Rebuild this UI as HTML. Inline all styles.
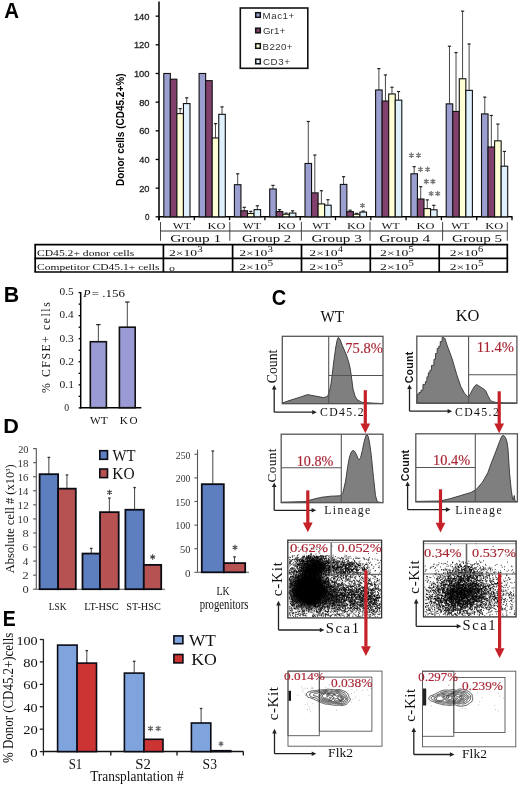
<!DOCTYPE html>
<html><head><meta charset="utf-8"><style>
html,body{margin:0;padding:0;background:#fff;}
svg{display:block;}
#w{will-change:transform;width:520px;height:788px;}
</style></head><body><div id="w">
<svg width="520" height="788" viewBox="0 0 520 788">
<defs><filter id="blur3" x="-50%" y="-50%" width="200%" height="200%"><feGaussianBlur stdDeviation="3"/></filter><clipPath id="clipwt"><rect x="288.4" y="540.8" width="92.6" height="76.5"/></clipPath><clipPath id="clipko"><rect x="424.1" y="541.7" width="91.4" height="74.6"/></clipPath></defs>
<rect width="520" height="788" fill="#fff"/>
<text x="4.29" y="17.9" font-size="21.3" font-family='"Liberation Sans", sans-serif' textLength="14.77" lengthAdjust="spacingAndGlyphs" font-weight="bold">A</text>
<line x1="159" y1="1.5" x2="159" y2="220.2" stroke="#000" stroke-width="1.5"/>
<line x1="155.6" y1="216.8" x2="159" y2="216.8" stroke="#000" stroke-width="1.3"/>
<text x="144.98" y="220.3" font-size="9.71" font-family='"Liberation Sans", sans-serif' textLength="4.45" lengthAdjust="spacingAndGlyphs" fill="#222" stroke="#222" stroke-width="0.3">0</text>
<line x1="155.6" y1="188.14" x2="159" y2="188.14" stroke="#000" stroke-width="1.3"/>
<text x="139.13" y="191.64" font-size="9.71" font-family='"Liberation Sans", sans-serif' textLength="10.36" lengthAdjust="spacingAndGlyphs" fill="#222" stroke="#222" stroke-width="0.3">20</text>
<line x1="155.6" y1="159.47" x2="159" y2="159.47" stroke="#000" stroke-width="1.3"/>
<text x="139.37" y="162.97" font-size="9.71" font-family='"Liberation Sans", sans-serif' textLength="10.11" lengthAdjust="spacingAndGlyphs" fill="#222" stroke="#222" stroke-width="0.3">40</text>
<line x1="155.6" y1="130.81" x2="159" y2="130.81" stroke="#000" stroke-width="1.3"/>
<text x="139.13" y="134.31" font-size="9.71" font-family='"Liberation Sans", sans-serif' textLength="10.36" lengthAdjust="spacingAndGlyphs" fill="#222" stroke="#222" stroke-width="0.3">60</text>
<line x1="155.6" y1="102.14" x2="159" y2="102.14" stroke="#000" stroke-width="1.3"/>
<text x="139.18" y="105.64" font-size="9.71" font-family='"Liberation Sans", sans-serif' textLength="10.31" lengthAdjust="spacingAndGlyphs" fill="#222" stroke="#222" stroke-width="0.3">80</text>
<line x1="155.6" y1="73.48" x2="159" y2="73.48" stroke="#000" stroke-width="1.3"/>
<text x="133.9" y="76.98" font-size="9.71" font-family='"Liberation Sans", sans-serif' textLength="15.61" lengthAdjust="spacingAndGlyphs" fill="#222" stroke="#222" stroke-width="0.3">100</text>
<line x1="155.6" y1="44.82" x2="159" y2="44.82" stroke="#000" stroke-width="1.3"/>
<text x="133.9" y="48.32" font-size="9.71" font-family='"Liberation Sans", sans-serif' textLength="15.61" lengthAdjust="spacingAndGlyphs" fill="#222" stroke="#222" stroke-width="0.3">120</text>
<line x1="155.6" y1="16.15" x2="159" y2="16.15" stroke="#000" stroke-width="1.3"/>
<text x="133.9" y="19.65" font-size="9.71" font-family='"Liberation Sans", sans-serif' textLength="15.61" lengthAdjust="spacingAndGlyphs" fill="#222" stroke="#222" stroke-width="0.3">140</text>
<line x1="159" y1="216.8" x2="512.5" y2="216.8" stroke="#000" stroke-width="1.5"/>
<line x1="159" y1="216.8" x2="159" y2="220.2" stroke="#000" stroke-width="1.3"/>
<line x1="194.3" y1="216.8" x2="194.3" y2="220.2" stroke="#000" stroke-width="1.3"/>
<line x1="229.6" y1="216.8" x2="229.6" y2="220.2" stroke="#000" stroke-width="1.3"/>
<line x1="264.9" y1="216.8" x2="264.9" y2="220.2" stroke="#000" stroke-width="1.3"/>
<line x1="300.2" y1="216.8" x2="300.2" y2="220.2" stroke="#000" stroke-width="1.3"/>
<line x1="335.5" y1="216.8" x2="335.5" y2="220.2" stroke="#000" stroke-width="1.3"/>
<line x1="370.8" y1="216.8" x2="370.8" y2="220.2" stroke="#000" stroke-width="1.3"/>
<line x1="406.1" y1="216.8" x2="406.1" y2="220.2" stroke="#000" stroke-width="1.3"/>
<line x1="441.4" y1="216.8" x2="441.4" y2="220.2" stroke="#000" stroke-width="1.3"/>
<line x1="476.7" y1="216.8" x2="476.7" y2="220.2" stroke="#000" stroke-width="1.3"/>
<line x1="512" y1="216.8" x2="512" y2="220.2" stroke="#000" stroke-width="1.3"/>
<rect x="163.8" y="73.48" width="6.55" height="143.32" fill="#9a9fcf" stroke="#111" stroke-width="1.1"/>
<rect x="170.35" y="79.21" width="6.55" height="137.59" fill="#82406c" stroke="#111" stroke-width="1.1"/>
<line x1="180.18" y1="113.61" x2="180.18" y2="108.59" stroke="#333" stroke-width="0.9"/>
<line x1="178.58" y1="108.59" x2="181.78" y2="108.59" stroke="#222" stroke-width="1.2"/>
<rect x="176.9" y="113.61" width="6.55" height="103.19" fill="#ffffd6" stroke="#111" stroke-width="1.1"/>
<line x1="186.73" y1="103.58" x2="186.73" y2="97.84" stroke="#333" stroke-width="0.9"/>
<line x1="185.13" y1="97.84" x2="188.33" y2="97.84" stroke="#222" stroke-width="1.2"/>
<rect x="183.45" y="103.58" width="6.55" height="113.22" fill="#def0fc" stroke="#111" stroke-width="1.1"/>
<rect x="199.1" y="73.48" width="6.55" height="143.32" fill="#9a9fcf" stroke="#111" stroke-width="1.1"/>
<rect x="205.65" y="80.65" width="6.55" height="136.15" fill="#82406c" stroke="#111" stroke-width="1.1"/>
<line x1="215.48" y1="137.97" x2="215.48" y2="123.64" stroke="#333" stroke-width="0.9"/>
<line x1="213.88" y1="123.64" x2="217.08" y2="123.64" stroke="#222" stroke-width="1.2"/>
<rect x="212.2" y="137.97" width="6.55" height="78.83" fill="#ffffd6" stroke="#111" stroke-width="1.1"/>
<line x1="222.03" y1="114.33" x2="222.03" y2="106.87" stroke="#333" stroke-width="0.9"/>
<line x1="220.43" y1="106.87" x2="223.63" y2="106.87" stroke="#222" stroke-width="1.2"/>
<rect x="218.75" y="114.33" width="6.55" height="102.47" fill="#def0fc" stroke="#111" stroke-width="1.1"/>
<line x1="237.68" y1="184.7" x2="237.68" y2="173.8" stroke="#333" stroke-width="0.9"/>
<line x1="236.08" y1="173.8" x2="239.28" y2="173.8" stroke="#222" stroke-width="1.2"/>
<rect x="234.4" y="184.7" width="6.55" height="32.1" fill="#9a9fcf" stroke="#111" stroke-width="1.1"/>
<line x1="244.23" y1="210.78" x2="244.23" y2="207.34" stroke="#333" stroke-width="0.9"/>
<line x1="242.63" y1="207.34" x2="245.83" y2="207.34" stroke="#222" stroke-width="1.2"/>
<rect x="240.95" y="210.78" width="6.55" height="6.02" fill="#82406c" stroke="#111" stroke-width="1.1"/>
<line x1="250.78" y1="213.5" x2="250.78" y2="211.35" stroke="#333" stroke-width="0.9"/>
<line x1="249.18" y1="211.35" x2="252.38" y2="211.35" stroke="#222" stroke-width="1.2"/>
<rect x="247.5" y="213.5" width="6.55" height="3.3" fill="#ffffd6" stroke="#111" stroke-width="1.1"/>
<line x1="257.32" y1="209.63" x2="257.32" y2="205.76" stroke="#333" stroke-width="0.9"/>
<line x1="255.72" y1="205.76" x2="258.93" y2="205.76" stroke="#222" stroke-width="1.2"/>
<rect x="254.05" y="209.63" width="6.55" height="7.17" fill="#def0fc" stroke="#111" stroke-width="1.1"/>
<line x1="272.97" y1="189" x2="272.97" y2="185.41" stroke="#333" stroke-width="0.9"/>
<line x1="271.37" y1="185.41" x2="274.57" y2="185.41" stroke="#222" stroke-width="1.2"/>
<rect x="269.7" y="189" width="6.55" height="27.8" fill="#9a9fcf" stroke="#111" stroke-width="1.1"/>
<line x1="279.52" y1="211.5" x2="279.52" y2="209.63" stroke="#333" stroke-width="0.9"/>
<line x1="277.92" y1="209.63" x2="281.12" y2="209.63" stroke="#222" stroke-width="1.2"/>
<rect x="276.25" y="211.5" width="6.55" height="5.3" fill="#82406c" stroke="#111" stroke-width="1.1"/>
<line x1="286.07" y1="214.22" x2="286.07" y2="213.07" stroke="#333" stroke-width="0.9"/>
<line x1="284.47" y1="213.07" x2="287.68" y2="213.07" stroke="#222" stroke-width="1.2"/>
<rect x="282.8" y="214.22" width="6.55" height="2.58" fill="#ffffd6" stroke="#111" stroke-width="1.1"/>
<line x1="292.62" y1="213.07" x2="292.62" y2="210.78" stroke="#333" stroke-width="0.9"/>
<line x1="291.02" y1="210.78" x2="294.22" y2="210.78" stroke="#222" stroke-width="1.2"/>
<rect x="289.35" y="213.07" width="6.55" height="3.73" fill="#def0fc" stroke="#111" stroke-width="1.1"/>
<line x1="308.27" y1="163.48" x2="308.27" y2="121.49" stroke="#333" stroke-width="0.9"/>
<line x1="306.67" y1="121.49" x2="309.88" y2="121.49" stroke="#222" stroke-width="1.2"/>
<rect x="305" y="163.48" width="6.55" height="53.32" fill="#9a9fcf" stroke="#111" stroke-width="1.1"/>
<line x1="314.82" y1="192.87" x2="314.82" y2="155.03" stroke="#333" stroke-width="0.9"/>
<line x1="313.22" y1="155.03" x2="316.43" y2="155.03" stroke="#222" stroke-width="1.2"/>
<rect x="311.55" y="192.87" width="6.55" height="23.93" fill="#82406c" stroke="#111" stroke-width="1.1"/>
<line x1="321.38" y1="203.9" x2="321.38" y2="190.72" stroke="#333" stroke-width="0.9"/>
<line x1="319.77" y1="190.72" x2="322.98" y2="190.72" stroke="#222" stroke-width="1.2"/>
<rect x="318.1" y="203.9" width="6.55" height="12.9" fill="#ffffd6" stroke="#111" stroke-width="1.1"/>
<line x1="327.92" y1="205.19" x2="327.92" y2="199.74" stroke="#333" stroke-width="0.9"/>
<line x1="326.32" y1="199.74" x2="329.52" y2="199.74" stroke="#222" stroke-width="1.2"/>
<rect x="324.65" y="205.19" width="6.55" height="11.61" fill="#def0fc" stroke="#111" stroke-width="1.1"/>
<line x1="343.57" y1="184.41" x2="343.57" y2="176.67" stroke="#333" stroke-width="0.9"/>
<line x1="341.97" y1="176.67" x2="345.18" y2="176.67" stroke="#222" stroke-width="1.2"/>
<rect x="340.3" y="184.41" width="6.55" height="32.39" fill="#9a9fcf" stroke="#111" stroke-width="1.1"/>
<line x1="350.12" y1="211.64" x2="350.12" y2="210.21" stroke="#333" stroke-width="0.9"/>
<line x1="348.52" y1="210.21" x2="351.73" y2="210.21" stroke="#222" stroke-width="1.2"/>
<rect x="346.85" y="211.64" width="6.55" height="5.16" fill="#82406c" stroke="#111" stroke-width="1.1"/>
<line x1="356.68" y1="214.22" x2="356.68" y2="213.36" stroke="#333" stroke-width="0.9"/>
<line x1="355.07" y1="213.36" x2="358.28" y2="213.36" stroke="#222" stroke-width="1.2"/>
<rect x="353.4" y="214.22" width="6.55" height="2.58" fill="#ffffd6" stroke="#111" stroke-width="1.1"/>
<line x1="363.22" y1="212.07" x2="363.22" y2="211.07" stroke="#333" stroke-width="0.9"/>
<line x1="361.62" y1="211.07" x2="364.82" y2="211.07" stroke="#222" stroke-width="1.2"/>
<rect x="359.95" y="212.07" width="6.55" height="4.73" fill="#def0fc" stroke="#111" stroke-width="1.1"/>
<line x1="378.88" y1="89.96" x2="378.88" y2="68.61" stroke="#333" stroke-width="0.9"/>
<line x1="377.27" y1="68.61" x2="380.48" y2="68.61" stroke="#222" stroke-width="1.2"/>
<rect x="375.6" y="89.96" width="6.55" height="126.84" fill="#9a9fcf" stroke="#111" stroke-width="1.1"/>
<line x1="385.43" y1="101" x2="385.43" y2="74.91" stroke="#333" stroke-width="0.9"/>
<line x1="383.82" y1="74.91" x2="387.03" y2="74.91" stroke="#222" stroke-width="1.2"/>
<rect x="382.15" y="101" width="6.55" height="115.8" fill="#82406c" stroke="#111" stroke-width="1.1"/>
<line x1="391.98" y1="93.97" x2="391.98" y2="87.24" stroke="#333" stroke-width="0.9"/>
<line x1="390.38" y1="87.24" x2="393.58" y2="87.24" stroke="#222" stroke-width="1.2"/>
<rect x="388.7" y="93.97" width="6.55" height="122.83" fill="#ffffd6" stroke="#111" stroke-width="1.1"/>
<line x1="398.52" y1="100.14" x2="398.52" y2="91.54" stroke="#333" stroke-width="0.9"/>
<line x1="396.92" y1="91.54" x2="400.12" y2="91.54" stroke="#222" stroke-width="1.2"/>
<rect x="395.25" y="100.14" width="6.55" height="116.66" fill="#def0fc" stroke="#111" stroke-width="1.1"/>
<line x1="414.17" y1="173.8" x2="414.17" y2="166.64" stroke="#333" stroke-width="0.9"/>
<line x1="412.57" y1="166.64" x2="415.77" y2="166.64" stroke="#222" stroke-width="1.2"/>
<rect x="410.9" y="173.8" width="6.55" height="43" fill="#9a9fcf" stroke="#111" stroke-width="1.1"/>
<line x1="420.72" y1="199.03" x2="420.72" y2="186.7" stroke="#333" stroke-width="0.9"/>
<line x1="419.12" y1="186.7" x2="422.32" y2="186.7" stroke="#222" stroke-width="1.2"/>
<rect x="417.45" y="199.03" width="6.55" height="17.77" fill="#82406c" stroke="#111" stroke-width="1.1"/>
<line x1="427.27" y1="208.63" x2="427.27" y2="199.89" stroke="#333" stroke-width="0.9"/>
<line x1="425.67" y1="199.89" x2="428.88" y2="199.89" stroke="#222" stroke-width="1.2"/>
<rect x="424" y="208.63" width="6.55" height="8.17" fill="#ffffd6" stroke="#111" stroke-width="1.1"/>
<line x1="433.82" y1="209.78" x2="433.82" y2="205.33" stroke="#333" stroke-width="0.9"/>
<line x1="432.22" y1="205.33" x2="435.42" y2="205.33" stroke="#222" stroke-width="1.2"/>
<rect x="430.55" y="209.78" width="6.55" height="7.02" fill="#def0fc" stroke="#111" stroke-width="1.1"/>
<line x1="449.47" y1="103.86" x2="449.47" y2="46.25" stroke="#333" stroke-width="0.9"/>
<line x1="447.87" y1="46.25" x2="451.07" y2="46.25" stroke="#222" stroke-width="1.2"/>
<rect x="446.2" y="103.86" width="6.55" height="112.94" fill="#9a9fcf" stroke="#111" stroke-width="1.1"/>
<line x1="456.02" y1="111.46" x2="456.02" y2="52.56" stroke="#333" stroke-width="0.9"/>
<line x1="454.42" y1="52.56" x2="457.62" y2="52.56" stroke="#222" stroke-width="1.2"/>
<rect x="452.75" y="111.46" width="6.55" height="105.34" fill="#82406c" stroke="#111" stroke-width="1.1"/>
<line x1="462.57" y1="78.78" x2="462.57" y2="11.14" stroke="#333" stroke-width="0.9"/>
<line x1="460.97" y1="11.14" x2="464.18" y2="11.14" stroke="#222" stroke-width="1.2"/>
<rect x="459.3" y="78.78" width="6.55" height="138.02" fill="#ffffd6" stroke="#111" stroke-width="1.1"/>
<line x1="469.12" y1="90.39" x2="469.12" y2="43.96" stroke="#333" stroke-width="0.9"/>
<line x1="467.52" y1="43.96" x2="470.72" y2="43.96" stroke="#222" stroke-width="1.2"/>
<rect x="465.85" y="90.39" width="6.55" height="126.41" fill="#def0fc" stroke="#111" stroke-width="1.1"/>
<line x1="484.77" y1="113.9" x2="484.77" y2="97.13" stroke="#333" stroke-width="0.9"/>
<line x1="483.17" y1="97.13" x2="486.38" y2="97.13" stroke="#222" stroke-width="1.2"/>
<rect x="481.5" y="113.9" width="6.55" height="102.9" fill="#9a9fcf" stroke="#111" stroke-width="1.1"/>
<line x1="491.32" y1="147" x2="491.32" y2="115.47" stroke="#333" stroke-width="0.9"/>
<line x1="489.72" y1="115.47" x2="492.93" y2="115.47" stroke="#222" stroke-width="1.2"/>
<rect x="488.05" y="147" width="6.55" height="69.8" fill="#82406c" stroke="#111" stroke-width="1.1"/>
<line x1="497.88" y1="140.84" x2="497.88" y2="124.07" stroke="#333" stroke-width="0.9"/>
<line x1="496.27" y1="124.07" x2="499.48" y2="124.07" stroke="#222" stroke-width="1.2"/>
<rect x="494.6" y="140.84" width="6.55" height="75.96" fill="#ffffd6" stroke="#111" stroke-width="1.1"/>
<line x1="504.42" y1="166.21" x2="504.42" y2="151.45" stroke="#333" stroke-width="0.9"/>
<line x1="502.82" y1="151.45" x2="506.02" y2="151.45" stroke="#222" stroke-width="1.2"/>
<rect x="501.15" y="166.21" width="6.55" height="50.59" fill="#def0fc" stroke="#111" stroke-width="1.1"/>
<path d="M362.5 202.9L362.5 208.1M360.25 204.2L364.75 206.8M364.75 204.2L360.25 206.8" stroke="#777" stroke-width="1.25" fill="none"/>
<path d="M411.4 152.6L411.4 158M409.06 153.95L413.74 156.65M413.74 153.95L409.06 156.65" stroke="#777" stroke-width="1.25" fill="none"/>
<path d="M418.5 152.6L418.5 158M416.16 153.95L420.84 156.65M420.84 153.95L416.16 156.65" stroke="#777" stroke-width="1.25" fill="none"/>
<path d="M420.5 166.6L420.5 172M418.16 167.95L422.84 170.65M422.84 167.95L418.16 170.65" stroke="#777" stroke-width="1.25" fill="none"/>
<path d="M427.6 166.6L427.6 172M425.26 167.95L429.94 170.65M429.94 167.95L425.26 170.65" stroke="#777" stroke-width="1.25" fill="none"/>
<path d="M426.3 178.8L426.3 184.2M423.96 180.15L428.64 182.85M428.64 180.15L423.96 182.85" stroke="#777" stroke-width="1.25" fill="none"/>
<path d="M432.9 178.8L432.9 184.2M430.56 180.15L435.24 182.85M435.24 180.15L430.56 182.85" stroke="#777" stroke-width="1.25" fill="none"/>
<path d="M431.1 190.9L431.1 196.3M428.76 192.25L433.44 194.95M433.44 192.25L428.76 194.95" stroke="#777" stroke-width="1.25" fill="none"/>
<path d="M437.7 190.9L437.7 196.3M435.36 192.25L440.04 194.95M440.04 192.25L435.36 194.95" stroke="#777" stroke-width="1.25" fill="none"/>
<rect x="240.3" y="8" width="67.5" height="60.3" fill="#fff" stroke="#111" stroke-width="1.6"/>
<rect x="255.7" y="12.7" width="4.6" height="4.6" fill="#9a9fcf" stroke="#111" stroke-width="1.5"/>
<text x="262.62" y="18.9" font-size="9.71" font-family='"Liberation Sans", sans-serif' textLength="31.47" lengthAdjust="spacing" fill="#333">Mac1+</text>
<rect x="255.7" y="28.2" width="4.6" height="4.6" fill="#82406c" stroke="#111" stroke-width="1.5"/>
<text x="262.91" y="34.4" font-size="9.71" font-family='"Liberation Sans", sans-serif' textLength="22.29" lengthAdjust="spacing" fill="#333">Gr1+</text>
<rect x="255.7" y="43.7" width="4.6" height="4.6" fill="#ffffd6" stroke="#111" stroke-width="1.5"/>
<text x="262.62" y="49.9" font-size="9.71" font-family='"Liberation Sans", sans-serif' textLength="29.86" lengthAdjust="spacing" fill="#333">B220+</text>
<rect x="255.7" y="59.2" width="4.6" height="4.6" fill="#def0fc" stroke="#111" stroke-width="1.5"/>
<text x="262.91" y="65.4" font-size="9.71" font-family='"Liberation Sans", sans-serif' textLength="26.92" lengthAdjust="spacing" fill="#333">CD3+</text>
<text x="124.1" y="186.05" font-size="10.76" font-family='"Liberation Sans", sans-serif' textLength="112.54" lengthAdjust="spacingAndGlyphs" font-weight="bold" transform="rotate(-90 124.1 186.05)">Donor cells (CD45.2+%)</text>
<line x1="160.5" y1="222" x2="160.5" y2="240.8" stroke="#333" stroke-width="0.9"/>
<line x1="229.8" y1="222" x2="229.8" y2="240.8" stroke="#333" stroke-width="0.9"/>
<line x1="301.4" y1="222" x2="301.4" y2="240.8" stroke="#333" stroke-width="0.9"/>
<line x1="370" y1="222" x2="370" y2="240.8" stroke="#333" stroke-width="0.9"/>
<line x1="442.6" y1="222" x2="442.6" y2="240.8" stroke="#333" stroke-width="0.9"/>
<line x1="507.3" y1="222" x2="507.3" y2="240.8" stroke="#333" stroke-width="0.9"/>
<line x1="160.5" y1="231" x2="507.3" y2="231" stroke="#333" stroke-width="1.0"/>
<text x="172.7" y="228.8" font-size="8.09" font-family='"Liberation Serif", serif' textLength="18.17" lengthAdjust="spacingAndGlyphs" fill="#111">WT</text>
<text x="207.63" y="228.8" font-size="8.03" font-family='"Liberation Serif", serif' textLength="17.92" lengthAdjust="spacingAndGlyphs" fill="#111">KO</text>
<text x="170.38" y="241.5" font-size="11.06" font-family='"Liberation Serif", serif' textLength="50.94" lengthAdjust="spacingAndGlyphs" fill="#111">Group 1</text>
<text x="242.7" y="228.8" font-size="8.09" font-family='"Liberation Serif", serif' textLength="18.17" lengthAdjust="spacingAndGlyphs" fill="#111">WT</text>
<text x="277.63" y="228.8" font-size="8.03" font-family='"Liberation Serif", serif' textLength="17.92" lengthAdjust="spacingAndGlyphs" fill="#111">KO</text>
<text x="242.11" y="241.5" font-size="11.06" font-family='"Liberation Serif", serif' textLength="49.12" lengthAdjust="spacingAndGlyphs" fill="#111">Group 2</text>
<text x="312.2" y="228.8" font-size="8.09" font-family='"Liberation Serif", serif' textLength="18.17" lengthAdjust="spacingAndGlyphs" fill="#111">WT</text>
<text x="347.13" y="228.8" font-size="8.03" font-family='"Liberation Serif", serif' textLength="17.92" lengthAdjust="spacingAndGlyphs" fill="#111">KO</text>
<text x="311.59" y="241.5" font-size="11.06" font-family='"Liberation Serif", serif' textLength="50.22" lengthAdjust="spacingAndGlyphs" fill="#111">Group 3</text>
<text x="381.5" y="228.8" font-size="8.09" font-family='"Liberation Serif", serif' textLength="18.17" lengthAdjust="spacingAndGlyphs" fill="#111">WT</text>
<text x="416.43" y="228.8" font-size="8.03" font-family='"Liberation Serif", serif' textLength="17.92" lengthAdjust="spacingAndGlyphs" fill="#111">KO</text>
<text x="379.28" y="241.5" font-size="11.06" font-family='"Liberation Serif", serif' textLength="50.85" lengthAdjust="spacingAndGlyphs" fill="#111">Group 4</text>
<text x="451.2" y="228.8" font-size="8.09" font-family='"Liberation Serif", serif' textLength="18.17" lengthAdjust="spacingAndGlyphs" fill="#111">WT</text>
<text x="485.33" y="228.8" font-size="8.03" font-family='"Liberation Serif", serif' textLength="17.92" lengthAdjust="spacingAndGlyphs" fill="#111">KO</text>
<text x="451.99" y="241.5" font-size="11.06" font-family='"Liberation Serif", serif' textLength="50.12" lengthAdjust="spacingAndGlyphs" fill="#111">Group 5</text>
<line x1="35.2" y1="244.6" x2="35.2" y2="272" stroke="#000" stroke-width="1.7"/>
<line x1="163.4" y1="244.6" x2="163.4" y2="272" stroke="#000" stroke-width="1.7"/>
<line x1="232.6" y1="244.6" x2="232.6" y2="272" stroke="#000" stroke-width="1.7"/>
<line x1="301.5" y1="244.6" x2="301.5" y2="272" stroke="#000" stroke-width="1.7"/>
<line x1="370.3" y1="244.6" x2="370.3" y2="272" stroke="#000" stroke-width="1.7"/>
<line x1="439.2" y1="244.6" x2="439.2" y2="272" stroke="#000" stroke-width="1.7"/>
<line x1="507.3" y1="244.6" x2="507.3" y2="272" stroke="#000" stroke-width="1.7"/>
<line x1="34.35" y1="244.6" x2="508.15" y2="244.6" stroke="#000" stroke-width="1.7"/>
<line x1="34.35" y1="258.3" x2="508.15" y2="258.3" stroke="#000" stroke-width="1.7"/>
<line x1="34.35" y1="272" x2="508.15" y2="272" stroke="#000" stroke-width="1.7"/>
<text x="36.94" y="255.7" font-size="8.2" font-family='"Liberation Serif", serif' textLength="97.26" lengthAdjust="spacingAndGlyphs" fill="#111">CD45.2+ donor cells</text>
<text x="36.94" y="270" font-size="8.35" font-family='"Liberation Serif", serif' textLength="122.48" lengthAdjust="spacingAndGlyphs" fill="#111">Competitor CD45.1+ cells</text>
<text x="168.99" y="256.2" font-size="8.42" font-family='"Liberation Serif", serif' textLength="28.15" lengthAdjust="spacingAndGlyphs" fill="#111">2×10</text>
<text x="197.35" y="251.7" font-size="8.03" font-family='"Liberation Serif", serif' textLength="5.49" lengthAdjust="spacingAndGlyphs" fill="#111">3</text>
<text x="169.12" y="270.8" font-size="8.94" font-family='"Liberation Serif", serif' textLength="5.95" lengthAdjust="spacingAndGlyphs" fill="#111">o</text>
<text x="239.19" y="256.2" font-size="8.42" font-family='"Liberation Serif", serif' textLength="28.15" lengthAdjust="spacingAndGlyphs" fill="#111">2×10</text>
<text x="267.55" y="251.7" font-size="8.03" font-family='"Liberation Serif", serif' textLength="5.49" lengthAdjust="spacingAndGlyphs" fill="#111">3</text>
<text x="239.19" y="270.3" font-size="8.72" font-family='"Liberation Serif", serif' textLength="28.15" lengthAdjust="spacingAndGlyphs" fill="#111">2×10</text>
<text x="267.42" y="265.9" font-size="8.24" font-family='"Liberation Serif", serif' textLength="5.63" lengthAdjust="spacingAndGlyphs" fill="#111">5</text>
<text x="309.39" y="256.2" font-size="8.42" font-family='"Liberation Serif", serif' textLength="28.15" lengthAdjust="spacingAndGlyphs" fill="#111">2×10</text>
<text x="338.11" y="251.7" font-size="8.03" font-family='"Liberation Serif", serif' textLength="4.84" lengthAdjust="spacingAndGlyphs" fill="#111">4</text>
<text x="309.39" y="270.3" font-size="8.72" font-family='"Liberation Serif", serif' textLength="28.15" lengthAdjust="spacingAndGlyphs" fill="#111">2×10</text>
<text x="337.62" y="265.9" font-size="8.24" font-family='"Liberation Serif", serif' textLength="5.63" lengthAdjust="spacingAndGlyphs" fill="#111">5</text>
<text x="380.09" y="256.2" font-size="8.42" font-family='"Liberation Serif", serif' textLength="28.15" lengthAdjust="spacingAndGlyphs" fill="#111">2×10</text>
<text x="408.32" y="251.7" font-size="8.09" font-family='"Liberation Serif", serif' textLength="5.62" lengthAdjust="spacingAndGlyphs" fill="#111">5</text>
<text x="380.09" y="270.3" font-size="8.72" font-family='"Liberation Serif", serif' textLength="28.15" lengthAdjust="spacingAndGlyphs" fill="#111">2×10</text>
<text x="408.32" y="265.9" font-size="8.24" font-family='"Liberation Serif", serif' textLength="5.63" lengthAdjust="spacingAndGlyphs" fill="#111">5</text>
<text x="449.69" y="256.2" font-size="8.42" font-family='"Liberation Serif", serif' textLength="28.15" lengthAdjust="spacingAndGlyphs" fill="#111">2×10</text>
<text x="478.12" y="251.7" font-size="8.03" font-family='"Liberation Serif", serif' textLength="5.29" lengthAdjust="spacingAndGlyphs" fill="#111">6</text>
<text x="449.69" y="270.3" font-size="8.72" font-family='"Liberation Serif", serif' textLength="28.15" lengthAdjust="spacingAndGlyphs" fill="#111">2×10</text>
<text x="477.92" y="265.9" font-size="8.24" font-family='"Liberation Serif", serif' textLength="5.63" lengthAdjust="spacingAndGlyphs" fill="#111">5</text>
<text x="3.81" y="301.7" font-size="21.45" font-family='"Liberation Sans", sans-serif' textLength="15.39" lengthAdjust="spacingAndGlyphs" font-weight="bold">B</text>
<line x1="80.7" y1="292" x2="80.7" y2="408.4" stroke="#000" stroke-width="1.5"/>
<line x1="78.6" y1="407.9" x2="80.7" y2="407.9" stroke="#000" stroke-width="1.3"/>
<line x1="78.6" y1="396.37" x2="80.7" y2="396.37" stroke="#000" stroke-width="1.3"/>
<line x1="78.6" y1="384.84" x2="80.7" y2="384.84" stroke="#000" stroke-width="1.3"/>
<line x1="78.6" y1="373.31" x2="80.7" y2="373.31" stroke="#000" stroke-width="1.3"/>
<line x1="78.6" y1="361.78" x2="80.7" y2="361.78" stroke="#000" stroke-width="1.3"/>
<line x1="78.6" y1="350.25" x2="80.7" y2="350.25" stroke="#000" stroke-width="1.3"/>
<line x1="78.6" y1="338.72" x2="80.7" y2="338.72" stroke="#000" stroke-width="1.3"/>
<line x1="78.6" y1="327.19" x2="80.7" y2="327.19" stroke="#000" stroke-width="1.3"/>
<line x1="78.6" y1="315.66" x2="80.7" y2="315.66" stroke="#000" stroke-width="1.3"/>
<line x1="78.6" y1="304.13" x2="80.7" y2="304.13" stroke="#000" stroke-width="1.3"/>
<line x1="78.6" y1="292.6" x2="80.7" y2="292.6" stroke="#000" stroke-width="1.3"/>
<text x="59.55" y="295.4" font-size="10.38" font-family='"Liberation Serif", serif' textLength="14.21" lengthAdjust="spacingAndGlyphs" fill="#222">0.5</text>
<text x="59.55" y="318.46" font-size="10.38" font-family='"Liberation Serif", serif' textLength="13.91" lengthAdjust="spacingAndGlyphs" fill="#222">0.4</text>
<text x="59.55" y="341.52" font-size="10.38" font-family='"Liberation Serif", serif' textLength="14.21" lengthAdjust="spacingAndGlyphs" fill="#222">0.3</text>
<text x="59.54" y="364.58" font-size="10.38" font-family='"Liberation Serif", serif' textLength="14.39" lengthAdjust="spacingAndGlyphs" fill="#222">0.2</text>
<text x="59.54" y="387.64" font-size="10.38" font-family='"Liberation Serif", serif' textLength="14.46" lengthAdjust="spacingAndGlyphs" fill="#222">0.1</text>
<text x="64.31" y="411" font-size="10.23" font-family='"Liberation Serif", serif' textLength="4.88" lengthAdjust="spacingAndGlyphs" fill="#222">0</text>
<line x1="80" y1="407.7" x2="141.3" y2="407.7" stroke="#000" stroke-width="1.6"/>
<line x1="98.35" y1="341.72" x2="98.35" y2="324.65" stroke="#333" stroke-width="0.9"/>
<line x1="96.15" y1="324.65" x2="100.55" y2="324.65" stroke="#222" stroke-width="1.2"/>
<rect x="90.3" y="341.72" width="16.1" height="65.98" fill="#9a9ad4" stroke="#111" stroke-width="1.6"/>
<line x1="127.3" y1="327.19" x2="127.3" y2="302.05" stroke="#333" stroke-width="0.9"/>
<line x1="125.1" y1="302.05" x2="129.5" y2="302.05" stroke="#222" stroke-width="1.2"/>
<rect x="119.4" y="327.19" width="15.8" height="80.51" fill="#9a9ad4" stroke="#111" stroke-width="1.6"/>
<text x="90" y="423.7" font-size="11.3" font-family='"Liberation Serif", serif' textLength="17.77" lengthAdjust="spacing" fill="#111">WT</text>
<text x="119.66" y="423.7" font-size="11.21" font-family='"Liberation Serif", serif' textLength="17.87" lengthAdjust="spacing" fill="#111">KO</text>
<text x="83.36" y="297" font-size="10.99" font-family='"Liberation Serif", serif' textLength="7.25" lengthAdjust="spacingAndGlyphs" fill="#111" font-style="italic">P</text>
<text x="91.85" y="297" font-size="10.91" font-family='"Liberation Serif", serif' textLength="33.12" lengthAdjust="spacingAndGlyphs" fill="#111">= .156</text>
<text x="49.6" y="392.91" font-size="11.8" font-family='"Liberation Serif", serif' textLength="90.64" lengthAdjust="spacing" fill="#111" transform="rotate(-90 49.6 392.91)">% CFSE+ cells</text>
<text x="3.19" y="433.1" font-size="20.87" font-family='"Liberation Sans", sans-serif' textLength="15.62" lengthAdjust="spacingAndGlyphs" font-weight="bold">D</text>
<line x1="36.3" y1="448.2" x2="36.3" y2="589.2" stroke="#555" stroke-width="1.1"/>
<line x1="33.1" y1="589.2" x2="36.3" y2="589.2" stroke="#555" stroke-width="1.1"/>
<text x="22.4" y="593.4" font-size="10.98" font-family='"Liberation Serif", serif' textLength="6.19" lengthAdjust="spacingAndGlyphs" fill="#333">0</text>
<line x1="33.1" y1="575.14" x2="36.3" y2="575.14" stroke="#555" stroke-width="1.1"/>
<text x="22.32" y="579.34" font-size="11.06" font-family='"Liberation Serif", serif' textLength="6.5" lengthAdjust="spacingAndGlyphs" fill="#333">2</text>
<line x1="33.1" y1="561.08" x2="36.3" y2="561.08" stroke="#555" stroke-width="1.1"/>
<text x="22.68" y="565.28" font-size="11.06" font-family='"Liberation Serif", serif' textLength="5.59" lengthAdjust="spacingAndGlyphs" fill="#333">4</text>
<line x1="33.1" y1="547.02" x2="36.3" y2="547.02" stroke="#555" stroke-width="1.1"/>
<text x="22.35" y="551.22" font-size="11.06" font-family='"Liberation Serif", serif' textLength="6.12" lengthAdjust="spacingAndGlyphs" fill="#333">6</text>
<line x1="33.1" y1="532.96" x2="36.3" y2="532.96" stroke="#555" stroke-width="1.1"/>
<text x="22.4" y="537.16" font-size="10.98" font-family='"Liberation Serif", serif' textLength="6.19" lengthAdjust="spacingAndGlyphs" fill="#333">8</text>
<line x1="33.1" y1="518.9" x2="36.3" y2="518.9" stroke="#555" stroke-width="1.1"/>
<text x="17.62" y="523.1" font-size="10.98" font-family='"Liberation Serif", serif' textLength="10.92" lengthAdjust="spacingAndGlyphs" fill="#333">10</text>
<line x1="33.1" y1="504.84" x2="36.3" y2="504.84" stroke="#555" stroke-width="1.1"/>
<text x="17.6" y="509.04" font-size="11.06" font-family='"Liberation Serif", serif' textLength="11.11" lengthAdjust="spacingAndGlyphs" fill="#333">12</text>
<line x1="33.1" y1="490.78" x2="36.3" y2="490.78" stroke="#555" stroke-width="1.1"/>
<text x="17.64" y="494.98" font-size="11.06" font-family='"Liberation Serif", serif' textLength="10.61" lengthAdjust="spacingAndGlyphs" fill="#333">14</text>
<line x1="33.1" y1="476.72" x2="36.3" y2="476.72" stroke="#555" stroke-width="1.1"/>
<text x="17.63" y="480.92" font-size="11.06" font-family='"Liberation Serif", serif' textLength="10.8" lengthAdjust="spacingAndGlyphs" fill="#333">16</text>
<line x1="33.1" y1="462.66" x2="36.3" y2="462.66" stroke="#555" stroke-width="1.1"/>
<text x="17.62" y="466.86" font-size="10.98" font-family='"Liberation Serif", serif' textLength="10.92" lengthAdjust="spacingAndGlyphs" fill="#333">18</text>
<line x1="33.1" y1="448.6" x2="36.3" y2="448.6" stroke="#555" stroke-width="1.1"/>
<text x="18.13" y="452.8" font-size="10.98" font-family='"Liberation Serif", serif' textLength="10.38" lengthAdjust="spacingAndGlyphs" fill="#333">20</text>
<line x1="36.3" y1="589.2" x2="165" y2="589.2" stroke="#555" stroke-width="1.1"/>
<line x1="48.85" y1="474.19" x2="48.85" y2="457.39" stroke="#444" stroke-width="1.0"/>
<line x1="47.55" y1="457.39" x2="50.15" y2="457.39" stroke="#333" stroke-width="1.3"/>
<rect x="39.6" y="474.19" width="18.5" height="115.01" fill="#5d7fc0" stroke="#0b0b14" stroke-width="1.8"/>
<line x1="66.95" y1="488.67" x2="66.95" y2="474.96" stroke="#444" stroke-width="1.0"/>
<line x1="65.65" y1="474.96" x2="68.25" y2="474.96" stroke="#333" stroke-width="1.3"/>
<rect x="58.1" y="488.67" width="17.7" height="100.53" fill="#b65352" stroke="#0b0b14" stroke-width="1.8"/>
<line x1="91.25" y1="553.56" x2="91.25" y2="548.43" stroke="#444" stroke-width="1.0"/>
<line x1="89.95" y1="548.43" x2="92.55" y2="548.43" stroke="#333" stroke-width="1.3"/>
<rect x="82.5" y="553.56" width="17.5" height="35.64" fill="#5d7fc0" stroke="#0b0b14" stroke-width="1.8"/>
<line x1="109.35" y1="512.15" x2="109.35" y2="498.09" stroke="#444" stroke-width="1.0"/>
<line x1="108.05" y1="498.09" x2="110.65" y2="498.09" stroke="#333" stroke-width="1.3"/>
<rect x="100" y="512.15" width="18.7" height="77.05" fill="#b65352" stroke="#0b0b14" stroke-width="1.8"/>
<line x1="134.6" y1="509.76" x2="134.6" y2="487.55" stroke="#444" stroke-width="1.0"/>
<line x1="133.3" y1="487.55" x2="135.9" y2="487.55" stroke="#333" stroke-width="1.3"/>
<rect x="125.4" y="509.76" width="18.4" height="79.44" fill="#5d7fc0" stroke="#0b0b14" stroke-width="1.8"/>
<rect x="143.8" y="564.88" width="17.4" height="24.32" fill="#b65352" stroke="#0b0b14" stroke-width="1.8"/>
<path d="M109.5 489.8L109.5 495M107.25 491.1L111.75 493.7M111.75 491.1L107.25 493.7" stroke="#444" stroke-width="1.1" fill="none"/>
<path d="M152.7 554.3L152.7 559.7M150.36 555.65L155.04 558.35M155.04 555.65L150.36 558.35" stroke="#444" stroke-width="1.1" fill="none"/>
<rect x="99.8" y="450.7" width="7.7" height="8.6" fill="#5d7fc0" stroke="#0b0b14" stroke-width="1.6"/>
<rect x="99.8" y="469" width="7.7" height="8.6" fill="#b65352" stroke="#0b0b14" stroke-width="1.6"/>
<text x="112.6" y="461" font-size="16.18" font-family='"Liberation Serif", serif' textLength="23.02" lengthAdjust="spacingAndGlyphs" fill="#111">WT</text>
<text x="112.34" y="478.7" font-size="15.76" font-family='"Liberation Serif", serif' textLength="22.25" lengthAdjust="spacingAndGlyphs" fill="#111">KO</text>
<text x="48.82" y="609.9" font-size="10.91" font-family='"Liberation Serif", serif' textLength="17.71" lengthAdjust="spacingAndGlyphs" fill="#111">LSK</text>
<text x="84.19" y="609.9" font-size="10.91" font-family='"Liberation Serif", serif' textLength="34.5" lengthAdjust="spacingAndGlyphs" fill="#111">LT-HSC</text>
<text x="126.33" y="609.9" font-size="10.91" font-family='"Liberation Serif", serif' textLength="34.47" lengthAdjust="spacingAndGlyphs" fill="#111">ST-HSC</text>
<g transform="translate(13.6 573.1) rotate(-90) scale(1.048 1)"><text x="-0.12" y="0" font-size="11.9" font-family='"Liberation Serif", serif' fill="#111">Absolute cell # (x10<tspan font-size="6.5" dy="-4.1">3</tspan><tspan dy="4.1">)</tspan></text></g>
<line x1="197.5" y1="449.6" x2="197.5" y2="572.3" stroke="#555" stroke-width="1.1"/>
<line x1="194.4" y1="572.3" x2="197.5" y2="572.3" stroke="#555" stroke-width="1.1"/>
<text x="184.96" y="576.5" font-size="10.98" font-family='"Liberation Serif", serif' textLength="5.48" lengthAdjust="spacingAndGlyphs" fill="#333">0</text>
<line x1="194.4" y1="548.7" x2="197.5" y2="548.7" stroke="#555" stroke-width="1.1"/>
<text x="179.97" y="552.9" font-size="10.98" font-family='"Liberation Serif", serif' textLength="10.44" lengthAdjust="spacingAndGlyphs" fill="#333">50</text>
<line x1="194.4" y1="525.1" x2="197.5" y2="525.1" stroke="#555" stroke-width="1.1"/>
<text x="175.29" y="529.3" font-size="10.98" font-family='"Liberation Serif", serif' textLength="15.11" lengthAdjust="spacingAndGlyphs" fill="#333">100</text>
<line x1="194.4" y1="501.5" x2="197.5" y2="501.5" stroke="#555" stroke-width="1.1"/>
<text x="175.29" y="505.7" font-size="10.98" font-family='"Liberation Serif", serif' textLength="15.11" lengthAdjust="spacingAndGlyphs" fill="#333">150</text>
<line x1="194.4" y1="477.9" x2="197.5" y2="477.9" stroke="#555" stroke-width="1.1"/>
<text x="175.76" y="482.1" font-size="10.98" font-family='"Liberation Serif", serif' textLength="14.63" lengthAdjust="spacingAndGlyphs" fill="#333">200</text>
<line x1="194.4" y1="454.3" x2="197.5" y2="454.3" stroke="#555" stroke-width="1.1"/>
<text x="175.76" y="458.5" font-size="10.98" font-family='"Liberation Serif", serif' textLength="14.63" lengthAdjust="spacingAndGlyphs" fill="#333">250</text>
<line x1="197.5" y1="572.3" x2="249" y2="572.3" stroke="#555" stroke-width="1.1"/>
<line x1="212.8" y1="484.18" x2="212.8" y2="451" stroke="#444" stroke-width="1.0"/>
<line x1="211.5" y1="451" x2="214.1" y2="451" stroke="#333" stroke-width="1.3"/>
<rect x="201.8" y="484.18" width="22" height="88.12" fill="#5d7fc0" stroke="#0b0b14" stroke-width="1.8"/>
<line x1="234.5" y1="563.1" x2="234.5" y2="556.87" stroke="#444" stroke-width="1.0"/>
<line x1="233.2" y1="556.87" x2="235.8" y2="556.87" stroke="#333" stroke-width="1.3"/>
<rect x="223.8" y="563.1" width="21.4" height="9.2" fill="#b65352" stroke="#0b0b14" stroke-width="1.8"/>
<path d="M235 544.8L235 550.2M232.66 546.15L237.34 548.85M237.34 546.15L232.66 548.85" stroke="#444" stroke-width="1.1" fill="none"/>
<text x="216.6" y="595.3" font-size="13.28" font-family='"Liberation Serif", serif' textLength="13.12" lengthAdjust="spacingAndGlyphs" fill="#111">LK</text>
<text x="199.64" y="609.1" font-size="14.85" font-family='"Liberation Serif", serif' textLength="48.83" lengthAdjust="spacingAndGlyphs" fill="#111">progenitors</text>
<text x="2.73" y="626" font-size="21.3" font-family='"Liberation Sans", sans-serif' textLength="12.99" lengthAdjust="spacingAndGlyphs" font-weight="bold">E</text>
<line x1="43.4" y1="639.2" x2="43.4" y2="755.6" stroke="#222" stroke-width="1.3"/>
<line x1="39.8" y1="751.6" x2="43.4" y2="751.6" stroke="#222" stroke-width="1.3"/>
<text x="30.31" y="756.7" font-size="12.33" font-family='"Liberation Serif", serif' textLength="7.38" lengthAdjust="spacingAndGlyphs" fill="#111">0</text>
<line x1="39.8" y1="729.18" x2="43.4" y2="729.18" stroke="#222" stroke-width="1.3"/>
<text x="23.15" y="734.28" font-size="12.33" font-family='"Liberation Serif", serif' textLength="14.54" lengthAdjust="spacingAndGlyphs" fill="#111">20</text>
<line x1="39.8" y1="706.76" x2="43.4" y2="706.76" stroke="#222" stroke-width="1.3"/>
<text x="23.52" y="711.86" font-size="12.33" font-family='"Liberation Serif", serif' textLength="14.15" lengthAdjust="spacingAndGlyphs" fill="#111">40</text>
<line x1="39.8" y1="684.34" x2="43.4" y2="684.34" stroke="#222" stroke-width="1.3"/>
<text x="23.15" y="689.44" font-size="12.33" font-family='"Liberation Serif", serif' textLength="14.54" lengthAdjust="spacingAndGlyphs" fill="#111">60</text>
<line x1="39.8" y1="661.92" x2="43.4" y2="661.92" stroke="#222" stroke-width="1.3"/>
<text x="23.22" y="667.02" font-size="12.33" font-family='"Liberation Serif", serif' textLength="14.46" lengthAdjust="spacingAndGlyphs" fill="#111">80</text>
<line x1="39.8" y1="639.5" x2="43.4" y2="639.5" stroke="#222" stroke-width="1.3"/>
<text x="16.43" y="644.6" font-size="12.33" font-family='"Liberation Serif", serif' textLength="21.24" lengthAdjust="spacingAndGlyphs" fill="#111">100</text>
<line x1="43.4" y1="751.6" x2="243.5" y2="751.6" stroke="#111" stroke-width="1.5"/>
<line x1="110.8" y1="751.6" x2="110.8" y2="755.6" stroke="#111" stroke-width="1.3"/>
<line x1="177" y1="751.6" x2="177" y2="755.6" stroke="#111" stroke-width="1.3"/>
<line x1="243.3" y1="751.6" x2="243.3" y2="755.6" stroke="#111" stroke-width="1.3"/>
<rect x="57.6" y="645.1" width="19.5" height="106.5" fill="#7fa3dc" stroke="#0b0b14" stroke-width="1.6"/>
<line x1="86.8" y1="663.1" x2="86.8" y2="650.6" stroke="#444" stroke-width="1.0"/>
<line x1="85.5" y1="650.6" x2="88.1" y2="650.6" stroke="#333" stroke-width="1.3"/>
<rect x="77.1" y="663.1" width="19.4" height="88.5" fill="#cc3434" stroke="#0b0b14" stroke-width="1.6"/>
<line x1="134.2" y1="673.1" x2="134.2" y2="661.3" stroke="#444" stroke-width="1.0"/>
<line x1="132.9" y1="661.3" x2="135.5" y2="661.3" stroke="#333" stroke-width="1.3"/>
<rect x="124.4" y="673.1" width="19.6" height="78.5" fill="#7fa3dc" stroke="#0b0b14" stroke-width="1.6"/>
<rect x="144" y="739.3" width="19" height="12.3" fill="#cc3434" stroke="#0b0b14" stroke-width="1.6"/>
<line x1="201.1" y1="723" x2="201.1" y2="708.5" stroke="#444" stroke-width="1.0"/>
<line x1="199.8" y1="708.5" x2="202.4" y2="708.5" stroke="#333" stroke-width="1.3"/>
<rect x="191.4" y="723" width="19.4" height="28.6" fill="#7fa3dc" stroke="#0b0b14" stroke-width="1.6"/>
<rect x="210.8" y="750.7" width="20" height="0.9" fill="#cc3434" stroke="#0b0b14" stroke-width="1.6"/>
<path d="M150.5 725.7L150.5 731.3M148.08 727.1L152.92 729.9M152.92 727.1L148.08 729.9" stroke="#666" stroke-width="1.2" fill="none"/>
<path d="M158.2 725.7L158.2 731.3M155.78 727.1L160.62 729.9M160.62 727.1L155.78 729.9" stroke="#666" stroke-width="1.2" fill="none"/>
<path d="M221 741.2L221 746.4M218.75 742.5L223.25 745.1M223.25 742.5L218.75 745.1" stroke="#666" stroke-width="1.2" fill="none"/>
<rect x="173.9" y="635.9" width="9" height="7.8" fill="#7fa3dc" stroke="#0b0b14" stroke-width="1.6"/>
<rect x="173.9" y="654.5" width="9" height="8.4" fill="#cc3434" stroke="#0b0b14" stroke-width="1.6"/>
<text x="189" y="646" font-size="17.4" font-family='"Liberation Serif", serif' textLength="26.85" lengthAdjust="spacingAndGlyphs" fill="#111">WT</text>
<text x="191.17" y="664.6" font-size="17.25" font-family='"Liberation Serif", serif' textLength="25.62" lengthAdjust="spacingAndGlyphs" fill="#111">KO</text>
<text x="68.77" y="768.5" font-size="14.5" font-family='"Liberation Serif", serif' textLength="13.51" lengthAdjust="spacingAndGlyphs" fill="#111">S1</text>
<text x="135.24" y="768.5" font-size="14.5" font-family='"Liberation Serif", serif' textLength="15.59" lengthAdjust="spacingAndGlyphs" fill="#111">S2</text>
<text x="202.62" y="768.5" font-size="14.5" font-family='"Liberation Serif", serif' textLength="14.34" lengthAdjust="spacingAndGlyphs" fill="#111">S3</text>
<text x="90.13" y="781.4" font-size="13.59" font-family='"Liberation Serif", serif' textLength="93.44" lengthAdjust="spacingAndGlyphs" fill="#111">Transplantation #</text>
<text x="13" y="762.95" font-size="14.5" font-family='"Liberation Serif", serif' textLength="130.2" lengthAdjust="spacingAndGlyphs" fill="#111" transform="rotate(-90 13 762.95)">% Donor (CD45.2+)cells</text>
<text x="271.7" y="305.1" font-size="21.86" font-family='"Liberation Sans", sans-serif' textLength="14.44" lengthAdjust="spacingAndGlyphs" font-weight="bold">C</text>
<text x="320.5" y="322" font-size="16.41" font-family='"Liberation Serif", serif' textLength="23.47" lengthAdjust="spacingAndGlyphs" fill="#111">WT</text>
<text x="455.76" y="320.75" font-size="15.65" font-family='"Liberation Serif", serif' textLength="23.72" lengthAdjust="spacingAndGlyphs" fill="#111">KO</text>
<path d="M282.3 403.6 L282.3 403 L290 400.3 L300 397.2 L307.5 394.6 L315 396 L323.5 397.6 L327.5 396.5 L329.5 391 L331 384 L332.5 372 L334 359.6 L335.8 347 L337.2 340 L338.3 337.3 L339.8 339 L342.4 345.6 L346.5 355.2 L348.8 362.5 L350.3 369 L351.2 375 L353 389 L355 396 L357 399.5 L362 402.4 L372 403.1 L383 403.6Z" fill="#7f7f7f" stroke="#333" stroke-width="0.9" stroke-linejoin="round"/>
<line x1="328.7" y1="336.3" x2="328.7" y2="403.6" stroke="#555" stroke-width="1.1"/>
<line x1="328.7" y1="375.5" x2="383" y2="375.5" stroke="#555" stroke-width="1.1"/>
<rect x="282.3" y="336.3" width="100.7" height="67.3" fill="none" stroke="#555" stroke-width="1.3"/>
<text x="345.3" y="352.5" font-size="15.04" font-family='"Liberation Serif", serif' textLength="37.68" lengthAdjust="spacingAndGlyphs" fill="#a82432" stroke="#a82432" stroke-width="0.15">75.8%</text>
<line x1="274.2" y1="389" x2="274.2" y2="412.2" stroke="#222" stroke-width="1.3"/>
<line x1="274.2" y1="412.2" x2="312.8" y2="412.2" stroke="#222" stroke-width="1.3"/>
<path d="M271.9 389.6 L274.2 385 L276.5 389.6Z" fill="#222" stroke="none" stroke-width="0"/>
<path d="M312.2 409.9 L316.8 412.2 L312.2 414.5Z" fill="#222" stroke="none" stroke-width="0"/>
<text x="277.3" y="383.15" font-size="13.74" font-family='"Liberation Serif", serif' textLength="33.58" lengthAdjust="spacing" fill="#111" transform="rotate(-90 277.3 383.15)">Count</text>
<text x="320.03" y="416.4" font-size="11.76" font-family='"Liberation Serif", serif' textLength="43.51" lengthAdjust="spacing" fill="#111">CD45.2</text>
<path d="M281.2 502.6 L281.2 502.2 L305 501.6 L314 499 L322 497.2 L331 496.2 L340 495.8 L342.8 493 L345.6 481 L347.7 466.5 L349.5 457 L351.3 452 L353 450.2 L354.8 451.6 L356.4 454.6 L358 458.5 L359.3 459.7 L360.6 457.5 L362.3 450.5 L364.2 441.5 L365.8 436 L366.8 434.4 L368.3 436.6 L369.6 443 L371.3 455.5 L373.4 476.5 L375.5 495.5 L377.2 501.6 L380 502.4 L383 502.6Z" fill="#7f7f7f" stroke="#333" stroke-width="0.9" stroke-linejoin="round"/>
<line x1="341.3" y1="434.2" x2="341.3" y2="502.6" stroke="#555" stroke-width="1.1"/>
<line x1="281.2" y1="467.8" x2="341.3" y2="467.8" stroke="#555" stroke-width="1.1"/>
<rect x="281.2" y="434.2" width="101.8" height="68.4" fill="none" stroke="#555" stroke-width="1.3"/>
<text x="296.72" y="465.7" font-size="13.68" font-family='"Liberation Serif", serif' textLength="36.65" lengthAdjust="spacingAndGlyphs" fill="#a82432" stroke="#a82432" stroke-width="0.15">10.8%</text>
<line x1="274.2" y1="486.5" x2="274.2" y2="510.3" stroke="#222" stroke-width="1.3"/>
<line x1="274.2" y1="510.3" x2="312.2" y2="510.3" stroke="#222" stroke-width="1.3"/>
<path d="M271.9 487.1 L274.2 482.5 L276.5 487.1Z" fill="#222" stroke="none" stroke-width="0"/>
<path d="M311.6 508 L316.2 510.3 L311.6 512.6Z" fill="#222" stroke="none" stroke-width="0"/>
<text x="275.8" y="482.43" font-size="13.28" font-family='"Liberation Serif", serif' textLength="33.96" lengthAdjust="spacing" fill="#111" transform="rotate(-90 275.8 482.43)">Count</text>
<text x="324.25" y="513.7" font-size="11.76" font-family='"Liberation Serif", serif' textLength="46.03" lengthAdjust="spacing" fill="#111">Lineage</text>
<path d="M416.8 403.2 L417.2 394.3 L418.86 394.3 L419 392.5 L420.84 392.5 L421 390.2 L422.84 390.2 L423 384.4 L425.3 384.4 L425.5 381.6 L426.83 381.6 L426.95 376.9 L428.28 376.9 L428.4 372.8 L429.83 372.8 L429.95 370.3 L431.38 370.3 L431.5 365.4 L433.8 365.4 L434 359.2 L435.47 359.2 L435.6 353.5 L437.07 353.5 L437.2 348.4 L438.63 348.4 L438.75 346.2 L440.18 346.2 L440.3 341.6 L442.05 341.6 L442.2 337.4 L443.58 337.4 L443.7 338.4 L444.9 338.4 L447 345 L450.4 354 L452.5 360 L456.7 374.5 L460.8 386.5 L464.5 393.3 L467.2 396.3 L468.6 396.9 L470.5 393.5 L472.6 389.5 L474.5 386.2 L476.4 384.6 L478.5 385.6 L481 387.4 L483.7 389 L485.7 390.8 L487.8 395.5 L490 399.6 L492 401.6 L497 402.6 L505 403 L516.9 403.2Z" fill="#7f7f7f" stroke="#333" stroke-width="0.9" stroke-linejoin="round"/>
<line x1="468.6" y1="336.2" x2="468.6" y2="403.2" stroke="#555" stroke-width="1.1"/>
<line x1="468.6" y1="374.8" x2="516.9" y2="374.8" stroke="#555" stroke-width="1.1"/>
<rect x="416.8" y="336.2" width="100.1" height="67" fill="none" stroke="#555" stroke-width="1.3"/>
<text x="476.69" y="352.4" font-size="14.29" font-family='"Liberation Serif", serif' textLength="37.17" lengthAdjust="spacingAndGlyphs" fill="#a82432" stroke="#a82432" stroke-width="0.15">11.4%</text>
<line x1="409.5" y1="388.4" x2="409.5" y2="411.2" stroke="#222" stroke-width="1.3"/>
<line x1="409.5" y1="411.2" x2="448.2" y2="411.2" stroke="#222" stroke-width="1.3"/>
<path d="M407.2 389 L409.5 384.4 L411.8 389Z" fill="#222" stroke="none" stroke-width="0"/>
<path d="M447.6 408.9 L452.2 411.2 L447.6 413.5Z" fill="#222" stroke="none" stroke-width="0"/>
<text x="412.8" y="383.32" font-size="10.58" font-family='"Liberation Sans", sans-serif' textLength="31.56" lengthAdjust="spacing" fill="#111" font-weight="bold" transform="rotate(-90 412.8 383.32)">Count</text>
<text x="455.03" y="416.4" font-size="11.76" font-family='"Liberation Serif", serif' textLength="43.75" lengthAdjust="spacing" fill="#111">CD45.2</text>
<path d="M415.8 501.8 L415.8 501.4 L440 501 L450.4 498.6 L460.8 495.5 L471.2 492.4 L476.4 489.3 L482.6 482 L487.8 472.7 L492 461.2 L496.1 450.8 L499.2 442.5 L501.7 436.3 L503.4 435.2 L505.5 437.5 L507 442 L508 449 L509.6 473.7 L511.3 490.3 L512.6 499 L513.5 500 L514.2 495.5 L514.9 500.6 L516 501.3 L517.4 501.8Z" fill="#7f7f7f" stroke="#333" stroke-width="0.9" stroke-linejoin="round"/>
<line x1="475.3" y1="433.8" x2="475.3" y2="501.8" stroke="#555" stroke-width="1.1"/>
<line x1="415.8" y1="467.5" x2="475.3" y2="467.5" stroke="#555" stroke-width="1.1"/>
<rect x="415.8" y="433.8" width="101.6" height="68" fill="none" stroke="#555" stroke-width="1.3"/>
<text x="433.11" y="465" font-size="13.53" font-family='"Liberation Serif", serif' textLength="37.07" lengthAdjust="spacingAndGlyphs" fill="#a82432" stroke="#a82432" stroke-width="0.15">10.4%</text>
<line x1="407.6" y1="485.5" x2="407.6" y2="509.6" stroke="#222" stroke-width="1.3"/>
<line x1="407.6" y1="509.6" x2="446.5" y2="509.6" stroke="#222" stroke-width="1.3"/>
<path d="M405.3 486.1 L407.6 481.5 L409.9 486.1Z" fill="#222" stroke="none" stroke-width="0"/>
<path d="M445.9 507.3 L450.5 509.6 L445.9 511.9Z" fill="#222" stroke="none" stroke-width="0"/>
<text x="409.4" y="481.32" font-size="10.58" font-family='"Liberation Sans", sans-serif' textLength="31.44" lengthAdjust="spacing" fill="#111" font-weight="bold" transform="rotate(-90 409.4 481.32)">Count</text>
<text x="455.15" y="513.7" font-size="11.76" font-family='"Liberation Serif", serif' textLength="46.5" lengthAdjust="spacing" fill="#111">Lineage</text>
<g clip-path="url(#clipwt)">
<ellipse cx="309" cy="590" rx="19" ry="18" fill="#000" filter="url(#blur3)"/>
<ellipse cx="314" cy="569" rx="11" ry="9" fill="#000" filter="url(#blur3)"/>
<ellipse cx="332" cy="598" rx="10" ry="10" fill="#000" opacity="0.6" filter="url(#blur3)"/>
<path d="M288.4 557.4h0.85m-0.85 0.4h0.85m-0.85 9.2h0.85m-0.85 20h0.85m-0.65 -15.2h0.85m-0.85 2.6h0.85m-0.85 5h0.85m-0.85 13.4h0.85m-0.85 21.4h0.85m-0.85 0.8h0.85m-0.65 -51h0.85m-0.85 8.2h0.85m-0.85 0.8h0.85m-0.85 6h0.85m-0.85 14h0.85m-0.85 4.6h0.85m-0.65 -34.8h0.85m-0.85 10h0.85m-0.85 7.4h0.85m-0.85 10.8h0.85m-0.85 1.6h0.85m-0.85 1.4h0.85m-0.85 3.2h0.85m-0.85 1.4h0.85m-0.85 9.6h0.85m-0.85 4.6h0.85m-0.65 -53.2h0.85m-0.85 3.6h0.85m-0.85 7.2h0.85m-0.85 2.6h0.85m-0.85 5h0.85m-0.85 0.4h0.85m-0.85 0.6h0.85m-0.85 0.4h0.85m-0.85 0.2h0.85m-0.85 8.2h0.85m-0.65 -26.4h0.85m-0.85 22.4h0.85m-0.85 3.2h0.85m-0.85 19.6h0.85m-0.85 7h0.85m-0.65 -56.4h0.85m-0.85 8.6h0.85m-0.85 4h0.85m-0.85 2.8h0.85m-0.85 8.6h0.85m-0.85 2.4h0.85m-0.85 1.4h0.85m-0.85 1.2h0.85m-0.85 4.4h0.85m-0.85 1h0.85m-0.85 7.8h0.85m-0.85 2.4h0.85m-0.85 5.2h0.85m-0.85 2.8h0.85m-0.85 1h0.85m-0.65 -50.2h0.85m-0.85 1h0.85m-0.85 0.4h0.85m-0.85 0.8h0.85m-0.85 2.2h0.85m-0.85 5.6h0.85m-0.85 2.4h0.85m-0.85 8.6h0.85m-0.85 1.4h0.85m-0.85 1.8h0.85m-0.85 1.4h0.85m-0.85 6.8h0.85m-0.85 10.4h0.85m-0.65 -51h0.85m-0.85 5.2h0.85m-0.85 6h0.85m-0.85 15.8h0.85m-0.85 1h0.85m-0.85 2.6h0.85m-0.85 4.2h0.85m-0.85 7.2h0.85m-0.85 6.8h0.85m-0.85 2.4h0.85m-0.65 -35h0.85m-0.85 0.4h0.85m-0.85 7.4h0.85m-0.85 0.8h0.85m-0.85 0.4h0.85m-0.85 3.2h0.85m-0.85 3h0.85m-0.85 3.6h0.85m-0.85 3h0.85m-0.85 5h0.85m-0.85 15.2h0.85m-0.85 4.4h0.85m-0.85 0.8h0.85m-0.65 -43h0.85m-0.85 1.6h0.85m-0.85 2.4h0.85m-0.85 16h0.85m-0.85 1.8h0.85m-0.85 2h0.85m-0.85 11.8h0.85m-0.85 4.2h0.85m-0.65 -52.8h0.85m-0.85 1.6h0.85m-0.85 11.2h0.85m-0.85 8.4h0.85m-0.85 2h0.85m-0.85 0.4h0.85m-0.85 0.6h0.85m-0.85 0.8h0.85m-0.85 0.4h0.85m-0.85 3.2h0.85m-0.85 3h0.85m-0.85 3.2h0.85m-0.85 2h0.85m-0.85 6.4h0.85m-0.85 1.6h0.85m-0.65 -30.4h0.85m-0.85 11.2h0.85m-0.85 5.2h0.85m-0.85 3.2h0.85m-0.85 4.6h0.85m-0.65 -37.6h0.85m-0.85 3.6h0.85m-0.85 3.4h0.85m-0.85 0.8h0.85m-0.85 21.4h0.85m-0.85 6.8h0.85m-0.85 0.8h0.85m-0.85 1.8h0.85m-0.85 0.4h0.85m-0.85 1.8h0.85m-0.85 5.8h0.85m-0.65 -36h0.85m-0.85 0.6h0.85m-0.85 2.8h0.85m-0.85 1.8h0.85m-0.85 0.4h0.85m-0.85 2.2h0.85m-0.85 1.6h0.85m-0.85 0.6h0.85m-0.85 1.6h0.85m-0.85 0.2h0.85m-0.85 1.2h0.85m-0.85 1.8h0.85m-0.85 9h0.85m-0.85 3.4h0.85m-0.85 6.2h0.85m-0.65 -43.8h0.85m-0.85 10h0.85m-0.85 8.6h0.85m-0.85 4.4h0.85m-0.85 7.6h0.85m-0.85 13.8h0.85m-0.85 3h0.85m-0.85 0.6h0.85m-0.85 2h0.85m-0.65 -41.4h0.85m-0.85 0.2h0.85m-0.85 16.6h0.85m-0.85 8.8h0.85m-0.85 1.6h0.85m-0.85 0.2h0.85m-0.85 5.2h0.85m-0.85 0.6h0.85m-0.85 1.6h0.85m-0.85 1.2h0.85m-0.85 3.6h0.85m-0.85 1h0.85m-0.85 1.6h0.85m-0.65 -56h0.85m-0.85 12h0.85m-0.85 9h0.85m-0.85 1.6h0.85m-0.85 3.6h0.85m-0.85 19.8h0.85m-0.85 1.8h0.85m-0.85 0.2h0.85m-0.85 6.4h0.85m-0.85 3.6h0.85m-0.65 -56.6h0.85m-0.85 19.6h0.85m-0.85 5.6h0.85m-0.85 1.4h0.85m-0.85 0.8h0.85m-0.85 1.2h0.85m-0.85 3.8h0.85m-0.85 1h0.85m-0.85 9h0.85m-0.85 5.6h0.85m-0.85 0.6h0.85m-0.65 -49.6h0.85m-0.85 3.4h0.85m-0.85 4.2h0.85m-0.85 4.2h0.85m-0.85 8.4h0.85m-0.85 6.2h0.85m-0.85 6h0.85m-0.85 3h0.85m-0.85 1.2h0.85m-0.85 6h0.85m-0.85 1.2h0.85m-0.85 1.4h0.85m-0.85 3.6h0.85m-0.85 8.2h0.85m-0.85 2.4h0.85m-0.65 -56h0.85m-0.85 9h0.85m-0.85 0.2h0.85m-0.85 3h0.85m-0.85 0.2h0.85m-0.85 0.8h0.85m-0.85 16h0.85m-0.85 2.6h0.85m-0.85 4.6h0.85m-0.85 0.4h0.85m-0.85 1.4h0.85m-0.85 0.4h0.85m-0.85 2.4h0.85m-0.85 0.4h0.85m-0.85 1.2h0.85m-0.85 11.8h0.85m-0.65 -40.8h0.85m-0.85 2.4h0.85m-0.85 3.4h0.85m-0.85 1.6h0.85m-0.85 3.6h0.85m-0.85 8.4h0.85m-0.85 1h0.85m-0.85 6h0.85m-0.85 5.8h0.85m-0.85 1h0.85m-0.65 -40.8h0.85m-0.85 7h0.85m-0.85 6.4h0.85m-0.85 11.4h0.85m-0.85 4.8h0.85m-0.85 7h0.85m-0.85 10.2h0.85m-0.65 -49.6h0.85m-0.85 8.4h0.85m-0.85 1h0.85m-0.85 1.6h0.85m-0.85 2.6h0.85m-0.85 1.2h0.85m-0.85 4h0.85m-0.85 0.6h0.85m-0.85 7h0.85m-0.85 4.6h0.85m-0.85 6.8h0.85m-0.85 3.4h0.85m-0.85 3h0.85m-0.85 6.2h0.85m-0.85 3.4h0.85m-0.65 -41.8h0.85m-0.85 2h0.85m-0.85 8.8h0.85m-0.85 3.8h0.85m-0.85 0.6h0.85m-0.85 3.2h0.85m-0.85 0.2h0.85m-0.85 1.6h0.85m-0.85 1.4h0.85m-0.85 7.4h0.85m-0.85 1h0.85m-0.85 8.2h0.85m-0.65 -48.4h0.85m-0.85 3.8h0.85m-0.85 1.2h0.85m-0.85 4.8h0.85m-0.85 5.8h0.85m-0.85 1h0.85m-0.85 4h0.85m-0.85 3.2h0.85m-0.85 0.8h0.85m-0.85 8.2h0.85m-0.85 1.4h0.85m-0.85 1.2h0.85m-0.85 0.4h0.85m-0.85 2.2h0.85m-0.85 2.4h0.85m-0.85 0.2h0.85m-0.65 -45.4h0.85m-0.85 7.6h0.85m-0.85 3h0.85m-0.85 20.8h0.85m-0.85 7.8h0.85m-0.85 2.2h0.85m-0.85 0.6h0.85m-0.85 3h0.85m-0.85 3.6h0.85m-0.65 -52.6h0.85m-0.85 3.2h0.85m-0.85 5.2h0.85m-0.85 4.4h0.85m-0.85 3.4h0.85m-0.85 6h0.85m-0.85 9.6h0.85m-0.85 2h0.85m-0.85 2.4h0.85m-0.85 1.2h0.85m-0.85 2.6h0.85m-0.85 0.4h0.85m-0.85 1h0.85m-0.85 11.4h0.85m-0.65 -37.6h0.85m-0.85 0.4h0.85m-0.85 5.8h0.85m-0.85 4.4h0.85m-0.85 1.8h0.85m-0.85 2.2h0.85m-0.85 7h0.85m-0.85 2h0.85m-0.85 0.8h0.85m-0.85 3.6h0.85m-0.85 2.4h0.85m-0.65 -41.6h0.85m-0.85 6h0.85m-0.85 13.6h0.85m-0.85 2.6h0.85m-0.85 8.4h0.85m-0.85 0.2h0.85m-0.85 4.2h0.85m-0.85 0.4h0.85m-0.85 3h0.85m-0.85 3.2h0.85m-0.85 2.2h0.85m-0.85 1.8h0.85m-0.85 1.4h0.85m-0.85 1.6h0.85m-0.65 -38.2h0.85m-0.85 0.4h0.85m-0.85 2.2h0.85m-0.85 0.8h0.85m-0.85 1.2h0.85m-0.85 11h0.85m-0.85 5.2h0.85m-0.85 7.4h0.85m-0.85 3.2h0.85m-0.85 3h0.85m-0.85 3.4h0.85m-0.85 0.8h0.85m-0.65 -47h0.85m-0.85 4.4h0.85m-0.85 4.4h0.85m-0.85 9.4h0.85m-0.85 2.8h0.85m-0.85 3.6h0.85m-0.85 7.2h0.85m-0.85 2h0.85m-0.85 13.2h0.85m-0.85 4.2h0.85m-0.65 -51.6h0.85m-0.85 10.2h0.85m-0.85 3.4h0.85m-0.85 0.6h0.85m-0.85 2.8h0.85m-0.85 5.6h0.85m-0.85 8h0.85m-0.85 2.8h0.85m-0.85 4.6h0.85m-0.85 1.4h0.85m-0.85 14.8h0.85m-0.65 -51.4h0.85m-0.85 1.4h0.85m-0.85 4h0.85m-0.85 8.2h0.85m-0.85 14.2h0.85m-0.85 4.8h0.85m-0.85 4.2h0.85m-0.85 0.2h0.85m-0.85 2.2h0.85m-0.85 11h0.85m-0.85 2h0.85m-0.65 -58.2h0.85m-0.85 18.4h0.85m-0.85 3.8h0.85m-0.85 0.8h0.85m-0.85 1.6h0.85m-0.85 2.4h0.85m-0.85 3.6h0.85m-0.85 6.6h0.85m-0.85 4.4h0.85m-0.85 9h0.85m-0.85 3.4h0.85m-0.65 -53.2h0.85m-0.85 0.6h0.85m-0.85 3.4h0.85m-0.85 3.2h0.85m-0.85 9.4h0.85m-0.85 2h0.85m-0.85 5.8h0.85m-0.85 7h0.85m-0.85 2h0.85m-0.85 0.6h0.85m-0.85 2.8h0.85m-0.85 0.6h0.85m-0.85 5.8h0.85m-0.65 -33.4h0.85m-0.85 2.2h0.85m-0.85 6.2h0.85m-0.85 0.2h0.85m-0.85 1.2h0.85m-0.85 2.4h0.85m-0.85 1h0.85m-0.85 0.2h0.85m-0.85 1.8h0.85m-0.85 5.8h0.85m-0.85 6.4h0.85m-0.85 4.6h0.85m-0.85 6.4h0.85m-0.65 -49h0.85m-0.85 2h0.85m-0.85 3h0.85m-0.85 7.4h0.85m-0.85 1.4h0.85m-0.85 1h0.85m-0.85 1.4h0.85m-0.85 1.2h0.85m-0.85 4.8h0.85m-0.85 9.6h0.85m-0.85 0.4h0.85m-0.85 2.6h0.85m-0.85 1.4h0.85m-0.85 0.2h0.85m-0.85 3.4h0.85m-0.85 4.4h0.85m-0.85 0.4h0.85m-0.85 4.2h0.85m-0.85 2h0.85m-0.85 3.4h0.85m-0.65 -53h0.85m-0.85 6.6h0.85m-0.85 5.8h0.85m-0.85 1.4h0.85m-0.85 4.4h0.85m-0.85 2.6h0.85m-0.85 4.4h0.85m-0.85 9.6h0.85m-0.85 2.2h0.85m-0.85 1.8h0.85m-0.85 3.6h0.85m-0.85 1h0.85m-0.85 2.4h0.85m-0.65 -42.4h0.85m-0.85 8.8h0.85m-0.85 0.4h0.85m-0.85 4.8h0.85m-0.85 14.6h0.85m-0.85 2.2h0.85m-0.85 2.6h0.85m-0.85 5.8h0.85m-0.85 4.6h0.85m-0.85 1.2h0.85m-0.65 -50.2h0.85m-0.85 10h0.85m-0.85 3.8h0.85m-0.85 3.6h0.85m-0.85 4h0.85m-0.85 5.6h0.85m-0.85 3.6h0.85m-0.85 0.6h0.85m-0.85 1.2h0.85m-0.85 0.2h0.85m-0.85 1.8h0.85m-0.85 2.4h0.85m-0.85 5.2h0.85m-0.85 0.2h0.85m-0.85 12.6h0.85m-0.85 2h0.85m-0.65 -55h0.85m-0.85 1.6h0.85m-0.85 0.2h0.85m-0.85 3.4h0.85m-0.85 0.6h0.85m-0.85 1h0.85m-0.85 11.2h0.85m-0.85 7h0.85m-0.85 4.4h0.85m-0.85 1.2h0.85m-0.85 0.4h0.85m-0.85 2.6h0.85m-0.85 0.6h0.85m-0.85 1.8h0.85m-0.85 10h0.85m-0.85 0.6h0.85m-0.65 -49.8h0.85m-0.85 5.8h0.85m-0.85 1.8h0.85m-0.85 2.6h0.85m-0.85 0.8h0.85m-0.85 0.2h0.85m-0.85 7.4h0.85m-0.85 8.6h0.85m-0.85 9.8h0.85m-0.85 4.6h0.85m-0.85 5.2h0.85m-0.85 4.6h0.85m-0.85 8.8h0.85m-0.65 -60.8h0.85m-0.85 2.2h0.85m-0.85 0.6h0.85m-0.85 2.6h0.85m-0.85 3.2h0.85m-0.85 0.2h0.85m-0.85 0.4h0.85m-0.85 1.8h0.85m-0.85 2h0.85m-0.85 3.8h0.85m-0.85 4.4h0.85m-0.85 3.8h0.85m-0.85 1h0.85m-0.85 2.4h0.85m-0.85 3.2h0.85m-0.85 1.6h0.85m-0.85 0.6h0.85m-0.85 0.2h0.85m-0.85 1.2h0.85m-0.85 2.6h0.85m-0.85 2.2h0.85m-0.85 2.8h0.85m-0.85 0.4h0.85m-0.85 2h0.85m-0.85 2.4h0.85m-0.85 5.6h0.85m-0.85 2.2h0.85m-0.65 -50.2h0.85m-0.85 7.4h0.85m-0.85 4h0.85m-0.85 5.4h0.85m-0.85 4h0.85m-0.85 0.6h0.85m-0.85 6.6h0.85m-0.85 0.4h0.85m-0.85 2h0.85m-0.85 4.6h0.85m-0.85 5.8h0.85m-0.85 12.8h0.85m-0.65 -54.8h0.85m-0.85 5.4h0.85m-0.85 14.6h0.85m-0.85 1h0.85m-0.85 1.2h0.85m-0.85 0.2h0.85m-0.85 5.4h0.85m-0.85 2.4h0.85m-0.85 3h0.85m-0.85 1.6h0.85m-0.85 3.8h0.85m-0.85 2.4h0.85m-0.85 0.8h0.85m-0.85 5.2h0.85m-0.65 -59.2h0.85m-0.85 17.2h0.85m-0.85 4.8h0.85m-0.85 2.2h0.85m-0.85 0.6h0.85m-0.85 4.4h0.85m-0.85 1.2h0.85m-0.85 1.2h0.85m-0.85 2.2h0.85m-0.85 1.4h0.85m-0.85 0.2h0.85m-0.85 2.6h0.85m-0.85 1.8h0.85m-0.85 0.4h0.85m-0.85 0.6h0.85m-0.85 1.8h0.85m-0.85 2h0.85m-0.85 1.4h0.85m-0.85 4.6h0.85m-0.85 1h0.85m-0.85 1.8h0.85m-0.85 1.6h0.85m-0.65 -47.6h0.85m-0.85 5h0.85m-0.85 0.8h0.85m-0.85 10.4h0.85m-0.85 5h0.85m-0.85 0.2h0.85m-0.85 0.6h0.85m-0.85 2.4h0.85m-0.85 6.6h0.85m-0.85 6.4h0.85m-0.85 0.4h0.85m-0.85 1.2h0.85m-0.85 11.2h0.85m-0.85 1.2h0.85m-0.85 0.8h0.85m-0.85 1.2h0.85m-0.85 0.8h0.85m-0.65 -45.8h0.85m-0.85 1.2h0.85m-0.85 0.2h0.85m-0.85 3.8h0.85m-0.85 1.6h0.85m-0.85 5h0.85m-0.85 0.2h0.85m-0.85 3h0.85m-0.85 2.6h0.85m-0.85 3.6h0.85m-0.85 3.8h0.85m-0.85 0.2h0.85m-0.85 0.2h0.85m-0.85 4h0.85m-0.85 4.4h0.85m-0.85 2.4h0.85m-0.85 5h0.85m-0.85 10.2h0.85m-0.65 -56.8h0.85m-0.85 7.2h0.85m-0.85 5.6h0.85m-0.85 5.6h0.85m-0.85 0.2h0.85m-0.85 1.4h0.85m-0.85 2h0.85m-0.85 1.8h0.85m-0.85 4h0.85m-0.85 1h0.85m-0.85 1.2h0.85m-0.85 1.4h0.85m-0.85 0.6h0.85m-0.85 0.4h0.85m-0.85 0.4h0.85m-0.85 0.4h0.85m-0.85 3.6h0.85m-0.85 1.2h0.85m-0.85 1.4h0.85m-0.85 14.4h0.85m-0.85 1.4h0.85m-0.65 -53.6h0.85m-0.85 5.2h0.85m-0.85 0.8h0.85m-0.85 8.2h0.85m-0.85 1.6h0.85m-0.85 0.6h0.85m-0.85 0.2h0.85m-0.85 7h0.85m-0.85 5.4h0.85m-0.85 2.4h0.85m-0.85 1.6h0.85m-0.85 2.8h0.85m-0.85 3.2h0.85m-0.85 0.2h0.85m-0.85 2h0.85m-0.85 5.8h0.85m-0.65 -44.4h0.85m-0.85 8.6h0.85m-0.85 0.6h0.85m-0.85 0.6h0.85m-0.85 1.2h0.85m-0.85 2.4h0.85m-0.85 1.8h0.85m-0.85 0.6h0.85m-0.85 3.2h0.85m-0.85 0.6h0.85m-0.85 0.6h0.85m-0.85 1.6h0.85m-0.85 0.6h0.85m-0.85 1.2h0.85m-0.85 1.2h0.85m-0.85 2.4h0.85m-0.85 2.2h0.85m-0.85 1.2h0.85m-0.85 9.8h0.85m-0.85 7.4h0.85m-0.65 -47.8h0.85m-0.85 1.2h0.85m-0.85 2h0.85m-0.85 1h0.85m-0.85 0.2h0.85m-0.85 5.2h0.85m-0.85 6.8h0.85m-0.85 1.2h0.85m-0.85 4.6h0.85m-0.85 0.4h0.85m-0.85 1.4h0.85m-0.85 0.8h0.85m-0.85 2.2h0.85m-0.85 4.2h0.85m-0.85 0.6h0.85m-0.85 1.2h0.85m-0.85 0.2h0.85m-0.85 6h0.85m-0.85 2.4h0.85m-0.85 1.8h0.85m-0.85 8.2h0.85m-0.65 -53.4h0.85m-0.85 3.6h0.85m-0.85 0.8h0.85m-0.85 6.8h0.85m-0.85 10h0.85m-0.85 6.2h0.85m-0.85 7.8h0.85m-0.85 5.6h0.85m-0.85 4.6h0.85m-0.85 5.8h0.85m-0.65 -52.2h0.85m-0.85 1.2h0.85m-0.85 0.2h0.85m-0.85 0.4h0.85m-0.85 6.6h0.85m-0.85 0.4h0.85m-0.85 3.2h0.85m-0.85 15.8h0.85m-0.85 5.2h0.85m-0.85 2.2h0.85m-0.85 5.4h0.85m-0.85 1.4h0.85m-0.85 6h0.85m-0.85 4.4h0.85m-0.85 4h0.85m-0.65 -55.6h0.85m-0.85 4.6h0.85m-0.85 0.6h0.85m-0.85 4h0.85m-0.85 0.6h0.85m-0.85 4h0.85m-0.85 2.8h0.85m-0.85 2.6h0.85m-0.85 0.8h0.85m-0.85 1.6h0.85m-0.85 0.8h0.85m-0.85 5.2h0.85m-0.85 2.4h0.85m-0.85 11.2h0.85m-0.65 -41.2h0.85m-0.85 1.4h0.85m-0.85 6.6h0.85m-0.85 1.2h0.85m-0.85 1h0.85m-0.85 2.2h0.85m-0.85 1h0.85m-0.85 2h0.85m-0.85 5.6h0.85m-0.85 0.8h0.85m-0.85 4.2h0.85m-0.85 1.6h0.85m-0.85 2.4h0.85m-0.85 2.2h0.85m-0.85 1.2h0.85m-0.85 2.8h0.85m-0.85 2.2h0.85m-0.85 8.2h0.85m-0.85 4.6h0.85m-0.65 -47.8h0.85m-0.85 0.2h0.85m-0.85 3.4h0.85m-0.85 5.2h0.85m-0.85 3.8h0.85m-0.85 6.2h0.85m-0.85 4.6h0.85m-0.85 1.8h0.85m-0.85 1.2h0.85m-0.85 11.6h0.85m-0.85 5.8h0.85m-0.85 6.6h0.85m-0.85 2h0.85m-0.65 -66h0.85m-0.85 11.8h0.85m-0.85 1h0.85m-0.85 1.2h0.85m-0.85 3.4h0.85m-0.85 3.8h0.85m-0.85 3.6h0.85m-0.85 7.4h0.85m-0.85 2.8h0.85m-0.85 0.2h0.85m-0.85 2h0.85m-0.85 3h0.85m-0.85 0.6h0.85m-0.85 4.2h0.85m-0.85 2.4h0.85m-0.85 0.6h0.85m-0.85 3.4h0.85m-0.85 13.6h0.85m-0.65 -56h0.85m-0.85 0.6h0.85m-0.85 5.8h0.85m-0.85 2.6h0.85m-0.85 2.2h0.85m-0.85 1.2h0.85m-0.85 3h0.85m-0.85 5.8h0.85m-0.85 0.4h0.85m-0.85 0.6h0.85m-0.85 3.6h0.85m-0.85 6h0.85m-0.85 2h0.85m-0.85 5.8h0.85m-0.85 4.4h0.85m-0.85 2.8h0.85m-0.65 -41.4h0.85m-0.85 1.2h0.85m-0.85 2.2h0.85m-0.85 3h0.85m-0.85 4h0.85m-0.85 7.6h0.85m-0.85 0.2h0.85m-0.85 0.6h0.85m-0.85 1.2h0.85m-0.85 2.8h0.85m-0.85 0.6h0.85m-0.85 0.8h0.85m-0.85 2.6h0.85m-0.85 0.2h0.85m-0.85 2.2h0.85m-0.85 1.4h0.85m-0.85 3h0.85m-0.85 6.2h0.85m-0.85 2.2h0.85m-0.65 -42.8h0.85m-0.85 6.8h0.85m-0.85 1.4h0.85m-0.85 2.2h0.85m-0.85 1.2h0.85m-0.85 0.6h0.85m-0.85 2.8h0.85m-0.85 9.6h0.85m-0.85 2h0.85m-0.85 1.2h0.85m-0.85 1.6h0.85m-0.85 3.8h0.85m-0.85 7.4h0.85m-0.65 -42.8h0.85m-0.85 0.6h0.85m-0.85 3.4h0.85m-0.85 2.4h0.85m-0.85 9h0.85m-0.85 0.4h0.85m-0.85 3.2h0.85m-0.85 0.6h0.85m-0.85 0.4h0.85m-0.85 5.2h0.85m-0.85 0.4h0.85m-0.85 0.6h0.85m-0.85 1.8h0.85m-0.85 6.2h0.85m-0.85 0.4h0.85m-0.85 2.2h0.85m-0.85 0.2h0.85m-0.85 2.2h0.85m-0.85 4.8h0.85m-0.85 6.6h0.85m-0.65 -51.2h0.85m-0.85 2.6h0.85m-0.85 1.4h0.85m-0.85 1.8h0.85m-0.85 1.8h0.85m-0.85 1.4h0.85m-0.85 0.8h0.85m-0.85 1h0.85m-0.85 17h0.85m-0.85 7h0.85m-0.85 2.8h0.85m-0.85 0.6h0.85m-0.85 0.2h0.85m-0.85 6h0.85m-0.85 1.8h0.85m-0.65 -47.6h0.85m-0.85 1h0.85m-0.85 0.4h0.85m-0.85 3.2h0.85m-0.85 4h0.85m-0.85 3.2h0.85m-0.85 0.2h0.85m-0.85 4.4h0.85m-0.85 2.6h0.85m-0.85 0.8h0.85m-0.85 3h0.85m-0.85 0.4h0.85m-0.85 2.8h0.85m-0.85 2.8h0.85m-0.85 0.2h0.85m-0.85 0.2h0.85m-0.85 4h0.85m-0.85 2.8h0.85m-0.85 0.2h0.85m-0.85 9.4h0.85m-0.85 1.2h0.85m-0.85 2h0.85m-0.85 1.4h0.85m-0.65 -51.6h0.85m-0.85 3.8h0.85m-0.85 4h0.85m-0.85 1h0.85m-0.85 2h0.85m-0.85 5h0.85m-0.85 2.6h0.85m-0.85 1.4h0.85m-0.85 10.2h0.85m-0.85 1.8h0.85m-0.85 1.2h0.85m-0.85 1.6h0.85m-0.85 1.8h0.85m-0.85 8.2h0.85m-0.85 4.4h0.85m-0.85 1.6h0.85m-0.65 -48.2h0.85m-0.85 0.8h0.85m-0.85 0.8h0.85m-0.85 4.4h0.85m-0.85 1h0.85m-0.85 0.4h0.85m-0.85 0.8h0.85m-0.85 0.4h0.85m-0.85 1.8h0.85m-0.85 0.6h0.85m-0.85 2.6h0.85m-0.85 6.6h0.85m-0.85 1.4h0.85m-0.85 3.4h0.85m-0.85 1h0.85m-0.85 0.4h0.85m-0.85 3.6h0.85m-0.85 5.8h0.85m-0.85 3.2h0.85m-0.85 5h0.85m-0.85 0.6h0.85m-0.85 9.6h0.85m-0.65 -56h0.85m-0.85 1.2h0.85m-0.85 7.2h0.85m-0.85 2h0.85m-0.85 3.8h0.85m-0.85 2h0.85m-0.85 0.8h0.85m-0.85 0.6h0.85m-0.85 1.2h0.85m-0.85 17.2h0.85m-0.85 14.6h0.85m-0.85 4.4h0.85m-0.85 1.4h0.85m-0.65 -53.8h0.85m-0.85 0.2h0.85m-0.85 8.2h0.85m-0.85 1.4h0.85m-0.85 1.8h0.85m-0.85 0.4h0.85m-0.85 2h0.85m-0.85 6.6h0.85m-0.85 6.4h0.85m-0.85 3.6h0.85m-0.85 3.4h0.85m-0.85 1h0.85m-0.85 1h0.85m-0.85 1.4h0.85m-0.85 0.4h0.85m-0.85 1.4h0.85m-0.85 4.8h0.85m-0.85 5.8h0.85m-0.85 0.6h0.85m-0.65 -55.2h0.85m-0.85 1.8h0.85m-0.85 1.6h0.85m-0.85 4h0.85m-0.85 1h0.85m-0.85 0.8h0.85m-0.85 3.2h0.85m-0.85 3.2h0.85m-0.85 6h0.85m-0.85 0.6h0.85m-0.85 3.8h0.85m-0.85 1.2h0.85m-0.85 5.4h0.85m-0.85 1.4h0.85m-0.85 8h0.85m-0.85 5.4h0.85m-0.85 4.2h0.85m-0.85 5h0.85m-0.65 -55.6h0.85m-0.85 3h0.85m-0.85 0.2h0.85m-0.85 0.4h0.85m-0.85 1.6h0.85m-0.85 0.6h0.85m-0.85 0.4h0.85m-0.85 1h0.85m-0.85 8.2h0.85m-0.85 0.2h0.85m-0.85 0.8h0.85m-0.85 0.2h0.85m-0.85 0.2h0.85m-0.85 0.2h0.85m-0.85 3.4h0.85m-0.85 6.8h0.85m-0.85 5.4h0.85m-0.85 9h0.85m-0.85 0.6h0.85m-0.85 1.6h0.85m-0.85 9.2h0.85m-0.65 -52.8h0.85m-0.85 1.8h0.85m-0.85 3h0.85m-0.85 1h0.85m-0.85 4.6h0.85m-0.85 0.2h0.85m-0.85 1.6h0.85m-0.85 0.4h0.85m-0.85 1h0.85m-0.85 6.4h0.85m-0.85 1h0.85m-0.85 6.8h0.85m-0.85 3h0.85m-0.85 2.2h0.85m-0.85 1.2h0.85m-0.85 0.2h0.85m-0.85 3.2h0.85m-0.85 0.4h0.85m-0.85 2.2h0.85m-0.85 3.2h0.85m-0.85 3.2h0.85m-0.85 10.8h0.85m-0.65 -54h0.85m-0.85 0.2h0.85m-0.85 1.4h0.85m-0.85 4.2h0.85m-0.85 4.4h0.85m-0.85 7.6h0.85m-0.85 0.6h0.85m-0.85 2.6h0.85m-0.85 4.8h0.85m-0.85 3.4h0.85m-0.85 1.6h0.85m-0.85 5.2h0.85m-0.85 0.4h0.85m-0.85 0.6h0.85m-0.85 0.6h0.85m-0.85 2h0.85m-0.85 2.4h0.85m-0.85 4.6h0.85m-0.85 8.4h0.85m-0.65 -58.8h0.85m-0.85 1.2h0.85m-0.85 2.2h0.85m-0.85 7.4h0.85m-0.85 3.2h0.85m-0.85 0.6h0.85m-0.85 1.2h0.85m-0.85 1.4h0.85m-0.85 6.6h0.85m-0.85 3.6h0.85m-0.85 0.6h0.85m-0.85 0.4h0.85m-0.85 2.6h0.85m-0.85 2h0.85m-0.85 3h0.85m-0.85 3h0.85m-0.85 1.8h0.85m-0.85 1h0.85m-0.85 1.6h0.85m-0.85 1.4h0.85m-0.85 0.6h0.85m-0.85 12.8h0.85m-0.65 -54.8h0.85m-0.85 1h0.85m-0.85 0.2h0.85m-0.85 3h0.85m-0.85 1.6h0.85m-0.85 1.2h0.85m-0.85 1h0.85m-0.85 1.4h0.85m-0.85 0.4h0.85m-0.85 3.8h0.85m-0.85 2.6h0.85m-0.85 9.4h0.85m-0.85 1.8h0.85m-0.85 0.4h0.85m-0.85 1h0.85m-0.85 0.2h0.85m-0.85 0.2h0.85m-0.85 1.2h0.85m-0.85 0.6h0.85m-0.85 4h0.85m-0.85 3.8h0.85m-0.85 6.8h0.85m-0.85 5h0.85m-0.85 0.2h0.85m-0.85 0.6h0.85m-0.65 -55.4h0.85m-0.85 0.4h0.85m-0.85 5h0.85m-0.85 1.4h0.85m-0.85 2h0.85m-0.85 0.4h0.85m-0.85 0.8h0.85m-0.85 2.6h0.85m-0.85 0.4h0.85m-0.85 4.6h0.85m-0.85 0.4h0.85m-0.85 1h0.85m-0.85 0.4h0.85m-0.85 4.6h0.85m-0.85 5.4h0.85m-0.85 0.2h0.85m-0.85 4.4h0.85m-0.85 6h0.85m-0.85 2.4h0.85m-0.85 3.4h0.85m-0.85 0.2h0.85m-0.85 7.4h0.85m-0.85 4.2h0.85m-0.65 -54.8h0.85m-0.85 1.6h0.85m-0.85 0.6h0.85m-0.85 1.8h0.85m-0.85 2h0.85m-0.85 2h0.85m-0.85 0.2h0.85m-0.85 4h0.85m-0.85 2.2h0.85m-0.85 4.2h0.85m-0.85 0.4h0.85m-0.85 5.4h0.85m-0.85 2.6h0.85m-0.85 2.4h0.85m-0.85 0.2h0.85m-0.85 0.6h0.85m-0.85 2h0.85m-0.85 2.6h0.85m-0.85 0.2h0.85m-0.85 1.8h0.85m-0.85 0.2h0.85m-0.85 3h0.85m-0.85 0.2h0.85m-0.85 2.4h0.85m-0.85 11.2h0.85m-0.85 0.6h0.85m-0.65 -58.4h0.85m-0.85 1.4h0.85m-0.85 4.2h0.85m-0.85 5.2h0.85m-0.85 2.4h0.85m-0.85 3h0.85m-0.85 2.8h0.85m-0.85 1.6h0.85m-0.85 3.4h0.85m-0.85 2.2h0.85m-0.85 0.4h0.85m-0.85 1h0.85m-0.85 0.4h0.85m-0.85 0.8h0.85m-0.85 12.4h0.85m-0.85 2h0.85m-0.85 1.2h0.85m-0.85 1.4h0.85m-0.85 4h0.85m-0.85 6.4h0.85m-0.65 -41h0.85m-0.85 6.4h0.85m-0.85 4h0.85m-0.85 0.4h0.85m-0.85 4.4h0.85m-0.85 1.2h0.85m-0.85 1.8h0.85m-0.85 0.8h0.85m-0.85 11h0.85m-0.85 3.6h0.85m-0.85 6.8h0.85m-0.85 2.2h0.85m-0.65 -56.2h0.85m-0.85 6.4h0.85m-0.85 0.4h0.85m-0.85 0.8h0.85m-0.85 0.8h0.85m-0.85 0.2h0.85m-0.85 0.4h0.85m-0.85 3.4h0.85m-0.85 1.2h0.85m-0.85 0.8h0.85m-0.85 0.2h0.85m-0.85 0.6h0.85m-0.85 0.2h0.85m-0.85 1.2h0.85m-0.85 0.8h0.85m-0.85 1h0.85m-0.85 4.8h0.85m-0.85 1.2h0.85m-0.85 1.8h0.85m-0.85 3h0.85m-0.85 0.8h0.85m-0.85 2.4h0.85m-0.85 1h0.85m-0.85 0.2h0.85m-0.85 3h0.85m-0.85 2.6h0.85m-0.85 3.2h0.85m-0.85 1.6h0.85m-0.85 4.4h0.85m-0.65 -47.6h0.85m-0.85 5.6h0.85m-0.85 0.2h0.85m-0.85 1.2h0.85m-0.85 2.6h0.85m-0.85 4h0.85m-0.85 2.2h0.85m-0.85 0.8h0.85m-0.85 1.4h0.85m-0.85 2.2h0.85m-0.85 2.2h0.85m-0.85 8h0.85m-0.85 0.8h0.85m-0.85 2h0.85m-0.85 3.8h0.85m-0.85 0.8h0.85m-0.85 0.4h0.85m-0.85 4.2h0.85m-0.85 10.2h0.85m-0.65 -49.2h0.85m-0.85 0.6h0.85m-0.85 0.2h0.85m-0.85 5h0.85m-0.85 2h0.85m-0.85 3.8h0.85m-0.85 2.6h0.85m-0.85 2.8h0.85m-0.85 1.2h0.85m-0.85 0.8h0.85m-0.85 2.2h0.85m-0.85 5.6h0.85m-0.85 1.8h0.85m-0.85 1.4h0.85m-0.85 0.6h0.85m-0.85 4h0.85m-0.85 2.4h0.85m-0.85 1h0.85m-0.85 6.2h0.85m-0.85 1h0.85m-0.85 9.2h0.85m-0.85 0.2h0.85m-0.65 -56.6h0.85m-0.85 0.2h0.85m-0.85 3.8h0.85m-0.85 0.4h0.85m-0.85 0.2h0.85m-0.85 0.6h0.85m-0.85 3h0.85m-0.85 2.8h0.85m-0.85 1.4h0.85m-0.85 2.6h0.85m-0.85 1.2h0.85m-0.85 0.2h0.85m-0.85 0.4h0.85m-0.85 0.8h0.85m-0.85 5.6h0.85m-0.85 1h0.85m-0.85 8.4h0.85m-0.85 1.4h0.85m-0.85 8.2h0.85m-0.85 2.4h0.85m-0.65 -44.4h0.85m-0.85 2.4h0.85m-0.85 2.8h0.85m-0.85 3.4h0.85m-0.85 0.6h0.85m-0.85 1.4h0.85m-0.85 0.6h0.85m-0.85 1.2h0.85m-0.85 1h0.85m-0.85 0.6h0.85m-0.85 0.6h0.85m-0.85 1.8h0.85m-0.85 5.2h0.85m-0.85 1h0.85m-0.85 2.4h0.85m-0.85 0.4h0.85m-0.85 3.8h0.85m-0.85 0.6h0.85m-0.85 0.4h0.85m-0.85 1.6h0.85m-0.85 3.4h0.85m-0.85 2.4h0.85m-0.85 0.4h0.85m-0.85 0.2h0.85m-0.85 0.8h0.85m-0.85 2.2h0.85m-0.85 0.4h0.85m-0.85 6.4h0.85m-0.65 -49.2h0.85m-0.85 5.8h0.85m-0.85 0.8h0.85m-0.85 0.6h0.85m-0.85 1.6h0.85m-0.85 0.6h0.85m-0.85 0.4h0.85m-0.85 0.6h0.85m-0.85 2.4h0.85m-0.85 0.6h0.85m-0.85 0.4h0.85m-0.85 0.2h0.85m-0.85 0.4h0.85m-0.85 0.2h0.85m-0.85 0.6h0.85m-0.85 0.2h0.85m-0.85 1h0.85m-0.85 3.8h0.85m-0.85 0.4h0.85m-0.85 2.6h0.85m-0.85 0.2h0.85m-0.85 1.4h0.85m-0.85 3.6h0.85m-0.85 4.2h0.85m-0.85 0.6h0.85m-0.85 2h0.85m-0.85 1.2h0.85m-0.85 2.4h0.85m-0.85 5.2h0.85m-0.65 -42h0.85m-0.85 3.6h0.85m-0.85 3.6h0.85m-0.85 0.4h0.85m-0.85 4.6h0.85m-0.85 2.4h0.85m-0.85 0.2h0.85m-0.85 2.2h0.85m-0.85 3.4h0.85m-0.85 1.2h0.85m-0.85 0.2h0.85m-0.85 0.6h0.85m-0.85 1.4h0.85m-0.85 0.4h0.85m-0.85 0.4h0.85m-0.85 2.6h0.85m-0.85 2.4h0.85m-0.85 4.4h0.85m-0.85 5.4h0.85m-0.85 1.6h0.85m-0.85 13h0.85m-0.85 1.6h0.85m-0.65 -50.6h0.85m-0.85 1.8h0.85m-0.85 3.4h0.85m-0.85 1.4h0.85m-0.85 0.4h0.85m-0.85 0.2h0.85m-0.85 0.4h0.85m-0.85 0.4h0.85m-0.85 5.4h0.85m-0.85 1.6h0.85m-0.85 0.2h0.85m-0.85 1h0.85m-0.85 5.2h0.85m-0.85 1.2h0.85m-0.85 1.4h0.85m-0.85 2h0.85m-0.85 1.2h0.85m-0.85 0.6h0.85m-0.85 1.2h0.85m-0.85 5.4h0.85m-0.85 16.8h0.85m-0.65 -63.2h0.85m-0.85 5.6h0.85m-0.85 3h0.85m-0.85 5.2h0.85m-0.85 0.2h0.85m-0.85 4h0.85m-0.85 2.4h0.85m-0.85 3.4h0.85m-0.85 0.8h0.85m-0.85 4.2h0.85m-0.85 3.8h0.85m-0.85 0.8h0.85m-0.85 0.2h0.85m-0.85 2h0.85m-0.85 1.2h0.85m-0.85 0.2h0.85m-0.85 1.4h0.85m-0.85 1.4h0.85m-0.85 1.4h0.85m-0.85 1h0.85m-0.85 2h0.85m-0.85 6h0.85m-0.85 4.2h0.85m-0.85 1.4h0.85m-0.65 -52.8h0.85m-0.85 1.2h0.85m-0.85 1.2h0.85m-0.85 5.2h0.85m-0.85 0.4h0.85m-0.85 2h0.85m-0.85 3.2h0.85m-0.85 0.4h0.85m-0.85 0.8h0.85m-0.85 0.6h0.85m-0.85 1.6h0.85m-0.85 2.8h0.85m-0.85 2h0.85m-0.85 2.6h0.85m-0.85 1.4h0.85m-0.85 1.8h0.85m-0.85 3h0.85m-0.85 4h0.85m-0.85 4h0.85m-0.85 4.6h0.85m-0.85 3.2h0.85m-0.85 0.8h0.85m-0.85 5.8h0.85m-0.65 -59.8h0.85m-0.85 9h0.85m-0.85 3.6h0.85m-0.85 0.2h0.85m-0.85 0.6h0.85m-0.85 6h0.85m-0.85 0.2h0.85m-0.85 2.2h0.85m-0.85 3.2h0.85m-0.85 2.6h0.85m-0.85 3.4h0.85m-0.85 3h0.85m-0.85 1.2h0.85m-0.85 0.6h0.85m-0.85 0.8h0.85m-0.85 1.4h0.85m-0.85 7h0.85m-0.85 3.2h0.85m-0.85 2.6h0.85m-0.85 0.8h0.85m-0.85 0.4h0.85m-0.85 1.8h0.85m-0.85 6.2h0.85m-0.85 1.4h0.85m-0.65 -54h0.85m-0.85 1.8h0.85m-0.85 0.2h0.85m-0.85 2h0.85m-0.85 2h0.85m-0.85 2.2h0.85m-0.85 0.4h0.85m-0.85 0.8h0.85m-0.85 1.6h0.85m-0.85 2.8h0.85m-0.85 1h0.85m-0.85 0.4h0.85m-0.85 1.2h0.85m-0.85 6.6h0.85m-0.85 3.8h0.85m-0.85 1.8h0.85m-0.85 3.4h0.85m-0.85 1.4h0.85m-0.85 0.6h0.85m-0.85 1h0.85m-0.85 0.4h0.85m-0.85 0.8h0.85m-0.85 0.8h0.85m-0.85 1.6h0.85m-0.85 1h0.85m-0.85 0.2h0.85m-0.85 2.8h0.85m-0.85 12h0.85m-0.85 2.6h0.85m-0.65 -53.8h0.85m-0.85 0.8h0.85m-0.85 4.6h0.85m-0.85 2.2h0.85m-0.85 1.4h0.85m-0.85 6h0.85m-0.85 0.4h0.85m-0.85 9.4h0.85m-0.85 5.6h0.85m-0.85 1.8h0.85m-0.85 1.6h0.85m-0.85 2.4h0.85m-0.85 0.2h0.85m-0.85 0.4h0.85m-0.85 2.2h0.85m-0.85 0.4h0.85m-0.85 1.8h0.85m-0.85 5h0.85m-0.65 -46.4h0.85m-0.85 1.2h0.85m-0.85 2h0.85m-0.85 0.2h0.85m-0.85 3.2h0.85m-0.85 3.6h0.85m-0.85 5.6h0.85m-0.85 0.8h0.85m-0.85 4.4h0.85m-0.85 5.2h0.85m-0.85 1.6h0.85m-0.85 2.2h0.85m-0.85 1.6h0.85m-0.85 0.6h0.85m-0.85 2.2h0.85m-0.85 0.2h0.85m-0.85 2h0.85m-0.85 2h0.85m-0.85 0.2h0.85m-0.85 1h0.85m-0.85 2.8h0.85m-0.85 0.6h0.85m-0.85 5.6h0.85m-0.65 -51.6h0.85m-0.85 2.6h0.85m-0.85 4.8h0.85m-0.85 0.2h0.85m-0.85 0.2h0.85m-0.85 0.6h0.85m-0.85 1h0.85m-0.85 1.8h0.85m-0.85 3.2h0.85m-0.85 2.6h0.85m-0.85 3.8h0.85m-0.85 0.8h0.85m-0.85 0.6h0.85m-0.85 2.4h0.85m-0.85 1.8h0.85m-0.85 2h0.85m-0.85 1h0.85m-0.85 1h0.85m-0.85 15.2h0.85m-0.85 1.2h0.85m-0.85 1h0.85m-0.85 0.6h0.85m-0.65 -47.4h0.85m-0.85 2.4h0.85m-0.85 0.2h0.85m-0.85 1.2h0.85m-0.85 1.6h0.85m-0.85 2.2h0.85m-0.85 4.8h0.85m-0.85 0.2h0.85m-0.85 0.6h0.85m-0.85 0.2h0.85m-0.85 3h0.85m-0.85 3h0.85m-0.85 0.2h0.85m-0.85 0.6h0.85m-0.85 0.4h0.85m-0.85 7.6h0.85m-0.85 2.2h0.85m-0.85 1.2h0.85m-0.85 2.8h0.85m-0.85 0.2h0.85m-0.85 3.4h0.85m-0.85 4.2h0.85m-0.85 1.6h0.85m-0.85 0.6h0.85m-0.85 2h0.85m-0.65 -45.4h0.85m-0.85 2.4h0.85m-0.85 2h0.85m-0.85 1h0.85m-0.85 0.8h0.85m-0.85 0.6h0.85m-0.85 1.4h0.85m-0.85 0.4h0.85m-0.85 0.2h0.85m-0.85 1.4h0.85m-0.85 2.2h0.85m-0.85 2.2h0.85m-0.85 0.4h0.85m-0.85 4h0.85m-0.85 1h0.85m-0.85 0.4h0.85m-0.85 7.4h0.85m-0.85 8.2h0.85m-0.85 0.8h0.85m-0.85 2.6h0.85m-0.85 0.2h0.85m-0.85 0.8h0.85m-0.85 1.2h0.85m-0.85 0.8h0.85m-0.85 1.4h0.85m-0.65 -45.8h0.85m-0.85 1h0.85m-0.85 4.6h0.85m-0.85 1.2h0.85m-0.85 3.4h0.85m-0.85 4.2h0.85m-0.85 1h0.85m-0.85 0.4h0.85m-0.85 1.8h0.85m-0.85 1h0.85m-0.85 1.8h0.85m-0.85 1h0.85m-0.85 3.2h0.85m-0.85 1.2h0.85m-0.85 0.6h0.85m-0.85 1.4h0.85m-0.85 0.6h0.85m-0.85 3.6h0.85m-0.85 0.8h0.85m-0.85 4h0.85m-0.85 4.8h0.85m-0.85 0.4h0.85m-0.85 7.8h0.85m-0.85 0.6h0.85m-0.65 -50.6h0.85m-0.85 0.6h0.85m-0.85 4.4h0.85m-0.85 3h0.85m-0.85 1h0.85m-0.85 0.6h0.85m-0.85 3.4h0.85m-0.85 0.8h0.85m-0.85 4h0.85m-0.85 3.4h0.85m-0.85 2h0.85m-0.85 5.2h0.85m-0.85 0.4h0.85m-0.85 4.4h0.85m-0.85 3.2h0.85m-0.85 2.2h0.85m-0.85 2.4h0.85m-0.85 5.8h0.85m-0.85 1.6h0.85m-0.85 5h0.85m-0.65 -54.2h0.85m-0.85 2.4h0.85m-0.85 0.4h0.85m-0.85 4h0.85m-0.85 2h0.85m-0.85 0.8h0.85m-0.85 0.4h0.85m-0.85 0.8h0.85m-0.85 0.2h0.85m-0.85 3.2h0.85m-0.85 2.2h0.85m-0.85 0.6h0.85m-0.85 0.8h0.85m-0.85 1.2h0.85m-0.85 1.8h0.85m-0.85 0.8h0.85m-0.85 1.6h0.85m-0.85 1h0.85m-0.85 3.6h0.85m-0.85 1.6h0.85m-0.85 0.2h0.85m-0.85 0.6h0.85m-0.85 1h0.85m-0.85 1.4h0.85m-0.85 6.8h0.85m-0.85 0.2h0.85m-0.85 0.6h0.85m-0.85 1.6h0.85m-0.85 2.6h0.85m-0.85 2.8h0.85m-0.85 1h0.85m-0.85 7.2h0.85m-0.85 0.4h0.85m-0.65 -55.8h0.85m-0.85 1.4h0.85m-0.85 0.6h0.85m-0.85 4.6h0.85m-0.85 1.2h0.85m-0.85 1h0.85m-0.85 3.6h0.85m-0.85 0.2h0.85m-0.85 1.6h0.85m-0.85 0.4h0.85m-0.85 2.8h0.85m-0.85 0.8h0.85m-0.85 0.4h0.85m-0.85 0.2h0.85m-0.85 4h0.85m-0.85 4.4h0.85m-0.85 0.4h0.85m-0.85 0.2h0.85m-0.85 0.2h0.85m-0.85 0.4h0.85m-0.85 0.8h0.85m-0.85 0.2h0.85m-0.85 3.6h0.85m-0.85 0.4h0.85m-0.85 0.4h0.85m-0.85 1.2h0.85m-0.85 2.6h0.85m-0.85 0.2h0.85m-0.85 1.8h0.85m-0.85 0.6h0.85m-0.85 0.2h0.85m-0.85 0.4h0.85m-0.85 1.4h0.85m-0.85 1.8h0.85m-0.85 8.8h0.85m-0.65 -50.4h0.85m-0.85 0.8h0.85m-0.85 2h0.85m-0.85 0.2h0.85m-0.85 4.8h0.85m-0.85 0.6h0.85m-0.85 0.6h0.85m-0.85 0.8h0.85m-0.85 1.2h0.85m-0.85 0.2h0.85m-0.85 0.2h0.85m-0.85 0.2h0.85m-0.85 3.2h0.85m-0.85 0.2h0.85m-0.85 0.2h0.85m-0.85 1.4h0.85m-0.85 2.8h0.85m-0.85 1.8h0.85m-0.85 2.4h0.85m-0.85 8.2h0.85m-0.85 3.4h0.85m-0.85 1.6h0.85m-0.85 3h0.85m-0.85 2.4h0.85m-0.85 2.2h0.85m-0.85 3.2h0.85m-0.85 2h0.85m-0.85 1.2h0.85m-0.85 1h0.85m-0.85 2.4h0.85m-0.65 -56.6h0.85m-0.85 0.4h0.85m-0.85 0.4h0.85m-0.85 2.8h0.85m-0.85 1.4h0.85m-0.85 0.2h0.85m-0.85 0.6h0.85m-0.85 4.8h0.85m-0.85 0.6h0.85m-0.85 0.6h0.85m-0.85 6.4h0.85m-0.85 1.2h0.85m-0.85 4.6h0.85m-0.85 1h0.85m-0.85 5.2h0.85m-0.85 1h0.85m-0.85 0.2h0.85m-0.85 0.6h0.85m-0.85 0.4h0.85m-0.85 0.2h0.85m-0.85 0.2h0.85m-0.85 1h0.85m-0.85 0.2h0.85m-0.85 0.8h0.85m-0.85 0.2h0.85m-0.85 1.2h0.85m-0.85 0.2h0.85m-0.85 7h0.85m-0.85 0.6h0.85m-0.85 0.4h0.85m-0.85 0.8h0.85m-0.85 0.6h0.85m-0.85 1.8h0.85m-0.65 -43.2h0.85m-0.85 1.8h0.85m-0.85 3.2h0.85m-0.85 0.6h0.85m-0.85 1h0.85m-0.85 2.8h0.85m-0.85 9.4h0.85m-0.85 2.2h0.85m-0.85 1.6h0.85m-0.85 3h0.85m-0.85 1.8h0.85m-0.85 1.4h0.85m-0.85 2.2h0.85m-0.85 2.6h0.85m-0.85 5.8h0.85m-0.85 5.8h0.85m-0.85 2h0.85m-0.85 2.6h0.85m-0.65 -51.8h0.85m-0.85 0.4h0.85m-0.85 10.8h0.85m-0.85 1.2h0.85m-0.85 0.4h0.85m-0.85 0.8h0.85m-0.85 0.8h0.85m-0.85 0.2h0.85m-0.85 1.6h0.85m-0.85 1.2h0.85m-0.85 0.2h0.85m-0.85 0.4h0.85m-0.85 1.4h0.85m-0.85 1.8h0.85m-0.85 0.6h0.85m-0.85 1.6h0.85m-0.85 1.4h0.85m-0.85 0.2h0.85m-0.85 2h0.85m-0.85 2.2h0.85m-0.85 0.4h0.85m-0.85 0.6h0.85m-0.85 0.8h0.85m-0.85 5.6h0.85m-0.85 5.4h0.85m-0.85 2.4h0.85m-0.85 7.4h0.85m-0.65 -51.8h0.85m-0.85 2.8h0.85m-0.85 2.6h0.85m-0.85 1h0.85m-0.85 1.6h0.85m-0.85 2.2h0.85m-0.85 8h0.85m-0.85 2.6h0.85m-0.85 0.8h0.85m-0.85 1.4h0.85m-0.85 1h0.85m-0.85 4.4h0.85m-0.85 0.8h0.85m-0.85 1.8h0.85m-0.85 0.4h0.85m-0.85 2.8h0.85m-0.85 1.8h0.85m-0.85 6h0.85m-0.85 7.8h0.85m-0.65 -49.6h0.85m-0.85 0.2h0.85m-0.85 1.2h0.85m-0.85 1.6h0.85m-0.85 0.4h0.85m-0.85 3.4h0.85m-0.85 0.4h0.85m-0.85 0.4h0.85m-0.85 1.2h0.85m-0.85 0.4h0.85m-0.85 0.2h0.85m-0.85 2.4h0.85m-0.85 0.8h0.85m-0.85 0.6h0.85m-0.85 2.4h0.85m-0.85 1.2h0.85m-0.85 0.2h0.85m-0.85 13h0.85m-0.85 2.8h0.85m-0.85 1.2h0.85m-0.85 0.4h0.85m-0.85 6.2h0.85m-0.85 4.2h0.85m-0.85 0.2h0.85m-0.85 1.2h0.85m-0.85 1h0.85m-0.85 1.8h0.85m-0.85 4h0.85m-0.65 -56h0.85m-0.85 1h0.85m-0.85 4.6h0.85m-0.85 0.2h0.85m-0.85 0.4h0.85m-0.85 0.4h0.85m-0.85 5.6h0.85m-0.85 0.4h0.85m-0.85 1.8h0.85m-0.85 1.6h0.85m-0.85 1h0.85m-0.85 0.4h0.85m-0.85 0.2h0.85m-0.85 2h0.85m-0.85 0.4h0.85m-0.85 1.6h0.85m-0.85 2h0.85m-0.85 4.6h0.85m-0.85 0.8h0.85m-0.85 1.6h0.85m-0.85 0.8h0.85m-0.85 1.2h0.85m-0.85 2h0.85m-0.85 1.6h0.85m-0.85 2.4h0.85m-0.85 1h0.85m-0.85 11h0.85m-0.65 -48h0.85m-0.85 3.4h0.85m-0.85 3.4h0.85m-0.85 0.2h0.85m-0.85 3.4h0.85m-0.85 3h0.85m-0.85 1h0.85m-0.85 1h0.85m-0.85 0.6h0.85m-0.85 0.6h0.85m-0.85 1h0.85m-0.85 0.4h0.85m-0.85 0.4h0.85m-0.85 1.4h0.85m-0.85 7.2h0.85m-0.85 1.2h0.85m-0.85 0.6h0.85m-0.85 3.8h0.85m-0.85 0.2h0.85m-0.85 2.8h0.85m-0.85 5h0.85m-0.85 1h0.85m-0.85 5h0.85m-0.65 -50.2h0.85m-0.85 2.6h0.85m-0.85 4h0.85m-0.85 6h0.85m-0.85 0.6h0.85m-0.85 0.8h0.85m-0.85 1.4h0.85m-0.85 1.2h0.85m-0.85 8h0.85m-0.85 0.4h0.85m-0.85 0.4h0.85m-0.85 0.6h0.85m-0.85 5h0.85m-0.85 0.2h0.85m-0.85 0.4h0.85m-0.85 0.6h0.85m-0.85 5.6h0.85m-0.85 2h0.85m-0.85 2.8h0.85m-0.85 0.6h0.85m-0.85 0.6h0.85m-0.85 4.6h0.85m-0.85 0.2h0.85m-0.85 1.8h0.85m-0.65 -48.2h0.85m-0.85 1.4h0.85m-0.85 3.4h0.85m-0.85 0.8h0.85m-0.85 3.8h0.85m-0.85 1h0.85m-0.85 1.8h0.85m-0.85 0.2h0.85m-0.85 1.4h0.85m-0.85 5h0.85m-0.85 0.4h0.85m-0.85 1.2h0.85m-0.85 3.8h0.85m-0.85 0.6h0.85m-0.85 0.2h0.85m-0.85 0.8h0.85m-0.85 7.4h0.85m-0.85 1.6h0.85m-0.85 1.6h0.85m-0.85 1.4h0.85m-0.85 2.2h0.85m-0.85 4.2h0.85m-0.85 3.2h0.85m-0.85 3h0.85m-0.85 2h0.85m-0.65 -52.2h0.85m-0.85 1.2h0.85m-0.85 0.6h0.85m-0.85 0.6h0.85m-0.85 1h0.85m-0.85 1h0.85m-0.85 0.8h0.85m-0.85 0.2h0.85m-0.85 0.6h0.85m-0.85 0.6h0.85m-0.85 1h0.85m-0.85 1h0.85m-0.85 0.2h0.85m-0.85 1h0.85m-0.85 2.2h0.85m-0.85 0.6h0.85m-0.85 0.8h0.85m-0.85 4h0.85m-0.85 2h0.85m-0.85 1.4h0.85m-0.85 3.6h0.85m-0.85 0.2h0.85m-0.85 2.2h0.85m-0.85 0.6h0.85m-0.85 0.4h0.85m-0.85 0.4h0.85m-0.85 3.8h0.85m-0.85 0.6h0.85m-0.85 5.2h0.85m-0.85 4h0.85m-0.85 11.4h0.85m-0.85 2.6h0.85m-0.65 -59.2h0.85m-0.85 6.6h0.85m-0.85 0.2h0.85m-0.85 1.2h0.85m-0.85 0.8h0.85m-0.85 0.2h0.85m-0.85 0.4h0.85m-0.85 4.6h0.85m-0.85 7h0.85m-0.85 1h0.85m-0.85 2.6h0.85m-0.85 4.4h0.85m-0.85 1.4h0.85m-0.85 3.2h0.85m-0.85 1.2h0.85m-0.85 0.4h0.85m-0.85 0.8h0.85m-0.85 1.8h0.85m-0.85 2.2h0.85m-0.85 4h0.85m-0.85 2h0.85m-0.85 4h0.85m-0.85 3.8h0.85m-0.65 -58.6h0.85m-0.85 5.8h0.85m-0.85 1.4h0.85m-0.85 0.8h0.85m-0.85 5.6h0.85m-0.85 0.8h0.85m-0.85 5.6h0.85m-0.85 3.4h0.85m-0.85 1.4h0.85m-0.85 0.4h0.85m-0.85 0.2h0.85m-0.85 0.8h0.85m-0.85 1.2h0.85m-0.85 0.2h0.85m-0.85 1.2h0.85m-0.85 1.8h0.85m-0.85 3.4h0.85m-0.85 1.6h0.85m-0.85 3.4h0.85m-0.85 1h0.85m-0.85 4.8h0.85m-0.85 5.6h0.85m-0.85 4.4h0.85m-0.85 0.8h0.85m-0.85 1.4h0.85m-0.85 3.8h0.85m-0.65 -55h0.85m-0.85 5h0.85m-0.85 1.4h0.85m-0.85 2.4h0.85m-0.85 4.2h0.85m-0.85 1.8h0.85m-0.85 1h0.85m-0.85 0.4h0.85m-0.85 0.4h0.85m-0.85 0.8h0.85m-0.85 2.4h0.85m-0.85 6.4h0.85m-0.85 1.6h0.85m-0.85 2h0.85m-0.85 3.8h0.85m-0.85 0.4h0.85m-0.85 0.4h0.85m-0.85 2.2h0.85m-0.85 1h0.85m-0.85 2.2h0.85m-0.85 1.8h0.85m-0.85 2h0.85m-0.85 1.8h0.85m-0.85 2.2h0.85m-0.85 0.2h0.85m-0.65 -44.6h0.85m-0.85 2.6h0.85m-0.85 2.4h0.85m-0.85 2.6h0.85m-0.85 2.6h0.85m-0.85 5.2h0.85m-0.85 0.2h0.85m-0.85 0.4h0.85m-0.85 4.4h0.85m-0.85 2.8h0.85m-0.85 0.2h0.85m-0.85 3.2h0.85m-0.85 2.2h0.85m-0.85 2h0.85m-0.85 7h0.85m-0.85 4h0.85m-0.85 9.4h0.85m-0.85 0.6h0.85m-0.85 2.8h0.85m-0.65 -63.8h0.85m-0.85 13.2h0.85m-0.85 2.6h0.85m-0.85 0.6h0.85m-0.85 3.8h0.85m-0.85 1h0.85m-0.85 0.6h0.85m-0.85 2.4h0.85m-0.85 0.6h0.85m-0.85 1.8h0.85m-0.85 1h0.85m-0.85 3h0.85m-0.85 3.6h0.85m-0.85 0.8h0.85m-0.85 0.6h0.85m-0.85 4.4h0.85m-0.85 3h0.85m-0.85 0.2h0.85m-0.85 1.8h0.85m-0.85 1.2h0.85m-0.85 1h0.85m-0.85 5.4h0.85m-0.85 1.8h0.85m-0.85 1.4h0.85m-0.85 6h0.85m-0.65 -51.2h0.85m-0.85 1h0.85m-0.85 2.2h0.85m-0.85 5.4h0.85m-0.85 1.8h0.85m-0.85 1.2h0.85m-0.85 0.6h0.85m-0.85 4h0.85m-0.85 2.4h0.85m-0.85 1.2h0.85m-0.85 1h0.85m-0.85 1.8h0.85m-0.85 2.6h0.85m-0.85 5.4h0.85m-0.85 2.4h0.85m-0.85 0.8h0.85m-0.85 0.4h0.85m-0.85 2h0.85m-0.85 4.8h0.85m-0.85 1h0.85m-0.85 2.8h0.85m-0.65 -44.8h0.85m-0.85 0.8h0.85m-0.85 0.4h0.85m-0.85 0.2h0.85m-0.85 0.2h0.85m-0.85 0.6h0.85m-0.85 1.2h0.85m-0.85 0.6h0.85m-0.85 0.4h0.85m-0.85 0.4h0.85m-0.85 2h0.85m-0.85 3h0.85m-0.85 2.8h0.85m-0.85 1.4h0.85m-0.85 6.6h0.85m-0.85 3h0.85m-0.85 6.2h0.85m-0.85 1.6h0.85m-0.85 2.2h0.85m-0.85 1.4h0.85m-0.85 0.8h0.85m-0.85 3.8h0.85m-0.85 10.4h0.85m-0.65 -48h0.85m-0.85 1.4h0.85m-0.85 2.4h0.85m-0.85 2.8h0.85m-0.85 1.8h0.85m-0.85 1.6h0.85m-0.85 6.8h0.85m-0.85 8.4h0.85m-0.85 2.6h0.85m-0.85 2.6h0.85m-0.85 2.8h0.85m-0.85 4.4h0.85m-0.85 4.6h0.85m-0.85 12.8h0.85m-0.65 -58.8h0.85m-0.85 0.8h0.85m-0.85 0.6h0.85m-0.85 0.6h0.85m-0.85 3h0.85m-0.85 0.8h0.85m-0.85 1.2h0.85m-0.85 0.4h0.85m-0.85 0.2h0.85m-0.85 0.8h0.85m-0.85 1.4h0.85m-0.85 0.6h0.85m-0.85 2.2h0.85m-0.85 4h0.85m-0.85 0.4h0.85m-0.85 0.6h0.85m-0.85 1.8h0.85m-0.85 3.4h0.85m-0.85 0.6h0.85m-0.85 8.6h0.85m-0.85 2.8h0.85m-0.85 2.6h0.85m-0.85 4.8h0.85m-0.85 2.4h0.85m-0.85 15.2h0.85m-0.65 -53.8h0.85m-0.85 5h0.85m-0.85 1.2h0.85m-0.85 1.8h0.85m-0.85 0.6h0.85m-0.85 1.8h0.85m-0.85 7.2h0.85m-0.85 1.6h0.85m-0.85 1h0.85m-0.85 0.6h0.85m-0.85 2.4h0.85m-0.85 0.2h0.85m-0.85 1.6h0.85m-0.85 0.4h0.85m-0.85 4.2h0.85m-0.85 2.8h0.85m-0.85 2.6h0.85m-0.85 1.6h0.85m-0.85 1.2h0.85m-0.85 7h0.85m-0.85 5h0.85m-0.85 2.4h0.85m-0.65 -63.8h0.85m-0.85 4.6h0.85m-0.85 3.6h0.85m-0.85 1h0.85m-0.85 2.6h0.85m-0.85 1.6h0.85m-0.85 0.6h0.85m-0.85 1h0.85m-0.85 2.8h0.85m-0.85 1.6h0.85m-0.85 0.8h0.85m-0.85 1h0.85m-0.85 0.2h0.85m-0.85 11h0.85m-0.85 0.2h0.85m-0.85 3.4h0.85m-0.85 1.2h0.85m-0.85 5.6h0.85m-0.85 2.6h0.85m-0.85 0.4h0.85m-0.85 1.6h0.85m-0.85 0.2h0.85m-0.85 1.4h0.85m-0.85 2.6h0.85m-0.85 0.2h0.85m-0.85 0.6h0.85m-0.85 0.2h0.85m-0.85 1h0.85m-0.85 11.2h0.85m-0.65 -57.8h0.85m-0.85 0.6h0.85m-0.85 1.6h0.85m-0.85 1.4h0.85m-0.85 1.2h0.85m-0.85 0.4h0.85m-0.85 0.4h0.85m-0.85 0.6h0.85m-0.85 0.4h0.85m-0.85 1.8h0.85m-0.85 2h0.85m-0.85 2.4h0.85m-0.85 0.2h0.85m-0.85 1.6h0.85m-0.85 3h0.85m-0.85 5.6h0.85m-0.85 1.6h0.85m-0.85 0.6h0.85m-0.85 3.4h0.85m-0.85 3.8h0.85m-0.85 5.4h0.85m-0.85 5h0.85m-0.85 4.4h0.85m-0.85 5.2h0.85m-0.65 -50h0.85m-0.85 2h0.85m-0.85 1.2h0.85m-0.85 1h0.85m-0.85 1h0.85m-0.85 0.6h0.85m-0.85 1.6h0.85m-0.85 2.8h0.85m-0.85 1.2h0.85m-0.85 0.6h0.85m-0.85 3.2h0.85m-0.85 1.6h0.85m-0.85 0.2h0.85m-0.85 3h0.85m-0.85 0.2h0.85m-0.85 0.4h0.85m-0.85 0.8h0.85m-0.85 1.8h0.85m-0.85 4.8h0.85m-0.85 0.6h0.85m-0.85 1h0.85m-0.85 1h0.85m-0.85 8h0.85m-0.85 3.2h0.85m-0.85 1.6h0.85m-0.85 9.8h0.85m-0.65 -58.8h0.85m-0.85 2.8h0.85m-0.85 1.2h0.85m-0.85 0.6h0.85m-0.85 0.6h0.85m-0.85 2.6h0.85m-0.85 4h0.85m-0.85 0.2h0.85m-0.85 0.2h0.85m-0.85 0.2h0.85m-0.85 5.6h0.85m-0.85 0.4h0.85m-0.85 1.4h0.85m-0.85 2.8h0.85m-0.85 5h0.85m-0.85 0.6h0.85m-0.85 3.2h0.85m-0.85 4.4h0.85m-0.85 1.2h0.85m-0.85 1.4h0.85m-0.85 3.2h0.85m-0.85 3h0.85m-0.85 16.4h0.85m-0.65 -67.4h0.85m-0.85 10h0.85m-0.85 0.4h0.85m-0.85 0.4h0.85m-0.85 0.8h0.85m-0.85 1.8h0.85m-0.85 0.2h0.85m-0.85 1.4h0.85m-0.85 1.4h0.85m-0.85 2h0.85m-0.85 3.4h0.85m-0.85 5.6h0.85m-0.85 4.8h0.85m-0.85 2.2h0.85m-0.85 1.6h0.85m-0.85 3.2h0.85m-0.85 0.8h0.85m-0.85 0.6h0.85m-0.85 2.6h0.85m-0.85 0.2h0.85m-0.85 2.2h0.85m-0.85 4h0.85m-0.85 7.6h0.85m-0.85 0.2h0.85m-0.65 -49.4h0.85m-0.85 0.6h0.85m-0.85 2h0.85m-0.85 0.2h0.85m-0.85 1.8h0.85m-0.85 0.6h0.85m-0.85 1.2h0.85m-0.85 0.2h0.85m-0.85 2h0.85m-0.85 0.2h0.85m-0.85 0.4h0.85m-0.85 1h0.85m-0.85 4h0.85m-0.85 0.2h0.85m-0.85 1.8h0.85m-0.85 0.2h0.85m-0.85 0.6h0.85m-0.85 2.2h0.85m-0.85 1.4h0.85m-0.85 2.4h0.85m-0.85 2.8h0.85m-0.85 1.8h0.85m-0.85 0.4h0.85m-0.85 2.2h0.85m-0.85 0.6h0.85m-0.85 2.2h0.85m-0.85 3h0.85m-0.85 0.2h0.85m-0.85 5.8h0.85m-0.85 15.2h0.85m-0.65 -58h0.85m-0.85 0.6h0.85m-0.85 7.2h0.85m-0.85 3.4h0.85m-0.85 4.2h0.85m-0.85 3.4h0.85m-0.85 1.2h0.85m-0.85 2.4h0.85m-0.85 1.6h0.85m-0.85 3.2h0.85m-0.85 5.2h0.85m-0.85 3h0.85m-0.85 0.8h0.85m-0.85 0.4h0.85m-0.85 0.4h0.85m-0.85 2.4h0.85m-0.85 0.6h0.85m-0.85 0.4h0.85m-0.85 3.4h0.85m-0.85 3.4h0.85m-0.85 1.4h0.85m-0.85 1.8h0.85m-0.85 9.2h0.85m-0.65 -59h0.85m-0.85 0.4h0.85m-0.85 5h0.85m-0.85 1.8h0.85m-0.85 1.4h0.85m-0.85 1h0.85m-0.85 1.8h0.85m-0.85 1.2h0.85m-0.85 0.8h0.85m-0.85 0.6h0.85m-0.85 0.2h0.85m-0.85 2h0.85m-0.85 0.6h0.85m-0.85 3.2h0.85m-0.85 3.4h0.85m-0.85 5h0.85m-0.85 4.8h0.85m-0.85 1.2h0.85m-0.85 5h0.85m-0.85 8.8h0.85m-0.85 5.4h0.85m-0.65 -50.2h0.85m-0.85 0.8h0.85m-0.85 0.4h0.85m-0.85 1.8h0.85m-0.85 2.6h0.85m-0.85 0.8h0.85m-0.85 0.2h0.85m-0.85 1.4h0.85m-0.85 0.4h0.85m-0.85 0.8h0.85m-0.85 0.2h0.85m-0.85 1h0.85m-0.85 0.8h0.85m-0.85 1h0.85m-0.85 0.6h0.85m-0.85 1.2h0.85m-0.85 0.6h0.85m-0.85 0.8h0.85m-0.85 3h0.85m-0.85 4h0.85m-0.85 10.2h0.85m-0.85 4h0.85m-0.85 3.4h0.85m-0.85 1.6h0.85m-0.85 2.2h0.85m-0.85 1.8h0.85m-0.65 -47.6h0.85m-0.85 2.4h0.85m-0.85 0.4h0.85m-0.85 1h0.85m-0.85 0.8h0.85m-0.85 1.6h0.85m-0.85 0.4h0.85m-0.85 0.2h0.85m-0.85 0.2h0.85m-0.85 0.2h0.85m-0.85 1h0.85m-0.85 1.6h0.85m-0.85 0.6h0.85m-0.85 4.6h0.85m-0.85 2.8h0.85m-0.85 1.2h0.85m-0.85 1h0.85m-0.85 0.6h0.85m-0.85 3.6h0.85m-0.85 1.4h0.85m-0.85 0.6h0.85m-0.85 6.2h0.85m-0.85 1h0.85m-0.85 4.8h0.85m-0.85 2.2h0.85m-0.85 0.4h0.85m-0.85 3.4h0.85m-0.85 0.8h0.85m-0.85 0.8h0.85m-0.85 1h0.85m-0.85 1h0.85m-0.85 0.4h0.85m-0.85 2h0.85m-0.85 3h0.85m-0.85 4.2h0.85m-0.85 0.2h0.85m-0.65 -58h0.85m-0.85 0.8h0.85m-0.85 1.6h0.85m-0.85 1.2h0.85m-0.85 0.4h0.85m-0.85 1h0.85m-0.85 1.2h0.85m-0.85 0.2h0.85m-0.85 3h0.85m-0.85 2.6h0.85m-0.85 4.4h0.85m-0.85 4.2h0.85m-0.85 1.8h0.85m-0.85 1.8h0.85m-0.85 1h0.85m-0.85 5.4h0.85m-0.85 1.6h0.85m-0.85 4.2h0.85m-0.85 3.2h0.85m-0.85 1h0.85m-0.85 5h0.85m-0.85 2h0.85m-0.65 -49.2h0.85m-0.85 3.2h0.85m-0.85 6h0.85m-0.85 0.8h0.85m-0.85 0.4h0.85m-0.85 2h0.85m-0.85 0.6h0.85m-0.85 1.4h0.85m-0.85 1.2h0.85m-0.85 0.2h0.85m-0.85 1.2h0.85m-0.85 2h0.85m-0.85 3h0.85m-0.85 2h0.85m-0.85 1.2h0.85m-0.85 0.2h0.85m-0.85 3.8h0.85m-0.85 9h0.85m-0.85 0.8h0.85m-0.85 0.8h0.85m-0.85 1.2h0.85m-0.85 5.8h0.85m-0.85 0.6h0.85m-0.65 -43h0.85m-0.85 1.6h0.85m-0.85 1.2h0.85m-0.85 0.8h0.85m-0.85 1.2h0.85m-0.85 0.6h0.85m-0.85 6.4h0.85m-0.85 3.4h0.85m-0.85 0.6h0.85m-0.85 0.8h0.85m-0.85 0.4h0.85m-0.85 5h0.85m-0.85 3.8h0.85m-0.85 0.4h0.85m-0.85 5h0.85m-0.85 1.6h0.85m-0.85 0.6h0.85m-0.85 1.2h0.85m-0.85 0.4h0.85m-0.85 0.2h0.85m-0.85 0.6h0.85m-0.85 1h0.85m-0.85 3.4h0.85m-0.85 3.6h0.85m-0.85 1.2h0.85m-0.85 0.4h0.85m-0.85 1.4h0.85m-0.85 9.2h0.85m-0.65 -59h0.85m-0.85 5.2h0.85m-0.85 0.2h0.85m-0.85 1.6h0.85m-0.85 1.6h0.85m-0.85 0.4h0.85m-0.85 0.4h0.85m-0.85 0.2h0.85m-0.85 1.8h0.85m-0.85 0.8h0.85m-0.85 0.6h0.85m-0.85 0.2h0.85m-0.85 3h0.85m-0.85 0.6h0.85m-0.85 5.8h0.85m-0.85 2.6h0.85m-0.85 0.4h0.85m-0.85 3.4h0.85m-0.85 0.8h0.85m-0.85 0.8h0.85m-0.85 0.6h0.85m-0.85 2.6h0.85m-0.85 0.6h0.85m-0.85 1h0.85m-0.85 1h0.85m-0.85 2.2h0.85m-0.85 2.8h0.85m-0.85 1.8h0.85m-0.85 2.6h0.85m-0.85 2.6h0.85m-0.85 0.6h0.85m-0.65 -48.2h0.85m-0.85 7.8h0.85m-0.85 1.2h0.85m-0.85 1.4h0.85m-0.85 2.8h0.85m-0.85 1.2h0.85m-0.85 6.8h0.85m-0.85 0.6h0.85m-0.85 1.2h0.85m-0.85 4.8h0.85m-0.85 2h0.85m-0.85 2.8h0.85m-0.85 0.4h0.85m-0.85 0.6h0.85m-0.85 1.4h0.85m-0.85 0.6h0.85m-0.85 5h0.85m-0.65 -51h0.85m-0.85 6.2h0.85m-0.85 6.2h0.85m-0.85 2.8h0.85m-0.85 0.8h0.85m-0.85 2.4h0.85m-0.85 1.6h0.85m-0.85 5.4h0.85m-0.85 5.4h0.85m-0.85 2.4h0.85m-0.85 0.2h0.85m-0.85 0.2h0.85m-0.85 0.4h0.85m-0.85 0.4h0.85m-0.85 5.2h0.85m-0.85 5h0.85m-0.85 4.8h0.85m-0.85 4.8h0.85m-0.85 0.2h0.85m-0.85 7h0.85m-0.85 5.2h0.85m-0.65 -57.8h0.85m-0.85 0.2h0.85m-0.85 1.8h0.85m-0.85 1.8h0.85m-0.85 0.8h0.85m-0.85 0.2h0.85m-0.85 0.8h0.85m-0.85 0.4h0.85m-0.85 1.2h0.85m-0.85 0.2h0.85m-0.85 1.8h0.85m-0.85 0.2h0.85m-0.85 0.6h0.85m-0.85 1.6h0.85m-0.85 1.2h0.85m-0.85 1.6h0.85m-0.85 0.4h0.85m-0.85 1h0.85m-0.85 1h0.85m-0.85 10.6h0.85m-0.85 0.4h0.85m-0.85 11.2h0.85m-0.85 0.8h0.85m-0.85 5.8h0.85m-0.85 0.2h0.85m-0.85 0.8h0.85m-0.85 1h0.85m-0.85 2.2h0.85m-0.85 0.8h0.85m-0.65 -50.8h0.85m-0.85 0.2h0.85m-0.85 3h0.85m-0.85 4h0.85m-0.85 0.8h0.85m-0.85 0.2h0.85m-0.85 0.2h0.85m-0.85 1h0.85m-0.85 0.2h0.85m-0.85 3.2h0.85m-0.85 2h0.85m-0.85 1.6h0.85m-0.85 0.2h0.85m-0.85 0.4h0.85m-0.85 3.6h0.85m-0.85 0.2h0.85m-0.85 3.2h0.85m-0.85 1.6h0.85m-0.85 0.8h0.85m-0.85 1.6h0.85m-0.85 2.2h0.85m-0.85 4h0.85m-0.85 1.6h0.85m-0.85 0.6h0.85m-0.85 4.8h0.85m-0.85 5.8h0.85m-0.85 8.4h0.85m-0.65 -55.6h0.85m-0.85 1h0.85m-0.85 0.4h0.85m-0.85 0.4h0.85m-0.85 2.2h0.85m-0.85 1.4h0.85m-0.85 2.8h0.85m-0.85 2.8h0.85m-0.85 2.6h0.85m-0.85 3.2h0.85m-0.85 2.4h0.85m-0.85 2.8h0.85m-0.85 1.4h0.85m-0.85 2.6h0.85m-0.85 1.6h0.85m-0.85 2.8h0.85m-0.85 1.4h0.85m-0.85 9h0.85m-0.85 2.6h0.85m-0.85 2.2h0.85m-0.85 6.4h0.85m-0.85 2.2h0.85m-0.85 0.2h0.85m-0.65 -61.2h0.85m-0.85 11h0.85m-0.85 2.8h0.85m-0.85 0.6h0.85m-0.85 1.2h0.85m-0.85 0.2h0.85m-0.85 3.2h0.85m-0.85 3.2h0.85m-0.85 2.6h0.85m-0.85 2.6h0.85m-0.85 0.2h0.85m-0.85 3.6h0.85m-0.85 0.6h0.85m-0.85 1.6h0.85m-0.85 1.6h0.85m-0.85 0.6h0.85m-0.85 1.6h0.85m-0.85 0.8h0.85m-0.85 5.2h0.85m-0.85 11.2h0.85m-0.85 2.8h0.85m-0.85 4.8h0.85m-0.85 0.8h0.85m-0.65 -55h0.85m-0.85 2.4h0.85m-0.85 1.4h0.85m-0.85 0.2h0.85m-0.85 0.4h0.85m-0.85 0.4h0.85m-0.85 0.4h0.85m-0.85 2.8h0.85m-0.85 1h0.85m-0.85 1.4h0.85m-0.85 0.8h0.85m-0.85 0.6h0.85m-0.85 2h0.85m-0.85 1.6h0.85m-0.85 5.2h0.85m-0.85 5.4h0.85m-0.85 5.4h0.85m-0.85 2.8h0.85m-0.85 2h0.85m-0.85 0.4h0.85m-0.85 5.4h0.85m-0.85 10.6h0.85m-0.65 -53.4h0.85m-0.85 0.6h0.85m-0.85 3.4h0.85m-0.85 0.2h0.85m-0.85 4h0.85m-0.85 0.4h0.85m-0.85 1.6h0.85m-0.85 2.8h0.85m-0.85 1.8h0.85m-0.85 3h0.85m-0.85 1.2h0.85m-0.85 4h0.85m-0.85 3.2h0.85m-0.85 9.6h0.85m-0.85 1.6h0.85m-0.85 1.6h0.85m-0.85 0.8h0.85m-0.85 1h0.85m-0.85 0.2h0.85m-0.85 9.2h0.85m-0.85 5.2h0.85m-0.85 0.2h0.85m-0.85 2.8h0.85m-0.65 -57.8h0.85m-0.85 1.2h0.85m-0.85 0.4h0.85m-0.85 0.4h0.85m-0.85 1.8h0.85m-0.85 1.6h0.85m-0.85 1.8h0.85m-0.85 3.6h0.85m-0.85 0.8h0.85m-0.85 9.8h0.85m-0.85 2.2h0.85m-0.85 0.4h0.85m-0.85 0.2h0.85m-0.85 0.2h0.85m-0.85 0.2h0.85m-0.85 2.6h0.85m-0.85 0.4h0.85m-0.85 0.8h0.85m-0.85 0.2h0.85m-0.85 0.2h0.85m-0.85 5h0.85m-0.85 3.2h0.85m-0.85 1.4h0.85m-0.85 1.8h0.85m-0.85 0.8h0.85m-0.85 1.8h0.85m-0.85 0.2h0.85m-0.85 2.8h0.85m-0.85 3.2h0.85m-0.65 -47.6h0.85m-0.85 2.6h0.85m-0.85 0.4h0.85m-0.85 0.8h0.85m-0.85 0.2h0.85m-0.85 5.8h0.85m-0.85 1h0.85m-0.85 1h0.85m-0.85 1.2h0.85m-0.85 2.8h0.85m-0.85 1.8h0.85m-0.85 6.2h0.85m-0.85 0.6h0.85m-0.85 1.8h0.85m-0.85 1.8h0.85m-0.85 2h0.85m-0.85 1h0.85m-0.85 1.4h0.85m-0.85 3.2h0.85m-0.85 5.8h0.85m-0.85 2.4h0.85m-0.85 5.2h0.85m-0.85 8.2h0.85m-0.85 0.8h0.85m-0.65 -59.4h0.85m-0.85 0.8h0.85m-0.85 0.8h0.85m-0.85 1.8h0.85m-0.85 0.4h0.85m-0.85 0.6h0.85m-0.85 1.2h0.85m-0.85 1.4h0.85m-0.85 4.6h0.85m-0.85 0.2h0.85m-0.85 0.8h0.85m-0.85 0.2h0.85m-0.85 1h0.85m-0.85 0.4h0.85m-0.85 1h0.85m-0.85 1h0.85m-0.85 0.8h0.85m-0.85 1.2h0.85m-0.85 0.8h0.85m-0.85 10.6h0.85m-0.85 4.8h0.85m-0.85 0.6h0.85m-0.85 4h0.85m-0.85 15.6h0.85m-0.85 0.6h0.85m-0.65 -54.4h0.85m-0.85 2h0.85m-0.85 0.4h0.85m-0.85 0.8h0.85m-0.85 9.8h0.85m-0.85 1.4h0.85m-0.85 2.2h0.85m-0.85 0.6h0.85m-0.85 0.6h0.85m-0.85 4.8h0.85m-0.85 1.2h0.85m-0.85 0.2h0.85m-0.85 1.4h0.85m-0.85 1.4h0.85m-0.85 4.2h0.85m-0.85 1.4h0.85m-0.85 3.4h0.85m-0.85 4.8h0.85m-0.85 2.6h0.85m-0.85 3h0.85m-0.85 3h0.85m-0.65 -45.4h0.85m-0.85 5h0.85m-0.85 0.2h0.85m-0.85 2h0.85m-0.85 7.8h0.85m-0.85 2.4h0.85m-0.85 3.4h0.85m-0.85 4.4h0.85m-0.85 2h0.85m-0.85 1.4h0.85m-0.85 1h0.85m-0.85 2.2h0.85m-0.85 0.2h0.85m-0.85 6.6h0.85m-0.85 2.2h0.85m-0.85 1h0.85m-0.85 1.4h0.85m-0.85 1h0.85m-0.85 7.4h0.85m-0.65 -52.6h0.85m-0.85 0.8h0.85m-0.85 0.2h0.85m-0.85 0.8h0.85m-0.85 0.2h0.85m-0.85 1.4h0.85m-0.85 0.2h0.85m-0.85 0.2h0.85m-0.85 0.6h0.85m-0.85 2h0.85m-0.85 0.8h0.85m-0.85 1.8h0.85m-0.85 5h0.85m-0.85 4.2h0.85m-0.85 3.4h0.85m-0.85 1.2h0.85m-0.85 0.6h0.85m-0.85 3.4h0.85m-0.85 6.4h0.85m-0.85 3.8h0.85m-0.85 3.2h0.85m-0.85 0.4h0.85m-0.85 5h0.85m-0.65 -48.2h0.85m-0.85 2.8h0.85m-0.85 3.2h0.85m-0.85 1.2h0.85m-0.85 0.6h0.85m-0.85 9.6h0.85m-0.85 2.6h0.85m-0.85 0.6h0.85m-0.85 9.8h0.85m-0.85 0.4h0.85m-0.85 2h0.85m-0.85 3.8h0.85m-0.85 0.4h0.85m-0.85 4.2h0.85m-0.85 0.8h0.85m-0.85 1.6h0.85m-0.85 1.4h0.85m-0.85 3h0.85m-0.85 3h0.85m-0.65 -56.8h0.85m-0.85 4.4h0.85m-0.85 0.4h0.85m-0.85 2h0.85m-0.85 2.8h0.85m-0.85 8.4h0.85m-0.85 0.8h0.85m-0.85 2.6h0.85m-0.85 0.2h0.85m-0.85 0.4h0.85m-0.85 4h0.85m-0.85 5.6h0.85m-0.85 9h0.85m-0.85 5.8h0.85m-0.85 1.8h0.85m-0.85 0.4h0.85m-0.85 2.8h0.85m-0.85 1.2h0.85m-0.85 1.2h0.85m-0.85 3.8h0.85m-0.85 2.6h0.85m-0.85 1.4h0.85m-0.85 1h0.85m-0.65 -58.6h0.85m-0.85 2h0.85m-0.85 4.6h0.85m-0.85 0.2h0.85m-0.85 0.8h0.85m-0.85 0.8h0.85m-0.85 0.6h0.85m-0.85 0.2h0.85m-0.85 1h0.85m-0.85 0.2h0.85m-0.85 1.2h0.85m-0.85 9.8h0.85m-0.85 0.8h0.85m-0.85 1.6h0.85m-0.85 2.2h0.85m-0.85 2.2h0.85m-0.85 0.4h0.85m-0.85 0.4h0.85m-0.85 4.6h0.85m-0.85 2.2h0.85m-0.85 0.6h0.85m-0.85 3h0.85m-0.85 2.8h0.85m-0.85 3.6h0.85m-0.85 8h0.85m-0.85 2.2h0.85m-0.65 -52.6h0.85m-0.85 2.4h0.85m-0.85 1.2h0.85m-0.85 1.4h0.85m-0.85 5.8h0.85m-0.85 1.6h0.85m-0.85 5.4h0.85m-0.85 4.4h0.85m-0.85 5.8h0.85m-0.85 4.2h0.85m-0.85 6.8h0.85m-0.85 0.4h0.85m-0.85 2.4h0.85m-0.85 1h0.85m-0.85 3h0.85m-0.85 0.4h0.85m-0.85 0.4h0.85m-0.85 2.6h0.85m-0.85 6.8h0.85m-0.65 -58.8h0.85m-0.85 2.6h0.85m-0.85 0.2h0.85m-0.85 1h0.85m-0.85 1.6h0.85m-0.85 1.6h0.85m-0.85 0.2h0.85m-0.85 3.6h0.85m-0.85 0.8h0.85m-0.85 0.2h0.85m-0.85 1.2h0.85m-0.85 0.8h0.85m-0.85 2h0.85m-0.85 2.4h0.85m-0.85 2h0.85m-0.85 0.2h0.85m-0.85 2.2h0.85m-0.85 3.4h0.85m-0.85 2.2h0.85m-0.85 1h0.85m-0.85 2.4h0.85m-0.85 2h0.85m-0.85 2.4h0.85m-0.85 1.4h0.85m-0.85 0.2h0.85m-0.85 5h0.85m-0.85 7.8h0.85m-0.65 -58.6h0.85m-0.85 13.4h0.85m-0.85 1.8h0.85m-0.85 0.6h0.85m-0.85 2.4h0.85m-0.85 3.8h0.85m-0.85 0.4h0.85m-0.85 9.4h0.85m-0.85 0.4h0.85m-0.85 3.4h0.85m-0.85 3.8h0.85m-0.85 5.4h0.85m-0.85 2h0.85m-0.85 2.6h0.85m-0.85 13.6h0.85m-0.85 2.2h0.85m-0.65 -60.4h0.85m-0.85 5.4h0.85m-0.85 0.6h0.85m-0.85 1.4h0.85m-0.85 0.8h0.85m-0.85 2h0.85m-0.85 0.2h0.85m-0.85 3.4h0.85m-0.85 1.4h0.85m-0.85 0.6h0.85m-0.85 0.4h0.85m-0.85 0.8h0.85m-0.85 1.2h0.85m-0.85 1.2h0.85m-0.85 2h0.85m-0.85 0.6h0.85m-0.85 1h0.85m-0.85 0.4h0.85m-0.85 2h0.85m-0.85 0.4h0.85m-0.85 0.6h0.85m-0.85 0.6h0.85m-0.85 5h0.85m-0.85 6.4h0.85m-0.85 7.8h0.85m-0.85 1.8h0.85m-0.85 1.4h0.85m-0.85 1h0.85m-0.85 2h0.85m-0.85 2.2h0.85m-0.85 1.4h0.85m-0.85 1h0.85m-0.65 -52.4h0.85m-0.85 3h0.85m-0.85 1h0.85m-0.85 2.8h0.85m-0.85 1.4h0.85m-0.85 2h0.85m-0.85 3h0.85m-0.85 0.6h0.85m-0.85 0.2h0.85m-0.85 0.4h0.85m-0.85 0.6h0.85m-0.85 4.2h0.85m-0.85 0.4h0.85m-0.85 0.4h0.85m-0.85 0.8h0.85m-0.85 2.2h0.85m-0.85 0.2h0.85m-0.85 3.8h0.85m-0.85 0.4h0.85m-0.85 0.2h0.85m-0.85 2.6h0.85m-0.85 3.8h0.85m-0.85 0.8h0.85m-0.85 18.6h0.85m-0.85 0.6h0.85m-0.65 -52.6h0.85m-0.85 1.6h0.85m-0.85 4.2h0.85m-0.85 3.2h0.85m-0.85 2.4h0.85m-0.85 2h0.85m-0.85 5.6h0.85m-0.85 6.6h0.85m-0.85 1h0.85m-0.85 1.4h0.85m-0.85 7.8h0.85m-0.85 8.2h0.85m-0.85 1.4h0.85m-0.85 0.2h0.85m-0.85 6.8h0.85m-0.85 0.2h0.85m-0.85 2h0.85m-0.65 -55.8h0.85m-0.85 1h0.85m-0.85 1.8h0.85m-0.85 2.8h0.85m-0.85 1.2h0.85m-0.85 1.4h0.85m-0.85 1h0.85m-0.85 0.2h0.85m-0.85 2.4h0.85m-0.85 2.6h0.85m-0.85 0.2h0.85m-0.85 3.2h0.85m-0.85 2h0.85m-0.85 4h0.85m-0.85 0.2h0.85m-0.85 5h0.85m-0.85 1h0.85m-0.85 0.4h0.85m-0.85 1.8h0.85m-0.85 0.4h0.85m-0.85 3h0.85m-0.85 2.6h0.85m-0.85 1.8h0.85m-0.85 9.6h0.85m-0.85 1.2h0.85m-0.85 1.6h0.85m-0.65 -55h0.85m-0.85 1.2h0.85m-0.85 6.4h0.85m-0.85 1.6h0.85m-0.85 0.4h0.85m-0.85 0.6h0.85m-0.85 1.8h0.85m-0.85 0.6h0.85m-0.85 2.4h0.85m-0.85 0.4h0.85m-0.85 1h0.85m-0.85 5.4h0.85m-0.85 2.4h0.85m-0.85 1.8h0.85m-0.85 6.2h0.85m-0.85 3h0.85m-0.85 3h0.85m-0.85 1.2h0.85m-0.85 4h0.85m-0.85 0.2h0.85m-0.85 1.4h0.85m-0.85 0.2h0.85m-0.85 1.6h0.85m-0.85 1h0.85m-0.85 1.2h0.85m-0.85 1.4h0.85m-0.65 -49.4h0.85m-0.85 3.2h0.85m-0.85 0.8h0.85m-0.85 2.2h0.85m-0.85 0.4h0.85m-0.85 1.6h0.85m-0.85 3h0.85m-0.85 10.2h0.85m-0.85 5h0.85m-0.85 5.6h0.85m-0.85 0.2h0.85m-0.85 2.8h0.85m-0.85 1.4h0.85m-0.85 1.8h0.85m-0.85 0.4h0.85m-0.85 3.6h0.85m-0.85 0.8h0.85m-0.85 2.2h0.85m-0.85 0.6h0.85m-0.85 1.4h0.85m-0.85 5h0.85m-0.85 1.2h0.85m-0.85 5.2h0.85m-0.65 -59.6h0.85m-0.85 2.6h0.85m-0.85 1h0.85m-0.85 0.2h0.85m-0.85 1.4h0.85m-0.85 1.2h0.85m-0.85 0.4h0.85m-0.85 1.6h0.85m-0.85 1h0.85m-0.85 0.6h0.85m-0.85 3h0.85m-0.85 3h0.85m-0.85 3.4h0.85m-0.85 1h0.85m-0.85 3.8h0.85m-0.85 2.6h0.85m-0.85 0.8h0.85m-0.85 10.4h0.85m-0.85 1h0.85m-0.85 1.2h0.85m-0.85 0.2h0.85m-0.85 2.8h0.85m-0.85 0.4h0.85m-0.85 1.2h0.85m-0.85 8h0.85m-0.85 1h0.85m-0.65 -53.2h0.85m-0.85 3.6h0.85m-0.85 3h0.85m-0.85 0.4h0.85m-0.85 0.8h0.85m-0.85 1.4h0.85m-0.85 2h0.85m-0.85 2h0.85m-0.85 0.8h0.85m-0.85 1.4h0.85m-0.85 1h0.85m-0.85 1.6h0.85m-0.85 0.2h0.85m-0.85 1.2h0.85m-0.85 1.8h0.85m-0.85 1.8h0.85m-0.85 2.8h0.85m-0.85 2.6h0.85m-0.85 2.8h0.85m-0.85 5h0.85m-0.85 1.8h0.85m-0.85 5.2h0.85m-0.85 2.8h0.85m-0.85 1h0.85m-0.85 5h0.85m-0.85 2h0.85m-0.85 0.6h0.85m-0.85 5h0.85m-0.65 -58.4h0.85m-0.85 7.8h0.85m-0.85 1.4h0.85m-0.85 1h0.85m-0.85 2h0.85m-0.85 0.2h0.85m-0.85 2h0.85m-0.85 1h0.85m-0.85 1.2h0.85m-0.85 0.4h0.85m-0.85 0.8h0.85m-0.85 4.8h0.85m-0.85 0.4h0.85m-0.85 7.2h0.85m-0.85 2.4h0.85m-0.85 2.6h0.85m-0.85 0.6h0.85m-0.85 4.6h0.85m-0.85 9.4h0.85m-0.85 2.4h0.85m-0.85 5.6h0.85m-0.65 -57h0.85m-0.85 5.2h0.85m-0.85 0.6h0.85m-0.85 1.6h0.85m-0.85 1h0.85m-0.85 1h0.85m-0.85 1.2h0.85m-0.85 0.2h0.85m-0.85 4h0.85m-0.85 0.2h0.85m-0.85 11.6h0.85m-0.85 8.2h0.85m-0.85 2.8h0.85m-0.85 9.6h0.85m-0.85 4.2h0.85m-0.85 4.4h0.85m-0.65 -58h0.85m-0.85 2.6h0.85m-0.85 0.2h0.85m-0.85 3.4h0.85m-0.85 2.4h0.85m-0.85 1.2h0.85m-0.85 6.4h0.85m-0.85 5.4h0.85m-0.85 2.2h0.85m-0.85 5.4h0.85m-0.85 3.8h0.85m-0.85 0.6h0.85m-0.85 1.8h0.85m-0.85 3h0.85m-0.85 13.4h0.85m-0.85 6.4h0.85m-0.65 -58.4h0.85m-0.85 6.2h0.85m-0.85 0.2h0.85m-0.85 0.6h0.85m-0.85 0.2h0.85m-0.85 1.2h0.85m-0.85 1.8h0.85m-0.85 0.4h0.85m-0.85 1.8h0.85m-0.85 0.8h0.85m-0.85 0.2h0.85m-0.85 10.8h0.85m-0.85 3.6h0.85m-0.85 1h0.85m-0.85 1h0.85m-0.85 0.6h0.85m-0.85 0.6h0.85m-0.85 2.8h0.85m-0.85 2.4h0.85m-0.85 0.8h0.85m-0.85 2.6h0.85m-0.85 2.6h0.85m-0.85 9h0.85m-0.85 9h0.85m-0.65 -60h0.85m-0.85 2.8h0.85m-0.85 0.8h0.85m-0.85 1.4h0.85m-0.85 3.2h0.85m-0.85 2.6h0.85m-0.85 0.6h0.85m-0.85 2.4h0.85m-0.85 2h0.85m-0.85 5.2h0.85m-0.85 8h0.85m-0.85 4h0.85m-0.85 3.2h0.85m-0.85 11.2h0.85m-0.85 4.2h0.85m-0.85 0.4h0.85m-0.85 0.2h0.85m-0.65 -47.8h0.85m-0.85 0.6h0.85m-0.85 1.4h0.85m-0.85 2h0.85m-0.85 0.6h0.85m-0.85 0.2h0.85m-0.85 2h0.85m-0.85 1.8h0.85m-0.85 2h0.85m-0.85 0.4h0.85m-0.85 2.6h0.85m-0.85 3.6h0.85m-0.85 5.8h0.85m-0.85 1.8h0.85m-0.85 0.6h0.85m-0.85 0.8h0.85m-0.85 3.8h0.85m-0.85 6h0.85m-0.85 0.2h0.85m-0.85 5.6h0.85m-0.85 0.2h0.85m-0.85 1h0.85m-0.85 9.4h0.85m-0.85 0.8h0.85m-0.65 -50.8h0.85m-0.85 1.2h0.85m-0.85 1.6h0.85m-0.85 3.2h0.85m-0.85 0.2h0.85m-0.85 14.2h0.85m-0.85 4h0.85m-0.85 6.4h0.85m-0.85 3.4h0.85m-0.85 4.2h0.85m-0.85 1.4h0.85m-0.85 1.6h0.85m-0.85 2h0.85m-0.85 2.4h0.85m-0.65 -50.8h0.85m-0.85 1.6h0.85m-0.85 2.4h0.85m-0.85 1.6h0.85m-0.85 3h0.85m-0.85 3.8h0.85m-0.85 7.2h0.85m-0.85 3.2h0.85m-0.85 1.2h0.85m-0.85 6.4h0.85m-0.85 11.6h0.85m-0.85 1h0.85m-0.85 0.4h0.85m-0.85 4.4h0.85m-0.85 0.8h0.85m-0.85 0.4h0.85m-0.65 -50.6h0.85m-0.85 0.8h0.85m-0.85 8.2h0.85m-0.85 0.6h0.85m-0.85 1.4h0.85m-0.85 2.2h0.85m-0.85 4.6h0.85m-0.85 2.6h0.85m-0.85 1.2h0.85m-0.85 3.8h0.85m-0.85 8.2h0.85m-0.85 0.8h0.85m-0.85 0.8h0.85m-0.85 1.6h0.85m-0.85 2.4h0.85m-0.85 1.4h0.85m-0.85 2h0.85m-0.85 2.8h0.85m-0.85 2.6h0.85m-0.85 6.6h0.85m-0.65 -54.8h0.85m-0.85 0.8h0.85m-0.85 0.2h0.85m-0.85 0.6h0.85m-0.85 8h0.85m-0.85 3h0.85m-0.85 0.2h0.85m-0.85 13.2h0.85m-0.85 1h0.85m-0.85 3h0.85m-0.85 4h0.85m-0.85 2.2h0.85m-0.85 2.8h0.85m-0.85 6h0.85m-0.85 4.6h0.85m-0.85 7h0.85m-0.85 1.2h0.85m-0.85 1.4h0.85m-0.65 -56.8h0.85m-0.85 3.8h0.85m-0.85 1.6h0.85m-0.85 0.4h0.85m-0.85 2h0.85m-0.85 1.6h0.85m-0.85 0.6h0.85m-0.85 0.6h0.85m-0.85 1.4h0.85m-0.85 0.6h0.85m-0.85 9.4h0.85m-0.85 8h0.85m-0.85 1.4h0.85m-0.85 2.6h0.85m-0.85 1.4h0.85m-0.85 1h0.85m-0.85 2.6h0.85m-0.85 4.6h0.85m-0.85 1h0.85m-0.85 3.8h0.85m-0.65 -45.8h0.85m-0.85 0.2h0.85m-0.85 2.2h0.85m-0.85 0.4h0.85m-0.85 1h0.85m-0.85 2.2h0.85m-0.85 0.2h0.85m-0.85 2.8h0.85m-0.85 3.4h0.85m-0.85 0.6h0.85m-0.85 1h0.85m-0.85 3h0.85m-0.85 5h0.85m-0.85 3.2h0.85m-0.85 5h0.85m-0.85 3.8h0.85m-0.85 2.4h0.85m-0.85 3.4h0.85m-0.85 1.8h0.85m-0.85 2h0.85m-0.85 11.6h0.85m-0.65 -53h0.85m-0.85 0.2h0.85m-0.85 0.8h0.85m-0.85 2.2h0.85m-0.85 3.8h0.85m-0.85 1.8h0.85m-0.85 7.2h0.85m-0.85 1h0.85m-0.85 5.6h0.85m-0.85 0.6h0.85m-0.85 1h0.85m-0.85 1.2h0.85m-0.85 6.6h0.85m-0.85 1.2h0.85m-0.85 5.4h0.85m-0.85 1.6h0.85m-0.85 6.2h0.85m-0.65 -53.4h0.85m-0.85 0.4h0.85m-0.85 8.4h0.85m-0.85 0.6h0.85m-0.85 2h0.85m-0.85 0.4h0.85m-0.85 5h0.85m-0.85 9.4h0.85m-0.85 0.6h0.85m-0.85 4.4h0.85m-0.85 0.6h0.85m-0.85 0.6h0.85m-0.85 0.6h0.85m-0.85 1h0.85m-0.85 1.2h0.85m-0.85 2h0.85m-0.85 11.4h0.85m-0.85 1.8h0.85m-0.85 1.4h0.85m-0.85 6h0.85m-0.65 -55.4h0.85m-0.85 2.6h0.85m-0.85 1h0.85m-0.85 6.2h0.85m-0.85 3.4h0.85m-0.85 2h0.85m-0.85 2.8h0.85m-0.85 6.2h0.85m-0.85 5.4h0.85m-0.85 0.8h0.85m-0.85 0.2h0.85m-0.85 3.4h0.85m-0.85 3.4h0.85m-0.85 2.2h0.85m-0.85 1h0.85m-0.85 7h0.85m-0.85 1.8h0.85m-0.65 -56.2h0.85m-0.85 6.6h0.85m-0.85 3h0.85m-0.85 2h0.85m-0.85 2.2h0.85m-0.85 0.4h0.85m-0.85 1.8h0.85m-0.85 0.4h0.85m-0.85 0.6h0.85m-0.85 1.2h0.85m-0.85 4.2h0.85m-0.85 7.2h0.85m-0.85 1h0.85m-0.85 3h0.85m-0.85 0.2h0.85m-0.85 5.4h0.85m-0.85 0.2h0.85m-0.85 0.2h0.85m-0.85 0.8h0.85m-0.85 1.8h0.85m-0.85 1.6h0.85m-0.85 8.6h0.85m-0.85 3.6h0.85m-0.65 -48.2h0.85m-0.85 3.4h0.85m-0.85 1.6h0.85m-0.85 0.4h0.85m-0.85 1.2h0.85m-0.85 5.6h0.85m-0.85 10h0.85m-0.85 1.4h0.85m-0.85 5.8h0.85m-0.85 2h0.85m-0.85 0.6h0.85m-0.85 0.6h0.85m-0.85 0.4h0.85m-0.85 3.8h0.85m-0.85 1h0.85m-0.85 3.4h0.85m-0.85 2.6h0.85m-0.85 0.2h0.85m-0.65 -44.6h0.85m-0.85 1.2h0.85m-0.85 3.6h0.85m-0.85 2.2h0.85m-0.85 1.6h0.85m-0.85 0.8h0.85m-0.85 0.2h0.85m-0.85 1h0.85m-0.85 0.6h0.85m-0.85 1.8h0.85m-0.85 0.2h0.85m-0.85 4.6h0.85m-0.85 6h0.85m-0.85 0.4h0.85m-0.85 0.8h0.85m-0.85 4h0.85m-0.85 1h0.85m-0.85 9.8h0.85m-0.85 0.8h0.85m-0.85 1.4h0.85m-0.85 0.8h0.85m-0.85 1.6h0.85m-0.85 2.8h0.85m-0.85 2h0.85m-0.85 1.6h0.85m-0.65 -46.4h0.85m-0.85 9.2h0.85m-0.85 1.8h0.85m-0.85 6.2h0.85m-0.85 2.2h0.85m-0.85 2.8h0.85m-0.85 7.6h0.85m-0.85 2.2h0.85m-0.85 2h0.85m-0.85 2h0.85m-0.85 1.8h0.85m-0.85 2.8h0.85m-0.85 7h0.85m-0.85 0.2h0.85m-0.65 -52.6h0.85m-0.85 4.6h0.85m-0.85 3.8h0.85m-0.85 0.8h0.85m-0.85 3.2h0.85m-0.85 4.4h0.85m-0.85 4h0.85m-0.85 1h0.85m-0.85 1h0.85m-0.85 5.2h0.85m-0.85 1.8h0.85m-0.85 1h0.85m-0.85 1.2h0.85m-0.85 3.4h0.85m-0.85 0.4h0.85m-0.85 5.6h0.85m-0.85 1.2h0.85m-0.85 13h0.85m-0.85 1h0.85m-0.65 -59.2h0.85m-0.85 2.2h0.85m-0.85 3h0.85m-0.85 0.4h0.85m-0.85 0.8h0.85m-0.85 1h0.85m-0.85 0.2h0.85m-0.85 1.4h0.85m-0.85 0.8h0.85m-0.85 2.8h0.85m-0.85 6.8h0.85m-0.85 5.2h0.85m-0.85 0.6h0.85m-0.85 1.8h0.85m-0.85 8.8h0.85m-0.85 0.8h0.85m-0.85 0.2h0.85m-0.85 0.4h0.85m-0.85 0.6h0.85m-0.85 1h0.85m-0.85 2.6h0.85m-0.85 0.8h0.85m-0.85 2.2h0.85m-0.85 2h0.85m-0.85 0.4h0.85m-0.85 4.8h0.85m-0.85 8.2h0.85m-0.85 0.6h0.85m-0.65 -60h0.85m-0.85 1.4h0.85m-0.85 6.8h0.85m-0.85 6h0.85m-0.85 4.2h0.85m-0.85 7h0.85m-0.85 1.8h0.85m-0.85 6.4h0.85m-0.85 2.2h0.85m-0.85 2.6h0.85m-0.85 15.8h0.85m-0.85 1h0.85m-0.85 2.6h0.85m-0.65 -50h0.85m-0.85 2h0.85m-0.85 0.4h0.85m-0.85 0.4h0.85m-0.85 0.6h0.85m-0.85 1.4h0.85m-0.85 4.2h0.85m-0.85 0.4h0.85m-0.85 1.2h0.85m-0.85 1.4h0.85m-0.85 4.6h0.85m-0.85 1.8h0.85m-0.85 0.8h0.85m-0.85 7.2h0.85m-0.85 3h0.85m-0.85 1.6h0.85m-0.85 2h0.85m-0.85 1h0.85m-0.85 0.8h0.85m-0.85 2.4h0.85m-0.85 0.6h0.85m-0.85 0.8h0.85m-0.85 1.6h0.85m-0.85 2.2h0.85m-0.85 7h0.85m-0.85 1h0.85m-0.65 -58.2h0.85m-0.85 3.8h0.85m-0.85 6h0.85m-0.85 4.4h0.85m-0.85 0.2h0.85m-0.85 0.6h0.85m-0.85 1.8h0.85m-0.85 5.2h0.85m-0.85 0.6h0.85m-0.85 1.2h0.85m-0.85 2h0.85m-0.85 5h0.85m-0.85 2.2h0.85m-0.85 0.2h0.85m-0.85 1.6h0.85m-0.85 1.4h0.85m-0.85 9h0.85m-0.85 1h0.85m-0.85 1.2h0.85m-0.65 -43.4h0.85m-0.85 0.8h0.85m-0.85 0.6h0.85m-0.85 1.4h0.85m-0.85 0.4h0.85m-0.85 2.4h0.85m-0.85 3h0.85m-0.85 0.2h0.85m-0.85 2.8h0.85m-0.85 2.6h0.85m-0.85 3.2h0.85m-0.85 4h0.85m-0.85 4.6h0.85m-0.85 0.8h0.85m-0.85 0.4h0.85m-0.85 1.6h0.85m-0.85 0.6h0.85m-0.85 0.4h0.85m-0.85 1.2h0.85m-0.85 1.8h0.85m-0.85 4.6h0.85m-0.85 8.8h0.85m-0.65 -43.8h0.85m-0.85 0.8h0.85m-0.85 1.8h0.85m-0.85 4.8h0.85m-0.85 1h0.85m-0.85 4.6h0.85m-0.85 3.6h0.85m-0.85 2h0.85m-0.85 1.4h0.85m-0.85 1.8h0.85m-0.85 0.4h0.85m-0.85 2h0.85m-0.85 0.8h0.85m-0.85 0.2h0.85m-0.85 6.2h0.85m-0.85 1.4h0.85m-0.85 0.8h0.85m-0.85 3.2h0.85m-0.85 0.4h0.85m-0.85 11.6h0.85m-0.65 -55.8h0.85m-0.85 2.2h0.85m-0.85 1.8h0.85m-0.85 12.8h0.85m-0.85 2.6h0.85m-0.85 0.6h0.85m-0.85 2.8h0.85m-0.85 13h0.85m-0.85 8.6h0.85m-0.85 1.4h0.85m-0.85 0.4h0.85m-0.85 1.6h0.85m-0.65 -45.2h0.85m-0.85 5.4h0.85m-0.85 4h0.85m-0.85 1h0.85m-0.85 0.6h0.85m-0.85 1.2h0.85m-0.85 0.4h0.85m-0.85 7h0.85m-0.85 11.2h0.85m-0.85 2.4h0.85m-0.85 1.2h0.85m-0.85 9.2h0.85m-0.85 4.8h0.85m-0.85 7.2h0.85m-0.85 0.4h0.85m-0.65 -54.2h0.85m-0.85 0.6h0.85m-0.85 0.6h0.85m-0.85 0.8h0.85m-0.85 5.8h0.85m-0.85 10.2h0.85m-0.85 1.8h0.85m-0.85 2.6h0.85m-0.85 1.6h0.85m-0.85 2.2h0.85m-0.85 6h0.85m-0.85 3.2h0.85m-0.85 0.8h0.85m-0.85 0.6h0.85m-0.85 3.4h0.85m-0.85 0.6h0.85m-0.85 4.2h0.85m-0.85 6.2h0.85m-0.85 0.2h0.85m-0.65 -56.2h0.85m-0.85 6h0.85m-0.85 0.4h0.85m-0.85 4.2h0.85m-0.85 0.6h0.85m-0.85 4h0.85m-0.85 14.2h0.85m-0.85 6.6h0.85m-0.85 4.6h0.85m-0.85 7.4h0.85m-0.85 11.2h0.85m-0.85 0.8h0.85m-0.65 -53.2h0.85m-0.85 2.8h0.85m-0.85 4.8h0.85m-0.85 4.4h0.85m-0.85 0.6h0.85m-0.85 3.2h0.85m-0.85 3.2h0.85m-0.85 0.2h0.85m-0.85 1.8h0.85m-0.85 4.2h0.85m-0.85 1h0.85m-0.85 2h0.85m-0.85 3.6h0.85m-0.85 3.6h0.85m-0.85 9.4h0.85m-0.85 4.6h0.85m-0.85 1h0.85m-0.65 -50.2h0.85m-0.85 2.2h0.85m-0.85 0.8h0.85m-0.85 6.8h0.85m-0.85 5h0.85m-0.85 1h0.85m-0.85 2.8h0.85m-0.85 0.4h0.85m-0.85 3.2h0.85m-0.85 2.2h0.85m-0.85 3.4h0.85m-0.85 9h0.85m-0.85 0.4h0.85m-0.85 5.6h0.85m-0.85 2.4h0.85m-0.65 -44.8h0.85m-0.85 0.6h0.85m-0.85 4.4h0.85m-0.85 1h0.85m-0.85 1.6h0.85m-0.85 7h0.85m-0.85 4.2h0.85m-0.85 5h0.85m-0.85 0.6h0.85m-0.85 3.8h0.85m-0.85 0.2h0.85m-0.85 0.4h0.85m-0.85 3.8h0.85m-0.85 10.6h0.85m-0.85 0.4h0.85m-0.85 2.4h0.85m-0.85 0.8h0.85m-0.65 -49.2h0.85m-0.85 0.8h0.85m-0.85 1.2h0.85m-0.85 6h0.85m-0.85 5h0.85m-0.85 1.8h0.85m-0.85 6.8h0.85m-0.85 2h0.85m-0.85 0.4h0.85m-0.85 2h0.85m-0.85 3.2h0.85m-0.85 2.8h0.85m-0.85 0.4h0.85m-0.85 3.2h0.85m-0.85 0.8h0.85m-0.85 1.8h0.85m-0.85 0.4h0.85m-0.85 0.2h0.85m-0.85 1.6h0.85m-0.85 5.2h0.85m-0.85 1.2h0.85m-0.85 4.6h0.85m-0.65 -49.4h0.85m-0.85 3h0.85m-0.85 1h0.85m-0.85 1.6h0.85m-0.85 0.4h0.85m-0.85 0.6h0.85m-0.85 1.4h0.85m-0.85 3.4h0.85m-0.85 3.4h0.85m-0.85 1h0.85m-0.85 1h0.85m-0.85 0.6h0.85m-0.85 1.2h0.85m-0.85 1.6h0.85m-0.85 3h0.85m-0.85 0.2h0.85m-0.85 2h0.85m-0.85 5.4h0.85m-0.85 4.6h0.85m-0.85 1.4h0.85m-0.85 3.4h0.85m-0.85 1.4h0.85m-0.85 3h0.85m-0.85 2.2h0.85m-0.65 -50h0.85m-0.85 0.4h0.85m-0.85 0.8h0.85m-0.85 2.6h0.85m-0.85 0.2h0.85m-0.85 0.8h0.85m-0.85 5.2h0.85m-0.85 0.4h0.85m-0.85 2.8h0.85m-0.85 0.4h0.85m-0.85 2.6h0.85m-0.85 5.6h0.85m-0.85 0.8h0.85m-0.85 1.8h0.85m-0.85 0.8h0.85m-0.85 2.6h0.85m-0.85 0.8h0.85m-0.85 5.4h0.85m-0.85 1h0.85m-0.85 0.2h0.85m-0.85 4.2h0.85m-0.85 0.6h0.85m-0.85 0.8h0.85m-0.85 0.6h0.85m-0.85 8.6h0.85m-0.85 2h0.85m-0.85 4.2h0.85m-0.65 -58.6h0.85m-0.85 1.8h0.85m-0.85 3h0.85m-0.85 0.8h0.85m-0.85 1h0.85m-0.85 1.8h0.85m-0.85 2.2h0.85m-0.85 3.2h0.85m-0.85 0.8h0.85m-0.85 2.8h0.85m-0.85 4.6h0.85m-0.85 0.8h0.85m-0.85 0.6h0.85m-0.85 0.8h0.85m-0.85 3h0.85m-0.85 1.6h0.85m-0.85 1.8h0.85m-0.85 8.4h0.85m-0.85 5h0.85m-0.85 1h0.85m-0.85 8.6h0.85m-0.85 1.2h0.85m-0.85 3h0.85m-0.65 -51.2h0.85m-0.85 3.6h0.85m-0.85 0.8h0.85m-0.85 2.4h0.85m-0.85 0.2h0.85m-0.85 1.6h0.85m-0.85 2.8h0.85m-0.85 7.4h0.85m-0.85 2.4h0.85m-0.85 0.2h0.85m-0.85 7h0.85m-0.85 2.8h0.85m-0.85 3.4h0.85m-0.85 9.8h0.85m-0.85 5.6h0.85m-0.65 -57.8h0.85m-0.85 9.6h0.85m-0.85 1.6h0.85m-0.85 3.4h0.85m-0.85 22.2h0.85m-0.85 0.4h0.85m-0.85 0.8h0.85m-0.85 12.2h0.85m-0.65 -44.2h0.85m-0.85 5.6h0.85m-0.85 0.4h0.85m-0.85 4.6h0.85m-0.85 0.4h0.85m-0.85 3.4h0.85m-0.85 7.8h0.85m-0.85 1.6h0.85m-0.85 0.6h0.85m-0.85 4.2h0.85m-0.85 1h0.85m-0.85 6h0.85m-0.85 1.2h0.85m-0.85 5.2h0.85m-0.85 12.2h0.85m-0.65 -55.6h0.85m-0.85 2.2h0.85m-0.85 1h0.85m-0.85 3.2h0.85m-0.85 0.4h0.85m-0.85 0.4h0.85m-0.85 4.6h0.85m-0.85 1.8h0.85m-0.85 0.2h0.85m-0.85 8.2h0.85m-0.85 6.6h0.85m-0.85 4.4h0.85m-0.85 0.2h0.85m-0.85 1h0.85m-0.85 9.4h0.85m-0.85 1.2h0.85m-0.85 2.4h0.85m-0.65 -50.2h0.85m-0.85 2.6h0.85m-0.85 5.6h0.85m-0.85 0.4h0.85m-0.85 1.8h0.85m-0.85 0.6h0.85m-0.85 1.2h0.85m-0.85 0.4h0.85m-0.85 0.4h0.85m-0.85 0.6h0.85m-0.85 11.6h0.85m-0.85 0.8h0.85m-0.85 3.4h0.85m-0.85 0.4h0.85m-0.85 10.2h0.85m-0.85 0.8h0.85m-0.85 1h0.85m-0.85 0.2h0.85m-0.85 2.4h0.85m-0.85 4.8h0.85m-0.85 2.2h0.85m-0.65 -40h0.85m-0.85 6.2h0.85m-0.85 5.8h0.85m-0.85 5.8h0.85m-0.85 0.2h0.85m-0.85 0.6h0.85m-0.85 2.2h0.85m-0.85 2.4h0.85m-0.85 3.4h0.85m-0.85 2.8h0.85m-0.85 0.2h0.85m-0.85 1h0.85m-0.65 -40.4h0.85m-0.85 2.8h0.85m-0.85 5.2h0.85m-0.85 1.4h0.85m-0.85 3.8h0.85m-0.85 3.8h0.85m-0.85 3.2h0.85m-0.85 9.2h0.85m-0.85 5.2h0.85m-0.85 1.4h0.85m-0.85 8.4h0.85m-0.85 0.4h0.85m-0.85 1.4h0.85m-0.65 -42h0.85m-0.85 1.8h0.85m-0.85 2.4h0.85m-0.85 0.2h0.85m-0.85 2h0.85m-0.85 1.8h0.85m-0.85 3.2h0.85m-0.85 4.6h0.85m-0.85 5.4h0.85m-0.85 1.8h0.85m-0.85 1.6h0.85m-0.85 1.2h0.85m-0.85 6h0.85m-0.85 5.6h0.85m-0.85 0.2h0.85m-0.85 1.4h0.85m-0.85 9.6h0.85m-0.85 4.6h0.85m-0.65 -50.2h0.85m-0.85 3.4h0.85m-0.85 15.4h0.85m-0.85 4.6h0.85m-0.85 4.4h0.85m-0.85 0.2h0.85m-0.85 4.6h0.85m-0.85 2.4h0.85m-0.85 15h0.85m-0.65 -54.6h0.85m-0.85 5h0.85m-0.85 2.4h0.85m-0.85 19.2h0.85m-0.85 0.2h0.85m-0.85 3h0.85m-0.85 5.2h0.85m-0.85 7.6h0.85m-0.65 -41.4h0.85m-0.85 0.2h0.85m-0.85 1.6h0.85m-0.85 0.6h0.85m-0.85 1.6h0.85m-0.85 0.4h0.85m-0.85 2.4h0.85m-0.85 1h0.85m-0.85 0.4h0.85m-0.85 0.2h0.85m-0.85 0.4h0.85m-0.85 1h0.85m-0.85 7.2h0.85m-0.85 0.8h0.85m-0.85 3h0.85m-0.85 2.2h0.85m-0.85 0.4h0.85m-0.85 0.2h0.85m-0.85 2h0.85m-0.85 2h0.85m-0.85 1h0.85m-0.85 0.2h0.85m-0.85 2.4h0.85m-0.85 0.6h0.85m-0.85 0.6h0.85m-0.85 0.4h0.85m-0.85 7.2h0.85m-0.85 9.6h0.85m-0.85 3h0.85m-0.65 -58.2h0.85m-0.85 3.4h0.85m-0.85 0.6h0.85m-0.85 1.4h0.85m-0.85 0.4h0.85m-0.85 2.4h0.85m-0.85 2.6h0.85m-0.85 2.8h0.85m-0.85 14.2h0.85m-0.85 3.8h0.85m-0.85 12h0.85m-0.65 -38.4h0.85m-0.85 6h0.85m-0.85 2h0.85m-0.85 3h0.85m-0.85 1.6h0.85m-0.85 10.8h0.85m-0.85 1.8h0.85m-0.85 4h0.85m-0.85 0.8h0.85m-0.85 4.2h0.85m-0.85 1h0.85m-0.65 -38.4h0.85m-0.85 1.6h0.85m-0.85 5.2h0.85m-0.85 0.2h0.85m-0.85 0.4h0.85m-0.85 0.8h0.85m-0.85 1h0.85m-0.85 2.4h0.85m-0.85 23.4h0.85m-0.85 4.2h0.85m-0.85 2.2h0.85m-0.85 9.6h0.85m-0.65 -50.4h0.85m-0.85 9.6h0.85m-0.85 4.6h0.85m-0.85 4h0.85m-0.85 4.2h0.85m-0.85 3.6h0.85m-0.85 0.4h0.85m-0.85 0.4h0.85m-0.85 2.4h0.85m-0.85 6h0.85m-0.85 0.4h0.85m-0.85 2.4h0.85m-0.85 1.6h0.85m-0.85 6.6h0.85m-0.85 2.4h0.85m-0.85 7.2h0.85m-0.65 -51h0.85m-0.85 6.8h0.85m-0.85 6.2h0.85m-0.85 2.8h0.85m-0.85 1.2h0.85m-0.85 5h0.85m-0.85 0.6h0.85m-0.85 2.8h0.85m-0.85 0.4h0.85m-0.85 3h0.85m-0.85 1.2h0.85m-0.85 3.2h0.85m-0.85 2.8h0.85m-0.85 2.6h0.85m-0.85 3h0.85m-0.65 -60h0.85m-0.85 16.2h0.85m-0.85 6.6h0.85m-0.85 1.6h0.85m-0.85 2.6h0.85m-0.85 2h0.85m-0.85 0.2h0.85m-0.85 0.2h0.85m-0.85 13.8h0.85m-0.85 4.8h0.85m-0.85 1.8h0.85m-0.85 2.6h0.85m-0.85 1.2h0.85m-0.85 11.6h0.85m-0.85 3.2h0.85m-0.65 -57.2h0.85m-0.85 11.8h0.85m-0.85 11.6h0.85m-0.85 0.8h0.85m-0.85 1.2h0.85m-0.85 4.2h0.85m-0.85 7.2h0.85m-0.85 0.2h0.85m-0.85 8.8h0.85m-0.85 1.2h0.85m-0.85 1.2h0.85m-0.65 -47h0.85m-0.85 5.2h0.85m-0.85 0.2h0.85m-0.85 1.4h0.85m-0.85 0.6h0.85m-0.85 1.2h0.85m-0.85 18.4h0.85m-0.85 1.8h0.85m-0.85 2.4h0.85m-0.85 1.8h0.85m-0.85 2h0.85m-0.85 1.2h0.85m-0.85 1.2h0.85m-0.85 1.4h0.85m-0.85 2.6h0.85m-0.85 3.8h0.85m-0.85 3h0.85m-0.85 2h0.85m-0.65 -46.4h0.85m-0.85 4.6h0.85m-0.85 0.2h0.85m-0.85 14.4h0.85m-0.85 0.4h0.85m-0.85 10.8h0.85m-0.85 2h0.85m-0.85 2.6h0.85m-0.85 3.4h0.85m-0.85 5.2h0.85m-0.85 2.2h0.85m-0.65 -50.8h0.85m-0.85 2.4h0.85m-0.85 0.8h0.85m-0.85 5.6h0.85m-0.85 0.2h0.85m-0.85 1.6h0.85m-0.85 14.2h0.85m-0.85 5.4h0.85m-0.85 5.8h0.85m-0.85 2.4h0.85m-0.85 0.8h0.85m-0.85 5.8h0.85m-0.85 3.4h0.85m-0.65 -50.6h0.85m-0.85 12h0.85m-0.85 3h0.85m-0.85 1.2h0.85m-0.85 6h0.85m-0.85 4h0.85m-0.85 1.2h0.85m-0.85 1.8h0.85m-0.85 2.2h0.85m-0.85 3.8h0.85m-0.85 0.6h0.85m-0.85 8.6h0.85m-0.85 3.6h0.85m-0.85 11.2h0.85m-0.65 -55h0.85m-0.85 1h0.85m-0.85 0.6h0.85m-0.85 1.6h0.85m-0.85 0.2h0.85m-0.85 5h0.85m-0.85 9.2h0.85m-0.85 9.6h0.85m-0.85 5.4h0.85m-0.85 4.4h0.85m-0.85 5h0.85m-0.85 3.2h0.85m-0.85 7.8h0.85m-0.65 -50.8h0.85m-0.85 0.4h0.85m-0.85 4.4h0.85m-0.85 4.2h0.85m-0.85 8.6h0.85m-0.85 10.4h0.85m-0.85 2.6h0.85m-0.85 3.8h0.85m-0.85 0.6h0.85m-0.85 1h0.85m-0.85 5.6h0.85m-0.85 0.4h0.85m-0.85 0.2h0.85m-0.65 -44.4h0.85m-0.85 3.2h0.85m-0.85 0.2h0.85m-0.85 4h0.85m-0.85 1h0.85m-0.85 3h0.85m-0.85 2.2h0.85m-0.85 5.6h0.85m-0.85 8.2h0.85m-0.85 1.2h0.85m-0.85 1.8h0.85m-0.85 0.6h0.85m-0.85 1.4h0.85m-0.85 6.6h0.85m-0.85 2.2h0.85m-0.85 1.4h0.85m-0.65 -45h0.85m-0.85 4h0.85m-0.85 2.6h0.85m-0.85 1.2h0.85m-0.85 1.2h0.85m-0.85 0.4h0.85m-0.85 0.6h0.85m-0.85 1.4h0.85m-0.85 0.4h0.85m-0.85 0.2h0.85m-0.85 1.2h0.85m-0.85 0.8h0.85m-0.85 0.2h0.85m-0.85 4.8h0.85m-0.85 2.6h0.85m-0.85 7.2h0.85m-0.85 1.8h0.85m-0.85 2h0.85m-0.85 1.2h0.85m-0.85 7h0.85m-0.85 2.4h0.85m-0.85 3h0.85m-0.85 1.6h0.85m-0.85 1.4h0.85m-0.85 2.4h0.85m-0.85 0.2h0.85m-0.65 -39.4h0.85m-0.85 2h0.85m-0.85 0.4h0.85m-0.85 1.6h0.85m-0.85 2.4h0.85m-0.85 6.6h0.85m-0.85 0.2h0.85m-0.85 2h0.85m-0.85 3h0.85m-0.85 8h0.85m-0.85 9.6h0.85m-0.85 5.6h0.85m-0.85 0.2h0.85m-0.65 -52h0.85m-0.85 0.2h0.85m-0.85 7.2h0.85m-0.85 2h0.85m-0.85 4.2h0.85m-0.85 3.6h0.85m-0.85 2.6h0.85m-0.85 2h0.85m-0.85 1.8h0.85m-0.85 3.4h0.85m-0.85 0.4h0.85m-0.85 2.2h0.85m-0.85 1.2h0.85m-0.85 2.2h0.85m-0.85 3h0.85m-0.85 2.2h0.85m-0.85 2.6h0.85m-0.85 3.4h0.85m-0.85 11h0.85m-0.65 -53.2h0.85m-0.85 4.6h0.85m-0.85 1.4h0.85m-0.85 1.6h0.85m-0.85 15.6h0.85m-0.85 1.6h0.85m-0.85 6h0.85m-0.85 1.8h0.85m-0.85 7.4h0.85m-0.85 0.8h0.85m-0.85 0.2h0.85m-0.85 1.6h0.85m-0.85 0.2h0.85m-0.85 1.2h0.85m-0.85 3.6h0.85m-0.65 -46.2h0.85m-0.85 10.6h0.85m-0.85 4.6h0.85m-0.85 5.4h0.85m-0.85 0.4h0.85m-0.85 0.8h0.85m-0.85 4.8h0.85m-0.85 1.8h0.85m-0.85 6h0.85m-0.85 3.4h0.85m-0.85 5h0.85m-0.85 2.6h0.85m-0.85 3.4h0.85m-0.85 4.6h0.85m-0.65 -55.6h0.85m-0.85 2.8h0.85m-0.85 2h0.85m-0.85 0.2h0.85m-0.85 2.8h0.85m-0.85 2h0.85m-0.85 8.6h0.85m-0.85 0.2h0.85m-0.85 2.6h0.85m-0.85 0.6h0.85m-0.85 1.6h0.85m-0.85 5.2h0.85m-0.85 2.6h0.85m-0.85 0.6h0.85m-0.85 3.4h0.85m-0.85 0.6h0.85m-0.85 2.8h0.85m-0.85 6.2h0.85m-0.85 2.4h0.85m-0.85 3.4h0.85m-0.85 0.2h0.85m-0.65 -49.2h0.85m-0.85 1.2h0.85m-0.85 4.2h0.85m-0.85 0.6h0.85m-0.85 2.4h0.85m-0.85 4h0.85m-0.85 0.8h0.85m-0.85 1.4h0.85m-0.85 1.6h0.85m-0.85 4.4h0.85m-0.85 9.6h0.85m-0.85 2.6h0.85m-0.85 11.6h0.85m-0.85 2.2h0.85m-0.65 -44.4h0.85m-0.85 1h0.85m-0.85 4.4h0.85m-0.85 13h0.85m-0.85 3.6h0.85m-0.85 1h0.85m-0.85 5h0.85m-0.85 1.4h0.85m-0.85 2h0.85m-0.85 1.8h0.85m-0.85 1.6h0.85m-0.85 2.6h0.85m-0.65 -37h0.85m-0.85 7.6h0.85m-0.85 4.4h0.85m-0.85 7.8h0.85m-0.85 1.6h0.85m-0.85 6h0.85m-0.85 9.6h0.85m-0.85 13.2h0.85m-0.65 -58h0.85m-0.85 12.8h0.85m-0.85 1.2h0.85m-0.85 18h0.85m-0.85 2.2h0.85m-0.85 7.2h0.85m-0.85 2h0.85m-0.85 2.8h0.85m-0.85 2.4h0.85m-0.85 4h0.85m-0.85 2.6h0.85m-0.85 3.6h0.85m-0.65 -53.6h0.85m-0.85 5.4h0.85m-0.85 1.2h0.85m-0.85 1h0.85m-0.85 7.4h0.85m-0.85 12.6h0.85m-0.85 0.2h0.85m-0.85 0.4h0.85m-0.85 6.6h0.85m-0.65 -37.4h0.85m-0.85 1h0.85m-0.85 1h0.85m-0.85 1.2h0.85m-0.85 8.6h0.85m-0.85 3.2h0.85m-0.85 5.8h0.85m-0.85 1.4h0.85m-0.85 0.4h0.85m-0.85 5.6h0.85m-0.85 0.4h0.85m-0.85 1.2h0.85m-0.85 3h0.85m-0.85 2.6h0.85m-0.85 1.8h0.85m-0.85 1.8h0.85m-0.85 1h0.85m-0.85 5.4h0.85m-0.85 3h0.85m-0.85 3.4h0.85m-0.65 -45h0.85m-0.85 1.4h0.85m-0.85 0.8h0.85m-0.85 3h0.85m-0.85 1.2h0.85m-0.85 8.4h0.85m-0.85 1.6h0.85m-0.85 1.2h0.85m-0.85 5.4h0.85m-0.85 6.2h0.85m-0.85 15.4h0.85m-0.65 -47.4h0.85m-0.85 0.6h0.85m-0.85 1h0.85m-0.85 3.8h0.85m-0.85 0.4h0.85m-0.85 3.4h0.85m-0.85 0.4h0.85m-0.85 1.6h0.85m-0.85 2.6h0.85m-0.85 3.4h0.85m-0.85 13.8h0.85m-0.85 0.2h0.85m-0.85 5.6h0.85m-0.85 0.4h0.85m-0.85 2h0.85m-0.85 0.8h0.85m-0.85 3.8h0.85m-0.85 8.2h0.85m-0.65 -53.4h0.85m-0.85 7h0.85m-0.85 0.4h0.85m-0.85 0.8h0.85m-0.85 16.8h0.85m-0.85 3.6h0.85m-0.85 2h0.85m-0.85 3.6h0.85m-0.85 1h0.85m-0.85 0.8h0.85m-0.85 1.2h0.85m-0.85 0.4h0.85m-0.85 2.4h0.85m-0.85 4.4h0.85m-0.65 -43.2h0.85m-0.85 4.4h0.85m-0.85 9.4h0.85m-0.85 6.2h0.85m-0.85 0.2h0.85m-0.85 2.8h0.85m-0.85 7h0.85m-0.85 2h0.85m-0.85 2.2h0.85m-0.85 0.4h0.85m-0.85 1.8h0.85m-0.85 2.6h0.85m-0.85 0.6h0.85m-0.85 0.2h0.85m-0.85 6.6h0.85m-0.85 4h0.85m-0.65 -50.8h0.85m-0.85 1.4h0.85m-0.85 1.8h0.85m-0.85 2.2h0.85m-0.85 2h0.85m-0.85 1.6h0.85m-0.85 1.6h0.85m-0.85 0.4h0.85m-0.85 15.6h0.85m-0.85 2.2h0.85m-0.85 2h0.85m-0.85 2.2h0.85m-0.85 4.6h0.85m-0.85 1h0.85m-0.85 10.6h0.85m-0.85 5h0.85m-0.65 -58.8h0.85m-0.85 3.4h0.85m-0.85 4.8h0.85m-0.85 2h0.85m-0.85 6.4h0.85m-0.85 1.2h0.85m-0.85 0.4h0.85m-0.85 8.4h0.85m-0.85 3.8h0.85m-0.85 4.4h0.85m-0.85 1.6h0.85m-0.85 0.4h0.85m-0.85 1.8h0.85m-0.85 1.4h0.85m-0.85 3.2h0.85m-0.85 6.6h0.85m-0.85 0.8h0.85m-0.85 5.6h0.85m-0.65 -52.2h0.85m-0.85 1.2h0.85m-0.85 3.2h0.85m-0.85 0.6h0.85m-0.85 0.6h0.85m-0.85 1.8h0.85m-0.85 3.6h0.85m-0.85 6.4h0.85m-0.85 0.6h0.85m-0.85 4.2h0.85m-0.85 2.2h0.85m-0.85 3.2h0.85m-0.85 0.4h0.85m-0.85 9.6h0.85m-0.85 2.6h0.85m-0.85 2.8h0.85m-0.85 0.4h0.85m-0.65 -40.8h0.85m-0.85 1.2h0.85m-0.85 3h0.85m-0.85 6.8h0.85m-0.85 9.4h0.85m-0.85 2.2h0.85m-0.85 1.8h0.85m-0.85 10.2h0.85m-0.85 5.6h0.85m-0.85 0.8h0.85m-0.85 3.8h0.85m-0.85 0.4h0.85m-0.85 1.6h0.85m-0.85 1.4h0.85m-0.85 1.4h0.85m-0.65 -53.8h0.85m-0.85 4.6h0.85m-0.85 2.4h0.85m-0.85 3.2h0.85m-0.85 2.2h0.85m-0.85 1.8h0.85m-0.85 1.2h0.85m-0.85 0.8h0.85m-0.85 1.8h0.85m-0.85 0.6h0.85m-0.85 7.8h0.85m-0.85 5.8h0.85m-0.85 2.2h0.85m-0.85 0.8h0.85m-0.85 0.4h0.85m-0.65 -33.8h0.85m-0.85 0.6h0.85m-0.85 2h0.85m-0.85 2.8h0.85m-0.85 0.2h0.85m-0.85 5.6h0.85m-0.85 11.4h0.85m-0.85 7.4h0.85m-0.85 4.2h0.85m-0.85 12.2h0.85m-0.65 -47.8h0.85m-0.85 2.8h0.85m-0.85 2.2h0.85m-0.85 1.4h0.85m-0.85 0.2h0.85m-0.85 7.2h0.85m-0.85 6.2h0.85m-0.85 2.8h0.85m-0.85 2.2h0.85m-0.85 1h0.85m-0.85 3.4h0.85m-0.85 1h0.85m-0.85 7.2h0.85m-0.85 6.8h0.85m-0.65 -36.6h0.85m-0.85 3.4h0.85m-0.85 3.8h0.85m-0.85 1.8h0.85m-0.85 7.2h0.85m-0.85 5.8h0.85m-0.85 0.2h0.85m-0.85 1.4h0.85m-0.85 3.8h0.85m-0.85 7h0.85m-0.65 -35.8h0.85m-0.85 2.2h0.85m-0.85 1.2h0.85m-0.85 2h0.85m-0.85 1.6h0.85m-0.85 13h0.85m-0.85 8.2h0.85m-0.85 3.6h0.85m-0.85 1.2h0.85m-0.85 1h0.85m-0.85 1h0.85m-0.85 2h0.85m-0.85 1.4h0.85m-0.85 1.8h0.85m-0.85 2h0.85m-0.85 0.8h0.85m-0.85 4h0.85m-0.65 -66h0.85m-0.85 9.6h0.85m-0.85 3.6h0.85m-0.85 1.6h0.85m-0.85 3.6h0.85m-0.85 0.8h0.85m-0.85 18.8h0.85m-0.85 14h0.85m-0.85 6.8h0.85m-0.85 7.4h0.85m-0.65 -47.6h0.85m-0.85 5.4h0.85m-0.85 11.6h0.85m-0.85 0.4h0.85m-0.85 4h0.85m-0.85 9.8h0.85m-0.85 17.2h0.85m-0.65 -56.8h0.85m-0.85 3.2h0.85m-0.85 4h0.85m-0.85 1.4h0.85m-0.85 6.2h0.85m-0.85 4.6h0.85m-0.85 6h0.85m-0.85 2h0.85m-0.85 4.6h0.85m-0.85 2.2h0.85m-0.85 3h0.85m-0.85 4.2h0.85m-0.85 0.6h0.85m-0.85 0.2h0.85m-0.85 1.6h0.85m-0.85 0.8h0.85m-0.85 2h0.85m-0.85 0.8h0.85m-0.85 3.8h0.85m-0.65 -48.6h0.85m-0.85 6.2h0.85m-0.85 12.8h0.85m-0.85 8.6h0.85m-0.85 1.2h0.85m-0.85 0.2h0.85m-0.85 0.8h0.85m-0.85 5.8h0.85m-0.85 1h0.85m-0.85 2.4h0.85m-0.85 7.8h0.85m-0.85 0.4h0.85m-0.85 2.6h0.85m-0.85 3.4h0.85m-0.65 -52.2h0.85m-0.85 5.4h0.85m-0.85 0.6h0.85m-0.85 2.8h0.85m-0.85 14.8h0.85m-0.85 4h0.85m-0.85 5.8h0.85m-0.85 3.8h0.85m-0.85 0.6h0.85m-0.85 2.2h0.85m-0.85 3h0.85m-0.85 0.4h0.85m-0.85 10h0.85m-0.65 -51.2h0.85m-0.85 7.8h0.85m-0.85 1h0.85m-0.85 3.2h0.85m-0.85 8h0.85m-0.85 5h0.85m-0.85 5.2h0.85m-0.85 0.4h0.85m-0.85 6.2h0.85m-0.85 1h0.85m-0.85 2h0.85m-0.85 2h0.85m-0.85 8.8h0.85m-0.65 -45.4h0.85m-0.85 2.2h0.85m-0.85 9.2h0.85m-0.85 5.4h0.85m-0.85 2.2h0.85m-0.85 5.6h0.85m-0.85 0.6h0.85m-0.85 3h0.85m-0.85 11h0.85m-0.85 5h0.85m-0.65 -47.8h0.85m-0.85 2.8h0.85m-0.85 1.2h0.85m-0.85 1.4h0.85m-0.85 21.6h0.85m-0.85 2.6h0.85m-0.85 0.4h0.85m-0.85 3h0.85m-0.85 2.8h0.85m-0.85 4.2h0.85m-0.85 3.4h0.85m-0.85 7.6h0.85m-0.65 -57h0.85m-0.85 3.4h0.85m-0.85 3.4h0.85m-0.85 0.6h0.85m-0.85 4.8h0.85m-0.85 1.4h0.85m-0.85 0.6h0.85m-0.85 3.6h0.85m-0.85 14.4h0.85m-0.85 1h0.85m-0.85 1.2h0.85m-0.65 -35.6h0.85m-0.85 5.8h0.85m-0.85 2.6h0.85m-0.85 17.8h0.85m-0.85 12.8h0.85m-0.85 9.4h0.85m-0.65 -45.2h0.85m-0.85 4.4h0.85m-0.85 2.8h0.85m-0.85 0.4h0.85m-0.85 0.8h0.85m-0.85 1h0.85m-0.85 3.8h0.85m-0.85 0.8h0.85m-0.85 1.2h0.85m-0.85 1.8h0.85m-0.85 5.6h0.85m-0.85 1h0.85m-0.85 2h0.85m-0.85 1h0.85m-0.85 1.2h0.85m-0.85 3h0.85m-0.85 7.4h0.85m-0.85 2.8h0.85m-0.85 2.6h0.85m-0.85 2h0.85m-0.85 2.2h0.85m-0.85 0.2h0.85m-0.65 -47.4h0.85m-0.85 4.4h0.85m-0.85 5.8h0.85m-0.85 0.6h0.85m-0.85 0.4h0.85m-0.85 2h0.85m-0.85 0.2h0.85m-0.85 9.4h0.85m-0.85 5h0.85m-0.85 11.6h0.85m-0.85 0.4h0.85m-0.85 2.6h0.85m-0.85 5.2h0.85m-0.85 5.6h0.85m-0.65 -49.6h0.85m-0.85 1.6h0.85m-0.85 0.2h0.85m-0.85 4.4h0.85m-0.85 0.2h0.85m-0.85 9.8h0.85m-0.85 6.8h0.85m-0.85 5h0.85m-0.85 6.6h0.85m-0.85 1.4h0.85m-0.85 0.8h0.85m-0.85 11.2h0.85m-0.65 -50.2h0.85m-0.85 0.8h0.85m-0.85 2.6h0.85m-0.85 0.6h0.85m-0.85 8.4h0.85m-0.85 2.2h0.85m-0.85 5h0.85m-0.85 6.4h0.85m-0.85 3.6h0.85m-0.85 0.6h0.85m-0.85 1.6h0.85m-0.85 2.6h0.85m-0.85 1.2h0.85m-0.85 7.2h0.85m-0.85 4.2h0.85m-0.65 -53.4h0.85m-0.85 0.4h0.85m-0.85 6.2h0.85m-0.85 4.6h0.85m-0.85 2.6h0.85m-0.85 3.6h0.85m-0.85 4.8h0.85m-0.85 8h0.85m-0.85 2.6h0.85m-0.85 2.8h0.85m-0.85 0.4h0.85m-0.85 0.8h0.85m-0.85 5.2h0.85m-0.85 0.8h0.85m-0.85 2.2h0.85m-0.85 1.6h0.85m-0.65 -42.8h0.85m-0.85 1.6h0.85m-0.85 1.6h0.85m-0.85 2.6h0.85m-0.85 2.8h0.85m-0.85 1h0.85m-0.85 0.2h0.85m-0.85 2.8h0.85m-0.85 4.8h0.85m-0.85 4.6h0.85m-0.85 1.8h0.85m-0.85 0.4h0.85m-0.85 4h0.85m-0.85 0.2h0.85m-0.85 3.4h0.85m-0.85 1.6h0.85m-0.85 2.6h0.85m-0.85 5.4h0.85m-0.85 0.4h0.85m-0.85 2.2h0.85m-0.65 -40.4h0.85m-0.85 8.8h0.85m-0.85 0.6h0.85m-0.85 0.2h0.85m-0.85 9.8h0.85m-0.85 2.6h0.85m-0.85 4.4h0.85m-0.85 2h0.85m-0.85 0.4h0.85m-0.85 0.6h0.85m-0.85 2h0.85m-0.85 1h0.85m-0.85 0.2h0.85m-0.85 4h0.85m-0.85 3.6h0.85m-0.85 9h0.85m-0.65 -55.2h0.85m-0.85 10.8h0.85m-0.85 14.6h0.85m-0.85 15h0.85m-0.85 4.6h0.85m-0.85 3.2h0.85m-0.85 3.8h0.85m-0.65 -49.8h0.85m-0.85 1h0.85m-0.85 5.4h0.85m-0.85 2.4h0.85m-0.85 2h0.85m-0.85 1h0.85m-0.85 7.4h0.85m-0.85 0.6h0.85m-0.85 8h0.85m-0.85 4.6h0.85m-0.85 2.2h0.85m-0.85 0.6h0.85m-0.85 2.6h0.85m-0.85 3.4h0.85m-0.85 4.8h0.85m-0.85 1.2h0.85m-0.65 -50h0.85m-0.85 3.2h0.85m-0.85 1h0.85m-0.85 4h0.85m-0.85 0.4h0.85m-0.85 2.8h0.85m-0.85 12.8h0.85m-0.85 0.4h0.85m-0.85 1h0.85m-0.85 2.2h0.85m-0.85 2.8h0.85m-0.85 5.2h0.85m-0.85 0.6h0.85m-0.85 3.4h0.85m-0.85 1.6h0.85m-0.85 4.6h0.85m-0.85 1.8h0.85m-0.85 1.8h0.85m-0.85 4.2h0.85m-0.65 -47.2h0.85m-0.85 0.4h0.85m-0.85 3.8h0.85m-0.85 0.6h0.85m-0.85 4h0.85m-0.85 0.6h0.85m-0.85 1.8h0.85m-0.85 8.8h0.85m-0.85 6h0.85m-0.85 2h0.85m-0.85 3.2h0.85m-0.85 2.8h0.85m-0.85 5.6h0.85m-0.85 11h0.85m-0.65 -56.4h0.85m-0.85 1h0.85m-0.85 2.2h0.85m-0.85 1.2h0.85m-0.85 2h0.85m-0.85 4h0.85m-0.85 1h0.85m-0.85 1.8h0.85m-0.85 4h0.85m-0.85 1.6h0.85m-0.85 9.4h0.85m-0.85 0.4h0.85m-0.85 1.2h0.85m-0.85 3.6h0.85m-0.85 13h0.85m-0.85 2.2h0.85m-0.85 1.2h0.85m-0.85 1.8h0.85m-0.85 2.6h0.85m-0.65 -47.6h0.85m-0.85 5.2h0.85m-0.85 2.6h0.85m-0.85 21.8h0.85m-0.85 1.8h0.85m-0.85 2.4h0.85m-0.85 3.4h0.85m-0.85 5.6h0.85m-0.85 2.6h0.85m-0.65 -52.6h0.85m-0.85 4.2h0.85m-0.85 1.8h0.85m-0.85 1h0.85m-0.85 5.6h0.85m-0.85 0.6h0.85m-0.85 1h0.85m-0.85 11.6h0.85m-0.85 3.6h0.85m-0.85 1h0.85m-0.85 0.2h0.85m-0.85 1h0.85m-0.85 8.2h0.85m-0.85 3.8h0.85m-0.85 3.2h0.85m-0.85 1.4h0.85m-0.65 -42.8h0.85m-0.85 0.8h0.85m-0.85 1.2h0.85m-0.85 6.6h0.85m-0.85 3.2h0.85m-0.85 2.4h0.85m-0.85 7.6h0.85m-0.85 1h0.85m-0.85 6.2h0.85m-0.85 0.2h0.85m-0.85 2.4h0.85m-0.85 0.4h0.85m-0.85 5.8h0.85m-0.85 2h0.85m-0.85 7.4h0.85m-0.65 -44.2h0.85m-0.85 1.6h0.85m-0.85 4.2h0.85m-0.85 3h0.85m-0.85 2h0.85m-0.85 0.4h0.85m-0.85 9.4h0.85m-0.85 2.8h0.85m-0.85 4.8h0.85m-0.85 1.4h0.85m-0.85 0.2h0.85m-0.85 0.2h0.85m-0.85 3.4h0.85m-0.85 5.2h0.85m-0.85 9.8h0.85m-0.65 -52.6h0.85m-0.85 1.6h0.85m-0.85 4.6h0.85m-0.85 3.2h0.85m-0.85 15.4h0.85m-0.85 2.6h0.85m-0.85 0.2h0.85m-0.85 0.8h0.85m-0.85 4.2h0.85m-0.85 0.2h0.85m-0.85 4h0.85m-0.85 1h0.85m-0.85 0.2h0.85m-0.85 1.4h0.85m-0.85 0.2h0.85m-0.65 -45.2h0.85m-0.85 3.4h0.85m-0.85 0.6h0.85m-0.85 1.6h0.85m-0.85 1.6h0.85m-0.85 2.2h0.85m-0.85 5.2h0.85m-0.85 1.6h0.85m-0.85 0.2h0.85m-0.85 1.2h0.85m-0.85 6.4h0.85m-0.85 2.8h0.85m-0.85 6.2h0.85m-0.85 3.8h0.85m-0.85 3h0.85m-0.85 0.4h0.85m-0.85 3.6h0.85m-0.85 0.6h0.85m-0.85 4.4h0.85m-0.85 0.4h0.85m-0.85 0.2h0.85m-0.85 5.8h0.85m-0.85 4.2h0.85m-0.65 -28.4h0.85m-0.85 0.2h0.85m-0.85 0.6h0.85m-0.85 0.6h0.85m-0.85 0.6h0.85m-0.85 3.8h0.85m-0.85 0.8h0.85m-0.85 0.4h0.85m-0.85 0.4h0.85m-0.85 2.2h0.85m-0.85 2.6h0.85m-0.85 3.2h0.85m-0.85 5.8h0.85m-0.85 2.6h0.85m-0.65 -47.6h0.85m-0.85 0.8h0.85m-0.85 6.6h0.85m-0.85 0.4h0.85m-0.85 1h0.85m-0.85 1.6h0.85m-0.85 18.6h0.85m-0.85 2.4h0.85m-0.85 3h0.85m-0.85 1.4h0.85m-0.85 0.8h0.85m-0.85 4h0.85m-0.85 0.2h0.85m-0.85 5.6h0.85m-0.65 -48.6h0.85m-0.85 12h0.85m-0.85 17.4h0.85m-0.85 0.4h0.85m-0.85 5h0.85m-0.85 1.4h0.85m-0.85 1.8h0.85m-0.85 1.2h0.85m-0.85 9h0.85m-0.85 0.2h0.85m-0.85 1.8h0.85m-0.65 -57h0.85m-0.85 8.6h0.85m-0.85 1.2h0.85m-0.85 1.4h0.85m-0.85 1.8h0.85m-0.85 0.6h0.85m-0.85 0.4h0.85m-0.85 3.6h0.85m-0.85 12.4h0.85m-0.85 3.6h0.85m-0.85 3.2h0.85m-0.85 1.2h0.85m-0.85 8h0.85m-0.85 4.6h0.85m-0.85 1.8h0.85m-0.65 -45.2h0.85m-0.85 2.8h0.85m-0.85 1.4h0.85m-0.85 0.4h0.85m-0.85 0.6h0.85m-0.85 4.4h0.85m-0.85 1.6h0.85m-0.85 10.8h0.85m-0.85 3.4h0.85m-0.85 3.2h0.85m-0.85 5.4h0.85m-0.85 4.4h0.85m-0.85 6.6h0.85m-0.85 0.8h0.85m-0.65 -43.4h0.85m-0.85 1.8h0.85m-0.85 1h0.85m-0.85 0.6h0.85m-0.85 0.6h0.85m-0.85 0.2h0.85m-0.85 1.4h0.85m-0.85 1h0.85m-0.85 1.2h0.85m-0.85 0.6h0.85m-0.85 1h0.85m-0.85 1.8h0.85m-0.85 5.8h0.85m-0.85 7.2h0.85m-0.85 3h0.85m-0.85 3.2h0.85m-0.85 9.8h0.85m-0.85 3.8h0.85m-0.65 -43.8h0.85m-0.85 5h0.85m-0.85 4.6h0.85m-0.85 0.4h0.85m-0.85 14h0.85m-0.85 0.6h0.85m-0.85 1.4h0.85m-0.85 0.4h0.85m-0.85 1.2h0.85m-0.85 1.8h0.85m-0.85 0.4h0.85m-0.85 0.4h0.85m-0.85 5.8h0.85m-0.85 2h0.85m-0.85 6.2h0.85m-0.85 2h0.85m-0.85 0.4h0.85m-0.65 -54.6h0.85m-0.85 2.4h0.85m-0.85 7.6h0.85m-0.85 0.6h0.85m-0.85 0.4h0.85m-0.85 2.4h0.85m-0.85 2.8h0.85m-0.85 1.4h0.85m-0.85 1.8h0.85m-0.85 1.4h0.85m-0.85 0.4h0.85m-0.85 1.2h0.85m-0.85 1.4h0.85m-0.85 4.4h0.85m-0.85 4.8h0.85m-0.85 1.4h0.85m-0.85 2.6h0.85m-0.85 5.4h0.85m-0.85 1.2h0.85m-0.85 4.8h0.85m-0.85 0.8h0.85m-0.85 0.2h0.85m-0.85 2.6h0.85m-0.65 -40.2h0.85m-0.85 1.4h0.85m-0.85 0.8h0.85m-0.85 15.6h0.85m-0.85 2.4h0.85m-0.85 1.6h0.85m-0.85 2.8h0.85m-0.85 3h0.85m-0.85 2.8h0.85m-0.85 4h0.85m-0.85 5.6h0.85m-0.65 -50h0.85m-0.85 5.8h0.85m-0.85 1.2h0.85m-0.85 1.4h0.85m-0.85 1h0.85m-0.85 1.8h0.85m-0.85 0.2h0.85m-0.85 5.8h0.85m-0.85 0.4h0.85m-0.85 1.4h0.85m-0.85 10.2h0.85m-0.85 1.4h0.85m-0.85 11.2h0.85m-0.85 4.6h0.85m-0.65 -49.4h0.85m-0.85 20.6h0.85m-0.85 13h0.85m-0.85 0.8h0.85m-0.85 4.8h0.85m-0.85 1.8h0.85m-0.85 1h0.85m-0.85 0.6h0.85m-0.85 5.4h0.85m-0.85 1.6h0.85m-0.65 -45.8h0.85m-0.85 5h0.85m-0.85 1h0.85m-0.85 0.6h0.85m-0.85 2.4h0.85m-0.85 9.4h0.85m-0.85 7.4h0.85m-0.85 7.6h0.85m-0.85 4h0.85m-0.85 2h0.85m-0.85 4.8h0.85m-0.65 -39.6h0.85m-0.85 3.6h0.85m-0.85 1.6h0.85m-0.85 2h0.85m-0.85 9.4h0.85m-0.85 6.6h0.85m-0.85 7.8h0.85m-0.85 1h0.85m-0.85 1.6h0.85m-0.85 0.6h0.85m-0.85 1.6h0.85m-0.85 11.4h0.85m-0.85 5.4h0.85m-0.65 -55.4h0.85m-0.85 0.6h0.85m-0.85 1.6h0.85m-0.85 1.6h0.85m-0.85 0.2h0.85m-0.85 5.8h0.85m-0.85 2h0.85m-0.85 5.6h0.85m-0.85 0.8h0.85m-0.85 7.8h0.85m-0.85 4.8h0.85m-0.85 5.4h0.85m-0.85 2h0.85m-0.85 0.8h0.85m-0.85 12.2h0.85m-0.85 1.2h0.85m-0.65 -56.6h0.85m-0.85 11.2h0.85m-0.85 2.6h0.85m-0.85 4h0.85m-0.85 0.6h0.85m-0.85 0.2h0.85m-0.85 4h0.85m-0.85 7.2h0.85m-0.85 7.2h0.85m-0.85 1.2h0.85m-0.85 2h0.85m-0.85 7.2h0.85m-0.85 10h0.85m-0.65 -46.4h0.85m-0.85 0.2h0.85m-0.85 1h0.85m-0.85 2h0.85m-0.85 0.8h0.85m-0.85 0.8h0.85m-0.85 17.2h0.85m-0.85 1.8h0.85m-0.85 0.6h0.85m-0.85 2.6h0.85m-0.85 8.8h0.85m-0.85 0.6h0.85m-0.85 0.4h0.85m-0.85 10h0.85m-0.65 -53h0.85m-0.85 1.8h0.85m-0.85 4.6h0.85m-0.85 17.6h0.85m-0.85 10.6h0.85m-0.85 1h0.85m-0.85 8.4h0.85m-0.85 1.6h0.85m-0.85 3.8h0.85m-0.85 5.2h0.85m-0.65 -55.8h0.85m-0.85 2.8h0.85m-0.85 1.4h0.85m-0.85 2.6h0.85m-0.85 4.6h0.85m-0.85 0.2h0.85m-0.85 7.4h0.85m-0.85 0.8h0.85m-0.85 6.2h0.85m-0.85 0.8h0.85m-0.85 4.6h0.85m-0.85 4h0.85m-0.85 4h0.85m-0.85 8.4h0.85m-0.65 -49.8h0.85m-0.85 1.2h0.85m-0.85 5.2h0.85m-0.85 4.4h0.85m-0.85 18h0.85m-0.85 8h0.85m-0.85 6h0.85m-0.85 3h0.85m-0.85 4h0.85m-0.65 -45.4h0.85m-0.85 5.2h0.85m-0.85 2h0.85m-0.85 0.4h0.85m-0.85 5.4h0.85m-0.85 3.8h0.85m-0.85 3h0.85m-0.85 2.6h0.85m-0.85 2.2h0.85m-0.85 1.8h0.85m-0.85 0.8h0.85m-0.85 2.2h0.85m-0.85 0.6h0.85m-0.85 0.8h0.85m-0.85 0.2h0.85m-0.85 2.2h0.85m-0.85 1.2h0.85m-0.85 0.6h0.85m-0.85 1.2h0.85m-0.85 15.8h0.85m-0.65 -54.6h0.85m-0.85 1h0.85m-0.85 2h0.85m-0.85 2.4h0.85m-0.85 1.2h0.85m-0.85 0.8h0.85m-0.85 5.2h0.85m-0.85 0.6h0.85m-0.85 4.6h0.85m-0.85 10.2h0.85m-0.85 1.6h0.85m-0.85 3.2h0.85m-0.85 0.6h0.85m-0.85 0.4h0.85m-0.85 0.8h0.85m-0.85 3.6h0.85m-0.85 11.8h0.85m-0.65 -47.8h0.85m-0.85 1.6h0.85m-0.85 1.8h0.85m-0.85 3.2h0.85m-0.85 0.2h0.85m-0.85 0.2h0.85m-0.85 1h0.85m-0.85 15.6h0.85m-0.85 13.6h0.85m-0.85 7.4h0.85m-0.85 7.6h0.85m-0.65 -58.2h0.85m-0.85 1.4h0.85m-0.85 6.8h0.85m-0.85 2h0.85m-0.85 12.2h0.85m-0.85 10h0.85m-0.85 1.2h0.85m-0.85 7h0.85m-0.85 0.6h0.85m-0.85 2.2h0.85m-0.85 15h0.85m-0.65 -51.2h0.85m-0.85 3.2h0.85m-0.85 1h0.85m-0.85 21.4h0.85m-0.85 5.4h0.85m-0.85 2.2h0.85m-0.85 0.2h0.85m-0.85 4.2h0.85m-0.85 1.4h0.85m-0.85 7.4h0.85m-0.85 5.4h0.85m-0.65 -51h0.85m-0.85 2.8h0.85m-0.85 1.8h0.85m-0.85 0.6h0.85m-0.85 0.2h0.85m-0.85 0.6h0.85m-0.85 2.8h0.85m-0.85 5.4h0.85m-0.85 2.4h0.85m-0.85 2h0.85m-0.85 0.8h0.85m-0.85 4.2h0.85m-0.85 3.2h0.85m-0.85 0.8h0.85m-0.85 5h0.85m-0.85 4.2h0.85m-0.85 11.8h0.85m-0.85 2.6h0.85m-0.65 -53.8h0.85m-0.85 1h0.85m-0.85 3h0.85m-0.85 5.4h0.85m-0.85 1h0.85m-0.85 20.4h0.85m-0.85 0.2h0.85m-0.85 1.8h0.85m-0.85 10.2h0.85m-0.85 3.4h0.85m-0.65 -44.4h0.85m-0.85 0.2h0.85m-0.85 0.4h0.85m-0.85 7.4h0.85m-0.85 0.6h0.85m-0.85 12.4h0.85m-0.85 5h0.85m-0.85 2h0.85m-0.85 2.2h0.85m-0.85 2.6h0.85m-0.85 1.4h0.85m-0.85 1.8h0.85m-0.85 1.6h0.85m-0.85 12.6h0.85m-0.65 -49.4h0.85m-0.85 1.2h0.85m-0.85 2.2h0.85m-0.85 2.8h0.85m-0.85 5.6h0.85m-0.85 3.6h0.85m-0.85 1.4h0.85m-0.85 4.6h0.85m-0.85 3.4h0.85m-0.85 3h0.85m-0.85 1.6h0.85m-0.85 8.4h0.85m-0.85 6.4h0.85m-0.65 -52.6h0.85m-0.85 6.6h0.85m-0.85 2.6h0.85m-0.85 11h0.85m-0.85 23h0.85m-0.85 0.8h0.85m-0.85 1h0.85m-0.85 0.4h0.85m-0.85 3h0.85m-0.85 0.8h0.85m-0.85 1.6h0.85m-0.65 -45h0.85m-0.85 0.2h0.85m-0.85 2.2h0.85m-0.85 4.8h0.85m-0.85 2.2h0.85m-0.85 0.6h0.85m-0.85 14.2h0.85m-0.85 0.2h0.85m-0.85 2.8h0.85m-0.85 1.4h0.85m-0.85 8.4h0.85m-0.85 3.4h0.85m-0.85 5.8h0.85m-0.65 -43.2h0.85m-0.85 0.8h0.85m-0.85 2.4h0.85m-0.85 6.6h0.85m-0.85 2.2h0.85m-0.85 17.8h0.85m-0.85 5h0.85m-0.85 1h0.85m-0.85 5.8h0.85m-0.85 1h0.85m-0.85 2.2h0.85m-0.65 -46.2h0.85m-0.85 2.8h0.85m-0.85 8h0.85m-0.85 1.8h0.85m-0.85 2.4h0.85m-0.85 6.2h0.85m-0.85 0.6h0.85m-0.85 2h0.85m-0.85 1.8h0.85m-0.85 0.4h0.85m-0.85 1.4h0.85m-0.85 1.4h0.85m-0.85 5.2h0.85m-0.85 1.6h0.85m-0.85 2.4h0.85m-0.85 2.8h0.85m-0.85 0.6h0.85m-0.85 0.8h0.85m-0.65 -39.8h0.85m-0.85 3h0.85m-0.85 3h0.85m-0.85 8.8h0.85m-0.85 6h0.85m-0.85 4.2h0.85m-0.85 1.2h0.85m-0.85 2.4h0.85m-0.85 0.4h0.85m-0.85 3.6h0.85m-0.85 3.8h0.85m-0.85 0.4h0.85m-0.85 1.2h0.85m-0.65 -46.2h0.85m-0.85 4.6h0.85m-0.85 5.2h0.85m-0.85 1.6h0.85m-0.85 2.2h0.85m-0.85 9.6h0.85m-0.85 2.8h0.85m-0.85 2.2h0.85m-0.85 5.6h0.85m-0.85 5.4h0.85m-0.85 0.4h0.85m-0.85 2.2h0.85m-0.85 1.4h0.85m-0.85 1.2h0.85m-0.85 1.8h0.85m-0.85 0.6h0.85m-0.85 0.2h0.85m-0.85 3h0.85m-0.85 2.8h0.85m-0.85 2.2h0.85m-0.65 -50.8h0.85m-0.85 1h0.85m-0.85 1h0.85m-0.85 1.8h0.85m-0.85 1.8h0.85m-0.85 1.2h0.85m-0.85 1.6h0.85m-0.85 1h0.85m-0.85 4.2h0.85m-0.85 1.4h0.85m-0.85 9h0.85m-0.85 0.6h0.85m-0.85 2.4h0.85m-0.85 0.4h0.85m-0.85 1h0.85m-0.85 2.6h0.85m-0.85 1.2h0.85m-0.85 1.2h0.85m-0.85 4.4h0.85m-0.85 0.6h0.85m-0.85 0.8h0.85m-0.85 1.6h0.85m-0.85 4.4h0.85m-0.85 1.2h0.85m-0.85 2.8h0.85m-0.85 0.4h0.85m-0.65 -41.6h0.85m-0.85 0.2h0.85m-0.85 12.2h0.85m-0.85 4.2h0.85m-0.85 7.2h0.85m-0.85 2.4h0.85m-0.85 1.4h0.85m-0.85 3.8h0.85m-0.85 5.8h0.85m-0.65 -43.4h0.85m-0.85 28.2h0.85m-0.85 2.2h0.85m-0.85 0.6h0.85m-0.85 1.2h0.85m-0.85 2h0.85m-0.85 3h0.85m-0.65 -39.6h0.85m-0.85 1h0.85m-0.85 2.6h0.85m-0.85 1.4h0.85m-0.85 3.2h0.85m-0.85 0.2h0.85m-0.85 15.8h0.85m-0.85 4h0.85m-0.85 0.6h0.85m-0.85 0.2h0.85m-0.85 2.4h0.85m-0.85 4h0.85m-0.85 0.4h0.85m-0.85 1h0.85m-0.85 1.6h0.85m-0.85 3.4h0.85m-0.85 3.6h0.85m-0.65 -42.4h0.85m-0.85 5.2h0.85m-0.85 11.4h0.85m-0.85 7.4h0.85m-0.85 0.4h0.85m-0.85 2.8h0.85m-0.85 2h0.85m-0.85 3.2h0.85m-0.85 2.2h0.85m-0.85 3.4h0.85m-0.85 2.6h0.85m-0.85 2.8h0.85m-0.65 -44.6h0.85m-0.85 1h0.85m-0.85 1.4h0.85m-0.85 3.8h0.85m-0.85 0.6h0.85m-0.85 3.8h0.85m-0.85 3.4h0.85m-0.85 14h0.85m-0.85 0.4h0.85m-0.85 1h0.85m-0.85 1.2h0.85m-0.85 0.2h0.85m-0.85 0.6h0.85m-0.85 1h0.85m-0.85 0.8h0.85m-0.85 7h0.85m-0.85 7h0.85m-0.65 -48.6h0.85m-0.85 1.6h0.85m-0.85 0.8h0.85m-0.85 2h0.85m-0.85 3.2h0.85m-0.85 1.2h0.85m-0.85 15.2h0.85m-0.85 11.8h0.85m-0.85 3.6h0.85m-0.85 0.8h0.85m-0.85 7h0.85m-0.65 -45.8h0.85m-0.85 0.8h0.85m-0.85 7h0.85m-0.85 1.6h0.85m-0.85 2h0.85m-0.85 1.8h0.85m-0.85 5.2h0.85m-0.85 4h0.85m-0.85 1h0.85m-0.85 1.6h0.85m-0.85 2h0.85m-0.85 1h0.85m-0.85 4.4h0.85m-0.85 3.2h0.85m-0.85 0.2h0.85m-0.85 1.4h0.85m-0.85 0.2h0.85m-0.85 2.8h0.85m-0.85 1h0.85m-0.85 7.2h0.85m-0.65 -45.2h0.85m-0.85 2.8h0.85m-0.85 16.8h0.85m-0.85 3.8h0.85m-0.85 7.6h0.85m-0.85 8h0.85m-0.85 0.8h0.85m-0.85 10h0.85m-0.65 -46.8h0.85m-0.85 2.2h0.85m-0.85 1.8h0.85m-0.85 0.2h0.85m-0.85 17.6h0.85m-0.85 2.8h0.85m-0.85 0.8h0.85m-0.85 4.2h0.85m-0.85 4.6h0.85m-0.85 2.6h0.85m-0.85 0.2h0.85m-0.85 0.2h0.85m-0.85 3h0.85m-0.85 2h0.85m-0.85 3h0.85m-0.65 -55.2h0.85m-0.85 3.4h0.85m-0.85 5.8h0.85m-0.85 0.4h0.85m-0.85 11h0.85m-0.85 3.2h0.85m-0.85 2.4h0.85m-0.85 4h0.85m-0.85 1.4h0.85m-0.85 2.6h0.85m-0.85 3.8h0.85m-0.85 3.2h0.85m-0.85 3.2h0.85m-0.85 0.2h0.85m-0.65 -45.4h0.85m-0.85 21.2h0.85m-0.85 4h0.85m-0.85 2.2h0.85m-0.85 0.2h0.85m-0.85 6.4h0.85m-0.85 0.2h0.85m-0.85 10.4h0.85m-0.85 0.8h0.85m-0.85 4h0.85m-0.65 -44.6h0.85m-0.85 1.6h0.85m-0.85 2.6h0.85m-0.85 0.6h0.85m-0.85 1.2h0.85m-0.85 3h0.85m-0.85 21.6h0.85m-0.85 0.2h0.85m-0.85 5.6h0.85m-0.65 -37.8h0.85m-0.85 2h0.85m-0.85 7.4h0.85m-0.85 3.8h0.85m-0.85 14h0.85m-0.85 1.6h0.85m-0.85 1h0.85m-0.85 1.6h0.85m-0.85 1h0.85m-0.85 3.2h0.85m-0.85 3h0.85m-0.85 1.6h0.85m-0.85 0.8h0.85m-0.85 2.2h0.85m-0.85 3.4h0.85m-0.85 4.4h0.85m-0.65 -40.4h0.85m-0.85 22.8h0.85m-0.85 1.6h0.85m-0.85 5.8h0.85m-0.85 0.4h0.85m-0.85 2h0.85m-0.85 4.8h0.85m-0.65 -46.8h0.85m-0.85 8h0.85m-0.85 5.6h0.85m-0.85 13.6h0.85m-0.85 5h0.85m-0.85 0.4h0.85m-0.85 0.2h0.85m-0.85 3.6h0.85m-0.85 3.4h0.85m-0.85 1.2h0.85m-0.85 0.4h0.85m-0.65 -44.4h0.85m-0.85 1h0.85m-0.85 2.2h0.85m-0.85 2.2h0.85m-0.85 2.4h0.85m-0.85 0.6h0.85m-0.85 12.2h0.85m-0.85 11h0.85m-0.85 2.2h0.85m-0.85 5.2h0.85m-0.85 1h0.85m-0.85 1h0.85m-0.85 1h0.85m-0.85 1.4h0.85m-0.85 3.2h0.85m-0.85 0.6h0.85m-0.65 -39.6h0.85m-0.85 5.8h0.85m-0.85 4h0.85m-0.85 2.4h0.85m-0.85 1.8h0.85m-0.85 1h0.85m-0.85 0.4h0.85m-0.85 1.6h0.85m-0.85 1.6h0.85m-0.85 1h0.85m-0.85 1.8h0.85m-0.85 3.4h0.85m-0.85 1.6h0.85m-0.85 0.2h0.85m-0.85 1.4h0.85m-0.85 4.6h0.85m-0.85 5h0.85m-0.85 2.4h0.85m-0.85 1.2h0.85m-0.65 -48.4h0.85m-0.85 4.4h0.85m-0.85 8.8h0.85m-0.85 10.8h0.85m-0.85 6h0.85m-0.85 2.2h0.85m-0.85 0.2h0.85m-0.85 2.4h0.85m-0.85 0.2h0.85m-0.85 0.2h0.85m-0.85 11.4h0.85m-0.85 7h0.85m-0.65 -52.2h0.85m-0.85 4.2h0.85m-0.85 0.6h0.85m-0.85 5.2h0.85m-0.85 12.8h0.85m-0.85 3.4h0.85m-0.85 6h0.85m-0.85 4.6h0.85m-0.65 -37h0.85m-0.85 4.6h0.85m-0.85 11.2h0.85m-0.85 4h0.85m-0.85 6h0.85m-0.85 2.4h0.85m-0.85 11.2h0.85m-0.85 0.4h0.85m-0.85 5h0.85m-0.85 5.2h0.85m-0.65 -44.8h0.85m-0.85 5h0.85m-0.85 6.4h0.85m-0.85 6h0.85m-0.85 7.2h0.85m-0.85 0.4h0.85m-0.85 2.4h0.85m-0.85 2.4h0.85m-0.85 1.6h0.85m-0.85 1.4h0.85m-0.85 0.8h0.85m-0.85 2.4h0.85m-0.85 1.2h0.85m-0.85 1.2h0.85m-0.85 2.6h0.85m-0.65 -50h0.85m-0.85 7.2h0.85m-0.85 3.6h0.85m-0.85 0.2h0.85m-0.85 13.8h0.85m-0.85 11.6h0.85m-0.85 1h0.85m-0.85 12.8h0.85m-0.65 -44.4h0.85m-0.85 2.2h0.85m-0.85 0.4h0.85m-0.85 9.6h0.85m-0.85 0.6h0.85m-0.85 11h0.85m-0.85 2.2h0.85m-0.85 1.6h0.85m-0.85 2.8h0.85m-0.85 2.6h0.85m-0.85 0.4h0.85m-0.85 4h0.85m-0.85 1h0.85m-0.85 13.2h0.85m-0.65 -58.8h0.85m-0.85 9.6h0.85m-0.85 1.6h0.85m-0.85 1.8h0.85m-0.85 2.8h0.85m-0.85 14.4h0.85m-0.85 10.8h0.85m-0.85 0.8h0.85m-0.85 3.2h0.85m-0.85 8.6h0.85m-0.85 4.4h0.85m-0.65 -45.2h0.85m-0.85 2h0.85m-0.85 19.4h0.85m-0.85 3.4h0.85m-0.85 4.8h0.85m-0.85 6.2h0.85m-0.65 -42.6h0.85m-0.85 0.8h0.85m-0.85 4.6h0.85m-0.85 1h0.85m-0.85 0.6h0.85m-0.85 0.4h0.85m-0.85 4h0.85m-0.85 11.6h0.85m-0.85 3h0.85m-0.85 2.2h0.85m-0.85 0.8h0.85m-0.85 0.2h0.85m-0.85 0.6h0.85m-0.85 4.2h0.85m-0.85 1.4h0.85m-0.85 4.6h0.85m-0.85 3.8h0.85m-0.65 -43.6h0.85m-0.85 10h0.85m-0.85 7h0.85m-0.85 8.4h0.85m-0.85 0.6h0.85m-0.85 1.8h0.85m-0.85 12.8h0.85m-0.85 4.4h0.85m-0.85 0.4h0.85m-0.85 0.4h0.85m-0.85 2.8h0.85m-0.65 -53.4h0.85m-0.85 8.2h0.85m-0.85 5.2h0.85m-0.85 0.4h0.85m-0.85 2.6h0.85m-0.85 10h0.85m-0.85 1.8h0.85m-0.85 2.8h0.85m-0.85 0.8h0.85m-0.85 4h0.85m-0.85 3.4h0.85m-0.85 1.4h0.85m-0.85 3.8h0.85m-0.65 -37.8h0.85m-0.85 2.4h0.85m-0.85 2.8h0.85m-0.85 4.2h0.85m-0.85 5.8h0.85m-0.85 12.4h0.85m-0.85 1.6h0.85m-0.85 2.4h0.85m-0.85 3.2h0.85m-0.85 5.2h0.85m-0.85 11.6h0.85m-0.65 -58.6h0.85m-0.85 8.8h0.85m-0.85 0.8h0.85m-0.85 1.2h0.85m-0.85 0.8h0.85m-0.85 11.8h0.85m-0.85 6h0.85m-0.85 1.8h0.85m-0.85 1.2h0.85m-0.85 2h0.85m-0.85 2.4h0.85m-0.85 2.2h0.85m-0.85 1h0.85m-0.85 0.8h0.85m-0.85 7.6h0.85m-0.85 0.4h0.85m-0.85 1.4h0.85m-0.85 0.8h0.85m-0.65 -45h0.85m-0.85 0.6h0.85m-0.85 5.8h0.85m-0.85 3h0.85m-0.85 10.8h0.85m-0.85 11.6h0.85m-0.85 5.8h0.85m-0.85 1.6h0.85m-0.85 1h0.85m-0.85 3.6h0.85m-0.65 -36.4h0.85m-0.85 1h0.85m-0.85 18.8h0.85m-0.85 5.6h0.85m-0.85 5.6h0.85m-0.85 2.6h0.85m-0.85 3.2h0.85m-0.85 1h0.85m-0.85 1h0.85m-0.65 -36.6h0.85m-0.85 7.4h0.85m-0.85 11.2h0.85m-0.85 0.4h0.85m-0.85 1.4h0.85m-0.85 5.4h0.85m-0.85 7.8h0.85m-0.85 2h0.85m-0.85 7.6h0.85m-0.65 -27.2h0.85m-0.85 3.2h0.85m-0.85 10h0.85m-0.85 1.6h0.85m-0.65 -40.4h0.85m-0.85 0.4h0.85m-0.85 1.2h0.85m-0.85 3.6h0.85m-0.85 3.6h0.85m-0.85 15.4h0.85m-0.85 3.2h0.85m-0.85 3.8h0.85m-0.85 4.4h0.85m-0.85 15h0.85m-0.65 -56h0.85m-0.85 6.2h0.85m-0.85 5.4h0.85m-0.85 0.4h0.85m-0.85 11h0.85m-0.85 8h0.85m-0.85 1.2h0.85m-0.85 0.4h0.85m-0.85 3.2h0.85m-0.85 5.4h0.85m-0.85 1.6h0.85m-0.85 6.6h0.85m-0.65 -34h0.85m-0.85 10.6h0.85m-0.85 1.8h0.85m-0.85 8.2h0.85m-0.85 16.2h0.85m-0.85 2h0.85m-0.85 2.2h0.85m-0.85 0.8h0.85m-0.65 -57.6h0.85m-0.85 7h0.85m-0.85 0.4h0.85m-0.85 1.2h0.85m-0.85 6h0.85m-0.85 2.8h0.85m-0.85 10.4h0.85m-0.85 2.6h0.85m-0.85 4.2h0.85m-0.85 2.4h0.85m-0.85 1.4h0.85m-0.85 1.2h0.85m-0.85 0.2h0.85m-0.85 4.8h0.85m-0.85 1.6h0.85m-0.85 0.8h0.85m-0.85 11.2h0.85m-0.65 -54.4h0.85m-0.85 3.2h0.85m-0.85 0.2h0.85m-0.85 0.2h0.85m-0.85 16h0.85m-0.85 0.6h0.85m-0.85 0.8h0.85m-0.85 1.8h0.85m-0.85 1h0.85m-0.85 5.2h0.85m-0.85 0.2h0.85m-0.85 0.8h0.85m-0.85 3.6h0.85m-0.85 1h0.85m-0.85 0.6h0.85m-0.85 7.4h0.85m-0.85 3.4h0.85m-0.65 -42.4h0.85m-0.85 7h0.85m-0.85 4h0.85m-0.85 4h0.85m-0.85 3.4h0.85m-0.85 2h0.85m-0.85 3.4h0.85m-0.85 6h0.85m-0.85 0.4h0.85m-0.85 1.4h0.85m-0.85 1.8h0.85m-0.85 7h0.85m-0.85 5.2h0.85m-0.85 1.8h0.85m-0.65 -50h0.85m-0.85 4.6h0.85m-0.85 12.6h0.85m-0.85 6.8h0.85m-0.85 2h0.85m-0.85 4.8h0.85m-0.85 2.6h0.85m-0.85 0.6h0.85m-0.85 0.6h0.85m-0.85 0.6h0.85m-0.85 1.8h0.85m-0.85 5.4h0.85m-0.85 4.4h0.85m-0.85 3.6h0.85m-0.65 -44h0.85m-0.85 7h0.85m-0.85 0.4h0.85m-0.85 8.2h0.85m-0.85 3.8h0.85m-0.85 0.8h0.85m-0.85 6.4h0.85m-0.85 1.8h0.85m-0.85 7.6h0.85m-0.85 1.6h0.85m-0.85 1.6h0.85m-0.65 -50.4h0.85m-0.85 26.6h0.85m-0.85 3.8h0.85m-0.85 5.8h0.85m-0.85 3h0.85m-0.85 2.2h0.85m-0.85 2.4h0.85m-0.85 0.6h0.85m-0.85 1.4h0.85m-0.85 4.8h0.85m-0.85 7.6h0.85m-0.65 -55.4h0.85m-0.85 2.8h0.85m-0.85 1.8h0.85m-0.85 22.8h0.85m-0.85 7.6h0.85m-0.85 6h0.85m-0.65 -37.6h0.85m-0.85 1.6h0.85m-0.85 7.8h0.85m-0.85 0.2h0.85m-0.85 4.8h0.85m-0.85 4.4h0.85m-0.85 4.8h0.85m-0.85 5.8h0.85m-0.85 1.4h0.85m-0.85 1.4h0.85m-0.85 3h0.85m-0.85 1h0.85m-0.85 1.8h0.85m-0.85 0.4h0.85m-0.65 -28.2h0.85m-0.85 0.8h0.85m-0.85 7.4h0.85m-0.85 6.8h0.85m-0.85 2.4h0.85m-0.85 1h0.85m-0.85 1.8h0.85m-0.85 3h0.85m-0.85 0.4h0.85m-0.85 1.6h0.85m-0.85 4.8h0.85m-0.85 1h0.85m-0.85 3.8h0.85m-0.85 0.8h0.85m-0.65 -38h0.85m-0.85 0.8h0.85m-0.85 9.2h0.85m-0.85 3.2h0.85m-0.85 4.8h0.85m-0.85 2.2h0.85m-0.85 10.2h0.85m-0.85 4.2h0.85m-0.65 -43.4h0.85m-0.85 2.4h0.85m-0.85 3h0.85m-0.85 16.4h0.85m-0.85 10.8h0.85m-0.85 0.6h0.85m-0.85 5h0.85m-0.85 2.4h0.85m-0.85 2.6h0.85m-0.85 4.8h0.85m-0.85 4.8h0.85m-0.65 -48.8h0.85m-0.85 12.4h0.85m-0.85 3h0.85m-0.85 4.4h0.85m-0.85 5.6h0.85m-0.85 0.2h0.85m-0.85 4h0.85m-0.85 2.4h0.85m-0.85 0.6h0.85m-0.85 0.4h0.85m-0.85 4h0.85m-0.85 1.4h0.85m-0.85 0.4h0.85m-0.65 -19.2h0.85m-0.85 3.8h0.85m-0.85 2.6h0.85m-0.85 0.8h0.85m-0.85 3.8h0.85m-0.85 0.8h0.85m-0.85 2.8h0.85m-0.85 4h0.85m-0.85 0.4h0.85m-0.65 -28.4h0.85m-0.85 13.2h0.85m-0.85 1h0.85m-0.85 2.4h0.85m-0.85 4.6h0.85m-0.85 1.8h0.85m-0.85 0.2h0.85m-0.85 2.2h0.85m-0.65 -19.8h0.85m-0.85 7.6h0.85m-0.85 6.6h0.85m-0.85 3h0.85m-0.85 2.2h0.85m-0.85 4.6h0.85m-0.65 -39.8h0.85m-0.85 5.2h0.85m-0.85 18.6h0.85m-0.85 1h0.85m-0.85 1.6h0.85m-0.85 6.8h0.85m-0.85 3.8h0.85m-0.85 0.2h0.85m-0.65 -36.2h0.85m-0.85 8.2h0.85m-0.85 3.8h0.85m-0.85 2.6h0.85m-0.85 4.2h0.85m-0.85 0.4h0.85m-0.85 1h0.85m-0.85 1.6h0.85m-0.85 3.2h0.85m-0.85 1.8h0.85m-0.85 3h0.85m-0.65 -33.2h0.85m-0.85 3.8h0.85m-0.85 1.8h0.85m-0.85 2.4h0.85m-0.85 5h0.85m-0.85 13.6h0.85m-0.85 0.8h0.85m-0.85 3h0.85m-0.85 2.4h0.85m-0.85 3.4h0.85m-0.85 0.4h0.85m-0.85 10.2h0.85m-0.65 -42.2h0.85m-0.85 8.6h0.85m-0.85 8.6h0.85m-0.85 4h0.85m-0.85 8.8h0.85m-0.85 0.6h0.85m-0.85 1h0.85m-0.85 0.6h0.85m-0.65 -33.8h0.85m-0.85 20h0.85m-0.85 7h0.85m-0.85 1.2h0.85m-0.85 1h0.85m-0.85 0.8h0.85m-0.85 0.6h0.85m-0.85 2.4h0.85m-0.85 4.6h0.85m-0.85 0.8h0.85m-0.85 0.6h0.85m-0.85 1.6h0.85m-0.85 2.4h0.85m-0.85 5h0.85m-0.65 -52h0.85m-0.85 5.2h0.85m-0.85 9.4h0.85m-0.85 17h0.85m-0.85 2h0.85m-0.85 6h0.85m-0.85 0.2h0.85m-0.85 0.8h0.85m-0.85 0.2h0.85m-0.85 7.4h0.85m-0.85 2.6h0.85m-0.65 -51h0.85m-0.85 5.4h0.85m-0.85 19.8h0.85m-0.85 4.4h0.85m-0.85 6.2h0.85m-0.85 1.2h0.85m-0.85 2.4h0.85m-0.85 10.6h0.85m-0.65 -56.2h0.85m-0.85 9h0.85m-0.85 3.6h0.85m-0.85 0.4h0.85m-0.85 0.8h0.85m-0.85 2.4h0.85m-0.85 13.6h0.85m-0.85 3h0.85m-0.85 1h0.85m-0.85 4.2h0.85m-0.85 0.2h0.85m-0.85 2.8h0.85m-0.85 1.6h0.85m-0.85 1.6h0.85m-0.85 3.4h0.85m-0.85 2.6h0.85m-0.85 1h0.85m-0.65 -41.6h0.85m-0.85 23.8h0.85m-0.85 0.2h0.85m-0.85 3.4h0.85m-0.85 1.6h0.85m-0.85 0.2h0.85m-0.85 1h0.85m-0.85 13.2h0.85m-0.65 -29.2h0.85m-0.85 6.4h0.85m-0.85 11.2h0.85m-0.85 6.2h0.85m-0.85 1h0.85m-0.85 1.8h0.85m-0.65 -38.6h0.85m-0.85 3.8h0.85m-0.85 4.8h0.85m-0.85 1.8h0.85m-0.85 1.6h0.85m-0.85 6h0.85m-0.85 1.6h0.85m-0.85 1h0.85m-0.85 3.8h0.85m-0.85 0.6h0.85m-0.85 6.4h0.85m-0.85 2.4h0.85m-0.85 4.4h0.85m-0.65 -48.8h0.85m-0.85 10.2h0.85m-0.85 0.8h0.85m-0.85 18h0.85m-0.85 1.2h0.85m-0.85 1.4h0.85m-0.85 2.4h0.85m-0.85 6.2h0.85m-0.85 3h0.85m-0.85 0.2h0.85m-0.85 3.6h0.85m-0.85 2.6h0.85m-0.85 1.4h0.85m-0.65 -51.4h0.85m-0.85 8.6h0.85m-0.85 1.2h0.85m-0.85 1h0.85m-0.85 17h0.85m-0.85 5.4h0.85m-0.85 2h0.85m-0.85 2h0.85m-0.85 3.2h0.85m-0.85 0.6h0.85m-0.85 1.6h0.85m-0.85 11.2h0.85m-0.85 3.2h0.85m-0.65 -49.8h0.85m-0.85 1.8h0.85m-0.85 1.2h0.85m-0.85 0.2h0.85m-0.85 0.6h0.85m-0.85 16.6h0.85m-0.85 2.6h0.85m-0.85 2.2h0.85m-0.85 5h0.85m-0.85 6h0.85m-0.85 11.4h0.85m-0.65 -48h0.85m-0.85 3.4h0.85m-0.85 2h0.85m-0.85 1h0.85m-0.85 15.4h0.85m-0.85 1.2h0.85m-0.85 4.4h0.85m-0.85 0.2h0.85m-0.85 3.4h0.85m-0.85 2h0.85m-0.85 2.8h0.85m-0.85 6h0.85m-0.85 5.2h0.85m-0.65 -52.6h0.85m-0.85 22.6h0.85m-0.85 8.8h0.85m-0.85 8.2h0.85m-0.85 0.2h0.85m-0.85 2.4h0.85m-0.85 2.8h0.85m-0.85 4h0.85m-0.65 -39.4h0.85m-0.85 8h0.85m-0.85 5.4h0.85m-0.85 7.2h0.85m-0.85 13.6h0.85m-0.65 -25.4h0.85m-0.85 10h0.85m-0.85 3.2h0.85m-0.85 0.4h0.85m-0.85 3.2h0.85m-0.85 0.2h0.85m-0.85 0.6h0.85m-0.85 8.4h0.85m-0.85 7.6h0.85m-0.65 -37.4h0.85m-0.85 14.4h0.85m-0.85 0.4h0.85m-0.85 1h0.85m-0.85 0.8h0.85m-0.85 0.2h0.85m-0.85 0.2h0.85m-0.85 1h0.85m-0.85 1.4h0.85m-0.85 5h0.85m-0.85 0.2h0.85m-0.85 0.4h0.85m-0.85 0.6h0.85m-0.85 0.2h0.85m-0.85 0.6h0.85m-0.85 2.8h0.85m-0.85 0.2h0.85m-0.85 2.6h0.85m-0.85 4h0.85m-0.85 2.2h0.85m-0.65 -48h0.85m-0.85 4.8h0.85m-0.85 7.6h0.85m-0.85 8.6h0.85m-0.85 6.2h0.85m-0.85 0.6h0.85m-0.85 5.4h0.85m-0.85 10.2h0.85m-0.85 9h0.85m-0.65 -52.4h0.85m-0.85 5h0.85m-0.85 0.2h0.85m-0.85 16.2h0.85m-0.85 0.2h0.85m-0.85 2.6h0.85m-0.85 6.4h0.85m-0.85 1.2h0.85m-0.85 3.8h0.85m-0.85 2.4h0.85m-0.85 0.6h0.85m-0.85 4h0.85m-0.85 3.4h0.85m-0.85 4.8h0.85m-0.65 -50.8h0.85m-0.85 15.2h0.85m-0.85 6.6h0.85m-0.85 1.6h0.85m-0.85 6.8h0.85m-0.85 4.4h0.85m-0.85 0.8h0.85m-0.85 1.6h0.85m-0.85 3.8h0.85m-0.85 1h0.85m-0.85 4.2h0.85m-0.65 -25.2h0.85m-0.85 15.6h0.85m-0.85 4h0.85m-0.85 1.2h0.85m-0.85 0.4h0.85m-0.85 1h0.85m-0.85 1h0.85m-0.85 0.2h0.85m-0.85 0.4h0.85m-0.65 -34.8h0.85m-0.85 3.8h0.85m-0.85 1.8h0.85m-0.85 3.4h0.85m-0.85 5.6h0.85m-0.85 1.8h0.85m-0.85 4.2h0.85m-0.85 1.8h0.85m-0.85 3.4h0.85m-0.85 2.4h0.85m-0.85 1.2h0.85m-0.85 4.4h0.85m-0.85 0.4h0.85m-0.85 1h0.85m-0.65 -50.2h0.85m-0.85 3.6h0.85m-0.85 4.6h0.85m-0.85 2.4h0.85m-0.85 23.4h0.85m-0.85 2h0.85m-0.85 3h0.85m-0.85 1h0.85m-0.85 4.4h0.85m-0.85 1h0.85m-0.85 9.8h0.85m-0.65 -49.8h0.85m-0.85 17.8h0.85m-0.85 1.2h0.85m-0.85 3h0.85m-0.85 4.4h0.85m-0.85 5.6h0.85m-0.85 0.4h0.85m-0.85 1.4h0.85m-0.85 0.8h0.85m-0.85 0.4h0.85m-0.85 1h0.85m-0.85 5.2h0.85m-0.85 0.2h0.85m-0.85 0.6h0.85m-0.85 0.8h0.85m-0.65 -43.4h0.85m-0.85 4.4h0.85m-0.85 18.6h0.85m-0.85 7.8h0.85m-0.85 3h0.85m-0.85 3.6h0.85m-0.65 -16h0.85m-0.85 1.4h0.85m-0.85 1.2h0.85m-0.85 0.6h0.85m-0.85 6h0.85m-0.85 2.6h0.85m-0.85 8.4h0.85m-0.85 0.8h0.85m-0.85 5h0.85m-0.85 0.6h0.85m-0.85 0.2h0.85m-0.65 -45h0.85m-0.85 20h0.85m-0.85 3.8h0.85m-0.85 1.2h0.85m-0.85 1.2h0.85m-0.85 0.2h0.85m-0.85 5.8h0.85m-0.65 -33.4h0.85m-0.85 2.4h0.85m-0.85 9h0.85m-0.85 7.2h0.85m-0.85 1h0.85m-0.85 8.2h0.85m-0.85 5.6h0.85m-0.85 0.6h0.85m-0.85 1.6h0.85m-0.85 6.8h0.85m-0.85 0.2h0.85m-0.85 5.4h0.85m-0.65 -54h0.85m-0.85 12.6h0.85m-0.85 11h0.85m-0.85 0.2h0.85m-0.85 5h0.85m-0.85 3.4h0.85m-0.85 13.4h0.85m-0.65 -40.6h0.85m-0.85 9.8h0.85m-0.85 14.2h0.85m-0.85 5h0.85m-0.85 0.8h0.85m-0.85 1.8h0.85m-0.85 9.2h0.85m-0.65 -34.6h0.85m-0.85 8.8h0.85m-0.85 13.2h0.85m-0.85 3.8h0.85m-0.85 2.4h0.85m-0.85 0.4h0.85m-0.85 1.2h0.85m-0.85 1.6h0.85m-0.85 0.6h0.85m-0.85 2h0.85m-0.85 1.8h0.85m-0.85 3h0.85m-0.65 -27.8h0.85m-0.85 1.8h0.85m-0.85 8.2h0.85m-0.85 0.6h0.85m-0.85 10.6h0.85m-0.85 4.4h0.85m-0.85 0.4h0.85m-0.65 -54.8h0.85m-0.85 6.6h0.85m-0.85 2.2h0.85m-0.85 16.2h0.85m-0.85 4.4h0.85m-0.85 7.4h0.85m-0.85 1.8h0.85m-0.85 1.2h0.85m-0.85 0.6h0.85m-0.85 1.8h0.85m-0.85 2.8h0.85m-0.85 1.8h0.85m-0.85 3h0.85m-0.85 5.6h0.85m-0.65 -50h0.85m-0.85 1.2h0.85m-0.85 7h0.85m-0.85 3h0.85m-0.85 10.6h0.85m-0.85 0.2h0.85m-0.85 6.8h0.85m-0.85 1.2h0.85m-0.85 0.6h0.85m-0.85 2.4h0.85m-0.85 4.8h0.85m-0.85 1.6h0.85m-0.85 1h0.85m-0.85 0.4h0.85m-0.85 12.4h0.85m-0.85 3h0.85m-0.65 -47.2h0.85m-0.85 6h0.85m-0.85 22h0.85m-0.85 0.8h0.85m-0.85 0.2h0.85m-0.85 2.2h0.85m-0.85 3h0.85m-0.85 1.8h0.85m-0.85 0.6h0.85m-0.85 1.2h0.85m-0.85 6.8h0.85m-0.65 -40.4h0.85m-0.85 11.4h0.85m-0.85 0.2h0.85m-0.85 3h0.85m-0.85 3.8h0.85m-0.85 4.8h0.85m-0.85 3.8h0.85m-0.85 5.8h0.85m-0.85 5.4h0.85m-0.85 6.4h0.85m-0.65 -59h0.85m-0.85 5.8h0.85m-0.85 16h0.85m-0.85 0.2h0.85m-0.85 16h0.85m-0.85 1h0.85m-0.85 1.4h0.85m-0.85 3.6h0.85m-0.85 0.6h0.85m-0.85 0.8h0.85m-0.85 6.8h0.85m-0.65 -36h0.85m-0.85 0.6h0.85m-0.85 6.4h0.85m-0.85 2.8h0.85m-0.85 13h0.85m-0.85 1.4h0.85m-0.85 1.8h0.85m-0.85 4.8h0.85m-0.85 1h0.85m-0.85 1h0.85m-0.85 5h0.85m-0.65 -38.4h0.85m-0.85 7h0.85m-0.85 3.8h0.85m-0.85 8.8h0.85m-0.85 16.6h0.85m-0.85 5.6h0.85m-0.65 -33.6h0.85m-0.85 7.2h0.85m-0.85 1h0.85m-0.85 5.6h0.85m-0.85 2h0.85m-0.85 0.6h0.85m-0.85 8.8h0.85m-0.85 0.8h0.85m-0.85 4.4h0.85m-0.85 0.8h0.85m-0.65 -42.6h0.85m-0.85 2.2h0.85m-0.85 6h0.85m-0.85 5.6h0.85m-0.85 5.6h0.85m-0.85 6.2h0.85m-0.85 0.4h0.85m-0.85 0.2h0.85m-0.85 0.2h0.85m-0.85 2.2h0.85m-0.85 5h0.85m-0.85 4.2h0.85m-0.85 7h0.85m-0.65 -34.8h0.85m-0.85 4.2h0.85m-0.85 1.8h0.85m-0.85 11.4h0.85m-0.85 2.2h0.85m-0.85 3h0.85m-0.85 12h0.85m-0.85 1.8h0.85m-0.65 -54.2h0.85m-0.85 22h0.85m-0.85 8.2h0.85m-0.85 1.4h0.85m-0.85 3.8h0.85m-0.85 3.8h0.85m-0.85 0.4h0.85m-0.85 0.4h0.85m-0.85 2.2h0.85m-0.85 1h0.85m-0.85 1.6h0.85m-0.85 1.8h0.85m-0.85 1.8h0.85m-0.65 -20.4h0.85m-0.85 0.2h0.85m-0.85 1.6h0.85m-0.85 1.8h0.85m-0.85 1.8h0.85m-0.85 2.2h0.85m-0.85 1.8h0.85m-0.85 0.6h0.85m-0.85 4.6h0.85m-0.85 0.6h0.85m-0.85 2.8h0.85m-0.65 -12.6h0.85m-0.85 3.2h0.85m-0.85 0.8h0.85m-0.85 0.8h0.85m-0.85 0.6h0.85m-0.85 0.6h0.85m-0.85 6.6h0.85m-0.65 -18.2h0.85m-0.85 0.2h0.85m-0.85 2.2h0.85m-0.85 3.4h0.85m-0.85 6.6h0.85m-0.85 1h0.85m-0.65 -28.6h0.85m-0.85 7.4h0.85m-0.85 1h0.85m-0.85 1.8h0.85m-0.85 4.8h0.85m-0.85 0.8h0.85m-0.85 3.2h0.85m-0.85 0.6h0.85m-0.85 0.2h0.85m-0.85 3.6h0.85m-0.65 -33.4h0.85m-0.85 26.8h0.85m-0.85 6.6h0.85m-0.85 0.2h0.85m-0.85 3h0.85m-0.85 1.6h0.85m-0.85 3.8h0.85m-0.85 0.2h0.85m-0.85 2.2h0.85m-0.85 0.6h0.85m-0.85 0.6h0.85m-0.85 2h0.85m-0.65 -47.4h0.85m-0.85 19.2h0.85m-0.85 1h0.85m-0.85 5.4h0.85m-0.85 2.6h0.85m-0.85 3.2h0.85m-0.85 9.6h0.85m-0.65 -31h0.85m-0.85 8.4h0.85m-0.85 1.6h0.85m-0.85 8.8h0.85m-0.85 2.4h0.85m-0.85 0.6h0.85m-0.85 4.2h0.85m-0.85 0.4h0.85m-0.85 1.8h0.85m-0.85 7.2h0.85m-0.85 3.2h0.85m-0.65 -28h0.85m-0.85 3.4h0.85m-0.85 0.4h0.85m-0.85 4.6h0.85m-0.85 0.6h0.85m-0.85 2.6h0.85m-0.85 1h0.85m-0.85 1h0.85m-0.85 0.8h0.85m-0.85 2h0.85m-0.85 0.8h0.85m-0.85 6.4h0.85m-0.85 0.4h0.85m-0.85 2.2h0.85m-0.85 3.6h0.85m-0.65 -56.4h0.85m-0.85 33h0.85m-0.85 2h0.85m-0.85 4.2h0.85m-0.85 8.8h0.85m-0.85 6.4h0.85m-0.65 -28.6h0.85m-0.85 4.2h0.85m-0.85 0.4h0.85m-0.85 1.4h0.85m-0.85 1.6h0.85m-0.85 12.2h0.85m-0.65 -29h0.85m-0.85 17.6h0.85m-0.85 3.4h0.85m-0.85 7.2h0.85m-0.85 0.8h0.85m-0.85 0.2h0.85m-0.85 3h0.85m-0.65 -29.4h0.85m-0.85 10.2h0.85m-0.85 6.8h0.85m-0.85 4.4h0.85m-0.85 1h0.85m-0.85 5.6h0.85m-0.85 5h0.85m-0.85 0.4h0.85m-0.85 2.4h0.85m-0.65 -45.8h0.85m-0.85 20.6h0.85m-0.85 1.4h0.85m-0.85 0.2h0.85m-0.85 14.2h0.85m-0.65 -11.6h0.85m-0.85 5.2h0.85m-0.85 5.6h0.85m-0.85 0.6h0.85m-0.85 6h0.85m-0.85 1h0.85m-0.85 2.4h0.85m-0.65 -21.6h0.85m-0.85 5.8h0.85m-0.85 1h0.85m-0.85 0.6h0.85m-0.85 2.8h0.85m-0.85 0.8h0.85m-0.85 1.2h0.85m-0.85 4.8h0.85m-0.85 2.4h0.85m-0.65 -45h0.85m-0.85 23.4h0.85m-0.85 5h0.85m-0.85 1h0.85m-0.85 4.2h0.85m-0.85 2h0.85m-0.85 11.8h0.85m-0.65 -37.8h0.85m-0.85 6.4h0.85m-0.85 5.2h0.85m-0.85 1h0.85m-0.85 2h0.85m-0.85 4.6h0.85m-0.85 7.4h0.85m-0.85 1.2h0.85m-0.85 2h0.85m-0.85 4h0.85m-0.65 -33h0.85m-0.85 7.6h0.85m-0.85 4.2h0.85m-0.85 5.4h0.85m-0.85 2.4h0.85m-0.85 2.2h0.85m-0.85 1.4h0.85m-0.85 3.4h0.85m-0.85 10.6h0.85m-0.85 1.4h0.85m-0.65 -31.6h0.85m-0.85 11.4h0.85m-0.85 1h0.85m-0.85 4.4h0.85m-0.85 2.6h0.85m-0.85 6.8h0.85m-0.85 2.4h0.85m-0.65 -31.4h0.85m-0.85 2h0.85m-0.85 1h0.85m-0.85 0.2h0.85m-0.85 2h0.85m-0.85 4h0.85m-0.85 4.8h0.85m-0.85 3.8h0.85m-0.85 0.2h0.85m-0.85 2.2h0.85m-0.85 4.4h0.85m-0.85 5.2h0.85m-0.65 -29h0.85m-0.85 10h0.85m-0.85 3.6h0.85m-0.85 0.8h0.85m-0.85 3h0.85m-0.85 1.2h0.85m-0.85 0.2h0.85m-0.85 1.2h0.85m-0.85 0.4h0.85m-0.85 1h0.85m-0.85 2.8h0.85m-0.65 -47.4h0.85m-0.85 11.8h0.85m-0.85 8.4h0.85m-0.85 6.4h0.85m-0.85 1h0.85m-0.85 5.8h0.85m-0.85 3.6h0.85m-0.85 6.8h0.85m-0.85 1.6h0.85m-0.85 4.4h0.85m-0.65 -32.8h0.85m-0.85 0.6h0.85m-0.85 11h0.85m-0.85 9h0.85m-0.85 3.8h0.85m-0.85 0.4h0.85m-0.85 3.6h0.85m-0.65 -33.8h0.85m-0.85 13.6h0.85m-0.85 4.4h0.85m-0.85 9.4h0.85m-0.85 1h0.85m-0.85 3h0.85m-0.85 6.4h0.85m-0.65 -23.8h0.85m-0.85 2.6h0.85m-0.85 4h0.85m-0.85 3h0.85m-0.85 4h0.85m-0.85 1.4h0.85m-0.85 3.4h0.85m-0.85 1h0.85m-0.85 3.8h0.85m-0.85 1h0.85m-0.85 3.2h0.85m-0.85 2.2h0.85m-0.85 2.6h0.85m-0.65 -52.2h0.85m-0.85 12.6h0.85m-0.85 8.6h0.85m-0.85 2.8h0.85m-0.85 0.8h0.85m-0.85 9.8h0.85m-0.85 5.8h0.85m-0.85 3.4h0.85m-0.85 4.2h0.85m-0.65 -30h0.85m-0.85 6.2h0.85m-0.85 11.8h0.85m-0.85 6.2h0.85m-0.65 -18.8h0.85m-0.85 11.2h0.85m-0.85 5h0.85m-0.85 2.6h0.85m-0.85 4h0.85m-0.85 1h0.85m-0.65 -16.2h0.85m-0.85 1.6h0.85m-0.85 0.2h0.85m-0.85 0.6h0.85m-0.85 2.4h0.85m-0.85 0.4h0.85m-0.85 11.2h0.85m-0.65 -14.8h0.85m-0.85 0.4h0.85m-0.85 2.8h0.85m-0.85 2.2h0.85m-0.85 6h0.85m-0.65 -55.2h0.85m-0.85 28.2h0.85m-0.85 3.6h0.85m-0.85 3.6h0.85m-0.85 0.4h0.85m-0.85 9.2h0.85m-0.85 1.4h0.85m-0.85 2h0.85m-0.85 2.8h0.85m-0.85 1h0.85m-0.65 -26.8h0.85m-0.85 16.2h0.85m-0.85 0.8h0.85m-0.85 6h0.85m-0.85 1.6h0.85m-0.85 2.2h0.85m-0.85 1.8h0.85m-0.85 1.4h0.85m-0.65 -49h0.85m-0.85 20.8h0.85m-0.85 0.4h0.85m-0.85 3.4h0.85m-0.85 13.6h0.85m-0.85 5.6h0.85m-0.85 7.6h0.85m-0.65 -32.6h0.85m-0.85 19h0.85m-0.85 8.2h0.85m-0.85 0.8h0.85m-0.85 2.6h0.85m-0.85 0.6h0.85m-0.85 1.2h0.85m-0.65 -30.8h0.85m-0.85 7h0.85m-0.85 4.4h0.85m-0.85 0.4h0.85m-0.85 3.2h0.85m-0.85 3.2h0.85m-0.85 0.4h0.85m-0.85 8.8h0.85m-0.85 2h0.85m-0.85 7.2h0.85m-0.65 -28h0.85m-0.85 0.2h0.85m-0.85 6.2h0.85m-0.85 0.8h0.85m-0.85 1.8h0.85m-0.85 16.4h0.85m-0.65 -53.8h0.85m-0.85 37.8h0.85m-0.85 2.6h0.85m-0.85 4.4h0.85m-0.65 -42h0.85m-0.85 17h0.85m-0.85 8.4h0.85m-0.85 5.8h0.85m-0.85 0.4h0.85m-0.85 2.8h0.85m-0.85 0.4h0.85m-0.85 2.2h0.85m-0.85 0.4h0.85m-0.65 -25.4h0.85m-0.85 11.2h0.85m-0.85 1.6h0.85m-0.85 4.6h0.85m-0.85 0.6h0.85m-0.85 4h0.85m-0.65 -29.8h0.85m-0.85 17.8h0.85m-0.85 4.2h0.85m-0.85 1h0.85m-0.85 8.6h0.85m-0.85 2h0.85m-0.85 6.4h0.85m-0.85 7h0.85m-0.65 -20.6h0.85m-0.85 18.2h0.85m-0.65 -30.8h0.85m-0.85 2.2h0.85m-0.85 20.8h0.85m-0.85 0.8h0.85m-0.85 0.6h0.85m-0.85 1.8h0.85m-0.85 1h0.85m-0.85 0.2h0.85m-0.65 -42.6h0.85m-0.85 1.8h0.85m-0.85 27.8h0.85m-0.85 0.4h0.85m-0.85 7.6h0.85m-0.85 5h0.85m-0.65 -28.8h0.85m-0.85 10.8h0.85m-0.85 7.4h0.85m-0.85 7.2h0.85m-0.85 2.6h0.85m-0.85 0.6h0.85m-0.85 2.4h0.85m-0.65 -37.8h0.85m-0.85 16.2h0.85m-0.85 7.8h0.85m-0.85 0.2h0.85m-0.85 6.6h0.85m-0.85 6h0.85m-0.85 4.8h0.85m-0.65 -52h0.85m-0.85 35h0.85m-0.85 0.4h0.85m-0.65 -13.6h0.85m-0.85 7.2h0.85m-0.85 12.8h0.85m-0.85 9.2h0.85m-0.65 -30.8h0.85m-0.85 14.6h0.85m-0.85 3.8h0.85m-0.85 5h0.85m-0.85 5.2h0.85m-0.65 -51h0.85m-0.85 10.8h0.85m-0.85 18.4h0.85m-0.85 4.4h0.85m-0.85 14h0.85m-0.45 -17.8h0.85m-0.85 12.8h0.85m-0.85 1.2h0.85m-0.85 2.4h0.85" stroke="#000" stroke-width="0.85" fill="none"/>
</g>
<line x1="331.2" y1="542.5" x2="331.2" y2="574.4" stroke="#666" stroke-width="1.4"/>
<line x1="331.2" y1="574.4" x2="381.6" y2="574.4" stroke="#666" stroke-width="1.2"/>
<line x1="287.8" y1="542.4" x2="381.6" y2="542.4" stroke="#888" stroke-width="0.8"/>
<rect x="287.8" y="540.2" width="93.8" height="77.7" fill="none" stroke="#333" stroke-width="1.3"/>
<text x="290.01" y="552.2" font-size="12.63" font-family='"Liberation Serif", serif' textLength="38.08" lengthAdjust="spacingAndGlyphs" fill="#a82432" stroke="#a82432" stroke-width="0.15">0.62%</text>
<text x="337.63" y="552.2" font-size="12.63" font-family='"Liberation Serif", serif' textLength="43.94" lengthAdjust="spacingAndGlyphs" fill="#a82432" stroke="#a82432" stroke-width="0.15">0.052%</text>
<line x1="278.5" y1="604.8" x2="278.5" y2="630" stroke="#222" stroke-width="1.3"/>
<line x1="278.5" y1="630" x2="320.4" y2="630" stroke="#222" stroke-width="1.3"/>
<path d="M276.2 605.4 L278.5 600.8 L280.8 605.4Z" fill="#222" stroke="none" stroke-width="0"/>
<path d="M319.8 627.7 L324.4 630 L319.8 632.3Z" fill="#222" stroke="none" stroke-width="0"/>
<text x="282.5" y="596.2" font-size="14.96" font-family='"Liberation Serif", serif' textLength="34.12" lengthAdjust="spacing" fill="#111" transform="rotate(-90 282.5 596.2)">c-Kit</text>
<text x="325.75" y="632.8" font-size="14.66" font-family='"Liberation Serif", serif' textLength="33.32" lengthAdjust="spacing" fill="#111">Sca1</text>
<g clip-path="url(#clipko)">
<ellipse cx="461" cy="594" rx="13" ry="8" fill="#000" opacity="0.5" filter="url(#blur3)"/>
<path d="M424.4 587.2h0.85m-0.45 -21.2h0.85m-0.85 5.6h0.85m-0.85 40h0.85m-0.65 -4.4h0.85m-0.65 -37.2h0.85m-0.85 33.6h0.85m-0.85 2.8h0.85m-0.85 8.8h0.85m-0.65 -34.6h0.85m-0.85 8.4h0.85m-0.85 7.2h0.85m-0.85 7.4h0.85m-0.65 -3.8h0.85m-0.85 0.2h0.85m-0.85 7.2h0.85m-0.65 -13.4h0.85m-0.65 -17.4h0.85m-0.85 17.6h0.85m-0.85 3.6h0.85m-0.85 14.2h0.85m-0.65 -42h0.85m-0.85 24.6h0.85m-0.85 9.2h0.85m-0.85 5.8h0.85m-0.65 -19.6h0.85m-0.85 0.6h0.85m-0.85 0.2h0.85m-0.85 6.8h0.85m-0.85 5.8h0.85m-0.85 2.4h0.85m-0.65 -27h0.85m-0.85 13.2h0.85m-0.85 15.2h0.85m-0.85 6h0.85m-0.65 -36.2h0.85m-0.85 5.4h0.85m-0.85 28h0.85m-0.65 -28.4h0.85m-0.85 12.8h0.85m-0.65 -17.8h0.85m-0.85 20.8h0.85m-0.85 5.8h0.85m-0.65 -13h0.85m-0.85 4h0.85m-0.85 11.6h0.85m-0.85 8.8h0.85m-0.65 -34.8h0.85m-0.85 18.2h0.85m-0.85 1.4h0.85m-0.65 -1.2h0.85m-0.85 7.4h0.85m-0.85 4.6h0.85m-0.65 -18.4h0.85m-0.85 6.6h0.85m-0.85 6.6h0.85m-0.85 3.4h0.85m-0.85 1.2h0.85m-0.85 4.2h0.85m-0.65 -33.4h0.85m-0.85 6.8h0.85m-0.65 3.2h0.85m-0.85 5.6h0.85m-0.85 3h0.85m-0.85 0.4h0.85m-0.65 -7.6h0.85m-0.85 10.2h0.85m-0.85 5.2h0.85m-0.65 -20h0.85m-0.85 1.2h0.85m-0.85 9.2h0.85m-0.65 -11.8h0.85m-0.85 6.8h0.85m-0.85 10.2h0.85m-0.85 7.4h0.85m-0.65 -15.8h0.85m-0.85 2h0.85m-0.85 12.6h0.85m-0.85 4.4h0.85m-0.65 -36.2h0.85m-0.85 5.6h0.85m-0.85 4.8h0.85m-0.85 9h0.85m-0.85 0.4h0.85m-0.85 12h0.85m-0.85 1h0.85m-0.45 -41.8h0.85m-0.85 19.2h0.85m-0.85 4h0.85m-0.85 9.6h0.85m-0.85 0.2h0.85m-0.85 11.6h0.85m-0.65 -22.4h0.85m-0.85 8.6h0.85m-0.85 1h0.85m-0.85 1h0.85m-0.85 8.8h0.85m-0.85 1.2h0.85m-0.65 -29.6h0.85m-0.85 16h0.85m-0.85 7h0.85m-0.85 0.6h0.85m-0.65 -37.8h0.85m-0.85 10.2h0.85m-0.85 10.8h0.85m-0.85 2.8h0.85m-0.85 4.2h0.85m-0.85 0.8h0.85m-0.85 2.2h0.85m-0.85 8.6h0.85m-0.65 -12h0.85m-0.85 8.2h0.85m-0.65 -36.2h0.85m-0.85 18.6h0.85m-0.85 6.6h0.85m-0.85 10.2h0.85m-0.85 5.8h0.85m-0.85 6h0.85m-0.65 -29h0.85m-0.85 4.6h0.85m-0.85 6.8h0.85m-0.85 6.4h0.85m-0.65 -18.8h0.85m-0.85 14.6h0.85m-0.85 2.2h0.85m-0.85 0.4h0.85m-0.85 10.6h0.85m-0.65 -24h0.85m-0.85 8.6h0.85m-0.85 0.2h0.85m-0.85 2h0.85m-0.85 4.6h0.85m-0.85 2.6h0.85m-0.85 7.6h0.85m-0.65 -29.6h0.85m-0.85 4.6h0.85m-0.85 12.8h0.85m-0.85 6.6h0.85m-0.65 -25h0.85m-0.85 4.6h0.85m-0.85 9.2h0.85m-0.65 -2.2h0.85m-0.85 0.2h0.85m-0.85 14.6h0.85m-0.65 -19h0.85m-0.85 5.8h0.85m-0.85 9h0.85m-0.85 9.2h0.85m-0.65 -47.6h0.85m-0.85 23.8h0.85m-0.85 7.6h0.85m-0.85 7.8h0.85m-0.85 8.2h0.85m-0.65 -29.2h0.85m-0.85 6h0.85m-0.85 11.4h0.85m-0.85 9h0.85m-0.65 -35.4h0.85m-0.85 11.4h0.85m-0.85 2.2h0.85m-0.85 4.4h0.85m-0.85 5.2h0.85m-0.65 -32.8h0.85m-0.85 15.6h0.85m-0.85 1.4h0.85m-0.85 4h0.85m-0.65 -1h0.85m-0.85 4h0.85m-0.85 1.8h0.85m-0.85 10.4h0.85m-0.65 -18.8h0.85m-0.85 3.6h0.85m-0.85 5.2h0.85m-0.85 11.6h0.85m-0.85 2.2h0.85m-0.65 -42.4h0.85m-0.85 0.8h0.85m-0.85 21.2h0.85m-0.85 1.2h0.85m-0.85 16h0.85m-0.85 11h0.85m-0.65 -30.4h0.85m-0.85 6.4h0.85m-0.85 6.2h0.85m-0.85 2h0.85m-0.85 0.4h0.85m-0.85 3h0.85m-0.85 3.6h0.85m-0.65 -22.2h0.85m-0.85 8h0.85m-0.85 7.4h0.85m-0.65 -20.6h0.85m-0.85 12.6h0.85m-0.85 3h0.85m-0.85 9h0.85m-0.85 4.8h0.85m-0.85 0.6h0.85m-0.85 1.8h0.85m-0.85 3.2h0.85m-0.65 -44.6h0.85m-0.85 30h0.85m-0.85 3.6h0.85m-0.85 1.4h0.85m-0.85 6.2h0.85m-0.85 5.8h0.85m-0.65 -41.6h0.85m-0.85 0.6h0.85m-0.85 17.8h0.85m-0.85 4.2h0.85m-0.85 0.6h0.85m-0.85 2h0.85m-0.85 12h0.85m-0.65 -26.6h0.85m-0.85 4.4h0.85m-0.85 10.8h0.85m-0.85 15.2h0.85m-0.65 -47.2h0.85m-0.85 3.2h0.85m-0.85 13.4h0.85m-0.85 2h0.85m-0.85 3.2h0.85m-0.85 7.2h0.85m-0.85 1.8h0.85m-0.85 0.2h0.85m-0.65 -24h0.85m-0.85 16.6h0.85m-0.85 0.4h0.85m-0.85 2.6h0.85m-0.85 5h0.85m-0.85 2.8h0.85m-0.85 0.6h0.85m-0.65 -12.6h0.85m-0.85 6.4h0.85m-0.85 4h0.85m-0.85 12.6h0.85m-0.65 -39.4h0.85m-0.85 19h0.85m-0.85 3h0.85m-0.85 4.2h0.85m-0.85 0.8h0.85m-0.85 0.4h0.85m-0.85 2.8h0.85m-0.85 1.4h0.85m-0.65 -47.8h0.85m-0.85 15.6h0.85m-0.85 20.2h0.85m-0.85 5.4h0.85m-0.85 1.2h0.85m-0.85 4.4h0.85m-0.85 4h0.85m-0.85 3.8h0.85m-0.65 -24.6h0.85m-0.85 6.2h0.85m-0.85 5.6h0.85m-0.85 1.2h0.85m-0.85 6h0.85m-0.65 -1.8h0.85m-0.65 -26h0.85m-0.85 0.6h0.85m-0.85 0.8h0.85m-0.85 2.2h0.85m-0.85 5.8h0.85m-0.85 2.2h0.85m-0.85 5h0.85m-0.85 0.8h0.85m-0.85 1.6h0.85m-0.85 6.2h0.85m-0.65 -39h0.85m-0.85 1.2h0.85m-0.85 4h0.85m-0.85 5.8h0.85m-0.85 10h0.85m-0.85 1.8h0.85m-0.85 0.8h0.85m-0.85 3.8h0.85m-0.85 19.2h0.85m-0.85 2.2h0.85m-0.65 -35.6h0.85m-0.85 0.6h0.85m-0.85 1.2h0.85m-0.85 2.6h0.85m-0.85 2.8h0.85m-0.85 0.8h0.85m-0.85 3.2h0.85m-0.85 1.8h0.85m-0.85 14.6h0.85m-0.85 2h0.85m-0.85 0.8h0.85m-0.65 -18h0.85m-0.85 3.8h0.85m-0.85 4.6h0.85m-0.85 1.4h0.85m-0.85 4.2h0.85m-0.85 7.2h0.85m-0.65 -24.8h0.85m-0.85 8h0.85m-0.85 0.2h0.85m-0.85 1.8h0.85m-0.85 1h0.85m-0.65 -16h0.85m-0.85 1.2h0.85m-0.85 3h0.85m-0.85 3h0.85m-0.85 9h0.85m-0.85 0.6h0.85m-0.85 0.2h0.85m-0.85 2h0.85m-0.85 0.8h0.85m-0.65 -24.4h0.85m-0.85 2h0.85m-0.85 0.8h0.85m-0.85 6.6h0.85m-0.85 9.6h0.85m-0.85 2h0.85m-0.85 0.6h0.85m-0.85 1.4h0.85m-0.85 0.8h0.85m-0.85 5.6h0.85m-0.85 4.2h0.85m-0.65 -34.2h0.85m-0.85 7.6h0.85m-0.85 3h0.85m-0.85 1h0.85m-0.85 1.8h0.85m-0.85 1.4h0.85m-0.85 0.2h0.85m-0.85 9.8h0.85m-0.85 3.2h0.85m-0.85 4.6h0.85m-0.85 4.2h0.85m-0.65 -39h0.85m-0.85 15h0.85m-0.85 5.2h0.85m-0.85 4h0.85m-0.85 4.4h0.85m-0.85 6.4h0.85m-0.65 -44.8h0.85m-0.85 7h0.85m-0.85 9h0.85m-0.85 8.2h0.85m-0.85 1.2h0.85m-0.85 0.2h0.85m-0.85 0.8h0.85m-0.85 0.8h0.85m-0.85 5.6h0.85m-0.85 5.2h0.85m-0.85 1h0.85m-0.85 4h0.85m-0.65 -15.8h0.85m-0.85 1.2h0.85m-0.85 4h0.85m-0.85 0.6h0.85m-0.85 1.4h0.85m-0.85 2h0.85m-0.85 0.4h0.85m-0.85 3.4h0.85m-0.85 4h0.85m-0.65 -46h0.85m-0.85 22.8h0.85m-0.85 3h0.85m-0.85 2h0.85m-0.85 1.8h0.85m-0.85 1.8h0.85m-0.85 1.4h0.85m-0.85 2.8h0.85m-0.85 2.2h0.85m-0.85 1.2h0.85m-0.85 3.6h0.85m-0.65 -27h0.85m-0.85 0.2h0.85m-0.85 8.4h0.85m-0.85 6.8h0.85m-0.85 8.4h0.85m-0.85 4.8h0.85m-0.85 2.4h0.85m-0.65 -31.6h0.85m-0.85 5h0.85m-0.85 12.4h0.85m-0.85 3.6h0.85m-0.85 5.6h0.85m-0.85 0.8h0.85m-0.85 9.8h0.85m-0.65 -40.4h0.85m-0.85 0.2h0.85m-0.85 13.4h0.85m-0.85 1.2h0.85m-0.85 3.2h0.85m-0.85 5.4h0.85m-0.85 5.2h0.85m-0.85 1.8h0.85m-0.85 4.8h0.85m-0.65 -4h0.85m-0.85 0.4h0.85m-0.65 -29.6h0.85m-0.85 12.6h0.85m-0.85 0.4h0.85m-0.85 0.2h0.85m-0.85 2.2h0.85m-0.85 3.6h0.85m-0.85 4h0.85m-0.85 0.4h0.85m-0.85 0.4h0.85m-0.85 2.8h0.85m-0.85 5.2h0.85m-0.85 1.2h0.85m-0.65 -29.4h0.85m-0.85 0.4h0.85m-0.85 4.6h0.85m-0.85 13.2h0.85m-0.85 2h0.85m-0.85 5.6h0.85m-0.85 0.2h0.85m-0.85 0.6h0.85m-0.85 0.6h0.85m-0.85 5.4h0.85m-0.65 -45.8h0.85m-0.85 10.4h0.85m-0.85 9h0.85m-0.85 0.2h0.85m-0.85 13.6h0.85m-0.85 1h0.85m-0.85 1h0.85m-0.85 4.6h0.85m-0.65 -31.4h0.85m-0.85 4.4h0.85m-0.85 3.6h0.85m-0.85 7.2h0.85m-0.85 1.6h0.85m-0.85 2.6h0.85m-0.85 6h0.85m-0.85 0.2h0.85m-0.85 0.2h0.85m-0.85 8.4h0.85m-0.85 1h0.85m-0.85 1.2h0.85m-0.65 -35h0.85m-0.85 6.6h0.85m-0.85 15.8h0.85m-0.85 3.2h0.85m-0.65 -13.8h0.85m-0.85 0.8h0.85m-0.85 4h0.85m-0.85 1.6h0.85m-0.85 7.8h0.85m-0.85 2h0.85m-0.65 -20.2h0.85m-0.85 1.4h0.85m-0.85 2.2h0.85m-0.85 7.8h0.85m-0.85 2.8h0.85m-0.85 12.6h0.85m-0.65 -32h0.85m-0.85 2.6h0.85m-0.85 3h0.85m-0.85 2.8h0.85m-0.85 9.4h0.85m-0.85 0.4h0.85m-0.85 0.6h0.85m-0.85 1.8h0.85m-0.85 2h0.85m-0.85 2h0.85m-0.85 6.8h0.85m-0.65 -47.2h0.85m-0.85 6h0.85m-0.85 5.2h0.85m-0.85 7.4h0.85m-0.85 1.2h0.85m-0.85 1.8h0.85m-0.85 2.4h0.85m-0.85 7.8h0.85m-0.85 5.4h0.85m-0.85 1h0.85m-0.85 1h0.85m-0.85 1h0.85m-0.85 7.8h0.85m-0.85 0.6h0.85m-0.65 -42.4h0.85m-0.85 11.8h0.85m-0.85 2h0.85m-0.85 6.4h0.85m-0.85 5.2h0.85m-0.85 0.2h0.85m-0.85 2h0.85m-0.85 0.8h0.85m-0.85 3h0.85m-0.85 4.4h0.85m-0.65 -28.2h0.85m-0.85 11.6h0.85m-0.85 6.2h0.85m-0.85 0.4h0.85m-0.85 2.8h0.85m-0.85 0.6h0.85m-0.85 3.4h0.85m-0.85 5.4h0.85m-0.85 2.2h0.85m-0.65 -30.8h0.85m-0.85 6.4h0.85m-0.85 9.6h0.85m-0.85 0.4h0.85m-0.85 0.8h0.85m-0.85 10.6h0.85m-0.65 -24.8h0.85m-0.85 0.4h0.85m-0.85 8h0.85m-0.85 1h0.85m-0.85 1h0.85m-0.85 0.6h0.85m-0.85 9.2h0.85m-0.85 0.2h0.85m-0.65 -27h0.85m-0.85 3.2h0.85m-0.85 5.4h0.85m-0.85 3.4h0.85m-0.85 2.6h0.85m-0.85 5.4h0.85m-0.85 0.2h0.85m-0.85 6.4h0.85m-0.85 2.8h0.85m-0.85 0.8h0.85m-0.85 0.6h0.85m-0.65 -24.6h0.85m-0.85 6.2h0.85m-0.85 0.4h0.85m-0.85 1.2h0.85m-0.85 0.8h0.85m-0.85 1.6h0.85m-0.85 8.8h0.85m-0.85 7h0.85m-0.65 -22h0.85m-0.85 2h0.85m-0.85 2h0.85m-0.85 2h0.85m-0.85 6.8h0.85m-0.85 2.6h0.85m-0.85 0.6h0.85m-0.85 3.8h0.85m-0.85 3h0.85m-0.85 1h0.85m-0.65 -45.6h0.85m-0.85 12.2h0.85m-0.85 4.8h0.85m-0.85 2.2h0.85m-0.85 5.8h0.85m-0.85 1.6h0.85m-0.85 0.6h0.85m-0.85 0.2h0.85m-0.85 0.8h0.85m-0.85 4.4h0.85m-0.85 3.2h0.85m-0.85 1h0.85m-0.85 5.4h0.85m-0.85 0.6h0.85m-0.85 1.8h0.85m-0.85 5.6h0.85m-0.65 -40.8h0.85m-0.85 0.2h0.85m-0.85 8.8h0.85m-0.85 2.2h0.85m-0.85 0.8h0.85m-0.85 1.2h0.85m-0.85 2h0.85m-0.85 0.4h0.85m-0.85 0.8h0.85m-0.85 3h0.85m-0.85 3.4h0.85m-0.85 2.4h0.85m-0.85 1.4h0.85m-0.85 5.8h0.85m-0.85 0.6h0.85m-0.85 4.8h0.85m-0.65 -38.4h0.85m-0.85 11.4h0.85m-0.85 1.2h0.85m-0.85 12.8h0.85m-0.65 -28.4h0.85m-0.85 0.2h0.85m-0.85 0.2h0.85m-0.85 7.6h0.85m-0.85 0.2h0.85m-0.85 3.2h0.85m-0.85 6.6h0.85m-0.85 1.8h0.85m-0.85 1.2h0.85m-0.85 1.4h0.85m-0.85 1h0.85m-0.85 21h0.85m-0.65 -33.2h0.85m-0.85 1.4h0.85m-0.85 2.2h0.85m-0.85 14.4h0.85m-0.85 0.4h0.85m-0.65 -18.4h0.85m-0.85 3.6h0.85m-0.85 2.4h0.85m-0.85 0.2h0.85m-0.85 1.4h0.85m-0.85 3.4h0.85m-0.85 0.6h0.85m-0.85 2.6h0.85m-0.85 7.2h0.85m-0.85 0.4h0.85m-0.65 -22.8h0.85m-0.85 9.2h0.85m-0.85 4h0.85m-0.85 5.8h0.85m-0.85 0.4h0.85m-0.85 3.8h0.85m-0.85 3.4h0.85m-0.85 1.2h0.85m-0.65 -31.2h0.85m-0.85 3.6h0.85m-0.85 2h0.85m-0.85 2.6h0.85m-0.85 1.4h0.85m-0.85 4h0.85m-0.85 7h0.85m-0.85 2.4h0.85m-0.85 1h0.85m-0.85 9.8h0.85m-0.65 -46.8h0.85m-0.85 12.4h0.85m-0.85 10h0.85m-0.85 2.6h0.85m-0.85 1.8h0.85m-0.85 2.2h0.85m-0.85 4.2h0.85m-0.85 0.8h0.85m-0.85 0.2h0.85m-0.85 2.8h0.85m-0.85 1.2h0.85m-0.85 8.4h0.85m-0.85 0.6h0.85m-0.85 2.2h0.85m-0.65 -40.6h0.85m-0.85 8h0.85m-0.85 3.4h0.85m-0.85 1h0.85m-0.85 8h0.85m-0.85 1h0.85m-0.85 1.6h0.85m-0.85 1.4h0.85m-0.85 4h0.85m-0.85 2.8h0.85m-0.85 1.8h0.85m-0.85 8.4h0.85m-0.65 -45.6h0.85m-0.85 15.6h0.85m-0.85 0.6h0.85m-0.85 0.6h0.85m-0.85 1.8h0.85m-0.85 1.2h0.85m-0.85 7h0.85m-0.85 0.8h0.85m-0.85 11.6h0.85m-0.85 2.2h0.85m-0.85 1h0.85m-0.85 2.4h0.85m-0.65 -39h0.85m-0.85 3.2h0.85m-0.85 1.4h0.85m-0.85 6.2h0.85m-0.85 0.4h0.85m-0.85 6.2h0.85m-0.85 0.8h0.85m-0.85 1.2h0.85m-0.85 1h0.85m-0.85 1.2h0.85m-0.85 0.6h0.85m-0.85 0.2h0.85m-0.85 1.6h0.85m-0.85 2.2h0.85m-0.85 0.8h0.85m-0.85 3.6h0.85m-0.85 2.6h0.85m-0.85 1.2h0.85m-0.85 4.8h0.85m-0.65 -43.4h0.85m-0.85 9.4h0.85m-0.85 5.4h0.85m-0.85 9.6h0.85m-0.85 2.4h0.85m-0.85 0.6h0.85m-0.85 6.4h0.85m-0.85 1.8h0.85m-0.85 3.6h0.85m-0.65 -45.6h0.85m-0.85 21h0.85m-0.85 3h0.85m-0.85 4.8h0.85m-0.85 4.4h0.85m-0.85 3.4h0.85m-0.85 1.6h0.85m-0.85 0.6h0.85m-0.85 9.4h0.85m-0.85 3.4h0.85m-0.65 -38.6h0.85m-0.85 3.6h0.85m-0.85 0.8h0.85m-0.85 0.8h0.85m-0.85 1.4h0.85m-0.85 4.4h0.85m-0.85 4.8h0.85m-0.85 1.6h0.85m-0.85 1.6h0.85m-0.85 4.2h0.85m-0.85 0.6h0.85m-0.85 1.6h0.85m-0.85 1.2h0.85m-0.85 6.4h0.85m-0.65 -40h0.85m-0.85 0.8h0.85m-0.85 19.8h0.85m-0.85 2.4h0.85m-0.85 2.6h0.85m-0.85 3.8h0.85m-0.85 1.2h0.85m-0.85 1.6h0.85m-0.85 0.6h0.85m-0.85 0.2h0.85m-0.85 1h0.85m-0.85 4h0.85m-0.85 0.4h0.85m-0.85 2.4h0.85m-0.85 0.4h0.85m-0.85 1h0.85m-0.65 -30h0.85m-0.85 3h0.85m-0.85 5.2h0.85m-0.85 1.6h0.85m-0.85 2.2h0.85m-0.85 1.8h0.85m-0.85 4.4h0.85m-0.85 2.2h0.85m-0.85 0.4h0.85m-0.85 1.8h0.85m-0.65 -24.4h0.85m-0.85 9.2h0.85m-0.85 8h0.85m-0.85 3.6h0.85m-0.85 0.2h0.85m-0.85 0.8h0.85m-0.85 3.8h0.85m-0.85 0.4h0.85m-0.85 5.2h0.85m-0.65 -30.4h0.85m-0.85 3.8h0.85m-0.85 5.2h0.85m-0.85 6h0.85m-0.85 2.6h0.85m-0.85 5.2h0.85m-0.85 0.2h0.85m-0.85 5h0.85m-0.65 -44h0.85m-0.85 1.8h0.85m-0.85 2.8h0.85m-0.85 6.2h0.85m-0.85 7h0.85m-0.85 1.2h0.85m-0.85 1h0.85m-0.85 0.4h0.85m-0.85 6.2h0.85m-0.85 3h0.85m-0.85 0.2h0.85m-0.85 5.6h0.85m-0.85 0.2h0.85m-0.85 0.2h0.85m-0.85 1.8h0.85m-0.85 1h0.85m-0.85 5h0.85m-0.85 4.4h0.85m-0.65 -40.8h0.85m-0.85 1.8h0.85m-0.85 4.8h0.85m-0.85 9.8h0.85m-0.85 1.8h0.85m-0.85 0.4h0.85m-0.85 3.2h0.85m-0.85 2.4h0.85m-0.85 1h0.85m-0.85 1.2h0.85m-0.85 5.8h0.85m-0.85 1.4h0.85m-0.85 2.2h0.85m-0.85 2.2h0.85m-0.85 5.4h0.85m-0.65 -53.4h0.85m-0.85 10h0.85m-0.85 1.4h0.85m-0.85 3.2h0.85m-0.85 4h0.85m-0.85 7.8h0.85m-0.85 0.2h0.85m-0.85 0.8h0.85m-0.85 0.4h0.85m-0.85 4h0.85m-0.85 0.6h0.85m-0.85 0.6h0.85m-0.85 2h0.85m-0.85 6.6h0.85m-0.85 0.4h0.85m-0.85 3.8h0.85m-0.85 3.2h0.85m-0.85 3.2h0.85m-0.65 -41.4h0.85m-0.85 1.4h0.85m-0.85 5.8h0.85m-0.85 12.2h0.85m-0.85 0.4h0.85m-0.85 0.2h0.85m-0.85 1.6h0.85m-0.85 2.8h0.85m-0.85 2h0.85m-0.85 0.2h0.85m-0.85 0.2h0.85m-0.85 10.4h0.85m-0.85 0.4h0.85m-0.85 4.2h0.85m-0.65 -40.6h0.85m-0.85 4.4h0.85m-0.85 2.4h0.85m-0.85 4.4h0.85m-0.85 1.6h0.85m-0.85 3.2h0.85m-0.85 0.4h0.85m-0.85 0.8h0.85m-0.85 0.6h0.85m-0.85 7h0.85m-0.85 6h0.85m-0.65 -33.8h0.85m-0.85 10.6h0.85m-0.85 3.8h0.85m-0.85 2.6h0.85m-0.85 1.6h0.85m-0.85 5.2h0.85m-0.85 0.6h0.85m-0.85 3.4h0.85m-0.85 1.8h0.85m-0.85 6.6h0.85m-0.85 4h0.85m-0.65 -37.6h0.85m-0.85 2.6h0.85m-0.85 2h0.85m-0.85 0.2h0.85m-0.85 0.8h0.85m-0.85 8.8h0.85m-0.85 0.6h0.85m-0.85 0.8h0.85m-0.85 2h0.85m-0.85 0.6h0.85m-0.85 9.2h0.85m-0.85 4.2h0.85m-0.85 1.2h0.85m-0.85 1.8h0.85m-0.85 5h0.85m-0.65 -36.2h0.85m-0.85 1.4h0.85m-0.85 2.8h0.85m-0.85 0.8h0.85m-0.85 8.6h0.85m-0.85 2.4h0.85m-0.85 1.2h0.85m-0.85 0.4h0.85m-0.85 3.2h0.85m-0.85 0.4h0.85m-0.85 2h0.85m-0.85 5.2h0.85m-0.85 2.8h0.85m-0.85 0.4h0.85m-0.85 1.8h0.85m-0.85 1h0.85m-0.65 -45.4h0.85m-0.85 8.2h0.85m-0.85 0.6h0.85m-0.85 1.6h0.85m-0.85 1.4h0.85m-0.85 8.4h0.85m-0.85 6.4h0.85m-0.85 0.4h0.85m-0.85 5.2h0.85m-0.85 2h0.85m-0.85 3.2h0.85m-0.85 0.4h0.85m-0.85 0.2h0.85m-0.85 5.8h0.85m-0.85 2.4h0.85m-0.85 1.8h0.85m-0.65 -44.2h0.85m-0.85 3h0.85m-0.85 4h0.85m-0.85 0.6h0.85m-0.85 2.8h0.85m-0.85 0.8h0.85m-0.85 3.6h0.85m-0.85 1h0.85m-0.85 0.2h0.85m-0.85 3.8h0.85m-0.85 3.4h0.85m-0.85 0.2h0.85m-0.85 0.2h0.85m-0.85 1.8h0.85m-0.85 1.2h0.85m-0.85 0.6h0.85m-0.85 1.8h0.85m-0.85 6.2h0.85m-0.85 0.2h0.85m-0.85 1.2h0.85m-0.85 2h0.85m-0.85 4.2h0.85m-0.65 -34h0.85m-0.85 1.2h0.85m-0.85 0.2h0.85m-0.85 1h0.85m-0.85 5.2h0.85m-0.85 8.6h0.85m-0.85 0.4h0.85m-0.85 3h0.85m-0.85 2.4h0.85m-0.85 1h0.85m-0.85 8h0.85m-0.85 3.8h0.85m-0.85 0.8h0.85m-0.65 -38.2h0.85m-0.85 4h0.85m-0.85 5.4h0.85m-0.85 0.2h0.85m-0.85 7.4h0.85m-0.85 3.2h0.85m-0.85 2h0.85m-0.85 0.2h0.85m-0.85 0.2h0.85m-0.65 -25.6h0.85m-0.85 2.6h0.85m-0.85 0.4h0.85m-0.85 2.6h0.85m-0.85 2.6h0.85m-0.85 0.4h0.85m-0.85 2.4h0.85m-0.85 0.6h0.85m-0.85 5.6h0.85m-0.85 1.6h0.85m-0.85 0.6h0.85m-0.85 2h0.85m-0.85 2h0.85m-0.85 0.8h0.85m-0.85 1.4h0.85m-0.85 1h0.85m-0.85 1.2h0.85m-0.85 3.6h0.85m-0.85 0.2h0.85m-0.85 4.4h0.85m-0.85 0.8h0.85m-0.85 3.2h0.85m-0.65 -40.4h0.85m-0.85 10h0.85m-0.85 0.8h0.85m-0.85 0.4h0.85m-0.85 3.4h0.85m-0.85 7h0.85m-0.85 4h0.85m-0.85 4.2h0.85m-0.85 3.4h0.85m-0.85 5h0.85m-0.85 1.4h0.85m-0.65 -42.4h0.85m-0.85 0.6h0.85m-0.85 0.8h0.85m-0.85 7.4h0.85m-0.85 1.8h0.85m-0.85 3.4h0.85m-0.85 4.8h0.85m-0.85 2h0.85m-0.85 3.6h0.85m-0.85 2.6h0.85m-0.85 0.4h0.85m-0.85 0.2h0.85m-0.85 0.4h0.85m-0.85 0.8h0.85m-0.85 0.4h0.85m-0.85 1h0.85m-0.85 0.2h0.85m-0.85 1.6h0.85m-0.85 2.8h0.85m-0.85 3.2h0.85m-0.85 2h0.85m-0.85 0.4h0.85m-0.85 4.8h0.85m-0.65 -40.6h0.85m-0.85 2.2h0.85m-0.85 10h0.85m-0.85 1.6h0.85m-0.85 1.6h0.85m-0.85 1.4h0.85m-0.85 2.2h0.85m-0.85 0.4h0.85m-0.85 4h0.85m-0.85 0.2h0.85m-0.85 0.2h0.85m-0.85 7.8h0.85m-0.85 3.2h0.85m-0.65 -37.2h0.85m-0.85 3.8h0.85m-0.85 7h0.85m-0.85 3.2h0.85m-0.85 2h0.85m-0.85 2.4h0.85m-0.85 0.2h0.85m-0.85 1h0.85m-0.85 2.8h0.85m-0.85 2.4h0.85m-0.85 0.8h0.85m-0.85 1.4h0.85m-0.85 2h0.85m-0.85 1h0.85m-0.85 0.4h0.85m-0.85 0.6h0.85m-0.85 3.4h0.85m-0.85 1h0.85m-0.85 3.4h0.85m-0.85 1.8h0.85m-0.65 -68h0.85m-0.85 21.4h0.85m-0.85 7.2h0.85m-0.85 2h0.85m-0.85 4.2h0.85m-0.85 3.6h0.85m-0.85 0.8h0.85m-0.85 0.2h0.85m-0.85 1.6h0.85m-0.85 1.6h0.85m-0.85 0.4h0.85m-0.85 1.8h0.85m-0.85 2.2h0.85m-0.85 3.4h0.85m-0.85 0.4h0.85m-0.85 3.4h0.85m-0.85 3h0.85m-0.85 0.2h0.85m-0.85 0.6h0.85m-0.85 5.8h0.85m-0.85 5h0.85m-0.65 -42.6h0.85m-0.85 3h0.85m-0.85 3.6h0.85m-0.85 4.2h0.85m-0.85 5.8h0.85m-0.85 0.4h0.85m-0.85 2h0.85m-0.85 1h0.85m-0.85 1h0.85m-0.85 0.4h0.85m-0.85 0.8h0.85m-0.85 0.2h0.85m-0.85 1.6h0.85m-0.85 1.2h0.85m-0.85 0.6h0.85m-0.85 2.6h0.85m-0.65 -26.4h0.85m-0.85 5.8h0.85m-0.85 1.8h0.85m-0.85 5.2h0.85m-0.85 3.4h0.85m-0.85 3.6h0.85m-0.85 1.8h0.85m-0.85 0.6h0.85m-0.85 0.8h0.85m-0.85 1h0.85m-0.85 2.4h0.85m-0.85 0.6h0.85m-0.85 2.4h0.85m-0.85 2.6h0.85m-0.85 2.8h0.85m-0.65 -43h0.85m-0.85 8.4h0.85m-0.85 4.4h0.85m-0.85 1.2h0.85m-0.85 1.6h0.85m-0.85 0.4h0.85m-0.85 1h0.85m-0.85 1.4h0.85m-0.85 2h0.85m-0.85 0.8h0.85m-0.85 4.2h0.85m-0.85 1.4h0.85m-0.85 2h0.85m-0.85 2.8h0.85m-0.85 0.6h0.85m-0.85 0.8h0.85m-0.85 1.4h0.85m-0.85 1h0.85m-0.85 1h0.85m-0.85 0.4h0.85m-0.85 5h0.85m-0.85 0.6h0.85m-0.85 5.4h0.85m-0.85 1h0.85m-0.65 -39.8h0.85m-0.85 2.6h0.85m-0.85 1.8h0.85m-0.85 0.8h0.85m-0.85 3.8h0.85m-0.85 6.8h0.85m-0.85 0.2h0.85m-0.85 2.2h0.85m-0.85 0.8h0.85m-0.85 2h0.85m-0.85 2h0.85m-0.85 0.8h0.85m-0.85 1.6h0.85m-0.85 0.4h0.85m-0.85 4.2h0.85m-0.85 6.2h0.85m-0.85 3.4h0.85m-0.65 -40.4h0.85m-0.85 9.6h0.85m-0.85 0.6h0.85m-0.85 0.4h0.85m-0.85 2.2h0.85m-0.85 3.8h0.85m-0.85 1.6h0.85m-0.85 1.4h0.85m-0.85 2.6h0.85m-0.85 1.4h0.85m-0.85 0.2h0.85m-0.85 1.2h0.85m-0.85 0.6h0.85m-0.85 1.6h0.85m-0.85 1.6h0.85m-0.85 2.2h0.85m-0.85 0.6h0.85m-0.85 1.4h0.85m-0.85 6.4h0.85m-0.65 -30.6h0.85m-0.85 1.2h0.85m-0.85 2.8h0.85m-0.85 0.2h0.85m-0.85 2.4h0.85m-0.85 1h0.85m-0.85 1.6h0.85m-0.85 1h0.85m-0.85 2h0.85m-0.85 4h0.85m-0.85 2.4h0.85m-0.85 1h0.85m-0.85 1h0.85m-0.85 1.8h0.85m-0.85 6.6h0.85m-0.85 2.8h0.85m-0.85 1h0.85m-0.65 -40.6h0.85m-0.85 6.8h0.85m-0.85 2.2h0.85m-0.85 1.8h0.85m-0.85 4.4h0.85m-0.85 2.6h0.85m-0.85 2h0.85m-0.85 1.4h0.85m-0.85 1h0.85m-0.85 0.2h0.85m-0.85 0.6h0.85m-0.85 1.2h0.85m-0.85 1h0.85m-0.85 0.2h0.85m-0.85 0.6h0.85m-0.85 0.4h0.85m-0.85 1.2h0.85m-0.85 1.2h0.85m-0.85 1.8h0.85m-0.85 1.8h0.85m-0.85 1h0.85m-0.85 1.8h0.85m-0.65 -42.2h0.85m-0.85 13.8h0.85m-0.85 1.2h0.85m-0.85 0.4h0.85m-0.85 1.2h0.85m-0.85 1.2h0.85m-0.85 2.8h0.85m-0.85 0.6h0.85m-0.85 3h0.85m-0.85 2.8h0.85m-0.85 3.4h0.85m-0.85 1h0.85m-0.85 1h0.85m-0.85 0.6h0.85m-0.85 1.6h0.85m-0.85 0.6h0.85m-0.85 0.8h0.85m-0.85 0.8h0.85m-0.85 0.8h0.85m-0.85 1.2h0.85m-0.85 0.2h0.85m-0.85 1.6h0.85m-0.85 3.6h0.85m-0.85 0.8h0.85m-0.85 3.4h0.85m-0.65 -44.2h0.85m-0.85 3.6h0.85m-0.85 11.2h0.85m-0.85 0.8h0.85m-0.85 2.8h0.85m-0.85 1.2h0.85m-0.85 0.6h0.85m-0.85 0.2h0.85m-0.85 2.4h0.85m-0.85 1.2h0.85m-0.85 0.2h0.85m-0.85 1.6h0.85m-0.85 2.4h0.85m-0.85 2.8h0.85m-0.85 0.8h0.85m-0.85 5.8h0.85m-0.85 2.6h0.85m-0.85 4.2h0.85m-0.65 -53h0.85m-0.85 0.6h0.85m-0.85 3.6h0.85m-0.85 4h0.85m-0.85 9.6h0.85m-0.85 1.2h0.85m-0.85 7h0.85m-0.85 0.8h0.85m-0.85 4h0.85m-0.85 0.2h0.85m-0.85 0.6h0.85m-0.85 0.6h0.85m-0.85 0.2h0.85m-0.85 1.6h0.85m-0.85 3h0.85m-0.85 4.8h0.85m-0.85 1.8h0.85m-0.85 3.8h0.85m-0.65 -38.8h0.85m-0.85 3.4h0.85m-0.85 3.8h0.85m-0.85 1h0.85m-0.85 6.8h0.85m-0.85 3.2h0.85m-0.85 0.6h0.85m-0.85 2h0.85m-0.85 0.4h0.85m-0.85 7.6h0.85m-0.85 4h0.85m-0.85 1h0.85m-0.65 -33.2h0.85m-0.85 1.2h0.85m-0.85 6.4h0.85m-0.85 2.6h0.85m-0.85 3.6h0.85m-0.85 0.6h0.85m-0.85 5h0.85m-0.85 1.2h0.85m-0.85 0.6h0.85m-0.85 2.6h0.85m-0.85 1.4h0.85m-0.85 1.4h0.85m-0.85 2.6h0.85m-0.85 0.6h0.85m-0.85 4h0.85m-0.85 5.6h0.85m-0.65 -48.8h0.85m-0.85 10.6h0.85m-0.85 1.4h0.85m-0.85 1h0.85m-0.85 4.6h0.85m-0.85 3.8h0.85m-0.85 1.6h0.85m-0.85 4.6h0.85m-0.85 1h0.85m-0.85 2.4h0.85m-0.85 4h0.85m-0.85 0.6h0.85m-0.85 5.2h0.85m-0.85 1h0.85m-0.85 1.6h0.85m-0.85 2.6h0.85m-0.85 1.4h0.85m-0.85 1.2h0.85m-0.85 0.8h0.85m-0.65 -43.4h0.85m-0.85 1.2h0.85m-0.85 5.4h0.85m-0.85 0.2h0.85m-0.85 3.2h0.85m-0.85 0.4h0.85m-0.85 6h0.85m-0.85 3.4h0.85m-0.85 0.2h0.85m-0.85 0.4h0.85m-0.85 0.4h0.85m-0.85 1.4h0.85m-0.85 0.2h0.85m-0.85 0.6h0.85m-0.85 1h0.85m-0.85 1h0.85m-0.85 0.2h0.85m-0.85 3h0.85m-0.85 1.4h0.85m-0.85 1.2h0.85m-0.85 1h0.85m-0.85 0.2h0.85m-0.85 0.6h0.85m-0.85 0.2h0.85m-0.85 5.2h0.85m-0.85 1.8h0.85m-0.85 0.6h0.85m-0.85 1.4h0.85m-0.85 4.8h0.85m-0.85 1h0.85m-0.65 -45.2h0.85m-0.85 8.4h0.85m-0.85 6h0.85m-0.85 0.4h0.85m-0.85 5.6h0.85m-0.85 1.2h0.85m-0.85 0.8h0.85m-0.85 2.6h0.85m-0.85 1.6h0.85m-0.85 0.2h0.85m-0.85 1.4h0.85m-0.85 1.4h0.85m-0.85 1.2h0.85m-0.85 2.2h0.85m-0.85 2.2h0.85m-0.85 0.6h0.85m-0.85 0.2h0.85m-0.85 1h0.85m-0.85 0.4h0.85m-0.65 -27h0.85m-0.85 4.8h0.85m-0.85 0.2h0.85m-0.85 0.2h0.85m-0.85 3h0.85m-0.85 0.6h0.85m-0.85 1.4h0.85m-0.85 0.6h0.85m-0.85 2.2h0.85m-0.85 1.4h0.85m-0.85 1.2h0.85m-0.85 3.2h0.85m-0.85 2.4h0.85m-0.85 1.2h0.85m-0.85 0.6h0.85m-0.85 1.2h0.85m-0.85 1.4h0.85m-0.85 2.4h0.85m-0.85 0.4h0.85m-0.85 1h0.85m-0.65 -34.8h0.85m-0.85 2.8h0.85m-0.85 0.8h0.85m-0.85 1.8h0.85m-0.85 4.6h0.85m-0.85 2h0.85m-0.85 2h0.85m-0.85 0.8h0.85m-0.85 1.4h0.85m-0.85 0.8h0.85m-0.85 0.2h0.85m-0.85 1.6h0.85m-0.85 0.2h0.85m-0.85 2.6h0.85m-0.85 4h0.85m-0.85 1.2h0.85m-0.85 5.4h0.85m-0.85 3.6h0.85m-0.65 -42.2h0.85m-0.85 3.8h0.85m-0.85 1.2h0.85m-0.85 0.2h0.85m-0.85 5.2h0.85m-0.85 3.4h0.85m-0.85 0.8h0.85m-0.85 2h0.85m-0.85 0.4h0.85m-0.85 0.6h0.85m-0.85 1.6h0.85m-0.85 0.6h0.85m-0.85 2.6h0.85m-0.85 5.6h0.85m-0.85 2h0.85m-0.85 2.2h0.85m-0.85 2.2h0.85m-0.85 4.2h0.85m-0.65 -40h0.85m-0.85 15.8h0.85m-0.85 1h0.85m-0.85 1.2h0.85m-0.85 1h0.85m-0.85 0.2h0.85m-0.85 3.8h0.85m-0.85 4h0.85m-0.85 2.8h0.85m-0.85 1.4h0.85m-0.85 3.8h0.85m-0.65 -26.6h0.85m-0.85 0.8h0.85m-0.85 0.8h0.85m-0.85 10.8h0.85m-0.85 1.2h0.85m-0.85 1.8h0.85m-0.85 3.2h0.85m-0.85 4h0.85m-0.85 4.8h0.85m-0.85 0.8h0.85m-0.85 1h0.85m-0.85 4.2h0.85m-0.65 -37h0.85m-0.85 5.8h0.85m-0.85 0.4h0.85m-0.85 2.4h0.85m-0.85 6.8h0.85m-0.85 0.6h0.85m-0.85 0.4h0.85m-0.85 2.4h0.85m-0.85 4.4h0.85m-0.85 2.6h0.85m-0.85 0.4h0.85m-0.85 6.6h0.85m-0.85 0.8h0.85m-0.85 7.8h0.85m-0.65 -37h0.85m-0.85 2h0.85m-0.85 6h0.85m-0.85 0.6h0.85m-0.85 0.6h0.85m-0.85 3.8h0.85m-0.85 0.6h0.85m-0.85 1.6h0.85m-0.85 0.4h0.85m-0.85 0.8h0.85m-0.85 2.2h0.85m-0.85 2.2h0.85m-0.85 9.8h0.85m-0.85 2.2h0.85m-0.85 0.8h0.85m-0.65 -39.4h0.85m-0.85 2.2h0.85m-0.85 0.6h0.85m-0.85 6h0.85m-0.85 1.8h0.85m-0.85 2h0.85m-0.85 0.2h0.85m-0.85 1.6h0.85m-0.85 1.8h0.85m-0.85 4.8h0.85m-0.85 0.8h0.85m-0.85 3.6h0.85m-0.85 1h0.85m-0.85 0.6h0.85m-0.85 0.2h0.85m-0.85 2.2h0.85m-0.85 2.4h0.85m-0.85 1h0.85m-0.85 1.2h0.85m-0.85 1.4h0.85m-0.85 0.8h0.85m-0.85 1.4h0.85m-0.85 4.6h0.85m-0.85 0.8h0.85m-0.65 -49.6h0.85m-0.85 1.6h0.85m-0.85 1.8h0.85m-0.85 1.2h0.85m-0.85 2.4h0.85m-0.85 2.8h0.85m-0.85 6h0.85m-0.85 2.8h0.85m-0.85 6h0.85m-0.85 0.4h0.85m-0.85 5.2h0.85m-0.85 0.4h0.85m-0.85 1.2h0.85m-0.85 1.8h0.85m-0.85 0.8h0.85m-0.85 0.2h0.85m-0.85 2h0.85m-0.85 2.8h0.85m-0.85 2h0.85m-0.85 1.2h0.85m-0.85 2.4h0.85m-0.85 4h0.85m-0.65 -46.2h0.85m-0.85 8.8h0.85m-0.85 2.2h0.85m-0.85 0.2h0.85m-0.85 2.2h0.85m-0.85 5.6h0.85m-0.85 0.6h0.85m-0.85 12h0.85m-0.85 0.8h0.85m-0.85 0.4h0.85m-0.85 0.6h0.85m-0.85 1.4h0.85m-0.85 0.6h0.85m-0.85 1.2h0.85m-0.85 0.2h0.85m-0.85 1.8h0.85m-0.85 3.2h0.85m-0.85 5.2h0.85m-0.65 -34.4h0.85m-0.85 2h0.85m-0.85 9h0.85m-0.85 1h0.85m-0.85 0.2h0.85m-0.85 3.2h0.85m-0.85 0.8h0.85m-0.85 3h0.85m-0.85 5.6h0.85m-0.85 0.6h0.85m-0.85 1.6h0.85m-0.85 3.4h0.85m-0.85 4h0.85m-0.65 -48.2h0.85m-0.85 4.4h0.85m-0.85 0.6h0.85m-0.85 1h0.85m-0.85 8h0.85m-0.85 2.4h0.85m-0.85 7.8h0.85m-0.85 0.8h0.85m-0.85 0.2h0.85m-0.85 1.6h0.85m-0.85 6h0.85m-0.85 1.6h0.85m-0.85 1.4h0.85m-0.85 0.4h0.85m-0.85 5.4h0.85m-0.85 0.2h0.85m-0.65 -38.6h0.85m-0.85 4.2h0.85m-0.85 0.6h0.85m-0.85 0.6h0.85m-0.85 7.8h0.85m-0.85 0.2h0.85m-0.85 1.6h0.85m-0.85 0.8h0.85m-0.85 2h0.85m-0.85 0.4h0.85m-0.85 0.6h0.85m-0.85 1.2h0.85m-0.85 1.8h0.85m-0.85 0.2h0.85m-0.85 1h0.85m-0.85 0.4h0.85m-0.85 7.2h0.85m-0.85 8.8h0.85m-0.85 1.8h0.85m-0.85 4.8h0.85m-0.65 -43.4h0.85m-0.85 11.2h0.85m-0.85 3h0.85m-0.85 2.6h0.85m-0.85 1.6h0.85m-0.85 3.6h0.85m-0.85 2.8h0.85m-0.85 0.8h0.85m-0.85 2h0.85m-0.85 2h0.85m-0.85 0.2h0.85m-0.85 0.8h0.85m-0.85 11.8h0.85m-0.65 -46.4h0.85m-0.85 10.2h0.85m-0.85 6h0.85m-0.85 1h0.85m-0.85 1h0.85m-0.85 0.6h0.85m-0.85 0.6h0.85m-0.85 1.2h0.85m-0.85 1.4h0.85m-0.85 3h0.85m-0.85 0.6h0.85m-0.85 0.4h0.85m-0.85 2h0.85m-0.85 0.4h0.85m-0.85 0.6h0.85m-0.85 2.2h0.85m-0.85 0.6h0.85m-0.85 2.4h0.85m-0.85 4h0.85m-0.65 -42.4h0.85m-0.85 9.4h0.85m-0.85 4.6h0.85m-0.85 2h0.85m-0.85 1.4h0.85m-0.85 3.8h0.85m-0.85 6.4h0.85m-0.85 2h0.85m-0.85 6.6h0.85m-0.85 15.2h0.85m-0.65 -51.8h0.85m-0.85 5h0.85m-0.85 3h0.85m-0.85 2.6h0.85m-0.85 10.8h0.85m-0.85 3.8h0.85m-0.85 2.6h0.85m-0.85 0.6h0.85m-0.85 2.4h0.85m-0.85 3.6h0.85m-0.85 0.2h0.85m-0.85 0.6h0.85m-0.85 3h0.85m-0.85 0.8h0.85m-0.85 1.2h0.85m-0.85 5.6h0.85m-0.65 -38.8h0.85m-0.85 4.6h0.85m-0.85 0.6h0.85m-0.85 1.4h0.85m-0.85 1.8h0.85m-0.85 1h0.85m-0.85 3.4h0.85m-0.85 0.4h0.85m-0.85 1.6h0.85m-0.85 4h0.85m-0.85 0.4h0.85m-0.85 1h0.85m-0.85 1.4h0.85m-0.85 2h0.85m-0.85 0.2h0.85m-0.85 1h0.85m-0.85 0.6h0.85m-0.85 0.2h0.85m-0.85 1.2h0.85m-0.85 0.4h0.85m-0.85 1.6h0.85m-0.85 0.4h0.85m-0.85 8.8h0.85m-0.85 0.8h0.85m-0.85 1.2h0.85m-0.65 -46h0.85m-0.85 1.4h0.85m-0.85 1.2h0.85m-0.85 9.4h0.85m-0.85 0.4h0.85m-0.85 9.4h0.85m-0.85 1.4h0.85m-0.85 0.4h0.85m-0.85 3.4h0.85m-0.85 0.4h0.85m-0.85 0.6h0.85m-0.85 0.4h0.85m-0.85 1.4h0.85m-0.85 0.4h0.85m-0.85 3.8h0.85m-0.85 3.4h0.85m-0.85 2h0.85m-0.85 0.4h0.85m-0.85 0.6h0.85m-0.85 0.8h0.85m-0.85 2.4h0.85m-0.85 5.2h0.85m-0.65 -41h0.85m-0.85 10.2h0.85m-0.85 2h0.85m-0.85 1h0.85m-0.85 5.8h0.85m-0.85 0.6h0.85m-0.85 1h0.85m-0.85 0.8h0.85m-0.85 0.2h0.85m-0.85 2h0.85m-0.85 0.6h0.85m-0.85 0.2h0.85m-0.85 3.6h0.85m-0.85 1.4h0.85m-0.85 0.6h0.85m-0.85 0.4h0.85m-0.85 2.6h0.85m-0.85 4h0.85m-0.85 1.2h0.85m-0.85 5.2h0.85m-0.65 -46.2h0.85m-0.85 6h0.85m-0.85 0.8h0.85m-0.85 5.8h0.85m-0.85 5.2h0.85m-0.85 1.4h0.85m-0.85 2.2h0.85m-0.85 1h0.85m-0.85 1h0.85m-0.85 0.8h0.85m-0.85 6.4h0.85m-0.85 3.2h0.85m-0.85 1.4h0.85m-0.85 2.6h0.85m-0.85 3.8h0.85m-0.85 1.2h0.85m-0.85 0.6h0.85m-0.65 -43.8h0.85m-0.85 7.2h0.85m-0.85 5h0.85m-0.85 4.6h0.85m-0.85 3.6h0.85m-0.85 1.4h0.85m-0.85 0.4h0.85m-0.85 1.8h0.85m-0.85 0.8h0.85m-0.85 4h0.85m-0.85 0.8h0.85m-0.85 4h0.85m-0.85 3.8h0.85m-0.65 -39.6h0.85m-0.85 4.6h0.85m-0.85 8.4h0.85m-0.85 1.4h0.85m-0.85 1.2h0.85m-0.85 0.8h0.85m-0.85 0.4h0.85m-0.85 0.6h0.85m-0.85 3h0.85m-0.85 1h0.85m-0.85 3.6h0.85m-0.85 2.6h0.85m-0.85 1.2h0.85m-0.85 0.6h0.85m-0.85 0.2h0.85m-0.85 0.6h0.85m-0.85 1.6h0.85m-0.85 2.8h0.85m-0.85 1.6h0.85m-0.85 2h0.85m-0.65 -35.4h0.85m-0.85 0.2h0.85m-0.85 3.6h0.85m-0.85 2.6h0.85m-0.85 0.6h0.85m-0.85 2h0.85m-0.85 5.8h0.85m-0.85 0.4h0.85m-0.85 3.8h0.85m-0.85 0.4h0.85m-0.85 0.2h0.85m-0.85 0.4h0.85m-0.85 0.8h0.85m-0.85 2h0.85m-0.85 1h0.85m-0.85 2.2h0.85m-0.85 5h0.85m-0.85 0.8h0.85m-0.85 3.6h0.85m-0.85 3.4h0.85m-0.85 1.8h0.85m-0.85 3.8h0.85m-0.65 -47.2h0.85m-0.85 0.6h0.85m-0.85 0.4h0.85m-0.85 3.2h0.85m-0.85 4.2h0.85m-0.85 1.2h0.85m-0.85 4.8h0.85m-0.85 0.6h0.85m-0.85 0.4h0.85m-0.85 1.2h0.85m-0.85 0.6h0.85m-0.85 1h0.85m-0.85 1.8h0.85m-0.85 0.6h0.85m-0.85 3.4h0.85m-0.85 4.2h0.85m-0.85 1.6h0.85m-0.85 0.8h0.85m-0.85 1.6h0.85m-0.85 1.2h0.85m-0.85 3.6h0.85m-0.85 5.4h0.85m-0.65 -43h0.85m-0.85 4.2h0.85m-0.85 2.4h0.85m-0.85 3.6h0.85m-0.85 3.4h0.85m-0.85 0.4h0.85m-0.85 2.6h0.85m-0.85 0.8h0.85m-0.85 1h0.85m-0.85 4.4h0.85m-0.85 0.8h0.85m-0.85 4.6h0.85m-0.85 0.6h0.85m-0.85 5.8h0.85m-0.85 1h0.85m-0.85 0.2h0.85m-0.85 0.4h0.85m-0.85 1.6h0.85m-0.85 1.2h0.85m-0.85 4.8h0.85m-0.65 -37.6h0.85m-0.85 0.8h0.85m-0.85 0.6h0.85m-0.85 0.4h0.85m-0.85 3h0.85m-0.85 3.4h0.85m-0.85 4.8h0.85m-0.85 1.2h0.85m-0.85 0.4h0.85m-0.85 0.6h0.85m-0.85 0.6h0.85m-0.85 0.6h0.85m-0.85 3.8h0.85m-0.85 1.2h0.85m-0.85 5.8h0.85m-0.85 3.4h0.85m-0.85 0.4h0.85m-0.85 0.2h0.85m-0.65 -42.8h0.85m-0.85 5.4h0.85m-0.85 3h0.85m-0.85 7.2h0.85m-0.85 0.2h0.85m-0.85 1h0.85m-0.85 0.6h0.85m-0.85 4.4h0.85m-0.85 1h0.85m-0.85 0.4h0.85m-0.85 1.4h0.85m-0.85 1h0.85m-0.85 7.4h0.85m-0.85 6h0.85m-0.85 3.8h0.85m-0.85 0.8h0.85m-0.85 0.8h0.85m-0.85 9h0.85m-0.65 -41.6h0.85m-0.85 6h0.85m-0.85 1.4h0.85m-0.85 2h0.85m-0.85 2h0.85m-0.85 0.6h0.85m-0.85 0.6h0.85m-0.85 1.4h0.85m-0.85 2h0.85m-0.85 1.6h0.85m-0.85 1.4h0.85m-0.85 0.8h0.85m-0.85 0.4h0.85m-0.85 0.6h0.85m-0.85 0.6h0.85m-0.85 4h0.85m-0.85 0.2h0.85m-0.85 0.2h0.85m-0.85 0.2h0.85m-0.85 1h0.85m-0.85 0.8h0.85m-0.85 0.8h0.85m-0.85 1.2h0.85m-0.85 2h0.85m-0.65 -36.8h0.85m-0.85 3.2h0.85m-0.85 3.6h0.85m-0.85 4.8h0.85m-0.85 3.8h0.85m-0.85 3.2h0.85m-0.85 1h0.85m-0.85 1.6h0.85m-0.85 3h0.85m-0.85 1.2h0.85m-0.85 3.4h0.85m-0.85 1.6h0.85m-0.85 1.6h0.85m-0.85 0.4h0.85m-0.85 5.8h0.85m-0.85 0.6h0.85m-0.85 3.4h0.85m-0.85 0.6h0.85m-0.85 2h0.85m-0.85 0.4h0.85m-0.65 -48h0.85m-0.85 11.6h0.85m-0.85 3h0.85m-0.85 0.6h0.85m-0.85 3.4h0.85m-0.85 4.6h0.85m-0.85 0.2h0.85m-0.85 0.4h0.85m-0.85 2.4h0.85m-0.85 1.2h0.85m-0.85 1.4h0.85m-0.85 1.2h0.85m-0.85 2.6h0.85m-0.85 0.4h0.85m-0.85 0.8h0.85m-0.85 2.6h0.85m-0.85 0.6h0.85m-0.85 1.2h0.85m-0.85 0.2h0.85m-0.85 2h0.85m-0.65 -43.4h0.85m-0.85 2.6h0.85m-0.85 0.8h0.85m-0.85 7.4h0.85m-0.85 2.2h0.85m-0.85 5.4h0.85m-0.85 3.8h0.85m-0.85 1.4h0.85m-0.85 4h0.85m-0.85 0.8h0.85m-0.85 0.4h0.85m-0.85 2.2h0.85m-0.85 0.8h0.85m-0.85 1.6h0.85m-0.85 5h0.85m-0.85 3h0.85m-0.85 0.2h0.85m-0.85 5.2h0.85m-0.85 3.4h0.85m-0.85 1.8h0.85m-0.65 -43.6h0.85m-0.85 2h0.85m-0.85 0.4h0.85m-0.85 5.2h0.85m-0.85 1h0.85m-0.85 3.6h0.85m-0.85 0.4h0.85m-0.85 2.4h0.85m-0.85 3h0.85m-0.85 0.2h0.85m-0.85 3.6h0.85m-0.85 5h0.85m-0.85 3.4h0.85m-0.85 1.2h0.85m-0.85 1.2h0.85m-0.85 0.4h0.85m-0.85 2.8h0.85m-0.85 4.2h0.85m-0.85 0.4h0.85m-0.85 0.8h0.85m-0.85 2h0.85m-0.65 -39.6h0.85m-0.85 3.6h0.85m-0.85 3h0.85m-0.85 0.6h0.85m-0.85 0.6h0.85m-0.85 0.4h0.85m-0.85 3.6h0.85m-0.85 2.6h0.85m-0.85 3h0.85m-0.85 0.8h0.85m-0.85 0.6h0.85m-0.85 0.2h0.85m-0.85 1.8h0.85m-0.85 5h0.85m-0.85 3.2h0.85m-0.85 0.8h0.85m-0.85 4.6h0.85m-0.85 4h0.85m-0.65 -47.2h0.85m-0.85 1.2h0.85m-0.85 10.6h0.85m-0.85 0.8h0.85m-0.85 0.8h0.85m-0.85 0.2h0.85m-0.85 2.2h0.85m-0.85 1.4h0.85m-0.85 0.6h0.85m-0.85 3.2h0.85m-0.85 2.8h0.85m-0.85 1.6h0.85m-0.85 3.2h0.85m-0.85 0.6h0.85m-0.85 1.2h0.85m-0.85 0.6h0.85m-0.85 0.2h0.85m-0.85 1h0.85m-0.85 0.4h0.85m-0.85 3.6h0.85m-0.85 4h0.85m-0.85 4h0.85m-0.85 3h0.85m-0.65 -48.2h0.85m-0.85 2.8h0.85m-0.85 5.8h0.85m-0.85 3.8h0.85m-0.85 0.2h0.85m-0.85 3h0.85m-0.85 0.4h0.85m-0.85 0.6h0.85m-0.85 6.4h0.85m-0.85 0.2h0.85m-0.85 1.2h0.85m-0.85 0.4h0.85m-0.85 2h0.85m-0.85 0.8h0.85m-0.85 4h0.85m-0.85 4.2h0.85m-0.85 0.4h0.85m-0.85 3.2h0.85m-0.85 0.2h0.85m-0.85 1.4h0.85m-0.85 1.2h0.85m-0.85 0.4h0.85m-0.85 3.4h0.85m-0.85 0.2h0.85m-0.65 -37h0.85m-0.85 7.6h0.85m-0.85 0.2h0.85m-0.85 3.4h0.85m-0.85 0.2h0.85m-0.85 3h0.85m-0.85 3.4h0.85m-0.85 0.2h0.85m-0.85 1.6h0.85m-0.85 0.6h0.85m-0.85 1h0.85m-0.85 1h0.85m-0.85 0.2h0.85m-0.85 7.8h0.85m-0.85 3.8h0.85m-0.85 0.4h0.85m-0.85 1.6h0.85m-0.85 3.4h0.85m-0.65 -47.2h0.85m-0.85 0.8h0.85m-0.85 5.2h0.85m-0.85 6.8h0.85m-0.85 1.4h0.85m-0.85 0.6h0.85m-0.85 0.2h0.85m-0.85 1.8h0.85m-0.85 2h0.85m-0.85 0.6h0.85m-0.85 3.8h0.85m-0.85 2.6h0.85m-0.85 1.2h0.85m-0.85 0.6h0.85m-0.85 0.4h0.85m-0.85 4h0.85m-0.85 0.4h0.85m-0.85 2.8h0.85m-0.85 0.4h0.85m-0.85 3.2h0.85m-0.85 0.4h0.85m-0.65 -33.6h0.85m-0.85 4.8h0.85m-0.85 3.6h0.85m-0.85 8.8h0.85m-0.85 1.6h0.85m-0.85 0.4h0.85m-0.85 2.6h0.85m-0.85 0.2h0.85m-0.85 6.6h0.85m-0.85 0.6h0.85m-0.85 0.2h0.85m-0.85 6.2h0.85m-0.85 0.4h0.85m-0.85 1.4h0.85m-0.85 0.6h0.85m-0.85 2.2h0.85m-0.65 -42.2h0.85m-0.85 4.6h0.85m-0.85 3h0.85m-0.85 0.8h0.85m-0.85 0.4h0.85m-0.85 0.8h0.85m-0.85 9h0.85m-0.85 3.4h0.85m-0.85 0.8h0.85m-0.85 1h0.85m-0.85 1.8h0.85m-0.85 1.4h0.85m-0.85 2.6h0.85m-0.85 0.6h0.85m-0.85 4.6h0.85m-0.65 -37.4h0.85m-0.85 0.2h0.85m-0.85 2.2h0.85m-0.85 1h0.85m-0.85 2.6h0.85m-0.85 7.8h0.85m-0.85 0.6h0.85m-0.85 0.6h0.85m-0.85 3.8h0.85m-0.85 0.4h0.85m-0.85 1.2h0.85m-0.85 2h0.85m-0.85 1.8h0.85m-0.85 1.8h0.85m-0.85 2.2h0.85m-0.85 0.8h0.85m-0.85 1h0.85m-0.85 1h0.85m-0.85 0.4h0.85m-0.85 0.6h0.85m-0.85 1.2h0.85m-0.85 2.2h0.85m-0.85 1.4h0.85m-0.85 4h0.85m-0.85 0.2h0.85m-0.85 2.2h0.85m-0.65 -41.4h0.85m-0.85 2.6h0.85m-0.85 2.8h0.85m-0.85 5.2h0.85m-0.85 0.8h0.85m-0.85 1h0.85m-0.85 1.2h0.85m-0.85 2.8h0.85m-0.85 0.6h0.85m-0.85 2.2h0.85m-0.85 0.8h0.85m-0.85 1h0.85m-0.85 0.4h0.85m-0.85 0.4h0.85m-0.85 1.4h0.85m-0.85 0.4h0.85m-0.85 0.2h0.85m-0.85 0.2h0.85m-0.85 0.6h0.85m-0.85 0.2h0.85m-0.85 2.2h0.85m-0.85 0.4h0.85m-0.85 0.2h0.85m-0.85 1.2h0.85m-0.85 7.2h0.85m-0.85 0.6h0.85m-0.85 3h0.85m-0.85 1.6h0.85m-0.85 4.8h0.85m-0.65 -52h0.85m-0.85 10h0.85m-0.85 0.8h0.85m-0.85 0.2h0.85m-0.85 0.6h0.85m-0.85 1.8h0.85m-0.85 0.2h0.85m-0.85 3.6h0.85m-0.85 3.2h0.85m-0.85 5.4h0.85m-0.85 1.8h0.85m-0.85 1.8h0.85m-0.85 0.2h0.85m-0.85 2.6h0.85m-0.85 0.8h0.85m-0.85 2.2h0.85m-0.85 0.2h0.85m-0.85 0.6h0.85m-0.85 1.6h0.85m-0.85 1.8h0.85m-0.85 2.8h0.85m-0.85 0.8h0.85m-0.85 1h0.85m-0.85 0.2h0.85m-0.85 0.2h0.85m-0.85 1.2h0.85m-0.85 7.2h0.85m-0.65 -47.4h0.85m-0.85 2.6h0.85m-0.85 4.6h0.85m-0.85 7.2h0.85m-0.85 3.8h0.85m-0.85 0.4h0.85m-0.85 3.8h0.85m-0.85 2h0.85m-0.85 0.4h0.85m-0.85 0.4h0.85m-0.85 2.4h0.85m-0.85 2.2h0.85m-0.85 1.2h0.85m-0.85 0.6h0.85m-0.85 1.2h0.85m-0.85 1.2h0.85m-0.85 6.2h0.85m-0.85 1h0.85m-0.85 5h0.85m-0.65 -43.8h0.85m-0.85 2h0.85m-0.85 6h0.85m-0.85 0.2h0.85m-0.85 2.6h0.85m-0.85 3.8h0.85m-0.85 0.2h0.85m-0.85 2.6h0.85m-0.85 0.6h0.85m-0.85 3h0.85m-0.85 1.6h0.85m-0.85 0.4h0.85m-0.85 5.8h0.85m-0.85 3.2h0.85m-0.85 2.8h0.85m-0.85 1h0.85m-0.85 1.6h0.85m-0.85 7h0.85m-0.65 -30.2h0.85m-0.85 0.4h0.85m-0.85 2h0.85m-0.85 0.6h0.85m-0.85 0.2h0.85m-0.85 1.6h0.85m-0.85 3h0.85m-0.85 1.2h0.85m-0.85 3h0.85m-0.85 3.2h0.85m-0.85 9.8h0.85m-0.65 -39.4h0.85m-0.85 8.6h0.85m-0.85 2.4h0.85m-0.85 1.2h0.85m-0.85 3.4h0.85m-0.85 1.6h0.85m-0.85 1.4h0.85m-0.85 4.2h0.85m-0.85 1h0.85m-0.85 4.2h0.85m-0.85 0.2h0.85m-0.85 0.6h0.85m-0.85 2.2h0.85m-0.85 3.2h0.85m-0.85 0.4h0.85m-0.85 1.8h0.85m-0.65 -44.8h0.85m-0.85 8.4h0.85m-0.85 2h0.85m-0.85 2h0.85m-0.85 5h0.85m-0.85 1.2h0.85m-0.85 0.8h0.85m-0.85 3.8h0.85m-0.85 4.6h0.85m-0.85 1h0.85m-0.85 0.6h0.85m-0.85 1h0.85m-0.85 1.6h0.85m-0.85 1h0.85m-0.85 1.6h0.85m-0.85 1.2h0.85m-0.85 2.4h0.85m-0.85 2h0.85m-0.85 1.6h0.85m-0.85 0.2h0.85m-0.85 2.6h0.85m-0.85 0.4h0.85m-0.85 3.6h0.85m-0.85 1.6h0.85m-0.85 0.2h0.85m-0.85 1.8h0.85m-0.65 -50.2h0.85m-0.85 6h0.85m-0.85 3.8h0.85m-0.85 5h0.85m-0.85 2.2h0.85m-0.85 5.8h0.85m-0.85 3.4h0.85m-0.85 0.8h0.85m-0.85 1.6h0.85m-0.85 2.6h0.85m-0.85 2.8h0.85m-0.85 2.6h0.85m-0.85 0.4h0.85m-0.85 3.2h0.85m-0.85 0.2h0.85m-0.85 1.6h0.85m-0.85 6.4h0.85m-0.85 3.6h0.85m-0.65 -52h0.85m-0.85 11.6h0.85m-0.85 1h0.85m-0.85 2.2h0.85m-0.85 1h0.85m-0.85 4.8h0.85m-0.85 0.6h0.85m-0.85 0.4h0.85m-0.85 1h0.85m-0.85 0.4h0.85m-0.85 2.6h0.85m-0.85 0.2h0.85m-0.85 5.6h0.85m-0.85 0.8h0.85m-0.85 1.2h0.85m-0.85 1.2h0.85m-0.85 0.2h0.85m-0.85 3h0.85m-0.85 2.2h0.85m-0.85 1h0.85m-0.85 1.2h0.85m-0.85 2.2h0.85m-0.65 -45.6h0.85m-0.85 5.6h0.85m-0.85 1.6h0.85m-0.85 3h0.85m-0.85 4.4h0.85m-0.85 1.2h0.85m-0.85 1.4h0.85m-0.85 4h0.85m-0.85 0.6h0.85m-0.85 2h0.85m-0.85 0.2h0.85m-0.85 8h0.85m-0.85 0.6h0.85m-0.85 7.4h0.85m-0.85 0.6h0.85m-0.85 1.6h0.85m-0.85 3.6h0.85m-0.85 2.6h0.85m-0.85 1.2h0.85m-0.65 -45.2h0.85m-0.85 8h0.85m-0.85 4h0.85m-0.85 1h0.85m-0.85 1.2h0.85m-0.85 0.6h0.85m-0.85 7.4h0.85m-0.85 0.8h0.85m-0.85 0.8h0.85m-0.85 0.4h0.85m-0.85 1.2h0.85m-0.85 2.8h0.85m-0.85 0.2h0.85m-0.85 0.2h0.85m-0.85 2.2h0.85m-0.85 0.6h0.85m-0.85 0.2h0.85m-0.85 0.4h0.85m-0.85 2.6h0.85m-0.85 0.8h0.85m-0.85 0.8h0.85m-0.85 7.8h0.85m-0.65 -35.4h0.85m-0.85 0.6h0.85m-0.85 9.8h0.85m-0.85 3.2h0.85m-0.85 0.2h0.85m-0.85 2.2h0.85m-0.85 1.2h0.85m-0.85 0.6h0.85m-0.85 0.4h0.85m-0.85 1.6h0.85m-0.85 2.2h0.85m-0.85 1h0.85m-0.85 9.4h0.85m-0.85 0.8h0.85m-0.65 -38.6h0.85m-0.85 3.2h0.85m-0.85 4.2h0.85m-0.85 2h0.85m-0.85 1.6h0.85m-0.85 6.6h0.85m-0.85 0.2h0.85m-0.85 2.8h0.85m-0.85 1.8h0.85m-0.85 1.2h0.85m-0.85 1h0.85m-0.85 1.8h0.85m-0.85 2.2h0.85m-0.85 1.8h0.85m-0.85 1h0.85m-0.65 -34.8h0.85m-0.85 3.8h0.85m-0.85 3.6h0.85m-0.85 1.6h0.85m-0.85 2.6h0.85m-0.85 3.2h0.85m-0.85 0.2h0.85m-0.85 0.6h0.85m-0.85 1.4h0.85m-0.85 0.8h0.85m-0.85 0.6h0.85m-0.85 3h0.85m-0.85 1h0.85m-0.85 1.6h0.85m-0.85 1h0.85m-0.85 1.2h0.85m-0.85 1.2h0.85m-0.85 0.2h0.85m-0.85 1.2h0.85m-0.85 0.6h0.85m-0.85 1.4h0.85m-0.85 4h0.85m-0.85 3.4h0.85m-0.85 2h0.85m-0.85 0.2h0.85m-0.85 5.2h0.85m-0.65 -45.8h0.85m-0.85 2.4h0.85m-0.85 1.8h0.85m-0.85 1.6h0.85m-0.85 2.2h0.85m-0.85 0.4h0.85m-0.85 0.8h0.85m-0.85 0.8h0.85m-0.85 0.2h0.85m-0.85 4.6h0.85m-0.85 9h0.85m-0.85 1h0.85m-0.85 2.2h0.85m-0.85 3.2h0.85m-0.85 0.6h0.85m-0.85 1.4h0.85m-0.85 5h0.85m-0.85 1.8h0.85m-0.85 1.8h0.85m-0.85 6h0.85m-0.65 -47h0.85m-0.85 3h0.85m-0.85 0.4h0.85m-0.85 4h0.85m-0.85 7.8h0.85m-0.85 0.2h0.85m-0.85 1.2h0.85m-0.85 4.4h0.85m-0.85 0.2h0.85m-0.85 3.4h0.85m-0.85 3.2h0.85m-0.85 0.6h0.85m-0.85 2h0.85m-0.85 4h0.85m-0.85 0.4h0.85m-0.85 0.6h0.85m-0.85 3.2h0.85m-0.85 3.8h0.85m-0.85 1.6h0.85m-0.65 -44.4h0.85m-0.85 4.8h0.85m-0.85 1.6h0.85m-0.85 1h0.85m-0.85 2h0.85m-0.85 1.4h0.85m-0.85 0.4h0.85m-0.85 7.2h0.85m-0.85 2h0.85m-0.85 1.6h0.85m-0.85 0.2h0.85m-0.85 0.2h0.85m-0.85 1h0.85m-0.85 1.6h0.85m-0.85 0.8h0.85m-0.85 2.6h0.85m-0.85 0.2h0.85m-0.85 2.2h0.85m-0.85 0.6h0.85m-0.85 7.4h0.85m-0.85 6.2h0.85m-0.85 4.8h0.85m-0.65 -48h0.85m-0.85 0.8h0.85m-0.85 2.4h0.85m-0.85 1.6h0.85m-0.85 2h0.85m-0.85 8.2h0.85m-0.85 1.4h0.85m-0.85 2h0.85m-0.85 1.6h0.85m-0.85 0.2h0.85m-0.85 0.4h0.85m-0.85 0.4h0.85m-0.85 1.4h0.85m-0.85 0.4h0.85m-0.85 4.4h0.85m-0.85 0.2h0.85m-0.85 1.8h0.85m-0.85 0.8h0.85m-0.85 2.6h0.85m-0.85 1.2h0.85m-0.85 1.2h0.85m-0.85 0.2h0.85m-0.85 1.2h0.85m-0.85 4.6h0.85m-0.85 5.4h0.85m-0.65 -51h0.85m-0.85 3h0.85m-0.85 0.2h0.85m-0.85 1.4h0.85m-0.85 3h0.85m-0.85 3.6h0.85m-0.85 0.2h0.85m-0.85 6.6h0.85m-0.85 0.6h0.85m-0.85 4h0.85m-0.85 1.8h0.85m-0.85 0.6h0.85m-0.85 0.2h0.85m-0.85 0.8h0.85m-0.85 1.2h0.85m-0.85 0.8h0.85m-0.85 3h0.85m-0.85 1.4h0.85m-0.85 7.4h0.85m-0.85 1.2h0.85m-0.85 0.8h0.85m-0.85 1.8h0.85m-0.65 -38h0.85m-0.85 9h0.85m-0.85 1h0.85m-0.85 6.4h0.85m-0.85 0.6h0.85m-0.85 0.8h0.85m-0.85 1.4h0.85m-0.85 2.2h0.85m-0.85 1.6h0.85m-0.85 1h0.85m-0.85 2.4h0.85m-0.85 0.8h0.85m-0.85 1.4h0.85m-0.85 5h0.85m-0.85 1.4h0.85m-0.85 2.4h0.85m-0.85 1.4h0.85m-0.85 0.6h0.85m-0.85 2.6h0.85m-0.85 0.2h0.85m-0.65 -39.2h0.85m-0.85 0.4h0.85m-0.85 0.2h0.85m-0.85 0.8h0.85m-0.85 6.2h0.85m-0.85 0.4h0.85m-0.85 4.8h0.85m-0.85 1.2h0.85m-0.85 10.2h0.85m-0.85 0.8h0.85m-0.85 1h0.85m-0.85 0.8h0.85m-0.85 2h0.85m-0.85 3.2h0.85m-0.65 -36.4h0.85m-0.85 1.4h0.85m-0.85 0.2h0.85m-0.85 1h0.85m-0.85 1h0.85m-0.85 2.4h0.85m-0.85 0.2h0.85m-0.85 6.8h0.85m-0.85 5.2h0.85m-0.85 1.4h0.85m-0.85 0.4h0.85m-0.85 0.6h0.85m-0.85 0.2h0.85m-0.85 0.6h0.85m-0.85 1.2h0.85m-0.85 0.8h0.85m-0.85 0.8h0.85m-0.85 1.8h0.85m-0.85 1.8h0.85m-0.85 1h0.85m-0.85 0.8h0.85m-0.85 6h0.85m-0.65 -40.4h0.85m-0.85 1.8h0.85m-0.85 1.2h0.85m-0.85 2.8h0.85m-0.85 2h0.85m-0.85 0.4h0.85m-0.85 0.6h0.85m-0.85 0.2h0.85m-0.85 2.6h0.85m-0.85 3h0.85m-0.85 5.4h0.85m-0.85 0.2h0.85m-0.85 0.8h0.85m-0.85 2.4h0.85m-0.85 5.8h0.85m-0.85 2.4h0.85m-0.85 0.2h0.85m-0.85 2.6h0.85m-0.85 1.6h0.85m-0.85 3.2h0.85m-0.85 1h0.85m-0.85 3h0.85m-0.85 2.2h0.85m-0.85 3.4h0.85m-0.85 1h0.85m-0.65 -46.6h0.85m-0.85 2.4h0.85m-0.85 3.6h0.85m-0.85 7.2h0.85m-0.85 4.4h0.85m-0.85 2h0.85m-0.85 6.4h0.85m-0.85 4.4h0.85m-0.85 2.4h0.85m-0.85 3.8h0.85m-0.85 0.8h0.85m-0.85 3.2h0.85m-0.65 -31.6h0.85m-0.85 6h0.85m-0.85 2.2h0.85m-0.85 0.2h0.85m-0.85 5.4h0.85m-0.85 1.8h0.85m-0.85 4.2h0.85m-0.85 3.6h0.85m-0.85 0.4h0.85m-0.85 2.6h0.85m-0.85 0.8h0.85m-0.85 2.8h0.85m-0.85 9h0.85m-0.65 -46h0.85m-0.85 0.2h0.85m-0.85 2h0.85m-0.85 5.8h0.85m-0.85 3h0.85m-0.85 0.2h0.85m-0.85 8.4h0.85m-0.85 9.6h0.85m-0.85 2.2h0.85m-0.85 2.4h0.85m-0.85 2.6h0.85m-0.85 2.4h0.85m-0.85 4.4h0.85m-0.85 1.2h0.85m-0.65 -36h0.85m-0.85 0.2h0.85m-0.85 0.8h0.85m-0.85 8.2h0.85m-0.85 3h0.85m-0.85 0.2h0.85m-0.85 0.4h0.85m-0.85 0.4h0.85m-0.85 1.6h0.85m-0.85 0.4h0.85m-0.85 0.6h0.85m-0.85 0.2h0.85m-0.85 0.4h0.85m-0.85 3.2h0.85m-0.85 7.6h0.85m-0.85 0.6h0.85m-0.85 2.6h0.85m-0.85 0.8h0.85m-0.85 5.4h0.85m-0.65 -46.2h0.85m-0.85 2.6h0.85m-0.85 6.2h0.85m-0.85 1.4h0.85m-0.85 3h0.85m-0.85 0.4h0.85m-0.85 3.6h0.85m-0.85 6h0.85m-0.85 0.2h0.85m-0.85 1h0.85m-0.85 0.6h0.85m-0.85 1.4h0.85m-0.85 1.4h0.85m-0.85 1.2h0.85m-0.85 2.4h0.85m-0.85 1h0.85m-0.85 0.4h0.85m-0.85 0.8h0.85m-0.85 2.6h0.85m-0.85 3.2h0.85m-0.85 1.2h0.85m-0.65 -43.2h0.85m-0.85 2.6h0.85m-0.85 11h0.85m-0.85 1.6h0.85m-0.85 1.2h0.85m-0.85 0.4h0.85m-0.85 9.8h0.85m-0.85 0.4h0.85m-0.85 1.2h0.85m-0.85 2h0.85m-0.85 3.8h0.85m-0.85 0.6h0.85m-0.85 1.2h0.85m-0.85 1.2h0.85m-0.85 1.6h0.85m-0.85 1.8h0.85m-0.85 1.4h0.85m-0.85 1.4h0.85m-0.85 4.8h0.85m-0.85 2.2h0.85m-0.65 -47.2h0.85m-0.85 4.6h0.85m-0.85 1.4h0.85m-0.85 2.8h0.85m-0.85 2.2h0.85m-0.85 2.8h0.85m-0.85 4.2h0.85m-0.85 0.4h0.85m-0.85 5.6h0.85m-0.85 2.2h0.85m-0.85 3.6h0.85m-0.85 5h0.85m-0.85 1h0.85m-0.85 1.2h0.85m-0.85 1.4h0.85m-0.85 8.6h0.85m-0.65 -41.8h0.85m-0.85 0.4h0.85m-0.85 1.8h0.85m-0.85 3.8h0.85m-0.85 2h0.85m-0.85 0.2h0.85m-0.85 0.6h0.85m-0.85 0.2h0.85m-0.85 1.2h0.85m-0.85 0.8h0.85m-0.85 1.6h0.85m-0.85 0.2h0.85m-0.85 2h0.85m-0.85 5h0.85m-0.85 3.8h0.85m-0.85 2.4h0.85m-0.85 0.2h0.85m-0.85 1.8h0.85m-0.85 0.2h0.85m-0.85 4h0.85m-0.85 0.6h0.85m-0.85 1.8h0.85m-0.85 0.6h0.85m-0.85 2.2h0.85m-0.85 1.2h0.85m-0.85 2h0.85m-0.65 -45.8h0.85m-0.85 0.2h0.85m-0.85 4h0.85m-0.85 3.8h0.85m-0.85 4h0.85m-0.85 2h0.85m-0.85 1h0.85m-0.85 3.4h0.85m-0.85 3.4h0.85m-0.85 6h0.85m-0.85 0.6h0.85m-0.85 1.2h0.85m-0.85 4h0.85m-0.85 2.8h0.85m-0.85 0.2h0.85m-0.85 0.4h0.85m-0.85 10.8h0.85m-0.65 -47h0.85m-0.85 1.6h0.85m-0.85 3.8h0.85m-0.85 3.6h0.85m-0.85 1.2h0.85m-0.85 8.6h0.85m-0.85 0.8h0.85m-0.85 1h0.85m-0.85 1.8h0.85m-0.85 0.2h0.85m-0.85 2.4h0.85m-0.85 0.6h0.85m-0.85 1.4h0.85m-0.85 6.4h0.85m-0.85 0.2h0.85m-0.85 0.4h0.85m-0.65 -34.6h0.85m-0.85 0.4h0.85m-0.85 7.6h0.85m-0.85 4.2h0.85m-0.85 0.2h0.85m-0.85 1h0.85m-0.85 0.2h0.85m-0.85 1h0.85m-0.85 0.4h0.85m-0.85 4h0.85m-0.85 0.2h0.85m-0.85 0.2h0.85m-0.85 6.8h0.85m-0.85 0.2h0.85m-0.85 6.2h0.85m-0.85 15.8h0.85m-0.85 0.4h0.85m-0.65 -48.8h0.85m-0.85 4.2h0.85m-0.85 6.2h0.85m-0.85 1.4h0.85m-0.85 5.2h0.85m-0.85 4.2h0.85m-0.85 1.2h0.85m-0.85 0.4h0.85m-0.85 0.2h0.85m-0.85 2h0.85m-0.85 8.8h0.85m-0.85 1.6h0.85m-0.85 2h0.85m-0.85 9.2h0.85m-0.65 -52.2h0.85m-0.85 15.8h0.85m-0.85 8h0.85m-0.85 6h0.85m-0.85 1h0.85m-0.85 0.8h0.85m-0.85 2h0.85m-0.85 0.8h0.85m-0.85 0.2h0.85m-0.85 0.8h0.85m-0.85 0.6h0.85m-0.85 0.2h0.85m-0.85 2h0.85m-0.85 10h0.85m-0.65 -45.8h0.85m-0.85 3h0.85m-0.85 6.8h0.85m-0.85 3h0.85m-0.85 1.2h0.85m-0.85 0.4h0.85m-0.85 1.8h0.85m-0.85 0.8h0.85m-0.85 3h0.85m-0.85 0.2h0.85m-0.85 1.6h0.85m-0.85 1.4h0.85m-0.85 0.6h0.85m-0.85 3h0.85m-0.85 0.4h0.85m-0.85 0.8h0.85m-0.85 1.2h0.85m-0.85 0.2h0.85m-0.85 0.6h0.85m-0.85 2.4h0.85m-0.85 4.4h0.85m-0.85 0.2h0.85m-0.85 3.2h0.85m-0.85 1h0.85m-0.85 3h0.85m-0.65 -39.4h0.85m-0.85 1h0.85m-0.85 2.2h0.85m-0.85 1h0.85m-0.85 1.8h0.85m-0.85 2.8h0.85m-0.85 1.2h0.85m-0.85 1.4h0.85m-0.85 5.4h0.85m-0.85 0.4h0.85m-0.85 4.8h0.85m-0.85 1h0.85m-0.85 0.4h0.85m-0.85 3.4h0.85m-0.85 1.4h0.85m-0.85 4.4h0.85m-0.85 6h0.85m-0.85 6h0.85m-0.65 -44.2h0.85m-0.85 1.8h0.85m-0.85 14.4h0.85m-0.85 0.6h0.85m-0.85 1.4h0.85m-0.85 2h0.85m-0.85 2h0.85m-0.85 9.2h0.85m-0.85 1h0.85m-0.85 1.8h0.85m-0.85 0.8h0.85m-0.85 1.2h0.85m-0.85 3.2h0.85m-0.85 7.4h0.85m-0.65 -49h0.85m-0.85 9.2h0.85m-0.85 0.8h0.85m-0.85 11.8h0.85m-0.85 0.8h0.85m-0.85 2.6h0.85m-0.85 1.6h0.85m-0.85 1.2h0.85m-0.85 2.6h0.85m-0.85 3.8h0.85m-0.85 0.6h0.85m-0.85 0.4h0.85m-0.85 1.6h0.85m-0.85 4.8h0.85m-0.65 -39.8h0.85m-0.85 5.8h0.85m-0.85 2h0.85m-0.85 1.4h0.85m-0.85 0.8h0.85m-0.85 2.6h0.85m-0.85 1.4h0.85m-0.85 1.2h0.85m-0.85 1.4h0.85m-0.85 2.6h0.85m-0.85 0.8h0.85m-0.85 1.2h0.85m-0.85 0.4h0.85m-0.85 3h0.85m-0.85 0.4h0.85m-0.85 1.4h0.85m-0.85 4.6h0.85m-0.85 0.2h0.85m-0.85 0.4h0.85m-0.85 0.2h0.85m-0.85 3.2h0.85m-0.85 4.6h0.85m-0.85 5.4h0.85m-0.85 0.8h0.85m-0.65 -45h0.85m-0.85 0.2h0.85m-0.85 0.2h0.85m-0.85 0.8h0.85m-0.85 0.2h0.85m-0.85 3h0.85m-0.85 0.2h0.85m-0.85 3h0.85m-0.85 2.4h0.85m-0.85 1.6h0.85m-0.85 2.8h0.85m-0.85 2h0.85m-0.85 0.8h0.85m-0.85 1.2h0.85m-0.85 0.6h0.85m-0.85 0.2h0.85m-0.85 0.4h0.85m-0.85 0.6h0.85m-0.85 0.8h0.85m-0.85 1.2h0.85m-0.85 5.6h0.85m-0.85 2.6h0.85m-0.85 2.6h0.85m-0.65 -34.8h0.85m-0.85 5.4h0.85m-0.85 0.8h0.85m-0.85 2h0.85m-0.85 1h0.85m-0.85 6.6h0.85m-0.85 6.2h0.85m-0.85 1.4h0.85m-0.85 0.4h0.85m-0.85 3.8h0.85m-0.85 3.2h0.85m-0.85 0.6h0.85m-0.85 2.6h0.85m-0.85 1.2h0.85m-0.85 3h0.85m-0.85 2.8h0.85m-0.85 0.6h0.85m-0.85 4.8h0.85m-0.65 -46.6h0.85m-0.85 5h0.85m-0.85 0.4h0.85m-0.85 3h0.85m-0.85 1h0.85m-0.85 7h0.85m-0.85 1.8h0.85m-0.85 2h0.85m-0.85 0.4h0.85m-0.85 1.4h0.85m-0.85 0.6h0.85m-0.85 0.2h0.85m-0.85 2.4h0.85m-0.85 1.2h0.85m-0.85 1.8h0.85m-0.85 3.4h0.85m-0.85 0.4h0.85m-0.85 2.8h0.85m-0.85 0.4h0.85m-0.85 1.4h0.85m-0.85 0.2h0.85m-0.85 0.4h0.85m-0.85 2.2h0.85m-0.85 1h0.85m-0.65 -43h0.85m-0.85 4.4h0.85m-0.85 2.6h0.85m-0.85 3.6h0.85m-0.85 7h0.85m-0.85 1.6h0.85m-0.85 0.6h0.85m-0.85 0.4h0.85m-0.85 4.8h0.85m-0.85 2.8h0.85m-0.85 2.6h0.85m-0.85 9.8h0.85m-0.85 1.6h0.85m-0.65 -37h0.85m-0.85 0.6h0.85m-0.85 1.4h0.85m-0.85 1.2h0.85m-0.85 0.2h0.85m-0.85 1.8h0.85m-0.85 1h0.85m-0.85 1.6h0.85m-0.85 3.4h0.85m-0.85 6.4h0.85m-0.85 0.6h0.85m-0.85 0.4h0.85m-0.85 2.6h0.85m-0.85 4h0.85m-0.85 1h0.85m-0.85 0.2h0.85m-0.85 4.2h0.85m-0.85 2h0.85m-0.85 0.6h0.85m-0.85 1.6h0.85m-0.85 0.6h0.85m-0.85 1h0.85m-0.85 0.6h0.85m-0.85 1.2h0.85m-0.65 -40.6h0.85m-0.85 8.6h0.85m-0.85 1h0.85m-0.85 3.2h0.85m-0.85 0.4h0.85m-0.85 5h0.85m-0.85 2h0.85m-0.85 2.8h0.85m-0.85 1.4h0.85m-0.85 0.2h0.85m-0.85 0.2h0.85m-0.85 0.2h0.85m-0.85 1.6h0.85m-0.85 1.8h0.85m-0.85 2.8h0.85m-0.85 3.8h0.85m-0.85 2.2h0.85m-0.85 5h0.85m-0.85 0.6h0.85m-0.85 2h0.85m-0.85 1.4h0.85m-0.85 1.4h0.85m-0.65 -43.2h0.85m-0.85 9h0.85m-0.85 2.8h0.85m-0.85 0.6h0.85m-0.85 2h0.85m-0.85 0.2h0.85m-0.85 2.6h0.85m-0.85 1h0.85m-0.85 0.8h0.85m-0.85 0.8h0.85m-0.85 0.6h0.85m-0.85 1.2h0.85m-0.85 5.6h0.85m-0.85 1.2h0.85m-0.85 2.6h0.85m-0.85 1h0.85m-0.85 0.6h0.85m-0.85 0.4h0.85m-0.85 2.4h0.85m-0.65 -36.4h0.85m-0.85 0.2h0.85m-0.85 7.6h0.85m-0.85 3.2h0.85m-0.85 2.8h0.85m-0.85 1.4h0.85m-0.85 2.6h0.85m-0.85 3.4h0.85m-0.85 0.6h0.85m-0.85 0.6h0.85m-0.85 0.2h0.85m-0.85 11.8h0.85m-0.85 1.6h0.85m-0.85 3h0.85m-0.65 -43.4h0.85m-0.85 1.2h0.85m-0.85 2.2h0.85m-0.85 0.2h0.85m-0.85 0.8h0.85m-0.85 7h0.85m-0.85 9.6h0.85m-0.85 3.4h0.85m-0.85 1.6h0.85m-0.85 10.4h0.85m-0.65 -37.6h0.85m-0.85 10.4h0.85m-0.85 4.6h0.85m-0.85 1h0.85m-0.85 1.8h0.85m-0.85 2h0.85m-0.85 0.6h0.85m-0.85 2.8h0.85m-0.85 2.8h0.85m-0.85 2.6h0.85m-0.85 0.6h0.85m-0.85 2.2h0.85m-0.85 0.2h0.85m-0.85 0.4h0.85m-0.85 0.8h0.85m-0.85 0.2h0.85m-0.85 0.2h0.85m-0.85 0.6h0.85m-0.85 2.4h0.85m-0.85 1.2h0.85m-0.85 2.4h0.85m-0.85 5.2h0.85m-0.65 -43.2h0.85m-0.85 2.4h0.85m-0.85 0.6h0.85m-0.85 6.8h0.85m-0.85 5h0.85m-0.85 2.8h0.85m-0.85 1.6h0.85m-0.85 2.8h0.85m-0.85 0.4h0.85m-0.85 1h0.85m-0.85 0.8h0.85m-0.85 0.4h0.85m-0.85 3.4h0.85m-0.85 0.4h0.85m-0.85 8.6h0.85m-0.85 0.8h0.85m-0.85 1h0.85m-0.85 2.4h0.85m-0.65 -43.2h0.85m-0.85 3h0.85m-0.85 4.4h0.85m-0.85 0.4h0.85m-0.85 3h0.85m-0.85 2h0.85m-0.85 0.6h0.85m-0.85 0.2h0.85m-0.85 4.8h0.85m-0.85 5.6h0.85m-0.85 2.6h0.85m-0.85 1.6h0.85m-0.85 2.4h0.85m-0.85 0.8h0.85m-0.85 1.2h0.85m-0.85 1.8h0.85m-0.85 1h0.85m-0.85 4h0.85m-0.85 1.6h0.85m-0.85 7.6h0.85m-0.65 -47.8h0.85m-0.85 3.4h0.85m-0.85 4.4h0.85m-0.85 9.6h0.85m-0.85 1.4h0.85m-0.85 0.2h0.85m-0.85 1.8h0.85m-0.85 1.8h0.85m-0.85 1.8h0.85m-0.85 3.8h0.85m-0.85 2h0.85m-0.85 0.6h0.85m-0.85 3.2h0.85m-0.85 2.2h0.85m-0.85 0.6h0.85m-0.85 3.2h0.85m-0.85 1.4h0.85m-0.85 1.6h0.85m-0.85 3.4h0.85m-0.65 -38.6h0.85m-0.85 10h0.85m-0.85 2.6h0.85m-0.85 1.6h0.85m-0.85 1.4h0.85m-0.85 2h0.85m-0.85 0.8h0.85m-0.85 5h0.85m-0.85 0.4h0.85m-0.85 0.4h0.85m-0.85 1.6h0.85m-0.85 5h0.85m-0.85 5.4h0.85m-0.65 -25.8h0.85m-0.85 0.2h0.85m-0.85 0.6h0.85m-0.85 2h0.85m-0.85 1.6h0.85m-0.85 4.2h0.85m-0.85 2.8h0.85m-0.85 1.6h0.85m-0.85 1h0.85m-0.85 2.2h0.85m-0.85 1.8h0.85m-0.65 -33h0.85m-0.85 6.2h0.85m-0.85 1.6h0.85m-0.85 1.4h0.85m-0.85 0.2h0.85m-0.85 0.2h0.85m-0.85 4h0.85m-0.85 0.2h0.85m-0.85 0.2h0.85m-0.85 3.2h0.85m-0.85 1.2h0.85m-0.85 2.2h0.85m-0.85 1h0.85m-0.85 3.8h0.85m-0.85 1.2h0.85m-0.85 0.4h0.85m-0.85 2.4h0.85m-0.85 1h0.85m-0.85 4h0.85m-0.65 -29h0.85m-0.85 2.8h0.85m-0.85 0.2h0.85m-0.85 3.6h0.85m-0.85 4.6h0.85m-0.85 1.4h0.85m-0.85 2.6h0.85m-0.85 3.2h0.85m-0.85 0.8h0.85m-0.85 2.2h0.85m-0.85 1.6h0.85m-0.85 1.4h0.85m-0.85 2.8h0.85m-0.85 0.6h0.85m-0.85 0.6h0.85m-0.85 0.6h0.85m-0.65 -30.2h0.85m-0.85 3.8h0.85m-0.85 6h0.85m-0.85 6.6h0.85m-0.85 7h0.85m-0.85 0.8h0.85m-0.85 2.6h0.85m-0.85 1.8h0.85m-0.85 0.2h0.85m-0.65 -32.8h0.85m-0.85 2h0.85m-0.85 1.2h0.85m-0.85 1h0.85m-0.85 1.2h0.85m-0.85 0.8h0.85m-0.85 3.4h0.85m-0.85 2.6h0.85m-0.85 2.2h0.85m-0.85 0.6h0.85m-0.85 2.8h0.85m-0.85 0.2h0.85m-0.85 3h0.85m-0.85 1.8h0.85m-0.85 0.2h0.85m-0.85 1.8h0.85m-0.85 5.2h0.85m-0.85 0.8h0.85m-0.85 2.6h0.85m-0.85 1.8h0.85m-0.65 -35.2h0.85m-0.85 1.4h0.85m-0.85 1.8h0.85m-0.85 2.8h0.85m-0.85 11.2h0.85m-0.85 2.2h0.85m-0.85 0.2h0.85m-0.85 0.8h0.85m-0.85 2.6h0.85m-0.85 2.8h0.85m-0.85 1h0.85m-0.85 2h0.85m-0.85 0.4h0.85m-0.85 4.8h0.85m-0.85 1.6h0.85m-0.85 1.4h0.85m-0.85 5h0.85m-0.65 -46.4h0.85m-0.85 8.8h0.85m-0.85 0.2h0.85m-0.85 6.4h0.85m-0.85 1.6h0.85m-0.85 2h0.85m-0.85 2.4h0.85m-0.85 0.4h0.85m-0.85 4.6h0.85m-0.85 3h0.85m-0.85 0.4h0.85m-0.85 5h0.85m-0.85 13.2h0.85m-0.85 0.8h0.85m-0.65 -48.8h0.85m-0.85 3.4h0.85m-0.85 4.2h0.85m-0.85 7h0.85m-0.85 3.2h0.85m-0.85 2h0.85m-0.85 2.6h0.85m-0.85 1.6h0.85m-0.85 0.6h0.85m-0.85 0.6h0.85m-0.85 1.2h0.85m-0.85 5.2h0.85m-0.85 1.8h0.85m-0.85 0.4h0.85m-0.85 1.8h0.85m-0.85 0.2h0.85m-0.85 0.6h0.85m-0.85 0.8h0.85m-0.85 1.4h0.85m-0.85 1.4h0.85m-0.85 7h0.85m-0.85 2.2h0.85m-0.65 -42.6h0.85m-0.85 0.6h0.85m-0.85 1.4h0.85m-0.85 1.6h0.85m-0.85 4h0.85m-0.85 2.8h0.85m-0.85 3.4h0.85m-0.85 4.6h0.85m-0.85 1.8h0.85m-0.85 2.2h0.85m-0.85 0.6h0.85m-0.85 4h0.85m-0.85 3.6h0.85m-0.85 7.2h0.85m-0.85 3.8h0.85m-0.85 1.8h0.85m-0.65 -37h0.85m-0.85 3.8h0.85m-0.85 2.2h0.85m-0.85 2h0.85m-0.85 4.2h0.85m-0.85 6.6h0.85m-0.85 0.4h0.85m-0.85 2.6h0.85m-0.85 9.8h0.85m-0.85 3h0.85m-0.65 -48.6h0.85m-0.85 4h0.85m-0.85 4.6h0.85m-0.85 3.6h0.85m-0.85 7.6h0.85m-0.85 1.4h0.85m-0.85 1.6h0.85m-0.85 2.6h0.85m-0.85 1h0.85m-0.85 0.4h0.85m-0.85 2.2h0.85m-0.85 3.2h0.85m-0.85 0.8h0.85m-0.85 4.6h0.85m-0.85 5.6h0.85m-0.85 0.8h0.85m-0.65 -38.8h0.85m-0.85 2.8h0.85m-0.85 1.4h0.85m-0.85 1.6h0.85m-0.85 5.4h0.85m-0.85 3.6h0.85m-0.85 8.6h0.85m-0.85 0.6h0.85m-0.85 0.6h0.85m-0.85 3h0.85m-0.85 3h0.85m-0.85 7.4h0.85m-0.85 1h0.85m-0.65 -38.6h0.85m-0.85 4.4h0.85m-0.85 6h0.85m-0.85 4h0.85m-0.85 0.2h0.85m-0.85 1.4h0.85m-0.85 1h0.85m-0.85 1h0.85m-0.85 0.8h0.85m-0.85 3.2h0.85m-0.85 1.6h0.85m-0.85 4h0.85m-0.85 0.4h0.85m-0.85 2.2h0.85m-0.85 0.8h0.85m-0.85 0.2h0.85m-0.85 11.6h0.85m-0.65 -44h0.85m-0.85 11.4h0.85m-0.85 4.2h0.85m-0.85 2.2h0.85m-0.85 3h0.85m-0.85 2.4h0.85m-0.85 1.8h0.85m-0.85 4.4h0.85m-0.85 1.2h0.85m-0.85 1.4h0.85m-0.85 1.2h0.85m-0.85 3h0.85m-0.65 -28.6h0.85m-0.85 0.4h0.85m-0.85 2.6h0.85m-0.85 4.8h0.85m-0.85 2h0.85m-0.85 2.6h0.85m-0.85 0.2h0.85m-0.85 1h0.85m-0.85 0.4h0.85m-0.85 5.6h0.85m-0.85 0.8h0.85m-0.85 4h0.85m-0.85 7.2h0.85m-0.65 -63.6h0.85m-0.85 37.8h0.85m-0.85 3.6h0.85m-0.85 1.2h0.85m-0.85 1h0.85m-0.85 3h0.85m-0.85 2.4h0.85m-0.85 0.2h0.85m-0.85 5h0.85m-0.85 10.2h0.85m-0.65 -44.4h0.85m-0.85 8h0.85m-0.85 1.6h0.85m-0.85 0.2h0.85m-0.85 3.4h0.85m-0.85 4.4h0.85m-0.85 3.4h0.85m-0.85 0.2h0.85m-0.85 3.6h0.85m-0.85 3h0.85m-0.85 1.2h0.85m-0.85 0.8h0.85m-0.85 0.2h0.85m-0.85 2h0.85m-0.85 0.8h0.85m-0.85 0.2h0.85m-0.85 0.6h0.85m-0.85 1h0.85m-0.85 2.6h0.85m-0.85 0.2h0.85m-0.85 6.2h0.85m-0.65 -34.2h0.85m-0.85 4.8h0.85m-0.85 4.2h0.85m-0.85 0.8h0.85m-0.85 1.4h0.85m-0.85 1h0.85m-0.85 1.4h0.85m-0.85 1.8h0.85m-0.85 1.6h0.85m-0.85 3.2h0.85m-0.85 2.6h0.85m-0.85 1h0.85m-0.85 0.2h0.85m-0.85 3.4h0.85m-0.85 0.8h0.85m-0.85 0.2h0.85m-0.85 0.6h0.85m-0.85 7h0.85m-0.65 -47h0.85m-0.85 7.2h0.85m-0.85 7.8h0.85m-0.85 3.2h0.85m-0.85 0.6h0.85m-0.85 1.6h0.85m-0.85 1.6h0.85m-0.85 3.6h0.85m-0.85 0.8h0.85m-0.85 1.4h0.85m-0.85 0.8h0.85m-0.85 3.4h0.85m-0.85 0.6h0.85m-0.85 6h0.85m-0.85 5h0.85m-0.85 1.4h0.85m-0.85 2.4h0.85m-0.65 -41.8h0.85m-0.85 7.8h0.85m-0.85 2.6h0.85m-0.85 0.8h0.85m-0.85 2h0.85m-0.85 3h0.85m-0.85 1.8h0.85m-0.85 1.8h0.85m-0.85 6.4h0.85m-0.85 2.2h0.85m-0.85 1.4h0.85m-0.85 1h0.85m-0.85 5.2h0.85m-0.85 1.2h0.85m-0.65 -28h0.85m-0.85 1h0.85m-0.85 2.4h0.85m-0.85 0.4h0.85m-0.85 3h0.85m-0.85 2h0.85m-0.85 2.6h0.85m-0.85 0.4h0.85m-0.85 3.8h0.85m-0.85 3.6h0.85m-0.85 3.2h0.85m-0.85 0.2h0.85m-0.85 0.4h0.85m-0.85 1h0.85m-0.85 4h0.85m-0.65 -27.4h0.85m-0.85 13.8h0.85m-0.85 5h0.85m-0.85 1.2h0.85m-0.85 4h0.85m-0.85 6.4h0.85m-0.85 0.4h0.85m-0.85 2.4h0.85m-0.65 -46h0.85m-0.85 6.6h0.85m-0.85 0.4h0.85m-0.85 1.8h0.85m-0.85 0.2h0.85m-0.85 1h0.85m-0.85 2h0.85m-0.85 0.2h0.85m-0.85 1h0.85m-0.85 4.6h0.85m-0.85 6h0.85m-0.85 0.2h0.85m-0.85 1.6h0.85m-0.85 0.8h0.85m-0.85 0.4h0.85m-0.85 0.8h0.85m-0.85 2.4h0.85m-0.85 2.4h0.85m-0.85 3.4h0.85m-0.85 6.6h0.85m-0.85 5h0.85m-0.65 -41.6h0.85m-0.85 9h0.85m-0.85 5.8h0.85m-0.85 1.6h0.85m-0.85 1.2h0.85m-0.85 0.6h0.85m-0.85 0.4h0.85m-0.85 0.6h0.85m-0.85 1.8h0.85m-0.85 2.6h0.85m-0.85 16.2h0.85m-0.65 -46.4h0.85m-0.85 9.4h0.85m-0.85 2.6h0.85m-0.85 0.8h0.85m-0.85 0.6h0.85m-0.85 1.8h0.85m-0.85 5.2h0.85m-0.85 1.6h0.85m-0.85 3.4h0.85m-0.85 1.8h0.85m-0.85 0.4h0.85m-0.85 1h0.85m-0.85 2.4h0.85m-0.85 1.6h0.85m-0.85 2h0.85m-0.85 2.8h0.85m-0.85 0.4h0.85m-0.85 0.6h0.85m-0.85 1.6h0.85m-0.85 2.8h0.85m-0.65 -40.2h0.85m-0.85 14.2h0.85m-0.85 0.2h0.85m-0.85 3.6h0.85m-0.85 0.6h0.85m-0.85 10.2h0.85m-0.85 3h0.85m-0.85 1.4h0.85m-0.85 5.6h0.85m-0.85 0.2h0.85m-0.85 5.8h0.85m-0.85 0.4h0.85m-0.85 2.4h0.85m-0.65 -29.6h0.85m-0.85 1.2h0.85m-0.85 3h0.85m-0.85 0.6h0.85m-0.85 2h0.85m-0.85 1h0.85m-0.85 0.2h0.85m-0.85 0.6h0.85m-0.85 3.6h0.85m-0.85 4.8h0.85m-0.85 4h0.85m-0.85 1h0.85m-0.85 3.8h0.85m-0.65 -37.8h0.85m-0.85 8.2h0.85m-0.85 2.6h0.85m-0.85 1h0.85m-0.85 0.4h0.85m-0.85 5h0.85m-0.85 0.8h0.85m-0.85 0.8h0.85m-0.85 4h0.85m-0.85 1.4h0.85m-0.85 1.6h0.85m-0.85 0.6h0.85m-0.65 -35h0.85m-0.85 22.8h0.85m-0.85 2.8h0.85m-0.85 1.2h0.85m-0.85 1.2h0.85m-0.85 1.4h0.85m-0.85 5.2h0.85m-0.85 1.2h0.85m-0.85 0.6h0.85m-0.85 2h0.85m-0.85 8.6h0.85m-0.65 -41.4h0.85m-0.85 3.4h0.85m-0.85 2h0.85m-0.85 0.6h0.85m-0.85 5.4h0.85m-0.85 4.6h0.85m-0.85 3h0.85m-0.85 2.2h0.85m-0.85 2.2h0.85m-0.85 3.4h0.85m-0.85 15.6h0.85m-0.65 -31.4h0.85m-0.85 3.2h0.85m-0.85 3.6h0.85m-0.85 0.2h0.85m-0.85 2.4h0.85m-0.85 0.8h0.85m-0.85 1.2h0.85m-0.85 0.6h0.85m-0.85 5.8h0.85m-0.85 2.8h0.85m-0.85 0.8h0.85m-0.85 5.2h0.85m-0.65 -31.4h0.85m-0.85 13h0.85m-0.85 0.8h0.85m-0.85 4h0.85m-0.85 0.4h0.85m-0.85 3.4h0.85m-0.85 0.2h0.85m-0.85 9.8h0.85m-0.85 3h0.85m-0.65 -33.2h0.85m-0.85 6.4h0.85m-0.85 2.2h0.85m-0.85 0.8h0.85m-0.85 2.4h0.85m-0.85 2h0.85m-0.85 1.2h0.85m-0.85 8h0.85m-0.85 0.4h0.85m-0.85 4.6h0.85m-0.85 0.2h0.85m-0.85 10.6h0.85m-0.65 -50.6h0.85m-0.85 8h0.85m-0.85 2.2h0.85m-0.85 5.4h0.85m-0.85 0.4h0.85m-0.85 5.2h0.85m-0.85 3h0.85m-0.85 1.6h0.85m-0.85 2.2h0.85m-0.85 2.2h0.85m-0.85 1h0.85m-0.85 0.8h0.85m-0.85 0.6h0.85m-0.85 0.4h0.85m-0.85 0.2h0.85m-0.85 3.2h0.85m-0.85 4.6h0.85m-0.85 1.6h0.85m-0.85 4.4h0.85m-0.85 0.6h0.85m-0.85 1.6h0.85m-0.65 -53.4h0.85m-0.85 13.8h0.85m-0.85 0.6h0.85m-0.85 13.8h0.85m-0.85 1.2h0.85m-0.85 4.8h0.85m-0.85 1.2h0.85m-0.85 0.8h0.85m-0.85 4h0.85m-0.85 10.8h0.85m-0.85 3.2h0.85m-0.65 -46.8h0.85m-0.85 3h0.85m-0.85 0.6h0.85m-0.85 1.4h0.85m-0.85 5.8h0.85m-0.85 7.6h0.85m-0.85 4.8h0.85m-0.85 5h0.85m-0.85 2h0.85m-0.85 1.6h0.85m-0.85 4h0.85m-0.65 -30.6h0.85m-0.85 7.6h0.85m-0.85 3.2h0.85m-0.85 5.6h0.85m-0.85 10h0.85m-0.85 10.6h0.85m-0.65 -43h0.85m-0.85 8.8h0.85m-0.85 6h0.85m-0.85 3h0.85m-0.85 4.4h0.85m-0.85 4.4h0.85m-0.85 2.6h0.85m-0.85 0.6h0.85m-0.85 5.4h0.85m-0.85 7h0.85m-0.65 -47.2h0.85m-0.85 12.6h0.85m-0.85 0.6h0.85m-0.85 4.8h0.85m-0.85 4.6h0.85m-0.85 2.6h0.85m-0.85 0.8h0.85m-0.85 0.6h0.85m-0.85 9h0.85m-0.85 6.4h0.85m-0.85 5.8h0.85m-0.85 1.8h0.85m-0.85 1.2h0.85m-0.65 -46.4h0.85m-0.85 2h0.85m-0.85 17.6h0.85m-0.85 0.4h0.85m-0.85 7h0.85m-0.85 1h0.85m-0.85 1.2h0.85m-0.85 5.8h0.85m-0.85 3.2h0.85m-0.85 0.6h0.85m-0.65 -32h0.85m-0.85 5.2h0.85m-0.85 3.8h0.85m-0.85 1.6h0.85m-0.85 7.4h0.85m-0.85 3.2h0.85m-0.85 1.8h0.85m-0.85 1.4h0.85m-0.85 2.4h0.85m-0.85 1.4h0.85m-0.85 2.4h0.85m-0.85 1.4h0.85m-0.85 0.6h0.85m-0.65 -44.4h0.85m-0.85 9h0.85m-0.85 1.6h0.85m-0.85 2.8h0.85m-0.85 1.8h0.85m-0.85 3.6h0.85m-0.85 7.6h0.85m-0.85 2.2h0.85m-0.85 1.6h0.85m-0.85 2.6h0.85m-0.85 1h0.85m-0.85 1.2h0.85m-0.85 3.6h0.85m-0.85 9h0.85m-0.65 -39.4h0.85m-0.85 3.2h0.85m-0.85 5.4h0.85m-0.85 0.4h0.85m-0.85 4.6h0.85m-0.85 1.6h0.85m-0.85 3.6h0.85m-0.85 0.8h0.85m-0.85 2.6h0.85m-0.85 1.8h0.85m-0.85 0.4h0.85m-0.85 0.6h0.85m-0.85 2.6h0.85m-0.85 1.6h0.85m-0.85 3.6h0.85m-0.85 1.4h0.85m-0.85 6.6h0.85m-0.65 -25.8h0.85m-0.85 3.2h0.85m-0.85 0.4h0.85m-0.85 1h0.85m-0.85 0.6h0.85m-0.85 4.6h0.85m-0.85 2.2h0.85m-0.85 3.4h0.85m-0.85 1.2h0.85m-0.85 0.6h0.85m-0.85 2h0.85m-0.85 5.2h0.85m-0.65 -40.4h0.85m-0.85 13.4h0.85m-0.85 1.8h0.85m-0.85 4.6h0.85m-0.85 3h0.85m-0.85 1.2h0.85m-0.85 5.4h0.85m-0.85 0.4h0.85m-0.85 0.2h0.85m-0.85 3.4h0.85m-0.85 4.2h0.85m-0.85 0.2h0.85m-0.85 4.4h0.85m-0.65 -38.4h0.85m-0.85 0.2h0.85m-0.85 1.2h0.85m-0.85 8h0.85m-0.85 6.2h0.85m-0.85 2.6h0.85m-0.85 0.6h0.85m-0.85 5.6h0.85m-0.85 3.2h0.85m-0.85 4.4h0.85m-0.85 2.8h0.85m-0.85 5.8h0.85m-0.65 -20h0.85m-0.85 0.4h0.85m-0.85 0.2h0.85m-0.85 0.2h0.85m-0.85 1h0.85m-0.85 1.4h0.85m-0.85 0.8h0.85m-0.85 0.4h0.85m-0.85 4.8h0.85m-0.85 9.8h0.85m-0.85 1.6h0.85m-0.65 -44.2h0.85m-0.85 2.8h0.85m-0.85 2.4h0.85m-0.85 0.4h0.85m-0.85 5h0.85m-0.85 6h0.85m-0.85 4.8h0.85m-0.85 2.4h0.85m-0.85 3.4h0.85m-0.85 6.4h0.85m-0.85 1.6h0.85m-0.85 2.4h0.85m-0.65 -38.6h0.85m-0.85 4h0.85m-0.85 7.4h0.85m-0.85 0.4h0.85m-0.85 2h0.85m-0.85 14.2h0.85m-0.85 0.2h0.85m-0.85 1.6h0.85m-0.85 0.4h0.85m-0.85 2.8h0.85m-0.85 11.2h0.85m-0.65 -30h0.85m-0.85 5.4h0.85m-0.85 1.6h0.85m-0.85 5.8h0.85m-0.85 5.6h0.85m-0.85 12.8h0.85m-0.65 -48h0.85m-0.85 5.8h0.85m-0.85 2.2h0.85m-0.85 10.6h0.85m-0.85 0.8h0.85m-0.85 2h0.85m-0.85 1h0.85m-0.85 13.6h0.85m-0.85 3.8h0.85m-0.85 8.4h0.85m-0.65 -36.2h0.85m-0.85 8.4h0.85m-0.85 2.4h0.85m-0.85 2h0.85m-0.85 0.8h0.85m-0.85 1h0.85m-0.85 1.8h0.85m-0.85 0.4h0.85m-0.85 11.8h0.85m-0.65 -30.6h0.85m-0.85 7.6h0.85m-0.85 1.6h0.85m-0.85 1.8h0.85m-0.85 1.4h0.85m-0.85 8.2h0.85m-0.65 -36.2h0.85m-0.85 8h0.85m-0.85 14.2h0.85m-0.85 8.8h0.85m-0.85 1.8h0.85m-0.85 0.4h0.85m-0.85 3.4h0.85m-0.85 1.4h0.85m-0.85 2.6h0.85m-0.85 3.2h0.85m-0.85 3h0.85m-0.85 2.8h0.85m-0.65 -43h0.85m-0.85 0.2h0.85m-0.85 1.6h0.85m-0.85 6.6h0.85m-0.85 1.8h0.85m-0.85 0.8h0.85m-0.85 6.8h0.85m-0.85 12h0.85m-0.85 6.4h0.85m-0.65 -34h0.85m-0.85 9h0.85m-0.85 2h0.85m-0.85 6.2h0.85m-0.85 0.6h0.85m-0.85 4.4h0.85m-0.85 2h0.85m-0.85 2.2h0.85m-0.85 0.6h0.85m-0.85 0.2h0.85m-0.85 2.2h0.85m-0.65 -28.2h0.85m-0.85 13.6h0.85m-0.85 2.6h0.85m-0.85 0.6h0.85m-0.85 5h0.85m-0.85 5.8h0.85m-0.85 10.2h0.85m-0.65 -31.6h0.85m-0.85 6.6h0.85m-0.85 2.8h0.85m-0.85 0.6h0.85m-0.85 3.2h0.85m-0.85 4h0.85m-0.85 7.2h0.85m-0.65 -12.2h0.85m-0.85 1h0.85m-0.85 13.4h0.85m-0.65 -34.8h0.85m-0.85 17.8h0.85m-0.85 3.6h0.85m-0.85 0.4h0.85m-0.85 3.2h0.85m-0.85 5.2h0.85m-0.85 0.4h0.85m-0.65 -7h0.85m-0.85 1h0.85m-0.85 0.8h0.85m-0.85 1.8h0.85m-0.85 0.8h0.85m-0.85 1h0.85m-0.85 1.2h0.85m-0.85 0.6h0.85m-0.85 6.2h0.85m-0.85 9.8h0.85m-0.65 -28.2h0.85m-0.85 4h0.85m-0.85 2.6h0.85m-0.85 6.2h0.85m-0.85 4.2h0.85m-0.85 0.6h0.85m-0.85 1h0.85m-0.65 -38.2h0.85m-0.85 17.8h0.85m-0.85 3.4h0.85m-0.85 1.2h0.85m-0.85 2.4h0.85m-0.85 0.8h0.85m-0.85 0.8h0.85m-0.85 4.6h0.85m-0.65 -34.4h0.85m-0.85 14.8h0.85m-0.85 0.6h0.85m-0.85 4.4h0.85m-0.85 2.2h0.85m-0.85 2h0.85m-0.85 13.8h0.85m-0.65 -25.2h0.85m-0.85 10h0.85m-0.85 1.2h0.85m-0.85 0.2h0.85m-0.85 7.4h0.85m-0.85 3.4h0.85m-0.85 5.4h0.85m-0.85 1h0.85m-0.85 1.8h0.85m-0.65 -38.4h0.85m-0.85 19.8h0.85m-0.85 8h0.85m-0.65 -31.2h0.85m-0.85 3.8h0.85m-0.85 2.6h0.85m-0.85 1.6h0.85m-0.85 2.6h0.85m-0.85 0.8h0.85m-0.85 3.2h0.85m-0.85 1h0.85m-0.85 0.4h0.85m-0.85 5.4h0.85m-0.85 1.6h0.85m-0.85 2h0.85m-0.85 0.6h0.85m-0.85 6.4h0.85m-0.85 1h0.85m-0.85 4h0.85m-0.85 1.2h0.85m-0.85 3.8h0.85m-0.85 1.2h0.85m-0.65 -30.8h0.85m-0.85 5.2h0.85m-0.85 2.8h0.85m-0.85 0.2h0.85m-0.85 2.6h0.85m-0.85 3.6h0.85m-0.85 0.6h0.85m-0.85 0.8h0.85m-0.85 14h0.85m-0.65 -33h0.85m-0.85 25.2h0.85m-0.85 4.8h0.85m-0.65 -32.6h0.85m-0.85 21.6h0.85m-0.85 5.4h0.85m-0.85 1.4h0.85m-0.85 3h0.85m-0.85 0.2h0.85m-0.85 4.6h0.85m-0.65 -32.4h0.85m-0.85 5.8h0.85m-0.85 7h0.85m-0.85 1.6h0.85m-0.85 4.4h0.85m-0.85 3.6h0.85m-0.85 3.2h0.85m-0.85 7.4h0.85m-0.85 4.6h0.85m-0.65 -41.2h0.85m-0.85 8.2h0.85m-0.85 3.4h0.85m-0.85 5.6h0.85m-0.85 5h0.85m-0.65 -23.8h0.85m-0.85 15.2h0.85m-0.85 21.2h0.85m-0.65 -31.4h0.85m-0.85 2.4h0.85m-0.85 20.4h0.85m-0.85 1.8h0.85m-0.65 -23h0.85m-0.85 7.8h0.85m-0.85 0.4h0.85m-0.85 3.8h0.85m-0.85 2h0.85m-0.85 1.6h0.85m-0.85 5.6h0.85m-0.85 2h0.85m-0.65 -0.6h0.85m-0.85 7h0.85m-0.65 -34.4h0.85m-0.85 18.8h0.85m-0.85 0.8h0.85m-0.85 9.6h0.85m-0.85 3.4h0.85m-0.85 2h0.85m-0.85 2.2h0.85m-0.65 -41.4h0.85m-0.85 1.2h0.85m-0.85 4.6h0.85m-0.85 10.2h0.85m-0.85 1.6h0.85m-0.85 1.6h0.85m-0.85 5.8h0.85m-0.85 16.2h0.85m-0.85 3.4h0.85m-0.65 -37.4h0.85m-0.85 11.4h0.85m-0.85 6.6h0.85m-0.85 6.8h0.85m-0.65 -13.6h0.85m-0.85 1.2h0.85m-0.85 4h0.85m-0.85 13.4h0.85m-0.85 6h0.85m-0.65 -24.6h0.85m-0.85 3.8h0.85m-0.85 1.8h0.85m-0.85 3.2h0.85m-0.85 1.8h0.85m-0.85 6.8h0.85m-0.85 2h0.85m-0.65 -30.4h0.85m-0.85 17h0.85m-0.85 9.6h0.85m-0.85 7.8h0.85m-0.65 -33.8h0.85m-0.85 12.4h0.85m-0.85 0.4h0.85m-0.85 5.4h0.85m-0.85 0.8h0.85m-0.85 2.4h0.85m-0.85 1.6h0.85m-0.85 1.6h0.85m-0.65 -14.8h0.85m-0.85 5h0.85m-0.85 12h0.85m-0.85 4.4h0.85m-0.65 -33h0.85m-0.85 0.4h0.85m-0.85 1h0.85m-0.85 1.2h0.85m-0.85 1.2h0.85m-0.85 2.6h0.85m-0.85 4.2h0.85m-0.85 0.2h0.85m-0.85 11.8h0.85m-0.85 0.4h0.85m-0.85 1.8h0.85m-0.85 3h0.85m-0.85 7.4h0.85m-0.65 -42.2h0.85m-0.85 0.8h0.85m-0.85 17.4h0.85m-0.85 0.8h0.85m-0.85 7.2h0.85m-0.85 4.8h0.85m-0.85 5.6h0.85m-0.85 0.6h0.85m-0.85 3.4h0.85m-0.85 1.4h0.85m-0.85 6.4h0.85m-0.65 -47h0.85m-0.85 4.6h0.85m-0.85 6h0.85m-0.85 2.6h0.85m-0.85 6.4h0.85m-0.85 1.2h0.85m-0.85 12.4h0.85m-0.85 0.4h0.85m-0.85 4.4h0.85m-0.85 5.6h0.85m-0.85 2.2h0.85m-0.65 -45.6h0.85m-0.85 9.8h0.85m-0.85 2.8h0.85m-0.85 18.6h0.85m-0.85 3h0.85m-0.85 1.8h0.85m-0.85 7h0.85m-0.65 -29.4h0.85m-0.85 6h0.85m-0.85 1.8h0.85m-0.85 5.2h0.85m-0.85 0.6h0.85m-0.65 -26.4h0.85m-0.85 10.6h0.85m-0.85 8.2h0.85m-0.85 2.2h0.85m-0.85 3.2h0.85m-0.85 0.4h0.85m-0.85 2.4h0.85m-0.85 0.4h0.85m-0.85 8h0.85m-0.85 3.4h0.85m-0.65 -38.4h0.85m-0.85 1.4h0.85m-0.85 16.6h0.85m-0.85 1h0.85m-0.85 0.2h0.85m-0.85 8.8h0.85m-0.85 7h0.85m-0.85 2.6h0.85m-0.65 -25h0.85m-0.85 1.8h0.85m-0.85 1.2h0.85m-0.85 6.6h0.85m-0.85 12h0.85m-0.65 -16.6h0.85m-0.85 12.8h0.85m-0.65 -17h0.85m-0.85 10.2h0.85m-0.85 5.8h0.85m-0.85 8.6h0.85m-0.65 -34.2h0.85m-0.85 7.2h0.85m-0.85 3.2h0.85m-0.85 7.6h0.85m-0.85 1.2h0.85m-0.85 1.2h0.85m-0.85 2h0.85m-0.85 5h0.85m-0.85 5h0.85m-0.85 4.8h0.85m-0.65 -43h0.85m-0.85 13.2h0.85m-0.85 13.8h0.85m-0.65 6.8h0.85m-0.85 3.6h0.85m-0.85 5.4h0.85m-0.65 -36.8h0.85m-0.85 6.2h0.85m-0.85 1.6h0.85m-0.85 15.4h0.85m-0.85 17.2h0.85m-0.65 -44.4h0.85m-0.85 5.4h0.85m-0.85 9.2h0.85m-0.85 2.8h0.85m-0.85 11.2h0.85m-0.85 9h0.85m-0.65 -23.4h0.85m-0.85 11.8h0.85m-0.85 7h0.85m-0.65 -16.2h0.85m-0.85 4.2h0.85m-0.85 1h0.85m-0.85 2.6h0.85m-0.85 4.2h0.85m-0.65 -21.4h0.85m-0.85 1.4h0.85m-0.85 10.2h0.85m-0.85 7.6h0.85m-0.65 -50.2h0.85m-0.85 35h0.85m-0.85 3.4h0.85m-0.85 3.6h0.85m-0.85 3.2h0.85m-0.85 2.2h0.85m-0.85 2.6h0.85m-0.65 -24h0.85m-0.85 13.8h0.85m-0.85 5.8h0.85m-0.85 0.4h0.85m-0.85 0.2h0.85m-0.85 0.6h0.85m-0.85 4h0.85m-0.65 -15.8h0.85m-0.85 7h0.85m-0.85 7.8h0.85m-0.85 3.6h0.85m-0.85 5.2h0.85m-0.85 1.8h0.85m-0.65 -27.4h0.85m-0.85 0.2h0.85m-0.85 5.2h0.85m-0.85 8.2h0.85m-0.85 1.2h0.85m-0.85 5.2h0.85m-0.85 0.2h0.85m-0.85 9h0.85m-0.65 -24.4h0.85m-0.85 2h0.85m-0.85 3.6h0.85m-0.65 -7.2h0.85m-0.85 14h0.85m-0.85 2.4h0.85m-0.85 1.8h0.85m-0.85 2.2h0.85m-0.85 2.2h0.85m-0.65 -32.6h0.85m-0.85 1.2h0.85m-0.85 20.2h0.85m-0.85 1.8h0.85m-0.85 0.2h0.85m-0.85 2h0.85m-0.85 10.6h0.85m-0.65 -25h0.85m-0.85 3.2h0.85m-0.85 6h0.85m-0.85 7h0.85m-0.85 0.8h0.85m-0.85 4.8h0.85m-0.85 0.6h0.85m-0.65 -34.2h0.85m-0.85 31.8h0.85m-0.65 -13.2h0.85m-0.85 2.6h0.85m-0.85 1.2h0.85m-0.85 1.6h0.85m-0.85 1.2h0.85m-0.85 1.6h0.85m-0.65 -33.2h0.85m-0.85 4.2h0.85m-0.85 14h0.85m-0.85 28h0.85m-0.65 -35.6h0.85m-0.85 21.2h0.85m-0.85 0.4h0.85m-0.65 -14h0.85m-0.85 5.8h0.85m-0.85 8.2h0.85m-0.85 1h0.85m-0.85 3.6h0.85m-0.85 7h0.85m-0.65 -24.8h0.85m-0.85 17.6h0.85m-0.65 -29.8h0.85m-0.85 5.6h0.85m-0.85 5.8h0.85m-0.85 12h0.85m-0.85 9.8h0.85m-0.85 4.2h0.85m-0.65 -32.2h0.85m-0.85 9.4h0.85m-0.85 0.2h0.85m-0.85 10.4h0.85m-0.85 0.4h0.85m-0.85 1h0.85m-0.85 0.8h0.85m-0.65 -20h0.85m-0.85 12.2h0.85m-0.85 1.4h0.85m-0.85 20.8h0.85m-0.65 -30.2h0.85m-0.85 19.2h0.85m-0.85 8.8h0.85m-0.65 -28h0.85m-0.85 1.4h0.85m-0.65 -20.8h0.85m-0.85 33.8h0.85m-0.85 5.2h0.85m-0.65 -20h0.85m-0.85 14.2h0.85m-0.85 0.4h0.85m-0.85 3.2h0.85m-0.85 0.4h0.85m-0.85 3.6h0.85m-0.65 -26.8h0.85m-0.85 3.8h0.85m-0.85 1h0.85m-0.85 6.6h0.85m-0.85 5.6h0.85m-0.85 5.8h0.85m-0.85 1h0.85m-0.85 9.2h0.85m-0.65 -31.6h0.85m-0.85 4h0.85m-0.85 7.6h0.85m-0.85 0.8h0.85m-0.85 1.4h0.85m-0.85 0.8h0.85m-0.85 5.8h0.85m-0.85 1.2h0.85m-0.85 5.2h0.85m-0.85 0.2h0.85m-0.65 -24.4h0.85m-0.85 3.4h0.85m-0.85 9.8h0.85m-0.85 4.4h0.85m-0.85 1h0.85m-0.65 -18.6h0.85m-0.65 -8.8h0.85m-0.85 23.4h0.85m-0.85 2.6h0.85m-0.65 -27.6h0.85m-0.85 0.4h0.85m-0.85 5.6h0.85m-0.85 17.6h0.85m-0.85 3h0.85m-0.65 11h0.85m-0.65 -30.6h0.85m-0.85 2.4h0.85m-0.85 15.8h0.85m-0.65 -22.8h0.85m-0.85 9.2h0.85m-0.85 11.4h0.85m-0.85 6h0.85m-0.65 -10.2h0.85m-0.85 2.2h0.85m-0.85 0.8h0.85m-0.65 -17h0.85m-0.65 8h0.85m-0.85 4h0.85m-0.85 4h0.85m-0.85 22.6h0.85m-0.65 -42.8h0.85m-0.85 3.4h0.85m-0.85 11.6h0.85m-0.85 5.2h0.85m-0.85 3.2h0.85m-0.85 0.4h0.85m-0.85 5.8h0.85m-0.65 -19.6h0.85m-0.85 10.8h0.85m-0.65 -18.2h0.85m-0.85 3.6h0.85m-0.85 9.2h0.85m-0.85 2.6h0.85m-0.85 9.4h0.85m-0.85 13h0.85m-0.65 -42.2h0.85m-0.85 1.8h0.85m-0.85 11h0.85m-0.85 4.2h0.85m-0.85 11.8h0.85m-0.85 12.6h0.85m-0.85 2.6h0.85m-0.65 -23h0.85m-0.85 16.6h0.85m-0.85 3.6h0.85m-0.65 -29.8h0.85m-0.85 9h0.85m-0.85 14.6h0.85m-0.65 -33.2h0.85m-0.85 21h0.85m-0.85 4.4h0.85m-0.85 1.2h0.85m-0.85 0.8h0.85m-0.85 7.2h0.85m-0.65 -42h0.85m-0.85 11h0.85m-0.85 9.6h0.85m-0.85 10h0.85m-0.85 6.4h0.85m-0.85 5.6h0.85m-0.65 -21.8h0.85m-0.85 3.2h0.85m-0.85 2h0.85m-0.85 9.4h0.85m-0.85 5.8h0.85m-0.85 2.6h0.85m-0.65 -22h0.85m-0.85 3.4h0.85m-0.85 7h0.85m-0.85 2h0.85m-0.85 3.4h0.85m-0.65 -19.8h0.85m-0.85 0.4h0.85m-0.85 26.6h0.85m-0.65 -13h0.85m-0.85 7.4h0.85m-0.85 4.4h0.85m-0.65 -41.6h0.85m-0.65 24.6h0.85m-0.85 16.4h0.85m-0.65 -21.4h0.85m-0.85 12h0.85m-0.65 -3.2h0.85m-0.85 13.6h0.85m-0.85 0.8h0.85m-0.85 4h0.85m-0.65 -19.6h0.85m-0.85 21.4h0.85m-0.65 -25.8h0.85m-0.85 5h0.85m-0.65 -1.6h0.85m-0.65 -5.8h0.85m-0.85 3.6h0.85m-0.85 8.2h0.85m-0.85 5.2h0.85m-0.65 -24.4h0.85m-0.85 14.6h0.85m-0.85 7.6h0.85m-0.65 -10.8h0.85m-0.85 9.8h0.85m-0.65 -19.8h0.85m-0.85 4h0.85m-0.85 14h0.85m-0.85 9h0.85m-0.65 -39h0.85m-0.85 30.2h0.85m-0.85 2h0.85m-0.85 7.4h0.85m-0.65 -42.4h0.85m-0.85 14.8h0.85m-0.45 12.4h0.85m-0.65 -6.6h0.85m-0.85 2.6h0.85m-0.85 8.6h0.85m-0.85 1.6h0.85m-0.65 -22.2h0.85m-0.85 27.4h0.85m-0.85 3.8h0.85m-0.65 -10.6h0.85m-0.85 9.2h0.85m-0.65 -17h0.85m-0.65 -36h0.85m-0.85 26.2h0.85m-0.85 3.2h0.85m-0.85 11.2h0.85m-0.85 15.6h0.85m-0.65 -37h0.85m-0.85 11.4h0.85m-0.65 19.4h0.85m-0.85 8.2h0.85m-0.65 -37.4h0.85m-0.85 18.2h0.85m-0.85 7.6h0.85m-0.85 2h0.85m-0.65 -18.4h0.85m-0.85 6h0.85m-0.85 2h0.85m-0.85 21.8h0.85m-0.85 0.6h0.85m-0.65 -44h0.85m-0.85 3.6h0.85m-0.85 35.8h0.85m-0.65 -30.6h0.85m-0.85 19.6h0.85m-0.85 6.4h0.85m-0.65 -44.2h0.85m-0.65 20.8h0.85m-0.85 10.2h0.85m-0.65 -5.4h0.85m-0.45 1.6h0.85m-0.65 4.6h0.85m-0.85 1.4h0.85m-0.65 -25h0.85m-0.85 7.4h0.85m-0.65 0.2h0.85m-0.65 18h0.85m-0.65 -16.8h0.85m-0.85 7.2h0.85m-0.85 15.4h0.85m-0.65 -22h0.85m-0.85 15h0.85m-0.65 -39.4h0.85m-0.85 42.2h0.85m-0.65 -3.2h0.85m-0.85 3.2h0.85m-0.65 -2.2h0.85m-0.85 3h0.85m-0.85 11h0.85m-0.85 3.6h0.85m-0.65 -33.8h0.85m-0.85 13.4h0.85m-0.65 -0.6h0.85m-0.85 1.8h0.85m-0.65 6.8h0.85m-0.85 3.4h0.85m-0.85 3.2h0.85m-0.65 -24.4h0.85m-0.45 -16.6h0.85m-0.85 31.8h0.85m-0.85 9h0.85m-0.65 -12.4h0.85m-0.85 6.8h0.85m-0.85 6.8h0.85m-0.85 1.4h0.85m-0.65 -16.8h0.85m-0.85 7.8h0.85m-0.65 -29.6h0.85m-0.85 24.8h0.85m-0.85 9h0.85m-0.65 -37.8h0.85m-0.85 16.2h0.85m-0.85 5h0.85m-0.85 8.4h0.85m-0.85 2h0.85m-0.85 1.4h0.85m-0.85 9h0.85m-0.65 -3.8h0.85m-0.45 -35.4h0.85m-0.85 4.2h0.85m-0.65 33h0.85m-0.65 -4.6h0.85m-0.65 -14.2h0.85m-0.85 7.6h0.85m-0.65 -23.4h0.85m-0.85 23.6h0.85m-0.65 -4.8h0.85m-0.85 3h0.85m-0.85 0.2h0.85m-0.85 4.2h0.85m-0.25 14.8h0.85m-0.85 1.4h0.85m-0.45 -32.2h0.85m-0.85 28.4h0.85m-0.85 3.6h0.85m-0.65 -41.2h0.85m-0.85 39.8h0.85m-0.65 -25.8h0.85m-0.85 9.6h0.85m-0.65 -1.4h0.85m-0.85 6.2h0.85" stroke="#000" stroke-width="0.85" fill="none"/>
</g>
<line x1="466.5" y1="543.7" x2="466.5" y2="574" stroke="#666" stroke-width="1.6"/>
<line x1="423.5" y1="574" x2="516.1" y2="574" stroke="#666" stroke-width="1.2"/>
<line x1="423.5" y1="543.7" x2="516.1" y2="543.7" stroke="#888" stroke-width="0.8"/>
<rect x="423.5" y="541.1" width="92.6" height="75.8" fill="none" stroke="#333" stroke-width="1.3"/>
<text x="424.12" y="557.3" font-size="13.08" font-family='"Liberation Serif", serif' textLength="37.36" lengthAdjust="spacingAndGlyphs" fill="#a82432" stroke="#a82432" stroke-width="0.15">0.34%</text>
<text x="472.03" y="557.3" font-size="13.08" font-family='"Liberation Serif", serif' textLength="44.04" lengthAdjust="spacingAndGlyphs" fill="#a82432" stroke="#a82432" stroke-width="0.15">0.537%</text>
<line x1="416.2" y1="602.8" x2="416.2" y2="626.3" stroke="#222" stroke-width="1.3"/>
<line x1="416.2" y1="626.3" x2="457.3" y2="626.3" stroke="#222" stroke-width="1.3"/>
<path d="M413.9 603.4 L416.2 598.8 L418.5 603.4Z" fill="#222" stroke="none" stroke-width="0"/>
<path d="M456.7 624 L461.3 626.3 L456.7 628.6Z" fill="#222" stroke="none" stroke-width="0"/>
<text x="418.6" y="593.69" font-size="14.81" font-family='"Liberation Serif", serif' textLength="33.44" lengthAdjust="spacing" fill="#111" transform="rotate(-90 418.6 593.69)">c-Kit</text>
<text x="462.56" y="630.3" font-size="14.5" font-family='"Liberation Serif", serif' textLength="33" lengthAdjust="spacing" fill="#111">Sca1</text>
<rect x="288" y="671.1" width="94" height="75.1" fill="none" stroke="#555" stroke-width="0.9"/>
<rect x="288" y="671.1" width="31.3" height="64.6" fill="none" stroke="#555" stroke-width="0.9"/>
<rect x="319.3" y="677.1" width="52.6" height="54.1" fill="none" stroke="#555" stroke-width="0.9"/>
<path d="M342.5 705.51 L342 705.56 L341.5 705.56 L341 705.51 L340.75 705.48 L340.25 705.38 L339.75 705.27 L339.5 705.23 L339 705.2 L338.5 705.2 L338 705.2 L337.5 705.19 L337 705.18 L336.5 705.19 L336 705.21 L335.5 705.23 L335 705.23 L334.5 705.23 L334 705.2 L333.5 705.15 L333 705.07 L332.69 705 L332.25 704.9 L331.75 704.79 L331.5 704.74 L331 704.68 L330.5 704.63 L330 704.58 L329.5 704.5 L329.25 704.46 L328.75 704.35 L328.37 704.25 L328 704.18 L327.5 704.13 L327 704.14 L326.5 704.16 L326 704.13 L325.5 704.04 L325.25 703.97 L324.75 703.83 L324.5 703.75 L324 703.58 L323.75 703.48 L323.25 703.29 L323 703.2 L322.5 703.05 L322.25 702.98 L321.75 702.86 L321.42 702.75 L321 702.6 L320.75 702.49 L320.25 702.25 L320 702.14 L319.73 702 L319.25 701.77 L319 701.64 L318.75 701.5 L318.29 701.25 L318 701.1 L317.75 700.97 L317.27 700.75 L317 700.64 L316.64 700.5 L316.25 700.35 L316 700.25 L315.5 700.02 L315.25 699.9 L314.96 699.75 L314.5 699.51 L314.25 699.39 L313.99 699.25 L313.5 699.01 L313.25 698.91 L312.82 698.75 L312.5 698.65 L312.01 698.5 L311.75 698.42 L311.35 698.25 L311 698.07 L310.75 697.94 L310.33 697.75 L310 697.66 L309.5 697.6 L309 697.55 L308.75 697.5 L308.25 697.3 L308 697.13 L307.75 696.92 L307.5 696.64 L307.25 696.3 L307.08 696 L306.97 695.75 L306.8 695.25 L306.69 695 L306.5 694.61 L306.36 694.25 L306.36 693.75 L306.5 693.46 L306.75 693.15 L307 692.9 L307.25 692.66 L307.5 692.45 L307.77 692.25 L308.19 692 L308.5 691.85 L308.75 691.75 L309.25 691.58 L309.51 691.5 L310 691.36 L310.41 691.25 L310.75 691.16 L311.25 691.03 L311.5 690.98 L312 690.9 L312.5 690.85 L313 690.79 L313.38 690.75 L313.75 690.7 L314.25 690.66 L314.75 690.65 L315.25 690.66 L315.75 690.65 L316.25 690.6 L316.71 690.5 L317 690.41 L317.5 690.27 L317.75 690.2 L318.25 690.09 L318.75 690.03 L319.25 690.01 L319.5 690 L320 689.97 L320.5 689.93 L321 689.89 L321.5 689.87 L322 689.86 L322.5 689.84 L323 689.8 L323.45 689.75 L323.75 689.71 L324.25 689.66 L324.75 689.63 L325.25 689.61 L325.75 689.55 L326.03 689.5 L326.5 689.37 L327 689.26 L327.25 689.23 L327.75 689.2 L328.25 689.22 L328.6 689.25 L329 689.28 L329.5 689.33 L330 689.37 L330.5 689.4 L331 689.41 L331.5 689.41 L332 689.41 L332.5 689.41 L333 689.44 L333.35 689.5 L333.75 689.59 L334.25 689.68 L334.75 689.71 L335.25 689.68 L335.75 689.61 L336.25 689.54 L336.72 689.5 L337 689.48 L337.5 689.46 L338 689.45 L338.5 689.46 L339 689.5 L339.25 689.52 L339.75 689.6 L340.25 689.69 L340.51 689.75 L341 689.89 L341.3 690 L341.75 690.2 L342 690.32 L342.41 690.5 L342.75 690.63 L343.11 690.75 L343.5 690.87 L343.89 691 L344.25 691.13 L344.53 691.25 L345 691.46 L345.25 691.58 L345.57 691.75 L346 692 L346.25 692.16 L346.5 692.33 L346.75 692.51 L347.04 692.75 L347.28 693 L347.5 693.28 L347.75 693.68 L347.91 694 L348.03 694.25 L348.25 694.71 L348.4 695 L348.51 695.25 L348.71 695.75 L348.78 696 L348.87 696.5 L348.98 697 L349.07 697.25 L349.25 697.57 L349.5 697.87 L349.75 698.13 L350 698.41 L350.2 698.75 L350.28 699 L350.31 699.5 L350.25 699.76 L350.02 700.25 L349.84 700.5 L349.65 700.75 L349.45 701 L349.25 701.25 L349 701.55 L348.75 701.84 L348.5 702.11 L348.25 702.38 L348 702.66 L347.75 702.97 L347.52 703.25 L347.32 703.5 L347.11 703.75 L346.85 704 L346.52 704.25 L346.25 704.41 L346 704.52 L345.5 704.69 L345.25 704.76 L344.75 704.88 L344.25 705 L344 705.08 L343.5 705.25 L343.25 705.33 L342.75 705.46 L342.5 705.51ZM342.75 704.32 L342.25 704.43 L341.75 704.43 L341.25 704.33 L340.96 704.25 L340.5 704.13 L340 704.05 L339.5 704.05 L339 704.08 L338.5 704.09 L338 704.05 L337.72 704 L337.25 703.9 L336.75 703.8 L336.41 703.75 L336 703.73 L335.5 703.73 L335 703.75 L334.75 703.75 L334.5 703.75 L334 703.7 L333.5 703.57 L333.25 703.47 L332.75 703.29 L332.5 703.23 L332 703.17 L331.5 703.19 L331.02 703.25 L330.75 703.28 L330.25 703.29 L329.75 703.26 L329.5 703.22 L329 703.15 L328.5 703.06 L328.11 703 L327.75 702.95 L327.25 702.9 L326.75 702.85 L326.25 702.77 L326 702.71 L325.5 702.56 L325.25 702.48 L324.75 702.35 L324.4 702.25 L324 702.15 L323.5 702.02 L323.25 701.96 L322.75 701.85 L322.31 701.75 L322 701.67 L321.55 701.5 L321.25 701.37 L320.99 701.25 L320.5 701.01 L320.25 700.88 L320 700.74 L319.6 700.5 L319.25 700.28 L319 700.14 L318.72 700 L318.25 699.76 L318 699.62 L317.75 699.46 L317.45 699.25 L317.16 699 L316.89 698.75 L316.59 698.5 L316.25 698.26 L316 698.12 L315.75 697.99 L315.25 697.78 L315 697.71 L314.5 697.63 L314 697.59 L313.5 697.55 L313.11 697.5 L312.75 697.42 L312.26 697.25 L312 697.11 L311.75 696.95 L311.47 696.75 L311.11 696.5 L310.75 696.3 L310.5 696.19 L310.1 696 L309.82 695.75 L309.72 695.5 L309.68 695 L309.72 694.5 L309.76 694.25 L309.87 693.75 L310 693.46 L310.25 693.15 L310.5 692.96 L310.98 692.75 L311.25 692.69 L311.75 692.62 L312.25 692.53 L312.5 692.47 L313 692.3 L313.25 692.21 L313.75 692.05 L314 691.97 L314.5 691.86 L315 691.8 L315.5 691.77 L315.88 691.75 L316.25 691.71 L316.75 691.63 L317.25 691.52 L317.5 691.46 L318 691.34 L318.5 691.27 L318.75 691.25 L319.25 691.25 L319.5 691.27 L320 691.32 L320.5 691.36 L321 691.35 L321.49 691.25 L321.75 691.17 L322.25 691.01 L322.5 690.94 L323 690.81 L323.26 690.75 L323.75 690.63 L324.25 690.55 L324.75 690.52 L325.25 690.53 L325.75 690.53 L326.13 690.5 L326.5 690.46 L327 690.4 L327.5 690.4 L328 690.47 L328.25 690.55 L328.72 690.75 L329 690.89 L329.25 691.01 L329.75 691.08 L330.06 691 L330.5 690.84 L330.76 690.75 L331.25 690.64 L331.75 690.62 L332.25 690.69 L332.5 690.75 L333 690.89 L333.47 691 L333.75 691.02 L334.05 691 L334.5 690.91 L335 690.78 L335.25 690.72 L335.75 690.62 L336.25 690.55 L336.68 690.5 L337 690.47 L337.5 690.44 L338 690.42 L338.5 690.44 L339 690.49 L339.25 690.53 L339.75 690.66 L340.03 690.75 L340.5 690.95 L340.75 691.08 L341.04 691.25 L341.44 691.5 L341.75 691.7 L342 691.86 L342.25 692.01 L342.72 692.25 L343 692.37 L343.36 692.5 L343.75 692.63 L344.06 692.75 L344.5 692.97 L344.75 693.15 L345 693.38 L345.25 693.66 L345.5 694 L345.67 694.25 L345.84 694.5 L346 694.78 L346.24 695.25 L346.35 695.5 L346.5 695.92 L346.63 696.25 L346.75 696.54 L346.99 697 L347.15 697.25 L347.31 697.5 L347.5 697.82 L347.73 698.25 L347.85 698.5 L347.97 699 L347.94 699.5 L347.79 700 L347.69 700.25 L347.5 700.65 L347.32 701 L347.17 701.25 L347 701.5 L346.75 701.85 L346.5 702.18 L346.25 702.5 L346.04 702.75 L345.79 703 L345.5 703.23 L345.25 703.38 L345 703.5 L344.5 703.67 L344.22 703.75 L343.75 703.91 L343.5 704.01 L343 704.23 L342.75 704.32ZM342.5 703.29 L342 703.45 L341.5 703.44 L341 703.32 L340.7 703.25 L340.25 703.17 L339.75 703.18 L339.25 703.22 L338.75 703.23 L338.25 703.17 L337.75 703.05 L337.5 702.98 L337 702.88 L336.5 702.81 L336 702.77 L335.75 702.74 L335.25 702.7 L334.75 702.64 L334.25 702.56 L333.96 702.5 L333.5 702.39 L333 702.26 L332.75 702.2 L332.25 702.1 L331.75 702.06 L331.25 702.06 L330.75 702.07 L330.25 702.06 L329.75 702.03 L329.25 702.01 L328.93 702 L328.5 701.98 L328 701.9 L327.51 701.75 L327.25 701.64 L326.94 701.5 L326.5 701.36 L326 701.31 L325.5 701.32 L325 701.3 L324.72 701.25 L324.25 701.13 L323.88 701 L323.5 700.88 L323 700.76 L322.75 700.71 L322.25 700.61 L321.91 700.5 L321.5 700.32 L321.25 700.18 L321 700 L320.71 699.75 L320.47 699.5 L320.25 699.25 L320 698.99 L319.68 698.75 L319.25 698.5 L319 698.35 L318.75 698.14 L318.5 697.84 L318.28 697.5 L318.13 697.25 L317.98 697 L317.75 696.71 L317.33 696.5 L317 696.43 L316.5 696.32 L316.25 696.25 L315.75 696.07 L315.5 695.99 L315 695.88 L314.5 695.84 L314 695.81 L313.71 695.75 L313.44 695.5 L313.48 695 L313.59 694.75 L313.75 694.47 L314 694.09 L314.25 693.79 L314.5 693.56 L314.75 693.41 L315.17 693.25 L315.5 693.19 L316 693.19 L316.5 693.2 L317 693.16 L317.5 693.03 L317.75 692.95 L318.25 692.8 L318.5 692.72 L319 692.59 L319.43 692.5 L319.75 692.46 L320.25 692.44 L320.75 692.44 L321.25 692.41 L321.75 692.31 L322 692.24 L322.5 692.06 L322.75 691.97 L323.25 691.8 L323.5 691.72 L324 691.55 L324.25 691.47 L324.75 691.37 L325.25 691.32 L325.75 691.29 L326.25 691.27 L326.75 691.26 L327.25 691.31 L327.75 691.49 L328 691.65 L328.25 691.86 L328.5 692.1 L328.75 692.31 L329.14 692.5 L329.5 692.55 L329.8 692.5 L330.25 692.3 L330.5 692.14 L330.75 691.98 L331.2 691.75 L331.5 691.66 L332 691.64 L332.5 691.75 L332.75 691.83 L333.15 692 L333.5 692.16 L334 692.24 L334.5 692.05 L334.75 691.91 L335.06 691.75 L335.5 691.59 L335.9 691.5 L336.25 691.45 L336.75 691.4 L337.25 691.37 L337.75 691.37 L338.25 691.43 L338.54 691.5 L339 691.65 L339.25 691.75 L339.75 691.97 L340 692.08 L340.41 692.25 L340.75 692.41 L341 692.55 L341.3 692.75 L341.6 693 L341.84 693.25 L342.02 693.5 L342.25 693.88 L342.5 694.2 L342.75 694.32 L343.25 694.37 L343.75 694.47 L344 694.61 L344.25 694.81 L344.5 695.1 L344.75 695.48 L344.9 695.75 L345.02 696 L345.25 696.48 L345.4 696.75 L345.55 697 L345.75 697.29 L346 697.61 L346.25 697.94 L346.45 698.25 L346.58 698.5 L346.73 699 L346.75 699.25 L346.73 699.5 L346.55 700 L346.38 700.25 L346.16 700.5 L345.89 700.75 L345.61 701 L345.36 701.25 L345.14 701.5 L344.95 701.75 L344.73 702 L344.44 702.25 L344 702.5 L343.75 702.6 L343.42 702.75 L343 702.99 L342.75 703.14 L342.5 703.29ZM339.5 702.03 L339 702.18 L338.5 702.21 L338 702.15 L337.5 702.06 L337.07 702 L336.75 701.97 L336.25 701.94 L335.75 701.9 L335.25 701.84 L334.75 701.77 L334.5 701.73 L334 701.64 L333.5 701.52 L333.25 701.45 L332.75 701.32 L332.32 701.25 L332 701.21 L331.5 701.18 L331 701.16 L330.5 701.13 L330 701.11 L329.5 701.1 L329 701.09 L328.5 701.03 L328.25 700.97 L327.75 700.8 L327.5 700.7 L327.03 700.5 L326.75 700.41 L326.25 700.3 L325.75 700.25 L325.5 700.23 L325 700.17 L324.5 700.03 L324.25 699.96 L323.75 699.81 L323.48 699.75 L323 699.67 L322.5 699.6 L322.14 699.5 L321.75 699.31 L321.5 699.11 L321.25 698.82 L321.03 698.5 L320.87 698.25 L320.7 698 L320.47 697.75 L320.15 697.5 L319.82 697.25 L319.57 697 L319.42 696.75 L319.26 696.25 L319.23 696 L319.24 695.5 L319.28 695.25 L319.49 694.75 L319.65 694.5 L319.84 694.25 L320.05 694 L320.34 693.75 L320.75 693.53 L321 693.45 L321.5 693.33 L321.86 693.25 L322.25 693.15 L322.75 693.02 L323 692.95 L323.5 692.79 L323.75 692.7 L324.2 692.5 L324.5 692.36 L324.78 692.25 L325.25 692.12 L325.75 692.06 L326.25 692.07 L326.75 692.17 L327 692.27 L327.4 692.5 L327.75 692.74 L328 692.9 L328.25 693.03 L328.75 693.22 L329 693.27 L329.5 693.32 L330 693.26 L330.25 693.2 L330.74 693 L331 692.88 L331.31 692.75 L331.75 692.65 L332.25 692.73 L332.5 692.85 L332.75 693.04 L333 693.26 L333.3 693.5 L333.75 693.73 L334 693.79 L334.5 693.76 L334.75 693.64 L335 693.43 L335.25 693.11 L335.5 692.82 L335.75 692.62 L336 692.49 L336.5 692.35 L337 692.29 L337.5 692.27 L338 692.33 L338.5 692.5 L338.75 692.62 L339 692.76 L339.44 693 L339.75 693.17 L340 693.32 L340.25 693.5 L340.52 693.75 L340.75 694.07 L340.98 694.5 L341.09 694.75 L341.25 695.08 L341.5 695.44 L341.75 695.66 L342 695.78 L342.5 695.88 L343 695.93 L343.28 696 L343.75 696.25 L343.99 696.5 L344.17 696.75 L344.32 697 L344.5 697.34 L344.75 697.74 L344.95 698 L345.17 698.25 L345.37 698.5 L345.51 698.75 L345.58 699.25 L345.5 699.52 L345.25 699.85 L345 700.08 L344.75 700.28 L344.5 700.5 L344.23 700.75 L343.96 701 L343.64 701.25 L343.25 701.47 L343 701.58 L342.58 701.75 L342.25 701.87 L341.75 701.97 L341.25 701.93 L340.75 701.83 L340.25 701.81 L339.75 701.93 L339.5 702.03ZM339 701.01 L338.5 701.01 L338.25 700.99 L337.75 700.88 L337.25 700.77 L336.75 700.77 L336.25 700.81 L335.75 700.83 L335.25 700.8 L334.96 700.75 L334.5 700.57 L334.25 700.36 L334.09 700 L334.06 699.5 L334 699.12 L333.87 698.75 L333.71 698.5 L333.47 698.25 L333 698.06 L332.51 698.25 L332.33 698.5 L332.25 698.77 L332.25 699.23 L332.28 699.5 L332.25 699.86 L332 700.18 L331.75 700.3 L331.25 700.38 L330.75 700.4 L330.25 700.39 L329.75 700.38 L329.25 700.35 L328.75 700.28 L328.5 700.22 L328 700.04 L327.75 699.93 L327.39 699.75 L327 699.55 L326.75 699.43 L326.25 699.25 L326 699.19 L325.5 699.12 L325 699.08 L324.5 699.02 L324.25 698.98 L323.75 698.88 L323.25 698.76 L323 698.69 L322.55 698.5 L322.25 698.28 L322 698 L321.84 697.75 L321.69 697.5 L321.5 697.15 L321.27 696.75 L321.12 696.5 L320.97 696.25 L320.75 695.78 L320.69 695.5 L320.75 695.14 L320.95 694.75 L321.19 694.5 L321.5 694.29 L321.75 694.17 L322.2 694 L322.5 693.91 L323 693.77 L323.25 693.7 L323.75 693.51 L324 693.4 L324.3 693.25 L324.75 693.04 L325 692.95 L325.5 692.84 L326 692.89 L326.32 693 L326.75 693.24 L327 693.38 L327.25 693.51 L327.75 693.66 L328.19 693.75 L328.5 693.8 L329 693.89 L329.5 693.95 L330 693.98 L330.5 693.93 L331 693.83 L331.4 693.75 L331.75 693.73 L332 693.77 L332.5 693.96 L332.75 694.08 L333.16 694.25 L333.5 694.35 L334 694.44 L334.5 694.45 L335 694.37 L335.34 694.25 L335.75 694.03 L336 693.89 L336.25 693.75 L336.75 693.57 L337.25 693.5 L337.75 693.56 L338.25 693.69 L338.5 693.76 L339 693.93 L339.25 694.03 L339.64 694.25 L339.94 694.5 L340.15 694.75 L340.31 695 L340.5 695.35 L340.71 695.75 L340.87 696 L341.09 696.25 L341.43 696.5 L341.75 696.64 L342.2 696.75 L342.5 696.82 L342.96 697 L343.25 697.25 L343.4 697.5 L343.51 697.75 L343.63 698.25 L343.68 698.75 L343.61 699.25 L343.5 699.53 L343.25 699.96 L343 700.25 L342.75 700.47 L342.5 700.64 L342.25 700.75 L341.75 700.9 L341.25 700.95 L340.75 700.95 L340.25 700.95 L339.75 700.96 L339.25 700.99 L339 701.01ZM341.5 700.29 L341 700.38 L340.5 700.41 L340 700.4 L339.5 700.36 L339.03 700.25 L338.75 700.12 L338.5 699.94 L338.25 699.66 L338 699.26 L337.84 699 L337.66 698.75 L337.35 698.5 L337 698.39 L336.54 698.5 L336.25 698.68 L336 698.82 L335.5 698.87 L335.25 698.75 L334.94 698.5 L334.68 698.25 L334.44 698 L334.2 697.75 L333.95 697.5 L333.67 697.25 L333.35 697 L333 696.76 L332.75 696.62 L332.25 696.59 L332 696.82 L331.75 697.08 L331.5 697.29 L331 697.49 L330.5 697.35 L330.25 697.21 L329.75 697.2 L329.54 697.5 L329.69 698 L329.92 698.25 L330.19 698.5 L330.37 698.75 L330.25 699.13 L330 699.27 L329.5 699.34 L329 699.3 L328.75 699.24 L328.27 699 L328 698.78 L327.75 698.53 L327.5 698.31 L327.25 698.18 L326.75 698.09 L326.25 698.1 L325.75 698.1 L325.25 698.09 L324.75 698.05 L324.46 698 L324 697.87 L323.7 697.75 L323.31 697.5 L323.05 697.25 L322.85 697 L322.7 696.75 L322.5 696.33 L322.39 696 L322.31 695.5 L322.5 695.03 L322.75 694.82 L323 694.68 L323.41 694.5 L323.75 694.36 L324 694.25 L324.5 694 L324.75 693.89 L325.16 693.75 L325.5 693.73 L325.75 693.78 L326.19 694 L326.5 694.19 L326.75 694.29 L327.25 694.38 L327.75 694.39 L328.25 694.41 L328.73 694.5 L329 694.59 L329.33 694.75 L329.7 695 L330 695.23 L330.25 695.35 L330.75 695.42 L331.24 695.5 L331.5 695.6 L331.9 695.75 L332.25 695.78 L332.5 695.61 L332.75 695.41 L333.02 695.25 L333.5 695.14 L334 695.12 L334.5 695.14 L335 695.19 L335.25 695.26 L335.68 695.5 L335.95 695.75 L336.25 695.97 L336.5 696.05 L336.79 696 L337.25 695.77 L337.5 695.62 L337.75 695.47 L338.17 695.25 L338.5 695.14 L339 695.15 L339.25 695.26 L339.52 695.5 L339.75 695.79 L340 696.18 L340.22 696.5 L340.42 696.75 L340.71 697 L341 697.18 L341.25 697.29 L341.75 697.48 L342 697.59 L342.27 697.75 L342.5 698 L342.68 698.5 L342.65 699 L342.5 699.45 L342.31 699.75 L342.06 700 L341.75 700.19 L341.5 700.29ZM327.75 696.53 L327.25 696.52 L327 696.47 L326.67 696.25 L326.7 695.75 L326.9 695.5 L327.25 695.27 L327.5 695.18 L328 695.13 L328.39 695.25 L328.6 695.5 L328.57 696 L328.38 696.25 L328 696.47 L327.75 696.53ZM341.25 699.76 L340.75 699.89 L340.25 699.91 L339.75 699.86 L339.41 699.75 L339.05 699.5 L338.86 699.25 L338.74 699 L338.56 698.5 L338.45 698.25 L338.25 697.95 L338 697.66 L337.75 697.36 L337.61 697 L337.75 696.63 L338 696.4 L338.46 696.25 L338.52 696.25 L339 696.46 L339.25 696.71 L339.49 697 L339.71 697.25 L340 697.48 L340.25 697.62 L340.53 697.75 L341 697.94 L341.25 698.05 L341.58 698.25 L341.8 698.5 L341.88 699 L341.75 699.33 L341.5 699.61 L341.25 699.76Z" fill="none" stroke="#111" stroke-width="0.75" stroke-linejoin="round"/>
<path d="M288.6 690.8 h2.4 v10 h-2.4z" fill="#111"/>
<path d="M297.6 695.2h0.6m3.2 -8.4h0.6m0.6 2.2h0.6m-0.6 2.6h0.6m1.4 -3.4h0.6m-0.4 6h0.6m-0.6 10.6h0.6m-0.2 -9.2h0.6m1.2 14h0.6m-0.4 -21.2h0.6m-0.4 15.8h0.6m0.8 2.6h0.6m0.2 -13.8h0.6m-0.6 16.4h0.6m-0 2.4h0.6m0 -23.2h0.6m0.2 -1.4h0.6m-0 1.4h0.6m-0.2 -0.8h0.6m-0.6 15.8h0.6m5.6 0.8h0.6m6.2 -16.6h0.6m3.2 -3h0.6m-0.4 14.2h0.6m2.8 -11.8h0.6m2.8 23h0.6m3.8 -9.2h0.6m9.8 1.2h0.6m-0.4 -8.6h0.6m-0.4 -4.2h0.6m0.6 9.8h0.6m1 -7h0.6m0.2 5h0.6m0.6 -7.2h0.6m1.8 10.4h0.6m2.4 -10h0.6m3 -5h0.6m1 4.4h0.6m1.2 5.6h0.6m1.2 -6.8h0.6" stroke="#555" stroke-width="0.6" fill="none"/>
<text x="284.07" y="679.5" font-size="11.28" font-family='"Liberation Serif", serif' textLength="40.77" lengthAdjust="spacingAndGlyphs" fill="#a82432" stroke="#a82432" stroke-width="0.15">0.014%</text>
<text x="330.96" y="686.8" font-size="13.08" font-family='"Liberation Serif", serif' textLength="41.38" lengthAdjust="spacingAndGlyphs" fill="#a82432" stroke="#a82432" stroke-width="0.15">0.038%</text>
<line x1="274.5" y1="732.8" x2="274.5" y2="753.7" stroke="#222" stroke-width="1.3"/>
<line x1="274.5" y1="753.7" x2="312.3" y2="753.7" stroke="#222" stroke-width="1.3"/>
<path d="M272.2 733.4 L274.5 728.8 L276.8 733.4Z" fill="#222" stroke="none" stroke-width="0"/>
<path d="M311.7 751.4 L316.3 753.7 L311.7 756Z" fill="#222" stroke="none" stroke-width="0"/>
<text x="277.8" y="720.3" font-size="15.11" font-family='"Liberation Serif", serif' textLength="33.3" lengthAdjust="spacing" fill="#111" transform="rotate(-90 277.8 720.3)">c-Kit</text>
<text x="328.09" y="756.9" font-size="13.24" font-family='"Liberation Serif", serif' textLength="24.94" lengthAdjust="spacingAndGlyphs" fill="#111">Flk2</text>
<rect x="422.5" y="671.2" width="93.3" height="75.6" fill="none" stroke="#555" stroke-width="0.9"/>
<rect x="422.5" y="671.2" width="31.3" height="65.1" fill="none" stroke="#555" stroke-width="0.9"/>
<rect x="453.8" y="677.5" width="51.2" height="55" fill="none" stroke="#555" stroke-width="0.9"/>
<path d="M462.5 706.03 L462 706.08 L461.5 706.08 L461 706.07 L460.5 706.1 L460 706.14 L459.5 706.13 L459 706.03 L458.75 705.96 L458.25 705.81 L457.96 705.75 L457.5 705.68 L457 705.61 L456.57 705.5 L456.25 705.37 L456 705.23 L455.6 705 L455.25 704.85 L454.86 704.75 L454.5 704.73 L454.23 704.75 L453.75 704.85 L453.25 704.98 L453 705.04 L452.5 705.12 L452 705.17 L451.5 705.21 L451.11 705.25 L450.75 705.31 L450.25 705.38 L449.75 705.43 L449.25 705.43 L448.75 705.35 L448.36 705.25 L448 705.15 L447.5 705.03 L447.25 704.99 L446.75 704.99 L446.5 705 L446 705.02 L445.52 705 L445.25 704.97 L444.75 704.91 L444.25 704.84 L443.75 704.79 L443.25 704.77 L442.94 704.75 L442.5 704.7 L442 704.58 L441.75 704.49 L441.25 704.28 L441 704.18 L440.5 704.01 L440.25 703.94 L439.75 703.83 L439.39 703.75 L439 703.67 L438.5 703.58 L438.13 703.5 L437.75 703.42 L437.25 703.26 L437 703.17 L436.59 703 L436.25 702.87 L435.98 702.75 L435.5 702.55 L435.25 702.44 L434.81 702.25 L434.5 702.13 L434.12 702 L433.75 701.89 L433.33 701.75 L433 701.63 L432.69 701.5 L432.25 701.33 L432 701.23 L431.5 701.06 L431.25 700.97 L430.76 700.75 L430.5 700.62 L430.25 700.47 L429.93 700.25 L429.62 700 L429.35 699.75 L429.13 699.5 L428.95 699.25 L428.75 698.76 L428.73 698.5 L428.77 698.25 L428.97 697.75 L429.11 697.5 L429.26 697.25 L429.5 696.89 L429.75 696.56 L430 696.28 L430.25 696.07 L430.5 695.91 L430.83 695.75 L431.25 695.58 L431.5 695.49 L432 695.33 L432.31 695.25 L432.75 695.15 L433.25 695.06 L433.54 695 L434 694.82 L434.25 694.67 L434.5 694.5 L434.83 694.25 L435.2 694 L435.5 693.82 L435.75 693.68 L436.07 693.5 L436.5 693.26 L436.75 693.11 L437 692.98 L437.5 692.77 L437.75 692.67 L438.2 692.5 L438.5 692.33 L438.75 692.16 L439 691.96 L439.29 691.75 L439.75 691.5 L440 691.39 L440.36 691.25 L440.75 691.11 L441.07 691 L441.5 690.84 L441.77 690.75 L442.25 690.58 L442.51 690.5 L443 690.35 L443.41 690.25 L443.75 690.18 L444.25 690.11 L444.75 690.1 L445.25 690.14 L445.75 690.17 L446.25 690.14 L446.75 690.07 L447.25 690.01 L447.75 690.03 L448.25 690.13 L448.75 690.23 L449.25 690.23 L449.75 690.15 L450.25 690.04 L450.5 689.98 L451 689.88 L451.5 689.79 L451.75 689.74 L452.25 689.61 L452.73 689.5 L453 689.46 L453.5 689.45 L453.75 689.5 L454.25 689.69 L454.5 689.82 L454.81 690 L455.25 690.2 L455.5 690.28 L456 690.35 L456.5 690.3 L456.75 690.2 L457.12 690 L457.5 689.76 L457.75 689.61 L458 689.5 L458.5 689.32 L458.77 689.25 L459.25 689.13 L459.75 689.06 L460.25 689.03 L460.75 689.05 L461.25 689.11 L461.75 689.2 L462 689.26 L462.5 689.45 L462.75 689.56 L463.19 689.75 L463.5 689.86 L464 689.99 L464.25 690.02 L464.75 690.04 L465.25 690.03 L465.75 690.03 L466.25 690.11 L466.58 690.25 L467 690.5 L467.25 690.65 L467.5 690.79 L467.9 691 L468.25 691.18 L468.5 691.32 L468.78 691.5 L469.16 691.75 L469.5 691.99 L469.75 692.18 L470 692.39 L470.25 692.63 L470.5 692.88 L470.75 693.13 L471 693.38 L471.25 693.63 L471.5 693.89 L471.75 694.2 L471.94 694.5 L472.06 694.75 L472.19 695.25 L472.23 695.75 L472.25 696.21 L472.28 696.5 L472.37 697 L472.49 697.5 L472.56 697.75 L472.68 698.25 L472.71 698.75 L472.62 699.25 L472.5 699.61 L472.37 700 L472.25 700.42 L472.18 700.75 L472.05 701.25 L471.92 701.5 L471.72 701.75 L471.39 702 L471 702.21 L470.75 702.34 L470.45 702.5 L470.08 702.75 L469.76 703 L469.5 703.21 L469.25 703.41 L469 703.59 L468.75 703.78 L468.47 704 L468.16 704.25 L467.86 704.5 L467.52 704.75 L467.25 704.92 L467 705.05 L466.5 705.23 L466.25 705.3 L465.75 705.41 L465.33 705.5 L465 705.58 L464.5 705.69 L464.14 705.75 L463.75 705.81 L463.25 705.9 L462.75 705.99 L462.5 706.03ZM450.75 704.03 L450.25 704.11 L449.75 704.12 L449.25 704.05 L449 703.99 L448.5 703.83 L448.25 703.72 L447.76 703.5 L447.5 703.37 L447.25 703.23 L446.75 703.03 L446.5 702.97 L446 702.97 L445.75 703 L445.25 703.1 L444.75 703.16 L444.25 703.16 L443.75 703.12 L443.25 703.11 L442.75 703.12 L442.25 703.09 L441.87 703 L441.5 702.87 L441.19 702.75 L440.75 702.6 L440.43 702.5 L440 702.4 L439.5 702.31 L439.04 702.25 L438.75 702.23 L438.25 702.19 L437.75 702.13 L437.25 702.05 L437 702 L436.5 701.88 L436.12 701.75 L435.75 701.59 L435.5 701.45 L435.22 701.25 L434.91 701 L434.63 700.75 L434.32 700.5 L434 700.3 L433.75 700.19 L433.25 700.02 L433 699.93 L432.57 699.75 L432.25 699.58 L432 699.43 L431.75 699.25 L431.47 699 L431.25 698.71 L431.1 698.25 L431.2 697.75 L431.34 697.5 L431.53 697.25 L431.8 697 L432.19 696.75 L432.5 696.61 L432.86 696.5 L433.25 696.41 L433.75 696.34 L434.25 696.27 L434.5 696.24 L435 696.1 L435.25 695.96 L435.51 695.75 L435.78 695.5 L436.06 695.25 L436.41 695 L436.75 694.81 L437 694.7 L437.5 694.5 L437.75 694.41 L438.22 694.25 L438.5 694.15 L438.93 694 L439.25 693.85 L439.5 693.72 L439.81 693.5 L440.11 693.25 L440.38 693 L440.68 692.75 L441 692.53 L441.25 692.41 L441.75 692.26 L442 692.21 L442.5 692.15 L443 692.09 L443.42 692 L443.75 691.9 L444.21 691.75 L444.5 691.67 L445 691.58 L445.5 691.57 L446 691.6 L446.5 691.65 L447 691.7 L447.49 691.75 L447.75 691.77 L448.25 691.82 L448.75 691.86 L449.25 691.86 L449.75 691.76 L450 691.68 L450.5 691.5 L450.75 691.44 L451.25 691.33 L451.75 691.27 L452 691.25 L452.5 691.24 L452.75 691.26 L453.25 691.33 L453.75 691.4 L454.25 691.42 L454.75 691.39 L455.25 691.38 L455.75 691.39 L456.25 691.4 L456.75 691.37 L457.22 691.25 L457.5 691.14 L457.84 691 L458.25 690.83 L458.5 690.75 L459 690.62 L459.5 690.54 L460 690.53 L460.5 690.59 L460.98 690.75 L461.25 690.87 L461.51 691 L462 691.2 L462.25 691.28 L462.75 691.37 L463.25 691.44 L463.7 691.5 L464 691.53 L464.5 691.57 L465 691.63 L465.5 691.75 L465.75 691.83 L466.17 692 L466.5 692.15 L466.75 692.29 L467.09 692.5 L467.42 692.75 L467.71 693 L467.99 693.25 L468.25 693.46 L468.5 693.64 L468.75 693.81 L469.04 694 L469.4 694.25 L469.7 694.5 L469.96 694.75 L470.17 695 L470.32 695.25 L470.5 695.71 L470.56 696 L470.62 696.5 L470.63 697 L470.59 697.5 L470.51 698 L470.45 698.25 L470.35 698.75 L470.25 699.24 L470.19 699.5 L470 699.98 L469.82 700.25 L469.57 700.5 L469.26 700.75 L469 700.97 L468.75 701.22 L468.5 701.49 L468.25 701.73 L468 701.92 L467.75 702.06 L467.35 702.25 L467 702.42 L466.75 702.57 L466.5 702.76 L466.24 703 L465.98 703.25 L465.61 703.5 L465.25 703.65 L464.75 703.74 L464.5 703.77 L464 703.81 L463.5 703.86 L463 703.92 L462.5 703.95 L462 703.87 L461.69 703.75 L461.25 703.54 L461 703.5 L460.75 703.55 L460.27 703.75 L460 703.85 L459.5 703.95 L459 703.98 L458.5 703.98 L458 703.96 L457.5 703.88 L457 703.76 L456.75 703.69 L456.25 703.58 L455.75 703.5 L455.5 703.48 L455 703.46 L454.5 703.46 L454 703.48 L453.72 703.5 L453.25 703.55 L452.75 703.62 L452.25 703.7 L451.99 703.75 L451.5 703.86 L451 703.98 L450.75 704.03ZM450.25 703.01 L449.85 703 L449.5 702.95 L449 702.84 L448.71 702.75 L448.25 702.58 L448 702.48 L447.5 702.27 L447.25 702.18 L446.75 702.04 L446.5 702 L446 701.95 L445.5 701.95 L445 701.96 L444.5 701.94 L444 701.89 L443.5 701.82 L443.06 701.75 L442.75 701.7 L442.25 701.6 L441.77 701.5 L441.5 701.46 L441 701.42 L440.5 701.41 L440 701.4 L439.5 701.38 L439 701.36 L438.5 701.34 L438 701.31 L437.5 701.27 L437.25 701.23 L436.75 701.14 L436.32 701 L436 700.83 L435.75 700.62 L435.5 700.33 L435.3 700 L435.18 699.75 L435 699.32 L434.83 699 L434.64 698.75 L434.3 698.5 L434 698.32 L433.75 698.02 L433.75 697.98 L434.25 697.77 L434.75 697.88 L435.25 697.78 L435.5 697.6 L435.75 697.32 L435.95 697 L436.1 696.75 L436.27 696.5 L436.5 696.19 L436.75 695.94 L437 695.75 L437.45 695.5 L437.75 695.37 L438.07 695.25 L438.5 695.11 L438.86 695 L439.25 694.88 L439.59 694.75 L440 694.55 L440.25 694.4 L440.5 694.23 L440.83 694 L441.21 693.75 L441.5 693.59 L441.75 693.47 L442.25 693.32 L442.61 693.25 L443 693.19 L443.5 693.11 L444 693.03 L444.25 692.98 L444.75 692.89 L445.25 692.84 L445.75 692.85 L446.25 692.91 L446.75 692.97 L447.25 693 L447.5 693.02 L448 693.1 L448.39 693.25 L448.75 693.42 L449 693.52 L449.5 693.58 L449.86 693.5 L450.25 693.35 L450.5 693.24 L451 693.01 L451.25 692.9 L451.65 692.75 L452 692.62 L452.5 692.51 L452.75 692.46 L453.25 692.42 L453.75 692.39 L454.25 692.34 L454.75 692.29 L455.25 692.26 L455.75 692.26 L456.25 692.3 L456.75 692.29 L457.01 692.25 L457.5 692.12 L457.87 692 L458.25 691.89 L458.75 691.81 L459.25 691.78 L459.75 691.81 L460.25 691.93 L460.5 692.03 L461 692.24 L461.25 692.32 L461.75 692.42 L462.25 692.47 L462.5 692.51 L463 692.59 L463.5 692.69 L463.9 692.75 L464.25 692.78 L464.75 692.83 L465.25 692.94 L465.5 693.04 L465.82 693.25 L466.04 693.5 L466.25 693.91 L466.38 694.25 L466.5 694.52 L466.75 694.84 L467 695.04 L467.35 695.25 L467.75 695.44 L468 695.56 L468.4 695.75 L468.75 696 L468.95 696.25 L469.04 696.5 L469.05 697 L469 697.29 L468.87 697.75 L468.75 698.06 L468.54 698.5 L468.38 698.75 L468.18 699 L467.94 699.25 L467.67 699.5 L467.41 699.75 L467.21 700 L467 700.38 L466.81 700.75 L466.62 701 L466.34 701.25 L466 701.49 L465.75 701.65 L465.5 701.81 L465.19 702 L464.75 702.22 L464.5 702.3 L464 702.37 L463.5 702.4 L463 702.38 L462.53 702.25 L462.25 702.13 L462 702 L461.5 701.86 L461 701.94 L460.75 702.05 L460.38 702.25 L460 702.49 L459.75 702.64 L459.5 702.75 L459 702.91 L458.5 702.95 L458 702.89 L457.5 702.75 L457.25 702.67 L456.77 702.5 L456.5 702.44 L456 702.42 L455.53 702.5 L455.25 702.55 L454.75 702.63 L454.25 702.67 L453.75 702.66 L453.25 702.6 L452.84 702.5 L452.5 702.42 L452 702.4 L451.71 702.5 L451.25 702.73 L451 702.85 L450.5 702.99 L450.25 703.01ZM459.5 701.77 L459 701.93 L458.5 701.95 L458 701.84 L457.75 701.74 L457.32 701.5 L457 701.29 L456.75 701.15 L456.25 701.09 L455.83 701.25 L455.5 701.43 L455.25 701.57 L454.84 701.75 L454.5 701.85 L454 701.9 L453.5 701.81 L453.25 701.72 L452.81 701.5 L452.5 701.33 L452.25 701.22 L451.75 701.18 L451.5 701.28 L451.14 701.5 L450.75 701.75 L450.5 701.86 L450 701.95 L449.5 701.88 L449.03 701.75 L448.75 701.66 L448.27 701.5 L448 701.41 L447.53 701.25 L447.25 701.14 L446.92 701 L446.53 700.75 L446.25 700.51 L446 700.27 L445.75 700.05 L445.5 699.87 L445.25 699.7 L444.97 699.5 L444.63 699.25 L444.3 699 L444 698.86 L443.5 698.88 L443.25 699.15 L443.25 699.43 L443.38 699.75 L443.49 700.25 L443 700.47 L442.5 700.4 L442 700.32 L441.5 700.31 L441 700.39 L440.5 700.49 L440.25 700.52 L439.75 700.55 L439.25 700.52 L439 700.5 L438.5 700.44 L438 700.38 L437.5 700.32 L437.17 700.25 L436.75 700.05 L436.5 699.77 L436.4 699.5 L436.39 699 L436.5 698.53 L436.6 698.25 L436.75 697.86 L436.9 697.5 L437.02 697.25 L437.25 696.88 L437.5 696.62 L437.75 696.44 L438.15 696.25 L438.5 696.14 L439 696.04 L439.37 696 L439.75 695.95 L440.25 695.81 L440.5 695.67 L440.75 695.49 L441.02 695.25 L441.29 695 L441.59 694.75 L441.95 694.5 L442.25 694.33 L442.5 694.23 L443 694.09 L443.5 694.01 L443.75 693.99 L444.25 693.97 L444.75 693.98 L445 694.02 L445.5 694.18 L445.75 694.33 L446 694.52 L446.31 694.75 L446.75 694.94 L447.25 694.94 L447.75 694.82 L448.09 694.75 L448.5 694.7 L449 694.69 L449.5 694.64 L449.89 694.5 L450.25 694.3 L450.5 694.14 L450.75 693.99 L451.2 693.75 L451.5 693.62 L451.85 693.5 L452.25 693.38 L452.75 693.28 L453 693.24 L453.5 693.18 L454 693.15 L454.5 693.16 L455 693.23 L455.25 693.31 L455.64 693.5 L456 693.68 L456.5 693.74 L457 693.53 L457.25 693.37 L457.5 693.21 L457.9 693 L458.25 692.87 L458.75 692.78 L459.25 692.81 L459.75 692.94 L460 693.03 L460.48 693.25 L460.75 693.36 L461.23 693.5 L461.5 693.56 L462 693.65 L462.5 693.74 L462.75 693.79 L463.25 693.87 L463.75 693.95 L464 694.01 L464.5 694.24 L464.75 694.5 L464.89 694.75 L465 695.04 L465.18 695.5 L465.37 695.75 L465.75 695.96 L466 696.01 L466.5 696.12 L466.86 696.25 L467.25 696.48 L467.5 696.74 L467.64 697 L467.7 697.5 L467.54 698 L467.36 698.25 L467.08 698.5 L466.75 698.69 L466.5 698.81 L466.13 699 L465.8 699.25 L465.59 699.5 L465.43 699.75 L465.25 700.01 L465 700.28 L464.74 700.5 L464.35 700.75 L464 700.93 L463.75 701.02 L463.25 701.1 L462.75 701.01 L462.5 700.89 L462.23 700.75 L461.75 700.58 L461.25 700.68 L461 700.81 L460.72 701 L460.36 701.25 L460 701.49 L459.75 701.64 L459.5 701.77ZM458.75 701.01 L458.5 700.99 L458 700.78 L457.75 700.55 L457.53 700.25 L457.36 700 L457.18 699.75 L456.84 699.5 L456.5 699.45 L456.25 699.59 L456 699.9 L455.75 700.25 L455.52 700.5 L455.25 700.74 L455 700.92 L454.75 701.06 L454.25 701.21 L453.75 701.18 L453.32 701 L453 700.77 L452.75 700.53 L452.5 700.27 L452.25 700.03 L452 699.92 L451.58 700 L451.25 700.2 L451 700.4 L450.75 700.59 L450.48 700.75 L450 700.88 L449.5 700.84 L449.18 700.75 L448.75 700.6 L448.5 700.5 L448.03 700.25 L447.75 700.04 L447.5 699.83 L447.25 699.61 L447 699.43 L446.65 699.25 L446.25 699.1 L445.97 699 L445.5 698.76 L445.25 698.59 L445 698.39 L444.75 698.19 L444.47 698 L444 697.82 L443.55 697.75 L443.25 697.73 L442.75 697.65 L442.4 697.5 L442.13 697.25 L441.97 697 L441.86 696.5 L441.95 696 L442.06 695.75 L442.25 695.46 L442.5 695.2 L442.81 695 L443.25 694.85 L443.75 694.8 L444.25 694.84 L444.75 694.99 L445 695.11 L445.25 695.26 L445.61 695.5 L446 695.69 L446.25 695.77 L446.75 695.8 L447.07 695.75 L447.5 695.65 L448 695.53 L448.25 695.49 L448.75 695.46 L449.25 695.49 L449.75 695.47 L450.25 695.27 L450.5 695.07 L450.75 694.84 L451 694.63 L451.25 694.44 L451.59 694.25 L452 694.09 L452.39 694 L452.75 693.95 L453.25 693.92 L453.75 693.93 L454.25 694 L454.5 694.08 L454.86 694.25 L455.25 694.47 L455.5 694.6 L455.89 694.75 L456.25 694.82 L456.75 694.76 L457 694.66 L457.29 694.5 L457.75 694.25 L458 694.16 L458.5 694.12 L458.79 694.25 L459 694.58 L459.19 695 L459.5 695.17 L460 695.08 L460.31 695 L460.75 694.92 L461.25 694.92 L461.75 694.98 L462 695.01 L462.5 695.04 L463 695.06 L463.5 695.16 L463.75 695.32 L464 695.67 L464.13 696 L464.25 696.32 L464.47 696.75 L464.69 697 L465 697.24 L465.25 697.39 L465.62 697.5 L465.49 697.75 L465.24 698 L465 698.3 L464.75 698.68 L464.55 699 L464.37 699.25 L464.16 699.5 L463.86 699.75 L463.5 699.93 L463 699.92 L462.6 699.75 L462.25 699.56 L462 699.45 L461.5 699.41 L461.23 699.5 L460.87 699.75 L460.58 700 L460.3 700.25 L460 700.48 L459.75 700.66 L459.5 700.8 L459 700.98 L458.75 701.01ZM454 700.5 L453.75 700.42 L453.5 700.24 L453.25 699.8 L453.19 699.5 L453.24 699 L453.33 698.75 L453.3 698.25 L453 698.16 L452.5 698.24 L452.25 698.35 L451.98 698.5 L451.57 698.75 L451.25 698.96 L451 699.15 L450.75 699.34 L450.5 699.5 L450 699.69 L449.5 699.67 L449.02 699.5 L448.75 699.35 L448.5 699.17 L448.25 698.98 L447.96 698.75 L447.66 698.5 L447.34 698.25 L447.01 698 L446.75 697.83 L446.5 697.71 L446 697.52 L445.75 697.33 L445.73 697 L446 696.96 L446.49 696.75 L446.75 696.63 L447 696.48 L447.5 696.25 L447.75 696.17 L448.25 696.08 L448.75 696.1 L449.25 696.22 L449.5 696.3 L450 696.35 L450.29 696.25 L450.64 696 L450.9 695.75 L451.14 695.5 L451.41 695.25 L451.75 695.01 L452 694.9 L452.5 694.85 L452.98 695 L453.25 695.15 L453.5 695.28 L454 695.39 L454.5 695.36 L455 695.38 L455.5 695.49 L455.75 695.59 L456.13 695.75 L456.5 696 L456.73 696.25 L456.91 696.5 L457.13 696.75 L457.5 696.96 L457.75 697.02 L458.12 697 L458.5 696.89 L458.75 696.75 L459.17 696.5 L459.5 696.31 L459.75 696.17 L460.1 696 L460.5 695.83 L460.86 695.75 L461.25 695.72 L461.5 695.75 L462 695.87 L462.35 696 L462.75 696.23 L463 696.5 L463.13 696.75 L463.25 697.04 L463.47 697.5 L463.59 697.75 L463.68 698.25 L463.5 698.64 L463.25 698.79 L462.79 698.75 L462.5 698.64 L462 698.54 L461.5 698.6 L461.11 698.75 L460.75 698.94 L460.5 699.11 L460.25 699.29 L459.93 699.5 L459.5 699.72 L459.25 699.79 L458.85 699.75 L458.51 699.5 L458.33 699.25 L458.14 699 L457.88 698.75 L457.5 698.51 L457.25 698.37 L456.98 698.25 L456.5 698.07 L456 698.02 L455.5 698.12 L455.16 698.25 L454.9 698.5 L455 699 L455.07 699.25 L455.06 699.75 L454.96 700 L454.75 700.26 L454.25 700.5 L454 700.5ZM444.5 696.75 L444 696.79 L443.6 696.75 L443.25 696.54 L443.17 696.25 L443.29 696 L443.75 695.83 L444.25 695.99 L444.5 696.22 L444.69 696.5 L444.5 696.75ZM451.75 697.26 L451.49 697.25 L451.37 696.75 L451.5 696.47 L451.75 696.2 L452.25 696.04 L452.74 696.25 L452.93 696.5 L452.75 696.81 L452.46 697 L452 697.19 L451.75 697.26ZM454.75 697.03 L454.45 697 L454.16 696.75 L454.43 696.5 L454.75 696.44 L455.06 696.5 L455 696.97 L454.75 697.03ZM460.5 698.27 L460 698.34 L459.74 698.25 L459.5 697.75 L459.62 697.25 L459.79 697 L460.06 696.75 L460.48 696.5 L460.75 696.42 L461.25 696.42 L461.5 696.52 L461.75 696.75 L461.86 697.25 L461.75 697.53 L461.5 697.79 L461.16 698 L460.75 698.18 L460.5 698.27ZM448.75 697.78 L448.5 697.75 L448.12 697.5 L447.96 697.25 L448.03 697 L448.5 696.91 L448.75 697.01 L449 697.37 L449 697.61 L448.75 697.78Z" fill="none" stroke="#111" stroke-width="0.75" stroke-linejoin="round"/>
<path d="M423 688.5 h3.2 v17 h-3.2z" fill="#222"/>
<path d="M431.2 706h0.6m1.2 -11h0.6m1.4 7.6h0.6m1 -1.4h0.6m5.6 2h0.6m-0.4 1.4h0.6m2.8 -8h0.6m-0.6 0.8h0.6m0.4 7.8h0.6m0 -19.8h0.6m0.2 -0.2h0.6m2.6 15.8h0.6m0.6 -16h0.6m5 25h0.6m3 -1.8h0.6m1.8 0.4h0.6m0.8 -11h0.6m3.8 -6.8h0.6m6.4 2h0.6m0.2 12h0.6m0.2 -3h0.6m1.8 -4.2h0.6m11.8 -13h0.6m0 20.8h0.6m0.2 4.4h0.6m1.8 1.2h0.6m-0 -17.6h0.6m-0.4 -5.4h0.6m0.4 8.2h0.6m2.8 2h0.6" stroke="#555" stroke-width="0.6" fill="none"/>
<text x="418.24" y="680.5" font-size="12.03" font-family='"Liberation Serif", serif' textLength="39.69" lengthAdjust="spacingAndGlyphs" fill="#a82432" stroke="#a82432" stroke-width="0.15">0.297%</text>
<text x="461.97" y="690" font-size="13.16" font-family='"Liberation Serif", serif' textLength="40.97" lengthAdjust="spacingAndGlyphs" fill="#a82432" stroke="#a82432" stroke-width="0.15">0.239%</text>
<line x1="413.8" y1="731.5" x2="413.8" y2="754.5" stroke="#222" stroke-width="1.3"/>
<line x1="413.8" y1="754.5" x2="450.5" y2="754.5" stroke="#222" stroke-width="1.3"/>
<path d="M411.5 732.1 L413.8 727.5 L416.1 732.1Z" fill="#222" stroke="none" stroke-width="0"/>
<path d="M449.9 752.2 L454.5 754.5 L449.9 756.8Z" fill="#222" stroke="none" stroke-width="0"/>
<text x="415.4" y="721.8" font-size="14.96" font-family='"Liberation Serif", serif' textLength="32.87" lengthAdjust="spacing" fill="#111" transform="rotate(-90 415.4 721.8)">c-Kit</text>
<text x="462.09" y="758" font-size="13.31" font-family='"Liberation Serif", serif' textLength="24.89" lengthAdjust="spacingAndGlyphs" fill="#111">Flk2</text>
<rect x="363.7" y="390.2" width="3.2" height="33.7" fill="#c62128"/>
<path d="M360.4 423.4 L370.2 423.4 L365.3 433.2Z" fill="#c62128" stroke="none" stroke-width="0"/>
<rect x="306.2" y="490.4" width="3.2" height="32.6" fill="#c62128"/>
<path d="M302.9 522.5 L312.7 522.5 L307.8 532.3Z" fill="#c62128" stroke="none" stroke-width="0"/>
<rect x="364.3" y="570.2" width="3.2" height="76.5" fill="#c62128"/>
<path d="M361 646.2 L370.8 646.2 L365.9 656Z" fill="#c62128" stroke="none" stroke-width="0"/>
<rect x="497.6" y="391.3" width="3.2" height="32.6" fill="#c62128"/>
<path d="M494.3 423.4 L504.1 423.4 L499.2 433.2Z" fill="#c62128" stroke="none" stroke-width="0"/>
<rect x="438.9" y="489.3" width="3.2" height="33.9" fill="#c62128"/>
<path d="M435.6 522.7 L445.4 522.7 L440.5 532.5Z" fill="#c62128" stroke="none" stroke-width="0"/>
<rect x="498" y="573.5" width="3.2" height="75.2" fill="#c62128"/>
<path d="M494.7 648.2 L504.5 648.2 L499.6 658Z" fill="#c62128" stroke="none" stroke-width="0"/>
</svg></div>
</body></html>
